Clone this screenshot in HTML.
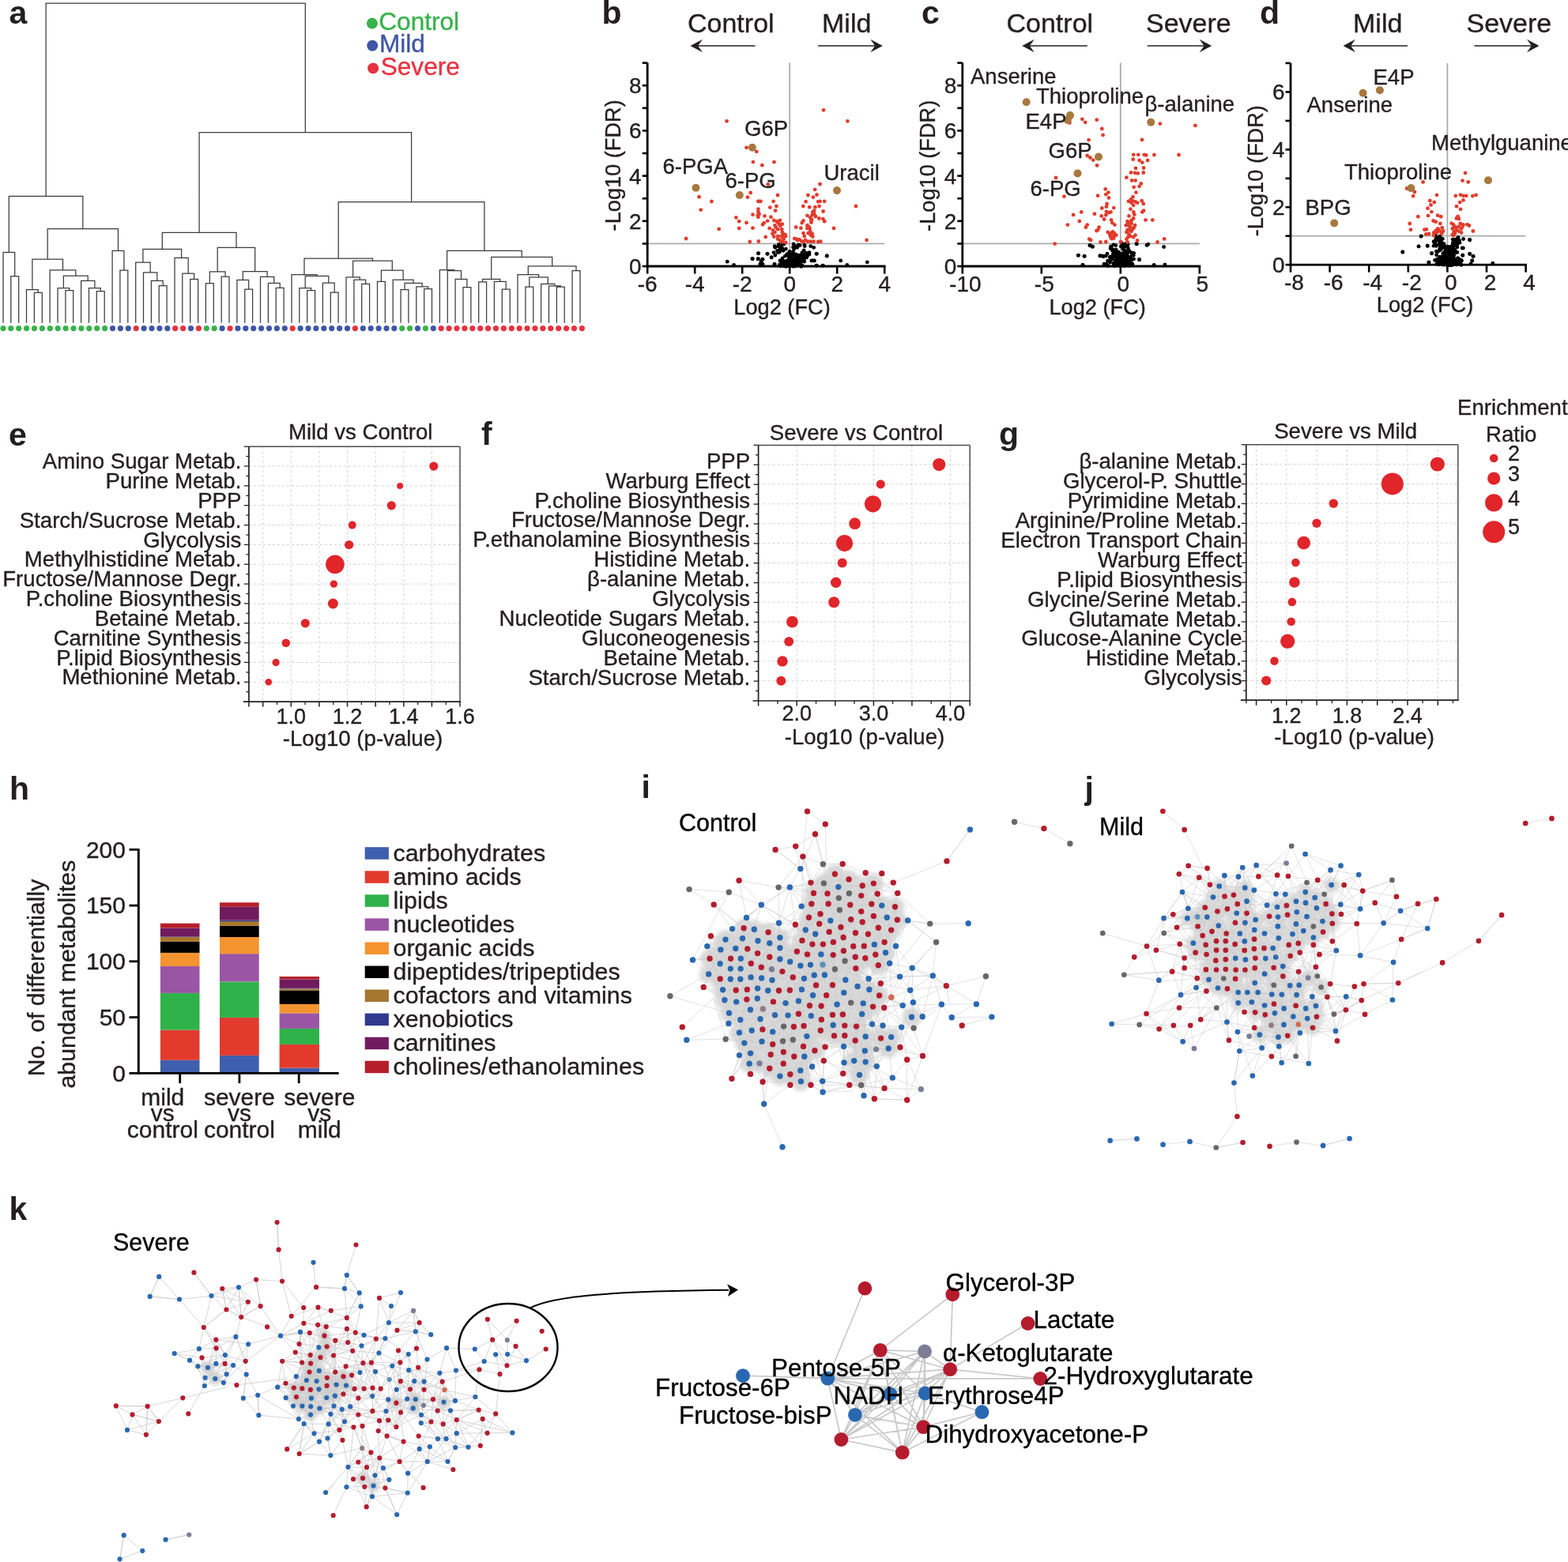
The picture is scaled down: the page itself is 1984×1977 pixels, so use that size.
<!DOCTYPE html>
<html><head><meta charset="utf-8"><title>Figure</title>
<style>html,body{margin:0;padding:0;background:#fff;}svg{display:block;}text{font-family:"Liberation Sans",Arial,sans-serif;}</style>
</head><body>
<svg width="1984" height="1977" viewBox="0 0 1984 1977">
<rect width="1984" height="1977" fill="#fff"/>
<text x="11.5" y="30.2" font-size="41" text-anchor="start" font-weight="bold" fill="#231f20" >a</text>
<path d="M13.8,408.7V349.7H23.7V408.7M4.0,408.7V319.3H18.7V349.7M43.4,408.7V370.4H53.3V408.7M33.5,408.7V366.5H48.3V370.4M82.9,408.7V367.5H92.7V408.7M73.0,408.7V364.7H87.8V367.5M122.3,408.7V368.5H132.2V408.7M112.5,408.7V364.5H127.3V368.5M102.6,408.7V355.4H119.9V364.5M80.4,364.7V349.0H111.2V355.4M63.1,408.7V341.8H95.8V349.0M40.9,366.5V328.2H79.5V341.8M151.9,408.7V342.2H161.8V408.7M142.1,408.7V317.4H156.9V342.2M60.2,328.2V289.7H149.5V317.4M11.3,319.3V248.3H104.8V289.7M201.2,408.7V361.6H211.1V408.7M191.4,408.7V355.4H206.2V361.6M181.5,408.7V344.8H198.8V355.4M171.7,408.7V332.2H190.2V344.8M240.7,408.7V353.4H250.6V408.7M230.8,408.7V346.0H245.6V353.4M221.0,408.7V326.4H238.2V346.0M180.9,332.2V315.4H229.6V326.4M260.4,408.7V358.6H270.3V408.7M280.2,408.7V350.1H290.0V408.7M265.4,358.6V343.8H285.1V350.1M309.8,408.7V366.2H319.6V408.7M299.9,408.7V354.4H314.7V366.2M349.2,408.7V364.3H359.1V408.7M339.4,408.7V358.3H354.2V364.3M329.5,408.7V350.4H346.8V358.3M307.3,354.4V343.5H338.1V350.4M275.2,343.8V313.4H322.7V343.5M205.3,315.4V294.4H299.0V313.4M388.7,408.7V367.7H398.6V408.7M378.8,408.7V364.7H393.6V367.7M418.3,408.7V370.0H428.1V408.7M408.4,408.7V358.1H423.2V370.0M386.2,364.7V349.4H415.8V358.1M369.0,408.7V347.5H401.0V349.4M457.7,408.7V359.3H467.6V408.7M447.9,408.7V354.2H462.7V359.3M438.0,408.7V350.9H455.3V354.2M477.5,408.7V356.4H487.3V408.7M507.1,408.7V366.7H516.9V408.7M536.7,408.7V365.7H546.5V408.7M526.8,408.7V362.8H541.6V365.7M512.0,366.7V358.3H534.2V362.8M497.2,408.7V354.2H523.1V358.3M482.4,356.4V342.0H510.1V354.2M446.6,350.9V330.2H496.3V342.0M385.0,347.5V327.2H471.5V330.2M586.0,408.7V363.5H595.9V408.7M576.1,408.7V353.4H590.9V363.5M566.3,408.7V342.5H583.5V353.4M556.4,408.7V341.5H574.9V342.5M605.7,408.7V356.8H615.6V408.7M635.3,408.7V366.2H645.2V408.7M625.4,408.7V356.4H640.2V366.2M610.6,356.8V353.4H632.8V356.4M664.9,408.7V363.0H674.8V408.7M704.4,408.7V363.1H714.2V408.7M694.5,408.7V361.8H709.3V363.1M684.6,408.7V359.3H701.9V361.8M669.8,363.0V350.9H693.3V359.3M655.0,408.7V347.5H681.6V350.9M724.1,408.7V342.5H734.0V408.7M668.3,347.5V336.8H729.0V342.5M621.7,353.4V325.3H698.7V336.8M565.6,341.5V317.4H660.2V325.3M428.2,327.2V255.6H612.9V317.4M252.1,294.4V167.7H520.6V255.6M58.1,248.3V4.2H386.3V167.7" fill="none" stroke="#3c3c3c" stroke-width="1.25" stroke-linejoin="miter"/>
<circle cx="4.0" cy="415.6" r="3.6" fill="#37b34a"/>
<circle cx="13.8" cy="415.6" r="3.6" fill="#37b34a"/>
<circle cx="23.7" cy="415.6" r="3.6" fill="#37b34a"/>
<circle cx="33.6" cy="415.6" r="3.6" fill="#37b34a"/>
<circle cx="43.5" cy="415.6" r="3.6" fill="#37b34a"/>
<circle cx="53.4" cy="415.6" r="3.6" fill="#37b34a"/>
<circle cx="63.3" cy="415.6" r="3.6" fill="#37b34a"/>
<circle cx="73.2" cy="415.6" r="3.6" fill="#37b34a"/>
<circle cx="83.1" cy="415.6" r="3.6" fill="#37b34a"/>
<circle cx="93.0" cy="415.6" r="3.6" fill="#37b34a"/>
<circle cx="102.9" cy="415.6" r="3.6" fill="#37b34a"/>
<circle cx="112.8" cy="415.6" r="3.6" fill="#37b34a"/>
<circle cx="122.7" cy="415.6" r="3.6" fill="#37b34a"/>
<circle cx="132.6" cy="415.6" r="3.6" fill="#37b34a"/>
<circle cx="142.5" cy="415.6" r="3.6" fill="#3f56a6"/>
<circle cx="152.4" cy="415.6" r="3.6" fill="#3f56a6"/>
<circle cx="162.3" cy="415.6" r="3.6" fill="#3f56a6"/>
<circle cx="172.2" cy="415.6" r="3.6" fill="#e8323f"/>
<circle cx="182.1" cy="415.6" r="3.6" fill="#3f56a6"/>
<circle cx="192.0" cy="415.6" r="3.6" fill="#3f56a6"/>
<circle cx="201.9" cy="415.6" r="3.6" fill="#3f56a6"/>
<circle cx="211.8" cy="415.6" r="3.6" fill="#3f56a6"/>
<circle cx="221.7" cy="415.6" r="3.6" fill="#e8323f"/>
<circle cx="231.6" cy="415.6" r="3.6" fill="#e8323f"/>
<circle cx="241.5" cy="415.6" r="3.6" fill="#3f56a6"/>
<circle cx="251.4" cy="415.6" r="3.6" fill="#e8323f"/>
<circle cx="261.3" cy="415.6" r="3.6" fill="#37b34a"/>
<circle cx="271.2" cy="415.6" r="3.6" fill="#37b34a"/>
<circle cx="281.1" cy="415.6" r="3.6" fill="#3f56a6"/>
<circle cx="291.0" cy="415.6" r="3.6" fill="#e8323f"/>
<circle cx="300.9" cy="415.6" r="3.6" fill="#3f56a6"/>
<circle cx="310.8" cy="415.6" r="3.6" fill="#3f56a6"/>
<circle cx="320.7" cy="415.6" r="3.6" fill="#3f56a6"/>
<circle cx="330.6" cy="415.6" r="3.6" fill="#3f56a6"/>
<circle cx="340.5" cy="415.6" r="3.6" fill="#3f56a6"/>
<circle cx="350.4" cy="415.6" r="3.6" fill="#3f56a6"/>
<circle cx="360.3" cy="415.6" r="3.6" fill="#3f56a6"/>
<circle cx="370.2" cy="415.6" r="3.6" fill="#e8323f"/>
<circle cx="380.1" cy="415.6" r="3.6" fill="#3f56a6"/>
<circle cx="390.0" cy="415.6" r="3.6" fill="#3f56a6"/>
<circle cx="399.9" cy="415.6" r="3.6" fill="#3f56a6"/>
<circle cx="409.8" cy="415.6" r="3.6" fill="#3f56a6"/>
<circle cx="419.7" cy="415.6" r="3.6" fill="#3f56a6"/>
<circle cx="429.6" cy="415.6" r="3.6" fill="#3f56a6"/>
<circle cx="439.5" cy="415.6" r="3.6" fill="#3f56a6"/>
<circle cx="449.4" cy="415.6" r="3.6" fill="#e8323f"/>
<circle cx="459.3" cy="415.6" r="3.6" fill="#3f56a6"/>
<circle cx="469.2" cy="415.6" r="3.6" fill="#3f56a6"/>
<circle cx="479.1" cy="415.6" r="3.6" fill="#3f56a6"/>
<circle cx="489.0" cy="415.6" r="3.6" fill="#3f56a6"/>
<circle cx="498.8" cy="415.6" r="3.6" fill="#3f56a6"/>
<circle cx="508.7" cy="415.6" r="3.6" fill="#37b34a"/>
<circle cx="518.6" cy="415.6" r="3.6" fill="#37b34a"/>
<circle cx="528.5" cy="415.6" r="3.6" fill="#3f56a6"/>
<circle cx="538.4" cy="415.6" r="3.6" fill="#37b34a"/>
<circle cx="548.3" cy="415.6" r="3.6" fill="#3f56a6"/>
<circle cx="558.2" cy="415.6" r="3.6" fill="#e8323f"/>
<circle cx="568.1" cy="415.6" r="3.6" fill="#e8323f"/>
<circle cx="578.0" cy="415.6" r="3.6" fill="#e8323f"/>
<circle cx="587.9" cy="415.6" r="3.6" fill="#e8323f"/>
<circle cx="597.8" cy="415.6" r="3.6" fill="#e8323f"/>
<circle cx="607.7" cy="415.6" r="3.6" fill="#e8323f"/>
<circle cx="617.6" cy="415.6" r="3.6" fill="#e8323f"/>
<circle cx="627.5" cy="415.6" r="3.6" fill="#e8323f"/>
<circle cx="637.4" cy="415.6" r="3.6" fill="#e8323f"/>
<circle cx="647.3" cy="415.6" r="3.6" fill="#e8323f"/>
<circle cx="657.2" cy="415.6" r="3.6" fill="#e8323f"/>
<circle cx="667.1" cy="415.6" r="3.6" fill="#e8323f"/>
<circle cx="677.0" cy="415.6" r="3.6" fill="#e8323f"/>
<circle cx="686.9" cy="415.6" r="3.6" fill="#e8323f"/>
<circle cx="696.8" cy="415.6" r="3.6" fill="#e8323f"/>
<circle cx="706.7" cy="415.6" r="3.6" fill="#e8323f"/>
<circle cx="716.6" cy="415.6" r="3.6" fill="#e8323f"/>
<circle cx="726.5" cy="415.6" r="3.6" fill="#e8323f"/>
<circle cx="736.4" cy="415.6" r="3.6" fill="#e8323f"/>
<circle cx="470.9" cy="29.6" r="7.0" fill="#37b34a"/>
<text x="479.3" y="37.7" font-size="31.6" text-anchor="start" font-weight="normal" fill="#37b34a" stroke="#37b34a" stroke-width="0.35" >Control</text>
<circle cx="471.2" cy="57.8" r="7.0" fill="#3f56a6"/>
<text x="479.9" y="66.2" font-size="31.6" text-anchor="start" font-weight="normal" fill="#3f56a6" stroke="#3f56a6" stroke-width="0.35" >Mild</text>
<circle cx="472.1" cy="86.4" r="7.0" fill="#e8323f"/>
<text x="481.7" y="95.4" font-size="31.6" text-anchor="start" font-weight="normal" fill="#e8323f" stroke="#e8323f" stroke-width="0.35" >Severe</text>
<line x1="999.2" y1="79.6" x2="999.2" y2="337.0" stroke="#ababab" stroke-width="1.8" />
<line x1="819.2" y1="308.4" x2="1119.2" y2="308.4" stroke="#ababab" stroke-width="1.8" />
<circle cx="959.7" cy="320.8" r="2.4" fill="#000"/>
<circle cx="971.1" cy="321.3" r="2.4" fill="#000"/>
<circle cx="952.3" cy="327.6" r="2.4" fill="#000"/>
<circle cx="959.1" cy="327.9" r="2.4" fill="#000"/>
<circle cx="964.8" cy="328.2" r="2.4" fill="#000"/>
<circle cx="963.4" cy="333.3" r="2.4" fill="#000"/>
<circle cx="963.7" cy="335.6" r="2.4" fill="#000"/>
<circle cx="980.2" cy="311.6" r="2.4" fill="#000"/>
<circle cx="980.8" cy="313.3" r="2.4" fill="#000"/>
<circle cx="985.3" cy="309.4" r="2.4" fill="#000"/>
<circle cx="986.4" cy="312.8" r="2.4" fill="#000"/>
<circle cx="989.9" cy="308.8" r="2.4" fill="#000"/>
<circle cx="992.1" cy="308.8" r="2.4" fill="#000"/>
<circle cx="987.0" cy="316.2" r="2.4" fill="#000"/>
<circle cx="986.4" cy="319.0" r="2.4" fill="#000"/>
<circle cx="989.9" cy="314.5" r="2.4" fill="#000"/>
<circle cx="994.4" cy="315.1" r="2.4" fill="#000"/>
<circle cx="979.0" cy="319.6" r="2.4" fill="#000"/>
<circle cx="980.8" cy="323.0" r="2.4" fill="#000"/>
<circle cx="976.2" cy="325.9" r="2.4" fill="#000"/>
<circle cx="980.2" cy="334.4" r="2.4" fill="#000"/>
<circle cx="987.0" cy="329.9" r="2.4" fill="#000"/>
<circle cx="986.4" cy="335.0" r="2.4" fill="#000"/>
<circle cx="987.6" cy="336.7" r="2.4" fill="#000"/>
<circle cx="989.9" cy="327.0" r="2.4" fill="#000"/>
<circle cx="993.3" cy="324.2" r="2.4" fill="#000"/>
<circle cx="995.6" cy="321.9" r="2.4" fill="#000"/>
<circle cx="997.3" cy="320.8" r="2.4" fill="#000"/>
<circle cx="995.6" cy="329.9" r="2.4" fill="#000"/>
<circle cx="998.4" cy="327.0" r="2.4" fill="#000"/>
<circle cx="1001.3" cy="325.3" r="2.4" fill="#000"/>
<circle cx="1000.1" cy="331.0" r="2.4" fill="#000"/>
<circle cx="997.8" cy="334.4" r="2.4" fill="#000"/>
<circle cx="1001.3" cy="335.6" r="2.4" fill="#000"/>
<circle cx="1003.5" cy="333.3" r="2.4" fill="#000"/>
<circle cx="1004.7" cy="329.9" r="2.4" fill="#000"/>
<circle cx="1005.8" cy="326.4" r="2.4" fill="#000"/>
<circle cx="1004.7" cy="321.9" r="2.4" fill="#000"/>
<circle cx="1003.5" cy="318.5" r="2.4" fill="#000"/>
<circle cx="1004.7" cy="315.1" r="2.4" fill="#000"/>
<circle cx="1003.5" cy="312.8" r="2.4" fill="#000"/>
<circle cx="1004.1" cy="308.8" r="2.4" fill="#000"/>
<circle cx="1006.9" cy="311.6" r="2.4" fill="#000"/>
<circle cx="1008.7" cy="313.3" r="2.4" fill="#000"/>
<circle cx="1010.4" cy="309.9" r="2.4" fill="#000"/>
<circle cx="1012.1" cy="310.5" r="2.4" fill="#000"/>
<circle cx="1017.8" cy="309.9" r="2.4" fill="#000"/>
<circle cx="1018.3" cy="311.6" r="2.4" fill="#000"/>
<circle cx="1025.7" cy="311.6" r="2.4" fill="#000"/>
<circle cx="1029.7" cy="313.3" r="2.4" fill="#000"/>
<circle cx="1006.9" cy="321.9" r="2.4" fill="#000"/>
<circle cx="1009.2" cy="323.0" r="2.4" fill="#000"/>
<circle cx="1012.6" cy="323.0" r="2.4" fill="#000"/>
<circle cx="1014.9" cy="319.6" r="2.4" fill="#000"/>
<circle cx="1017.2" cy="316.8" r="2.4" fill="#000"/>
<circle cx="1020.0" cy="320.2" r="2.4" fill="#000"/>
<circle cx="1024.0" cy="319.6" r="2.4" fill="#000"/>
<circle cx="1024.0" cy="321.9" r="2.4" fill="#000"/>
<circle cx="1018.3" cy="324.7" r="2.4" fill="#000"/>
<circle cx="1020.6" cy="325.9" r="2.4" fill="#000"/>
<circle cx="1017.2" cy="328.7" r="2.4" fill="#000"/>
<circle cx="1014.9" cy="329.9" r="2.4" fill="#000"/>
<circle cx="1017.8" cy="331.0" r="2.4" fill="#000"/>
<circle cx="1026.9" cy="329.9" r="2.4" fill="#000"/>
<circle cx="1030.3" cy="329.9" r="2.4" fill="#000"/>
<circle cx="1033.1" cy="321.3" r="2.4" fill="#000"/>
<circle cx="1046.2" cy="324.2" r="2.4" fill="#000"/>
<circle cx="1008.1" cy="331.0" r="2.4" fill="#000"/>
<circle cx="1010.4" cy="333.3" r="2.4" fill="#000"/>
<circle cx="1012.6" cy="335.6" r="2.4" fill="#000"/>
<circle cx="1013.8" cy="337.3" r="2.4" fill="#000"/>
<circle cx="1033.1" cy="336.1" r="2.4" fill="#000"/>
<circle cx="1041.1" cy="336.1" r="2.4" fill="#000"/>
<circle cx="993.3" cy="335.0" r="2.4" fill="#000"/>
<circle cx="996.7" cy="336.7" r="2.4" fill="#000"/>
<circle cx="1006.4" cy="336.7" r="2.4" fill="#000"/>
<circle cx="1004.1" cy="337.3" r="2.4" fill="#000"/>
<circle cx="999.0" cy="318.5" r="2.4" fill="#000"/>
<circle cx="984.7" cy="311.6" r="2.4" fill="#000"/>
<circle cx="988.7" cy="311.6" r="2.4" fill="#000"/>
<circle cx="991.0" cy="317.3" r="2.4" fill="#000"/>
<circle cx="983.6" cy="317.3" r="2.4" fill="#000"/>
<circle cx="984.2" cy="319.6" r="2.4" fill="#000"/>
<circle cx="999.5" cy="321.9" r="2.4" fill="#000"/>
<circle cx="1001.3" cy="321.9" r="2.4" fill="#000"/>
<circle cx="997.8" cy="324.2" r="2.4" fill="#000"/>
<circle cx="1000.1" cy="324.2" r="2.4" fill="#000"/>
<circle cx="1002.4" cy="327.6" r="2.4" fill="#000"/>
<circle cx="999.0" cy="329.9" r="2.4" fill="#000"/>
<circle cx="996.7" cy="332.1" r="2.4" fill="#000"/>
<circle cx="993.3" cy="332.1" r="2.4" fill="#000"/>
<circle cx="991.0" cy="329.9" r="2.4" fill="#000"/>
<circle cx="989.3" cy="332.1" r="2.4" fill="#000"/>
<circle cx="989.9" cy="335.0" r="2.4" fill="#000"/>
<circle cx="1000.1" cy="333.3" r="2.4" fill="#000"/>
<circle cx="1006.9" cy="333.3" r="2.4" fill="#000"/>
<circle cx="1009.2" cy="331.0" r="2.4" fill="#000"/>
<circle cx="1006.9" cy="328.7" r="2.4" fill="#000"/>
<circle cx="1008.1" cy="326.4" r="2.4" fill="#000"/>
<circle cx="1010.4" cy="325.3" r="2.4" fill="#000"/>
<circle cx="1012.6" cy="326.4" r="2.4" fill="#000"/>
<circle cx="1016.1" cy="321.9" r="2.4" fill="#000"/>
<circle cx="1018.3" cy="321.9" r="2.4" fill="#000"/>
<circle cx="1021.8" cy="323.6" r="2.4" fill="#000"/>
<circle cx="1015.5" cy="326.4" r="2.4" fill="#000"/>
<circle cx="1013.8" cy="331.0" r="2.4" fill="#000"/>
<circle cx="1011.5" cy="329.9" r="2.4" fill="#000"/>
<circle cx="1007.5" cy="335.6" r="2.4" fill="#000"/>
<circle cx="1004.7" cy="335.6" r="2.4" fill="#000"/>
<circle cx="1002.4" cy="336.7" r="2.4" fill="#000"/>
<circle cx="1009.8" cy="336.1" r="2.4" fill="#000"/>
<circle cx="1011.5" cy="335.0" r="2.4" fill="#000"/>
<circle cx="1005.8" cy="324.2" r="2.4" fill="#000"/>
<circle cx="1010.4" cy="328.2" r="2.4" fill="#000"/>
<circle cx="1002.4" cy="329.9" r="2.4" fill="#000"/>
<circle cx="994.4" cy="337.3" r="2.4" fill="#000"/>
<circle cx="992.1" cy="336.7" r="2.4" fill="#000"/>
<circle cx="1014.9" cy="335.6" r="2.4" fill="#000"/>
<circle cx="920.2" cy="331.2" r="2.4" fill="#000"/>
<circle cx="928.6" cy="335.5" r="2.4" fill="#000"/>
<circle cx="951.9" cy="327.5" r="2.4" fill="#000"/>
<circle cx="959.4" cy="320.6" r="2.4" fill="#000"/>
<circle cx="959.4" cy="327.5" r="2.4" fill="#000"/>
<circle cx="965.0" cy="328.1" r="2.4" fill="#000"/>
<circle cx="970.9" cy="321.2" r="2.4" fill="#000"/>
<circle cx="976.1" cy="325.6" r="2.4" fill="#000"/>
<circle cx="979.9" cy="334.3" r="2.4" fill="#000"/>
<circle cx="1033.3" cy="321.2" r="2.4" fill="#000"/>
<circle cx="1046.3" cy="323.7" r="2.4" fill="#000"/>
<circle cx="1063.7" cy="329.9" r="2.4" fill="#000"/>
<circle cx="1071.8" cy="335.5" r="2.4" fill="#000"/>
<circle cx="1097.3" cy="331.8" r="2.4" fill="#000"/>
<circle cx="1033.3" cy="336.1" r="2.4" fill="#000"/>
<circle cx="1041.4" cy="336.1" r="2.4" fill="#000"/>
<circle cx="1027.7" cy="329.9" r="2.4" fill="#000"/>
<circle cx="1030.2" cy="329.9" r="2.4" fill="#000"/>
<circle cx="961.9" cy="334.3" r="2.4" fill="#000"/>
<circle cx="965.0" cy="334.3" r="2.4" fill="#000"/>
<circle cx="963.1" cy="331.2" r="2.4" fill="#000"/>
<circle cx="919.6" cy="153.3" r="2.4" fill="#e23b2c"/>
<circle cx="1042.0" cy="139.3" r="2.4" fill="#e23b2c"/>
<circle cx="1072.4" cy="153.3" r="2.4" fill="#e23b2c"/>
<circle cx="944.5" cy="186.8" r="2.4" fill="#e23b2c"/>
<circle cx="957.3" cy="191.8" r="2.4" fill="#e23b2c"/>
<circle cx="952.9" cy="205.1" r="2.4" fill="#e23b2c"/>
<circle cx="964.3" cy="209.2" r="2.4" fill="#e23b2c"/>
<circle cx="979.5" cy="205.1" r="2.4" fill="#e23b2c"/>
<circle cx="971.8" cy="233.3" r="2.4" fill="#e23b2c"/>
<circle cx="949.7" cy="243.9" r="2.4" fill="#e23b2c"/>
<circle cx="946.0" cy="249.6" r="2.4" fill="#e23b2c"/>
<circle cx="884.6" cy="249.2" r="2.4" fill="#e23b2c"/>
<circle cx="900.4" cy="255.0" r="2.4" fill="#e23b2c"/>
<circle cx="886.7" cy="265.6" r="2.4" fill="#e23b2c"/>
<circle cx="984.0" cy="247.0" r="2.4" fill="#e23b2c"/>
<circle cx="1037.6" cy="233.0" r="2.4" fill="#e23b2c"/>
<circle cx="1031.1" cy="239.9" r="2.4" fill="#e23b2c"/>
<circle cx="1033.5" cy="246.5" r="2.4" fill="#e23b2c"/>
<circle cx="1022.4" cy="247.0" r="2.4" fill="#e23b2c"/>
<circle cx="1028.9" cy="249.6" r="2.4" fill="#e23b2c"/>
<circle cx="959.4" cy="254.8" r="2.4" fill="#e23b2c"/>
<circle cx="962.5" cy="254.8" r="2.4" fill="#e23b2c"/>
<circle cx="978.6" cy="254.8" r="2.4" fill="#e23b2c"/>
<circle cx="1019.6" cy="255.2" r="2.4" fill="#e23b2c"/>
<circle cx="1035.2" cy="255.2" r="2.4" fill="#e23b2c"/>
<circle cx="1037.6" cy="254.8" r="2.4" fill="#e23b2c"/>
<circle cx="1043.2" cy="254.8" r="2.4" fill="#e23b2c"/>
<circle cx="974.3" cy="262.6" r="2.4" fill="#e23b2c"/>
<circle cx="982.4" cy="261.0" r="2.4" fill="#e23b2c"/>
<circle cx="981.1" cy="266.6" r="2.4" fill="#e23b2c"/>
<circle cx="1016.3" cy="261.0" r="2.4" fill="#e23b2c"/>
<circle cx="1024.2" cy="262.2" r="2.4" fill="#e23b2c"/>
<circle cx="1031.4" cy="262.2" r="2.4" fill="#e23b2c"/>
<circle cx="1036.6" cy="261.0" r="2.4" fill="#e23b2c"/>
<circle cx="1083.0" cy="261.0" r="2.4" fill="#e23b2c"/>
<circle cx="1041.6" cy="267.5" r="2.4" fill="#e23b2c"/>
<circle cx="959.4" cy="264.7" r="2.4" fill="#e23b2c"/>
<circle cx="959.4" cy="268.4" r="2.4" fill="#e23b2c"/>
<circle cx="952.5" cy="271.6" r="2.4" fill="#e23b2c"/>
<circle cx="967.5" cy="273.4" r="2.4" fill="#e23b2c"/>
<circle cx="975.5" cy="274.7" r="2.4" fill="#e23b2c"/>
<circle cx="959.4" cy="274.7" r="2.4" fill="#e23b2c"/>
<circle cx="931.4" cy="275.3" r="2.4" fill="#e23b2c"/>
<circle cx="1021.5" cy="272.8" r="2.4" fill="#e23b2c"/>
<circle cx="1027.7" cy="272.2" r="2.4" fill="#e23b2c"/>
<circle cx="1030.2" cy="270.3" r="2.4" fill="#e23b2c"/>
<circle cx="1032.0" cy="274.0" r="2.4" fill="#e23b2c"/>
<circle cx="1036.4" cy="276.5" r="2.4" fill="#e23b2c"/>
<circle cx="1041.4" cy="277.1" r="2.4" fill="#e23b2c"/>
<circle cx="1043.2" cy="280.2" r="2.4" fill="#e23b2c"/>
<circle cx="935.2" cy="280.2" r="2.4" fill="#e23b2c"/>
<circle cx="944.5" cy="281.9" r="2.4" fill="#e23b2c"/>
<circle cx="971.2" cy="279.6" r="2.4" fill="#e23b2c"/>
<circle cx="966.8" cy="282.1" r="2.4" fill="#e23b2c"/>
<circle cx="965.0" cy="284.2" r="2.4" fill="#e23b2c"/>
<circle cx="979.3" cy="279.0" r="2.4" fill="#e23b2c"/>
<circle cx="984.2" cy="281.5" r="2.4" fill="#e23b2c"/>
<circle cx="987.0" cy="278.8" r="2.4" fill="#e23b2c"/>
<circle cx="989.8" cy="283.7" r="2.4" fill="#e23b2c"/>
<circle cx="1016.5" cy="279.3" r="2.4" fill="#e23b2c"/>
<circle cx="1014.7" cy="282.1" r="2.4" fill="#e23b2c"/>
<circle cx="1027.1" cy="277.8" r="2.4" fill="#e23b2c"/>
<circle cx="1026.5" cy="281.5" r="2.4" fill="#e23b2c"/>
<circle cx="909.7" cy="289.9" r="2.4" fill="#e23b2c"/>
<circle cx="935.2" cy="288.9" r="2.4" fill="#e23b2c"/>
<circle cx="952.5" cy="288.7" r="2.4" fill="#e23b2c"/>
<circle cx="973.7" cy="288.9" r="2.4" fill="#e23b2c"/>
<circle cx="980.5" cy="285.2" r="2.4" fill="#e23b2c"/>
<circle cx="984.2" cy="290.2" r="2.4" fill="#e23b2c"/>
<circle cx="987.3" cy="285.8" r="2.4" fill="#e23b2c"/>
<circle cx="1007.2" cy="287.5" r="2.4" fill="#e23b2c"/>
<circle cx="1013.4" cy="288.7" r="2.4" fill="#e23b2c"/>
<circle cx="1021.5" cy="288.9" r="2.4" fill="#e23b2c"/>
<circle cx="1024.6" cy="288.9" r="2.4" fill="#e23b2c"/>
<circle cx="1055.0" cy="288.9" r="2.4" fill="#e23b2c"/>
<circle cx="977.4" cy="295.8" r="2.4" fill="#e23b2c"/>
<circle cx="980.5" cy="293.9" r="2.4" fill="#e23b2c"/>
<circle cx="989.8" cy="293.9" r="2.4" fill="#e23b2c"/>
<circle cx="993.5" cy="297.0" r="2.4" fill="#e23b2c"/>
<circle cx="1016.5" cy="295.2" r="2.4" fill="#e23b2c"/>
<circle cx="1022.7" cy="295.2" r="2.4" fill="#e23b2c"/>
<circle cx="1027.7" cy="295.8" r="2.4" fill="#e23b2c"/>
<circle cx="968.7" cy="299.9" r="2.4" fill="#e23b2c"/>
<circle cx="979.3" cy="299.5" r="2.4" fill="#e23b2c"/>
<circle cx="984.2" cy="298.9" r="2.4" fill="#e23b2c"/>
<circle cx="990.4" cy="300.1" r="2.4" fill="#e23b2c"/>
<circle cx="994.2" cy="298.9" r="2.4" fill="#e23b2c"/>
<circle cx="1017.8" cy="298.9" r="2.4" fill="#e23b2c"/>
<circle cx="1028.3" cy="299.5" r="2.4" fill="#e23b2c"/>
<circle cx="868.1" cy="302.0" r="2.4" fill="#e23b2c"/>
<circle cx="948.8" cy="306.0" r="2.4" fill="#e23b2c"/>
<circle cx="959.8" cy="305.5" r="2.4" fill="#e23b2c"/>
<circle cx="986.7" cy="303.9" r="2.4" fill="#e23b2c"/>
<circle cx="991.7" cy="302.6" r="2.4" fill="#e23b2c"/>
<circle cx="994.2" cy="307.0" r="2.4" fill="#e23b2c"/>
<circle cx="1005.3" cy="302.0" r="2.4" fill="#e23b2c"/>
<circle cx="1009.1" cy="303.9" r="2.4" fill="#e23b2c"/>
<circle cx="1011.6" cy="303.2" r="2.4" fill="#e23b2c"/>
<circle cx="1016.5" cy="306.3" r="2.4" fill="#e23b2c"/>
<circle cx="1022.1" cy="305.7" r="2.4" fill="#e23b2c"/>
<circle cx="1025.8" cy="305.7" r="2.4" fill="#e23b2c"/>
<circle cx="1029.6" cy="305.7" r="2.4" fill="#e23b2c"/>
<circle cx="1035.2" cy="306.0" r="2.4" fill="#e23b2c"/>
<circle cx="1038.3" cy="305.7" r="2.4" fill="#e23b2c"/>
<circle cx="1096.6" cy="303.9" r="2.4" fill="#e23b2c"/>
<circle cx="960.6" cy="254.8" r="2.4" fill="#e23b2c"/>
<circle cx="1030.2" cy="266.6" r="2.4" fill="#e23b2c"/>
<circle cx="1028.3" cy="268.4" r="2.4" fill="#e23b2c"/>
<circle cx="1025.2" cy="275.3" r="2.4" fill="#e23b2c"/>
<circle cx="1026.5" cy="279.0" r="2.4" fill="#e23b2c"/>
<circle cx="1021.5" cy="285.2" r="2.4" fill="#e23b2c"/>
<circle cx="1023.4" cy="287.1" r="2.4" fill="#e23b2c"/>
<circle cx="1025.2" cy="292.7" r="2.4" fill="#e23b2c"/>
<circle cx="1025.8" cy="297.6" r="2.4" fill="#e23b2c"/>
<circle cx="983.0" cy="280.2" r="2.4" fill="#e23b2c"/>
<circle cx="986.1" cy="284.0" r="2.4" fill="#e23b2c"/>
<circle cx="981.7" cy="287.7" r="2.4" fill="#e23b2c"/>
<circle cx="978.0" cy="291.4" r="2.4" fill="#e23b2c"/>
<circle cx="989.2" cy="290.2" r="2.4" fill="#e23b2c"/>
<circle cx="991.1" cy="296.4" r="2.4" fill="#e23b2c"/>
<circle cx="988.6" cy="298.9" r="2.4" fill="#e23b2c"/>
<circle cx="984.2" cy="302.6" r="2.4" fill="#e23b2c"/>
<circle cx="988.0" cy="305.1" r="2.4" fill="#e23b2c"/>
<circle cx="990.4" cy="306.3" r="2.4" fill="#e23b2c"/>
<circle cx="1007.8" cy="302.6" r="2.4" fill="#e23b2c"/>
<circle cx="1014.0" cy="305.1" r="2.4" fill="#e23b2c"/>
<circle cx="1019.0" cy="303.9" r="2.4" fill="#e23b2c"/>
<circle cx="958.8" cy="272.8" r="2.4" fill="#e23b2c"/>
<circle cx="960.6" cy="270.9" r="2.4" fill="#e23b2c"/>
<circle cx="951.9" cy="186.8" r="5.0" fill="#a8783e"/>
<circle cx="880.5" cy="237.8" r="5.0" fill="#a8783e"/>
<circle cx="935.8" cy="247.0" r="5.0" fill="#a8783e"/>
<circle cx="1059.0" cy="241.1" r="5.0" fill="#a8783e"/>
<line x1="819.2" y1="79.6" x2="819.2" y2="338.4" stroke="#000" stroke-width="2.8" />
<line x1="817.8" y1="337.0" x2="1120.6" y2="337.0" stroke="#000" stroke-width="2.8" />
<line x1="812.7" y1="337.0" x2="819.2" y2="337.0" stroke="#000" stroke-width="2.6" />
<line x1="812.7" y1="308.4" x2="819.2" y2="308.4" stroke="#000" stroke-width="2.6" />
<line x1="812.7" y1="279.8" x2="819.2" y2="279.8" stroke="#000" stroke-width="2.6" />
<line x1="812.7" y1="251.2" x2="819.2" y2="251.2" stroke="#000" stroke-width="2.6" />
<line x1="812.7" y1="222.6" x2="819.2" y2="222.6" stroke="#000" stroke-width="2.6" />
<line x1="812.7" y1="194.0" x2="819.2" y2="194.0" stroke="#000" stroke-width="2.6" />
<line x1="812.7" y1="165.4" x2="819.2" y2="165.4" stroke="#000" stroke-width="2.6" />
<line x1="812.7" y1="136.8" x2="819.2" y2="136.8" stroke="#000" stroke-width="2.6" />
<line x1="812.7" y1="108.2" x2="819.2" y2="108.2" stroke="#000" stroke-width="2.6" />
<line x1="812.7" y1="79.6" x2="819.2" y2="79.6" stroke="#000" stroke-width="2.6" />
<text x="811.7" y="347.0" font-size="28" text-anchor="end" font-weight="normal" fill="#231f20" stroke="#231f20" stroke-width="0.35" >0</text>
<text x="811.7" y="289.8" font-size="28" text-anchor="end" font-weight="normal" fill="#231f20" stroke="#231f20" stroke-width="0.35" >2</text>
<text x="811.7" y="232.6" font-size="28" text-anchor="end" font-weight="normal" fill="#231f20" stroke="#231f20" stroke-width="0.35" >4</text>
<text x="811.7" y="175.4" font-size="28" text-anchor="end" font-weight="normal" fill="#231f20" stroke="#231f20" stroke-width="0.35" >6</text>
<text x="811.7" y="118.2" font-size="28" text-anchor="end" font-weight="normal" fill="#231f20" stroke="#231f20" stroke-width="0.35" >8</text>
<line x1="819.2" y1="337.0" x2="819.2" y2="346.5" stroke="#000" stroke-width="2.6" />
<text x="819.2" y="368.5" font-size="28" text-anchor="middle" font-weight="normal" fill="#231f20" stroke="#231f20" stroke-width="0.35" >-6</text>
<line x1="879.2" y1="337.0" x2="879.2" y2="346.5" stroke="#000" stroke-width="2.6" />
<text x="879.2" y="368.5" font-size="28" text-anchor="middle" font-weight="normal" fill="#231f20" stroke="#231f20" stroke-width="0.35" >-4</text>
<line x1="939.2" y1="337.0" x2="939.2" y2="346.5" stroke="#000" stroke-width="2.6" />
<text x="939.2" y="368.5" font-size="28" text-anchor="middle" font-weight="normal" fill="#231f20" stroke="#231f20" stroke-width="0.35" >-2</text>
<line x1="999.2" y1="337.0" x2="999.2" y2="346.5" stroke="#000" stroke-width="2.6" />
<text x="999.2" y="368.5" font-size="28" text-anchor="middle" font-weight="normal" fill="#231f20" stroke="#231f20" stroke-width="0.35" >0</text>
<line x1="1059.2" y1="337.0" x2="1059.2" y2="346.5" stroke="#000" stroke-width="2.6" />
<text x="1059.2" y="368.5" font-size="28" text-anchor="middle" font-weight="normal" fill="#231f20" stroke="#231f20" stroke-width="0.35" >2</text>
<line x1="1119.2" y1="337.0" x2="1119.2" y2="346.5" stroke="#000" stroke-width="2.6" />
<text x="1119.2" y="368.5" font-size="28" text-anchor="middle" font-weight="normal" fill="#231f20" stroke="#231f20" stroke-width="0.35" >4</text>
<text x="942.0" y="172.3" font-size="27.5" text-anchor="start" font-weight="normal" fill="#231f20" stroke="#231f20" stroke-width="0.35" >G6P</text>
<text x="838.5" y="219.6" font-size="27.5" text-anchor="start" font-weight="normal" fill="#231f20" stroke="#231f20" stroke-width="0.35" >6-PGA</text>
<text x="917.5" y="237.6" font-size="27.5" text-anchor="start" font-weight="normal" fill="#231f20" stroke="#231f20" stroke-width="0.35" >6-PG</text>
<text x="1042.5" y="228.4" font-size="27.5" text-anchor="start" font-weight="normal" fill="#231f20" stroke="#231f20" stroke-width="0.35" >Uracil</text>
<text x="870.0" y="40.9" font-size="34" text-anchor="start" font-weight="normal" fill="#231f20" stroke="#231f20" stroke-width="0.35" >Control</text>
<text x="1040.0" y="40.9" font-size="34" text-anchor="start" font-weight="normal" fill="#231f20" stroke="#231f20" stroke-width="0.35" >Mild</text>
<line x1="955.5" y1="58.0" x2="879.5" y2="58.0" stroke="#231f20" stroke-width="1.7" />
<path d="M873.5,58.0L889.0,49.8L883.1,58.0L889.0,66.2Z" fill="#231f20"/>
<line x1="1035.2" y1="58.0" x2="1110.8" y2="58.0" stroke="#231f20" stroke-width="1.7" />
<path d="M1116.8,58.0L1101.3,49.8L1107.2,58.0L1101.3,66.2Z" fill="#231f20"/>
<text x="761.5" y="29.8" font-size="41" text-anchor="start" font-weight="bold" fill="#231f20" >b</text>
<text x="785.0" y="209.3" font-size="27.2" text-anchor="middle" font-weight="normal" fill="#231f20" stroke="#231f20" stroke-width="0.35" transform="rotate(-90 785.0 209.3)">-Log10 (FDR)</text>
<text x="989.5" y="397.5" font-size="27.2" text-anchor="middle" font-weight="normal" fill="#231f20" stroke="#231f20" stroke-width="0.35" >Log2 (FC)</text>
<line x1="1417.8" y1="79.6" x2="1417.8" y2="337.0" stroke="#ababab" stroke-width="1.8" />
<line x1="1217.8" y1="308.4" x2="1517.8" y2="308.4" stroke="#ababab" stroke-width="1.8" />
<circle cx="1423.0" cy="333.1" r="2.4" fill="#000"/>
<circle cx="1416.9" cy="333.5" r="2.4" fill="#000"/>
<circle cx="1417.6" cy="324.3" r="2.4" fill="#000"/>
<circle cx="1422.4" cy="321.9" r="2.4" fill="#000"/>
<circle cx="1421.1" cy="322.9" r="2.4" fill="#000"/>
<circle cx="1420.6" cy="331.3" r="2.4" fill="#000"/>
<circle cx="1405.2" cy="314.6" r="2.4" fill="#000"/>
<circle cx="1412.6" cy="325.2" r="2.4" fill="#000"/>
<circle cx="1421.5" cy="330.3" r="2.4" fill="#000"/>
<circle cx="1423.1" cy="335.8" r="2.4" fill="#000"/>
<circle cx="1421.5" cy="328.0" r="2.4" fill="#000"/>
<circle cx="1414.3" cy="331.3" r="2.4" fill="#000"/>
<circle cx="1405.8" cy="314.0" r="2.4" fill="#000"/>
<circle cx="1425.9" cy="325.0" r="2.4" fill="#000"/>
<circle cx="1420.2" cy="332.2" r="2.4" fill="#000"/>
<circle cx="1430.0" cy="331.0" r="2.4" fill="#000"/>
<circle cx="1422.1" cy="326.2" r="2.4" fill="#000"/>
<circle cx="1415.1" cy="324.1" r="2.4" fill="#000"/>
<circle cx="1431.8" cy="329.3" r="2.4" fill="#000"/>
<circle cx="1414.0" cy="333.4" r="2.4" fill="#000"/>
<circle cx="1415.2" cy="322.2" r="2.4" fill="#000"/>
<circle cx="1410.8" cy="321.5" r="2.4" fill="#000"/>
<circle cx="1434.6" cy="327.8" r="2.4" fill="#000"/>
<circle cx="1424.4" cy="326.4" r="2.4" fill="#000"/>
<circle cx="1415.0" cy="336.1" r="2.4" fill="#000"/>
<circle cx="1419.4" cy="332.8" r="2.4" fill="#000"/>
<circle cx="1408.3" cy="325.5" r="2.4" fill="#000"/>
<circle cx="1426.8" cy="312.5" r="2.4" fill="#000"/>
<circle cx="1412.1" cy="324.6" r="2.4" fill="#000"/>
<circle cx="1428.8" cy="329.5" r="2.4" fill="#000"/>
<circle cx="1409.0" cy="309.8" r="2.4" fill="#000"/>
<circle cx="1412.9" cy="335.1" r="2.4" fill="#000"/>
<circle cx="1414.0" cy="319.0" r="2.4" fill="#000"/>
<circle cx="1423.2" cy="316.8" r="2.4" fill="#000"/>
<circle cx="1414.8" cy="327.3" r="2.4" fill="#000"/>
<circle cx="1416.7" cy="325.0" r="2.4" fill="#000"/>
<circle cx="1413.7" cy="324.7" r="2.4" fill="#000"/>
<circle cx="1425.2" cy="334.3" r="2.4" fill="#000"/>
<circle cx="1411.8" cy="335.5" r="2.4" fill="#000"/>
<circle cx="1414.9" cy="323.2" r="2.4" fill="#000"/>
<circle cx="1425.7" cy="329.8" r="2.4" fill="#000"/>
<circle cx="1423.2" cy="335.2" r="2.4" fill="#000"/>
<circle cx="1423.2" cy="321.4" r="2.4" fill="#000"/>
<circle cx="1404.4" cy="326.1" r="2.4" fill="#000"/>
<circle cx="1412.6" cy="331.2" r="2.4" fill="#000"/>
<circle cx="1422.3" cy="335.8" r="2.4" fill="#000"/>
<circle cx="1428.1" cy="325.3" r="2.4" fill="#000"/>
<circle cx="1405.8" cy="311.8" r="2.4" fill="#000"/>
<circle cx="1413.0" cy="334.6" r="2.4" fill="#000"/>
<circle cx="1404.4" cy="330.3" r="2.4" fill="#000"/>
<circle cx="1416.0" cy="323.3" r="2.4" fill="#000"/>
<circle cx="1411.0" cy="321.8" r="2.4" fill="#000"/>
<circle cx="1434.2" cy="323.2" r="2.4" fill="#000"/>
<circle cx="1422.0" cy="327.1" r="2.4" fill="#000"/>
<circle cx="1423.0" cy="310.2" r="2.4" fill="#000"/>
<circle cx="1424.5" cy="324.6" r="2.4" fill="#000"/>
<circle cx="1422.0" cy="329.5" r="2.4" fill="#000"/>
<circle cx="1418.5" cy="322.4" r="2.4" fill="#000"/>
<circle cx="1425.6" cy="322.8" r="2.4" fill="#000"/>
<circle cx="1425.0" cy="322.9" r="2.4" fill="#000"/>
<circle cx="1420.7" cy="313.3" r="2.4" fill="#000"/>
<circle cx="1422.6" cy="329.2" r="2.4" fill="#000"/>
<circle cx="1415.2" cy="328.4" r="2.4" fill="#000"/>
<circle cx="1429.5" cy="326.2" r="2.4" fill="#000"/>
<circle cx="1427.5" cy="318.7" r="2.4" fill="#000"/>
<circle cx="1416.1" cy="335.8" r="2.4" fill="#000"/>
<circle cx="1424.7" cy="335.9" r="2.4" fill="#000"/>
<circle cx="1417.9" cy="329.3" r="2.4" fill="#000"/>
<circle cx="1418.4" cy="311.9" r="2.4" fill="#000"/>
<circle cx="1426.6" cy="326.5" r="2.4" fill="#000"/>
<circle cx="1420.8" cy="320.6" r="2.4" fill="#000"/>
<circle cx="1421.4" cy="310.6" r="2.4" fill="#000"/>
<circle cx="1425.0" cy="332.9" r="2.4" fill="#000"/>
<circle cx="1420.8" cy="329.8" r="2.4" fill="#000"/>
<circle cx="1408.7" cy="320.3" r="2.4" fill="#000"/>
<circle cx="1409.3" cy="336.1" r="2.4" fill="#000"/>
<circle cx="1419.5" cy="321.4" r="2.4" fill="#000"/>
<circle cx="1419.7" cy="327.8" r="2.4" fill="#000"/>
<circle cx="1420.9" cy="323.2" r="2.4" fill="#000"/>
<circle cx="1407.2" cy="328.2" r="2.4" fill="#000"/>
<circle cx="1432.3" cy="335.5" r="2.4" fill="#000"/>
<circle cx="1414.4" cy="334.9" r="2.4" fill="#000"/>
<circle cx="1413.9" cy="335.0" r="2.4" fill="#000"/>
<circle cx="1423.5" cy="329.1" r="2.4" fill="#000"/>
<circle cx="1407.5" cy="316.9" r="2.4" fill="#000"/>
<circle cx="1419.4" cy="307.7" r="2.4" fill="#000"/>
<circle cx="1424.0" cy="333.5" r="2.4" fill="#000"/>
<circle cx="1408.1" cy="316.4" r="2.4" fill="#000"/>
<circle cx="1412.1" cy="328.4" r="2.4" fill="#000"/>
<circle cx="1408.3" cy="323.0" r="2.4" fill="#000"/>
<circle cx="1424.8" cy="319.9" r="2.4" fill="#000"/>
<circle cx="1412.3" cy="317.2" r="2.4" fill="#000"/>
<circle cx="1410.8" cy="336.4" r="2.4" fill="#000"/>
<circle cx="1431.0" cy="326.4" r="2.4" fill="#000"/>
<circle cx="1430.8" cy="324.8" r="2.4" fill="#000"/>
<circle cx="1417.9" cy="323.5" r="2.4" fill="#000"/>
<circle cx="1411.7" cy="310.6" r="2.4" fill="#000"/>
<circle cx="1429.0" cy="318.0" r="2.4" fill="#000"/>
<circle cx="1408.7" cy="333.4" r="2.4" fill="#000"/>
<circle cx="1411.6" cy="332.3" r="2.4" fill="#000"/>
<circle cx="1404.4" cy="325.1" r="2.4" fill="#000"/>
<circle cx="1424.4" cy="331.5" r="2.4" fill="#000"/>
<circle cx="1432.4" cy="322.7" r="2.4" fill="#000"/>
<circle cx="1418.7" cy="333.3" r="2.4" fill="#000"/>
<circle cx="1419.2" cy="330.4" r="2.4" fill="#000"/>
<circle cx="1424.1" cy="329.3" r="2.4" fill="#000"/>
<circle cx="1420.5" cy="335.7" r="2.4" fill="#000"/>
<circle cx="1421.2" cy="334.2" r="2.4" fill="#000"/>
<circle cx="1419.8" cy="321.4" r="2.4" fill="#000"/>
<circle cx="1405.7" cy="324.9" r="2.4" fill="#000"/>
<circle cx="1430.5" cy="329.6" r="2.4" fill="#000"/>
<circle cx="1428.0" cy="328.4" r="2.4" fill="#000"/>
<circle cx="1422.8" cy="324.9" r="2.4" fill="#000"/>
<circle cx="1426.3" cy="322.0" r="2.4" fill="#000"/>
<circle cx="1405.3" cy="312.7" r="2.4" fill="#000"/>
<circle cx="1410.0" cy="320.6" r="2.4" fill="#000"/>
<circle cx="1411.2" cy="318.9" r="2.4" fill="#000"/>
<circle cx="1422.5" cy="332.2" r="2.4" fill="#000"/>
<circle cx="1416.7" cy="331.6" r="2.4" fill="#000"/>
<circle cx="1423.5" cy="318.1" r="2.4" fill="#000"/>
<circle cx="1417.6" cy="321.7" r="2.4" fill="#000"/>
<circle cx="1404.4" cy="331.9" r="2.4" fill="#000"/>
<circle cx="1420.9" cy="328.4" r="2.4" fill="#000"/>
<circle cx="1420.1" cy="330.7" r="2.4" fill="#000"/>
<circle cx="1419.7" cy="333.5" r="2.4" fill="#000"/>
<circle cx="1417.6" cy="332.7" r="2.4" fill="#000"/>
<circle cx="1434.6" cy="320.3" r="2.4" fill="#000"/>
<circle cx="1416.2" cy="329.6" r="2.4" fill="#000"/>
<circle cx="1427.9" cy="333.8" r="2.4" fill="#000"/>
<circle cx="1411.0" cy="330.9" r="2.4" fill="#000"/>
<circle cx="1428.2" cy="336.2" r="2.4" fill="#000"/>
<circle cx="1407.3" cy="315.1" r="2.4" fill="#000"/>
<circle cx="1423.7" cy="312.0" r="2.4" fill="#000"/>
<circle cx="1425.0" cy="323.5" r="2.4" fill="#000"/>
<circle cx="1424.2" cy="326.7" r="2.4" fill="#000"/>
<circle cx="1429.1" cy="332.2" r="2.4" fill="#000"/>
<circle cx="1422.6" cy="327.8" r="2.4" fill="#000"/>
<circle cx="1427.1" cy="309.2" r="2.4" fill="#000"/>
<circle cx="1431.2" cy="319.6" r="2.4" fill="#000"/>
<circle cx="1418.2" cy="327.4" r="2.4" fill="#000"/>
<circle cx="1417.0" cy="323.8" r="2.4" fill="#000"/>
<circle cx="1421.0" cy="315.5" r="2.4" fill="#000"/>
<circle cx="1425.9" cy="329.1" r="2.4" fill="#000"/>
<circle cx="1418.6" cy="324.6" r="2.4" fill="#000"/>
<circle cx="1425.3" cy="332.6" r="2.4" fill="#000"/>
<circle cx="1417.8" cy="336.0" r="2.4" fill="#000"/>
<circle cx="1416.6" cy="323.1" r="2.4" fill="#000"/>
<circle cx="1420.0" cy="324.8" r="2.4" fill="#000"/>
<circle cx="1413.0" cy="325.3" r="2.4" fill="#000"/>
<circle cx="1427.7" cy="315.0" r="2.4" fill="#000"/>
<circle cx="1418.6" cy="330.4" r="2.4" fill="#000"/>
<circle cx="1421.3" cy="336.1" r="2.4" fill="#000"/>
<circle cx="1413.4" cy="334.6" r="2.4" fill="#000"/>
<circle cx="1424.9" cy="327.0" r="2.4" fill="#000"/>
<circle cx="1412.0" cy="315.9" r="2.4" fill="#000"/>
<circle cx="1423.4" cy="336.0" r="2.4" fill="#000"/>
<circle cx="1414.5" cy="321.6" r="2.4" fill="#000"/>
<circle cx="1416.2" cy="334.7" r="2.4" fill="#000"/>
<circle cx="1423.2" cy="317.7" r="2.4" fill="#000"/>
<circle cx="1420.5" cy="331.9" r="2.4" fill="#000"/>
<circle cx="1415.3" cy="319.2" r="2.4" fill="#000"/>
<circle cx="1416.3" cy="334.7" r="2.4" fill="#000"/>
<circle cx="1417.1" cy="333.4" r="2.4" fill="#000"/>
<circle cx="1413.0" cy="327.1" r="2.4" fill="#000"/>
<circle cx="1427.2" cy="327.6" r="2.4" fill="#000"/>
<circle cx="1416.6" cy="327.2" r="2.4" fill="#000"/>
<circle cx="1425.8" cy="325.4" r="2.4" fill="#000"/>
<circle cx="1422.8" cy="336.0" r="2.4" fill="#000"/>
<circle cx="1421.2" cy="334.2" r="2.4" fill="#000"/>
<circle cx="1425.3" cy="333.1" r="2.4" fill="#000"/>
<circle cx="1378.8" cy="310.5" r="2.4" fill="#000"/>
<circle cx="1382.2" cy="312.0" r="2.4" fill="#000"/>
<circle cx="1364.3" cy="323.3" r="2.4" fill="#000"/>
<circle cx="1372.2" cy="324.2" r="2.4" fill="#000"/>
<circle cx="1370.0" cy="335.3" r="2.4" fill="#000"/>
<circle cx="1391.9" cy="323.9" r="2.4" fill="#000"/>
<circle cx="1396.4" cy="324.5" r="2.4" fill="#000"/>
<circle cx="1401.0" cy="321.1" r="2.4" fill="#000"/>
<circle cx="1401.6" cy="330.2" r="2.4" fill="#000"/>
<circle cx="1397.0" cy="334.2" r="2.4" fill="#000"/>
<circle cx="1402.4" cy="336.4" r="2.4" fill="#000"/>
<circle cx="1438.0" cy="308.5" r="2.4" fill="#000"/>
<circle cx="1451.1" cy="310.3" r="2.4" fill="#000"/>
<circle cx="1452.8" cy="309.1" r="2.4" fill="#000"/>
<circle cx="1441.4" cy="328.5" r="2.4" fill="#000"/>
<circle cx="1434.0" cy="320.8" r="2.4" fill="#000"/>
<circle cx="1459.9" cy="335.9" r="2.4" fill="#000"/>
<circle cx="1432.9" cy="334.2" r="2.4" fill="#000"/>
<circle cx="1424.4" cy="308.5" r="2.4" fill="#000"/>
<circle cx="1394.2" cy="323.9" r="2.4" fill="#000"/>
<circle cx="1399.3" cy="323.9" r="2.4" fill="#000"/>
<circle cx="1399.9" cy="334.2" r="2.4" fill="#000"/>
<circle cx="1364.5" cy="323.1" r="2.4" fill="#000"/>
<circle cx="1372.0" cy="324.3" r="2.4" fill="#000"/>
<circle cx="1379.4" cy="310.7" r="2.4" fill="#000"/>
<circle cx="1382.5" cy="312.3" r="2.4" fill="#000"/>
<circle cx="1438.4" cy="308.8" r="2.4" fill="#000"/>
<circle cx="1451.5" cy="310.1" r="2.4" fill="#000"/>
<circle cx="1472.6" cy="312.5" r="2.4" fill="#000"/>
<circle cx="1434.1" cy="320.6" r="2.4" fill="#000"/>
<circle cx="1441.6" cy="328.7" r="2.4" fill="#000"/>
<circle cx="1460.2" cy="335.5" r="2.4" fill="#000"/>
<circle cx="1473.9" cy="334.9" r="2.4" fill="#000"/>
<circle cx="1370.1" cy="335.5" r="2.4" fill="#000"/>
<circle cx="1391.9" cy="323.7" r="2.4" fill="#000"/>
<circle cx="1395.6" cy="324.3" r="2.4" fill="#000"/>
<circle cx="1353.4" cy="155.4" r="2.4" fill="#e23b2c"/>
<circle cx="1369.3" cy="150.8" r="2.4" fill="#e23b2c"/>
<circle cx="1373.2" cy="154.8" r="2.4" fill="#e23b2c"/>
<circle cx="1387.8" cy="151.7" r="2.4" fill="#e23b2c"/>
<circle cx="1394.3" cy="162.9" r="2.4" fill="#e23b2c"/>
<circle cx="1395.6" cy="170.9" r="2.4" fill="#e23b2c"/>
<circle cx="1377.6" cy="177.1" r="2.4" fill="#e23b2c"/>
<circle cx="1445.0" cy="176.9" r="2.4" fill="#e23b2c"/>
<circle cx="1467.9" cy="156.6" r="2.4" fill="#e23b2c"/>
<circle cx="1512.4" cy="158.9" r="2.4" fill="#e23b2c"/>
<circle cx="1375.7" cy="197.0" r="2.4" fill="#e23b2c"/>
<circle cx="1379.4" cy="199.5" r="2.4" fill="#e23b2c"/>
<circle cx="1383.2" cy="202.6" r="2.4" fill="#e23b2c"/>
<circle cx="1388.1" cy="209.4" r="2.4" fill="#e23b2c"/>
<circle cx="1434.3" cy="195.8" r="2.4" fill="#e23b2c"/>
<circle cx="1440.3" cy="195.8" r="2.4" fill="#e23b2c"/>
<circle cx="1447.8" cy="195.8" r="2.4" fill="#e23b2c"/>
<circle cx="1450.2" cy="196.4" r="2.4" fill="#e23b2c"/>
<circle cx="1460.4" cy="196.0" r="2.4" fill="#e23b2c"/>
<circle cx="1491.5" cy="196.0" r="2.4" fill="#e23b2c"/>
<circle cx="1433.7" cy="201.7" r="2.4" fill="#e23b2c"/>
<circle cx="1441.6" cy="203.0" r="2.4" fill="#e23b2c"/>
<circle cx="1445.3" cy="205.7" r="2.4" fill="#e23b2c"/>
<circle cx="1452.1" cy="203.0" r="2.4" fill="#e23b2c"/>
<circle cx="1437.0" cy="212.9" r="2.4" fill="#e23b2c"/>
<circle cx="1447.1" cy="212.5" r="2.4" fill="#e23b2c"/>
<circle cx="1431.0" cy="218.4" r="2.4" fill="#e23b2c"/>
<circle cx="1436.0" cy="218.8" r="2.4" fill="#e23b2c"/>
<circle cx="1439.7" cy="219.4" r="2.4" fill="#e23b2c"/>
<circle cx="1446.8" cy="218.5" r="2.4" fill="#e23b2c"/>
<circle cx="1425.4" cy="224.7" r="2.4" fill="#e23b2c"/>
<circle cx="1432.2" cy="228.4" r="2.4" fill="#e23b2c"/>
<circle cx="1436.6" cy="228.4" r="2.4" fill="#e23b2c"/>
<circle cx="1443.8" cy="232.4" r="2.4" fill="#e23b2c"/>
<circle cx="1441.6" cy="235.8" r="2.4" fill="#e23b2c"/>
<circle cx="1434.7" cy="236.8" r="2.4" fill="#e23b2c"/>
<circle cx="1437.5" cy="243.6" r="2.4" fill="#e23b2c"/>
<circle cx="1336.0" cy="225.0" r="2.4" fill="#e23b2c"/>
<circle cx="1346.5" cy="248.6" r="2.4" fill="#e23b2c"/>
<circle cx="1398.7" cy="239.3" r="2.4" fill="#e23b2c"/>
<circle cx="1402.4" cy="243.6" r="2.4" fill="#e23b2c"/>
<circle cx="1399.3" cy="246.1" r="2.4" fill="#e23b2c"/>
<circle cx="1403.0" cy="250.4" r="2.4" fill="#e23b2c"/>
<circle cx="1389.1" cy="247.7" r="2.4" fill="#e23b2c"/>
<circle cx="1433.5" cy="249.2" r="2.4" fill="#e23b2c"/>
<circle cx="1431.0" cy="252.3" r="2.4" fill="#e23b2c"/>
<circle cx="1427.9" cy="254.8" r="2.4" fill="#e23b2c"/>
<circle cx="1432.9" cy="254.2" r="2.4" fill="#e23b2c"/>
<circle cx="1439.1" cy="256.6" r="2.4" fill="#e23b2c"/>
<circle cx="1444.7" cy="254.2" r="2.4" fill="#e23b2c"/>
<circle cx="1446.8" cy="257.9" r="2.4" fill="#e23b2c"/>
<circle cx="1434.1" cy="259.8" r="2.4" fill="#e23b2c"/>
<circle cx="1430.4" cy="264.7" r="2.4" fill="#e23b2c"/>
<circle cx="1400.6" cy="257.9" r="2.4" fill="#e23b2c"/>
<circle cx="1399.9" cy="261.6" r="2.4" fill="#e23b2c"/>
<circle cx="1394.3" cy="263.5" r="2.4" fill="#e23b2c"/>
<circle cx="1409.3" cy="263.1" r="2.4" fill="#e23b2c"/>
<circle cx="1399.9" cy="267.8" r="2.4" fill="#e23b2c"/>
<circle cx="1403.0" cy="269.1" r="2.4" fill="#e23b2c"/>
<circle cx="1405.5" cy="268.4" r="2.4" fill="#e23b2c"/>
<circle cx="1385.0" cy="270.7" r="2.4" fill="#e23b2c"/>
<circle cx="1368.3" cy="268.4" r="2.4" fill="#e23b2c"/>
<circle cx="1358.1" cy="271.9" r="2.4" fill="#e23b2c"/>
<circle cx="1393.7" cy="273.4" r="2.4" fill="#e23b2c"/>
<circle cx="1399.3" cy="272.2" r="2.4" fill="#e23b2c"/>
<circle cx="1434.3" cy="268.4" r="2.4" fill="#e23b2c"/>
<circle cx="1435.3" cy="271.6" r="2.4" fill="#e23b2c"/>
<circle cx="1428.5" cy="273.4" r="2.4" fill="#e23b2c"/>
<circle cx="1434.1" cy="276.5" r="2.4" fill="#e23b2c"/>
<circle cx="1447.1" cy="266.6" r="2.4" fill="#e23b2c"/>
<circle cx="1445.3" cy="268.4" r="2.4" fill="#e23b2c"/>
<circle cx="1397.1" cy="277.5" r="2.4" fill="#e23b2c"/>
<circle cx="1406.1" cy="278.4" r="2.4" fill="#e23b2c"/>
<circle cx="1407.4" cy="282.1" r="2.4" fill="#e23b2c"/>
<circle cx="1410.5" cy="284.6" r="2.4" fill="#e23b2c"/>
<circle cx="1365.8" cy="280.0" r="2.4" fill="#e23b2c"/>
<circle cx="1350.9" cy="284.6" r="2.4" fill="#e23b2c"/>
<circle cx="1375.7" cy="284.6" r="2.4" fill="#e23b2c"/>
<circle cx="1373.9" cy="287.7" r="2.4" fill="#e23b2c"/>
<circle cx="1390.6" cy="287.7" r="2.4" fill="#e23b2c"/>
<circle cx="1389.4" cy="290.8" r="2.4" fill="#e23b2c"/>
<circle cx="1387.5" cy="292.0" r="2.4" fill="#e23b2c"/>
<circle cx="1426.6" cy="280.2" r="2.4" fill="#e23b2c"/>
<circle cx="1426.6" cy="284.0" r="2.4" fill="#e23b2c"/>
<circle cx="1431.6" cy="282.7" r="2.4" fill="#e23b2c"/>
<circle cx="1436.0" cy="285.2" r="2.4" fill="#e23b2c"/>
<circle cx="1430.4" cy="287.7" r="2.4" fill="#e23b2c"/>
<circle cx="1434.7" cy="288.3" r="2.4" fill="#e23b2c"/>
<circle cx="1426.6" cy="290.8" r="2.4" fill="#e23b2c"/>
<circle cx="1431.6" cy="292.7" r="2.4" fill="#e23b2c"/>
<circle cx="1428.5" cy="296.4" r="2.4" fill="#e23b2c"/>
<circle cx="1436.6" cy="297.6" r="2.4" fill="#e23b2c"/>
<circle cx="1449.6" cy="278.4" r="2.4" fill="#e23b2c"/>
<circle cx="1458.3" cy="278.4" r="2.4" fill="#e23b2c"/>
<circle cx="1401.8" cy="293.9" r="2.4" fill="#e23b2c"/>
<circle cx="1408.0" cy="293.3" r="2.4" fill="#e23b2c"/>
<circle cx="1404.3" cy="297.6" r="2.4" fill="#e23b2c"/>
<circle cx="1409.3" cy="298.9" r="2.4" fill="#e23b2c"/>
<circle cx="1412.4" cy="297.6" r="2.4" fill="#e23b2c"/>
<circle cx="1406.8" cy="302.0" r="2.4" fill="#e23b2c"/>
<circle cx="1378.2" cy="302.6" r="2.4" fill="#e23b2c"/>
<circle cx="1380.1" cy="303.9" r="2.4" fill="#e23b2c"/>
<circle cx="1392.5" cy="306.3" r="2.4" fill="#e23b2c"/>
<circle cx="1399.3" cy="306.0" r="2.4" fill="#e23b2c"/>
<circle cx="1418.0" cy="306.0" r="2.4" fill="#e23b2c"/>
<circle cx="1425.4" cy="302.6" r="2.4" fill="#e23b2c"/>
<circle cx="1426.6" cy="306.3" r="2.4" fill="#e23b2c"/>
<circle cx="1439.1" cy="304.5" r="2.4" fill="#e23b2c"/>
<circle cx="1464.5" cy="306.3" r="2.4" fill="#e23b2c"/>
<circle cx="1473.2" cy="302.4" r="2.4" fill="#e23b2c"/>
<circle cx="1334.7" cy="308.6" r="2.4" fill="#e23b2c"/>
<circle cx="1429.1" cy="281.5" r="2.4" fill="#e23b2c"/>
<circle cx="1429.1" cy="286.5" r="2.4" fill="#e23b2c"/>
<circle cx="1432.9" cy="290.2" r="2.4" fill="#e23b2c"/>
<circle cx="1425.4" cy="293.9" r="2.4" fill="#e23b2c"/>
<circle cx="1430.4" cy="298.9" r="2.4" fill="#e23b2c"/>
<circle cx="1434.1" cy="300.1" r="2.4" fill="#e23b2c"/>
<circle cx="1427.3" cy="300.1" r="2.4" fill="#e23b2c"/>
<circle cx="1405.5" cy="295.2" r="2.4" fill="#e23b2c"/>
<circle cx="1409.9" cy="295.2" r="2.4" fill="#e23b2c"/>
<circle cx="1407.4" cy="298.9" r="2.4" fill="#e23b2c"/>
<circle cx="1405.5" cy="300.7" r="2.4" fill="#e23b2c"/>
<circle cx="1409.3" cy="301.4" r="2.4" fill="#e23b2c"/>
<circle cx="1431.6" cy="256.6" r="2.4" fill="#e23b2c"/>
<circle cx="1436.6" cy="255.4" r="2.4" fill="#e23b2c"/>
<circle cx="1429.1" cy="291.4" r="2.4" fill="#e23b2c"/>
<circle cx="1424.8" cy="285.2" r="2.4" fill="#e23b2c"/>
<circle cx="1431.6" cy="279.0" r="2.4" fill="#e23b2c"/>
<circle cx="1298.7" cy="129.3" r="5.0" fill="#a8783e"/>
<circle cx="1354.0" cy="146.1" r="5.0" fill="#a8783e"/>
<circle cx="1350.9" cy="152.0" r="5.0" fill="#a8783e"/>
<circle cx="1390.0" cy="198.5" r="5.0" fill="#a8783e"/>
<circle cx="1363.5" cy="219.4" r="5.0" fill="#a8783e"/>
<circle cx="1456.2" cy="154.8" r="5.0" fill="#a8783e"/>
<line x1="1217.8" y1="79.6" x2="1217.8" y2="338.4" stroke="#000" stroke-width="2.8" />
<line x1="1216.4" y1="337.0" x2="1519.2" y2="337.0" stroke="#000" stroke-width="2.8" />
<line x1="1211.3" y1="337.0" x2="1217.8" y2="337.0" stroke="#000" stroke-width="2.6" />
<line x1="1211.3" y1="308.4" x2="1217.8" y2="308.4" stroke="#000" stroke-width="2.6" />
<line x1="1211.3" y1="279.8" x2="1217.8" y2="279.8" stroke="#000" stroke-width="2.6" />
<line x1="1211.3" y1="251.2" x2="1217.8" y2="251.2" stroke="#000" stroke-width="2.6" />
<line x1="1211.3" y1="222.6" x2="1217.8" y2="222.6" stroke="#000" stroke-width="2.6" />
<line x1="1211.3" y1="194.0" x2="1217.8" y2="194.0" stroke="#000" stroke-width="2.6" />
<line x1="1211.3" y1="165.4" x2="1217.8" y2="165.4" stroke="#000" stroke-width="2.6" />
<line x1="1211.3" y1="136.8" x2="1217.8" y2="136.8" stroke="#000" stroke-width="2.6" />
<line x1="1211.3" y1="108.2" x2="1217.8" y2="108.2" stroke="#000" stroke-width="2.6" />
<line x1="1211.3" y1="79.6" x2="1217.8" y2="79.6" stroke="#000" stroke-width="2.6" />
<text x="1210.3" y="347.0" font-size="28" text-anchor="end" font-weight="normal" fill="#231f20" stroke="#231f20" stroke-width="0.35" >0</text>
<text x="1210.3" y="289.8" font-size="28" text-anchor="end" font-weight="normal" fill="#231f20" stroke="#231f20" stroke-width="0.35" >2</text>
<text x="1210.3" y="232.6" font-size="28" text-anchor="end" font-weight="normal" fill="#231f20" stroke="#231f20" stroke-width="0.35" >4</text>
<text x="1210.3" y="175.4" font-size="28" text-anchor="end" font-weight="normal" fill="#231f20" stroke="#231f20" stroke-width="0.35" >6</text>
<text x="1210.3" y="118.2" font-size="28" text-anchor="end" font-weight="normal" fill="#231f20" stroke="#231f20" stroke-width="0.35" >8</text>
<line x1="1217.8" y1="337.0" x2="1217.8" y2="346.5" stroke="#000" stroke-width="2.6" />
<text x="1221.3" y="368.5" font-size="28" text-anchor="middle" font-weight="normal" fill="#231f20" stroke="#231f20" stroke-width="0.35" >-10</text>
<line x1="1317.8" y1="337.0" x2="1317.8" y2="346.5" stroke="#000" stroke-width="2.6" />
<text x="1321.3" y="368.5" font-size="28" text-anchor="middle" font-weight="normal" fill="#231f20" stroke="#231f20" stroke-width="0.35" >-5</text>
<line x1="1417.8" y1="337.0" x2="1417.8" y2="346.5" stroke="#000" stroke-width="2.6" />
<text x="1421.3" y="368.5" font-size="28" text-anchor="middle" font-weight="normal" fill="#231f20" stroke="#231f20" stroke-width="0.35" >0</text>
<line x1="1517.8" y1="337.0" x2="1517.8" y2="346.5" stroke="#000" stroke-width="2.6" />
<text x="1521.3" y="368.5" font-size="28" text-anchor="middle" font-weight="normal" fill="#231f20" stroke="#231f20" stroke-width="0.35" >5</text>
<text x="1228.0" y="105.5" font-size="27.5" text-anchor="start" font-weight="normal" fill="#231f20" stroke="#231f20" stroke-width="0.35" >Anserine</text>
<text x="1311.0" y="131.2" font-size="27.5" text-anchor="start" font-weight="normal" fill="#231f20" stroke="#231f20" stroke-width="0.35" >Thioproline</text>
<text x="1448.5" y="141.2" font-size="27.5" text-anchor="start" font-weight="normal" fill="#231f20" stroke="#231f20" stroke-width="0.35" >β-alanine</text>
<text x="1297.5" y="162.6" font-size="27.5" text-anchor="start" font-weight="normal" fill="#231f20" stroke="#231f20" stroke-width="0.35" >E4P</text>
<text x="1326.5" y="199.6" font-size="27.5" text-anchor="start" font-weight="normal" fill="#231f20" stroke="#231f20" stroke-width="0.35" >G6P</text>
<text x="1303.5" y="248.3" font-size="27.5" text-anchor="start" font-weight="normal" fill="#231f20" stroke="#231f20" stroke-width="0.35" >6-PG</text>
<text x="1273.5" y="40.9" font-size="34" text-anchor="start" font-weight="normal" fill="#231f20" stroke="#231f20" stroke-width="0.35" >Control</text>
<text x="1450.0" y="40.9" font-size="34" text-anchor="start" font-weight="normal" fill="#231f20" stroke="#231f20" stroke-width="0.35" >Severe</text>
<line x1="1375.8" y1="58.0" x2="1299.3" y2="58.0" stroke="#231f20" stroke-width="1.7" />
<path d="M1293.3,58.0L1308.8,49.8L1302.9,58.0L1308.8,66.2Z" fill="#231f20"/>
<line x1="1451.8" y1="58.0" x2="1527.2" y2="58.0" stroke="#231f20" stroke-width="1.7" />
<path d="M1533.2,58.0L1517.7,49.8L1523.6,58.0L1517.7,66.2Z" fill="#231f20"/>
<text x="1166.0" y="29.8" font-size="41" text-anchor="start" font-weight="bold" fill="#231f20" >c</text>
<text x="1183.5" y="209.8" font-size="27.2" text-anchor="middle" font-weight="normal" fill="#231f20" stroke="#231f20" stroke-width="0.35" transform="rotate(-90 1183.5 209.8)">-Log10 (FDR)</text>
<text x="1388.7" y="397.5" font-size="27.2" text-anchor="middle" font-weight="normal" fill="#231f20" stroke="#231f20" stroke-width="0.35" >Log2 (FC)</text>
<line x1="1831.4" y1="79.9" x2="1831.4" y2="335.1" stroke="#ababab" stroke-width="1.8" />
<line x1="1633.0" y1="298.7" x2="1930.6" y2="298.7" stroke="#ababab" stroke-width="1.8" />
<circle cx="1835.0" cy="325.1" r="2.4" fill="#000"/>
<circle cx="1829.4" cy="327.1" r="2.4" fill="#000"/>
<circle cx="1832.2" cy="324.2" r="2.4" fill="#000"/>
<circle cx="1839.5" cy="331.5" r="2.4" fill="#000"/>
<circle cx="1824.5" cy="325.2" r="2.4" fill="#000"/>
<circle cx="1835.6" cy="329.5" r="2.4" fill="#000"/>
<circle cx="1838.8" cy="322.5" r="2.4" fill="#000"/>
<circle cx="1830.9" cy="334.7" r="2.4" fill="#000"/>
<circle cx="1830.8" cy="328.5" r="2.4" fill="#000"/>
<circle cx="1830.2" cy="331.8" r="2.4" fill="#000"/>
<circle cx="1833.4" cy="325.1" r="2.4" fill="#000"/>
<circle cx="1834.1" cy="330.4" r="2.4" fill="#000"/>
<circle cx="1834.2" cy="335.5" r="2.4" fill="#000"/>
<circle cx="1834.2" cy="326.6" r="2.4" fill="#000"/>
<circle cx="1826.3" cy="329.9" r="2.4" fill="#000"/>
<circle cx="1827.0" cy="329.2" r="2.4" fill="#000"/>
<circle cx="1826.7" cy="330.6" r="2.4" fill="#000"/>
<circle cx="1849.2" cy="330.3" r="2.4" fill="#000"/>
<circle cx="1832.3" cy="319.2" r="2.4" fill="#000"/>
<circle cx="1827.4" cy="333.6" r="2.4" fill="#000"/>
<circle cx="1837.8" cy="334.7" r="2.4" fill="#000"/>
<circle cx="1837.2" cy="322.4" r="2.4" fill="#000"/>
<circle cx="1839.7" cy="322.2" r="2.4" fill="#000"/>
<circle cx="1843.0" cy="319.3" r="2.4" fill="#000"/>
<circle cx="1832.5" cy="335.4" r="2.4" fill="#000"/>
<circle cx="1846.0" cy="330.9" r="2.4" fill="#000"/>
<circle cx="1835.9" cy="323.2" r="2.4" fill="#000"/>
<circle cx="1836.6" cy="324.8" r="2.4" fill="#000"/>
<circle cx="1827.8" cy="334.4" r="2.4" fill="#000"/>
<circle cx="1835.6" cy="329.0" r="2.4" fill="#000"/>
<circle cx="1830.3" cy="321.5" r="2.4" fill="#000"/>
<circle cx="1835.8" cy="330.8" r="2.4" fill="#000"/>
<circle cx="1833.9" cy="333.1" r="2.4" fill="#000"/>
<circle cx="1828.9" cy="334.0" r="2.4" fill="#000"/>
<circle cx="1830.2" cy="326.9" r="2.4" fill="#000"/>
<circle cx="1842.1" cy="330.5" r="2.4" fill="#000"/>
<circle cx="1839.2" cy="327.2" r="2.4" fill="#000"/>
<circle cx="1837.0" cy="328.9" r="2.4" fill="#000"/>
<circle cx="1837.5" cy="334.0" r="2.4" fill="#000"/>
<circle cx="1830.6" cy="320.4" r="2.4" fill="#000"/>
<circle cx="1844.9" cy="329.6" r="2.4" fill="#000"/>
<circle cx="1838.7" cy="333.5" r="2.4" fill="#000"/>
<circle cx="1825.5" cy="328.1" r="2.4" fill="#000"/>
<circle cx="1843.8" cy="319.4" r="2.4" fill="#000"/>
<circle cx="1843.4" cy="334.8" r="2.4" fill="#000"/>
<circle cx="1837.3" cy="332.1" r="2.4" fill="#000"/>
<circle cx="1833.9" cy="332.2" r="2.4" fill="#000"/>
<circle cx="1830.3" cy="330.0" r="2.4" fill="#000"/>
<circle cx="1829.1" cy="328.9" r="2.4" fill="#000"/>
<circle cx="1837.2" cy="325.0" r="2.4" fill="#000"/>
<circle cx="1827.0" cy="320.3" r="2.4" fill="#000"/>
<circle cx="1835.9" cy="333.5" r="2.4" fill="#000"/>
<circle cx="1826.4" cy="322.3" r="2.4" fill="#000"/>
<circle cx="1836.7" cy="335.5" r="2.4" fill="#000"/>
<circle cx="1817.8" cy="334.2" r="2.4" fill="#000"/>
<circle cx="1847.1" cy="328.7" r="2.4" fill="#000"/>
<circle cx="1826.9" cy="327.0" r="2.4" fill="#000"/>
<circle cx="1834.0" cy="332.0" r="2.4" fill="#000"/>
<circle cx="1836.5" cy="319.9" r="2.4" fill="#000"/>
<circle cx="1828.0" cy="333.7" r="2.4" fill="#000"/>
<circle cx="1825.1" cy="330.4" r="2.4" fill="#000"/>
<circle cx="1836.4" cy="334.1" r="2.4" fill="#000"/>
<circle cx="1830.3" cy="335.0" r="2.4" fill="#000"/>
<circle cx="1840.6" cy="334.1" r="2.4" fill="#000"/>
<circle cx="1825.7" cy="328.5" r="2.4" fill="#000"/>
<circle cx="1846.4" cy="332.0" r="2.4" fill="#000"/>
<circle cx="1833.7" cy="335.1" r="2.4" fill="#000"/>
<circle cx="1839.4" cy="334.4" r="2.4" fill="#000"/>
<circle cx="1834.1" cy="330.6" r="2.4" fill="#000"/>
<circle cx="1838.6" cy="328.0" r="2.4" fill="#000"/>
<circle cx="1837.0" cy="330.1" r="2.4" fill="#000"/>
<circle cx="1821.5" cy="317.0" r="2.4" fill="#000"/>
<circle cx="1824.6" cy="328.3" r="2.4" fill="#000"/>
<circle cx="1830.9" cy="331.5" r="2.4" fill="#000"/>
<circle cx="1832.9" cy="334.0" r="2.4" fill="#000"/>
<circle cx="1827.4" cy="324.3" r="2.4" fill="#000"/>
<circle cx="1832.3" cy="333.8" r="2.4" fill="#000"/>
<circle cx="1827.2" cy="329.1" r="2.4" fill="#000"/>
<circle cx="1827.2" cy="334.6" r="2.4" fill="#000"/>
<circle cx="1832.6" cy="332.2" r="2.4" fill="#000"/>
<circle cx="1829.7" cy="322.2" r="2.4" fill="#000"/>
<circle cx="1826.6" cy="324.3" r="2.4" fill="#000"/>
<circle cx="1822.0" cy="331.2" r="2.4" fill="#000"/>
<circle cx="1829.7" cy="328.7" r="2.4" fill="#000"/>
<circle cx="1820.3" cy="328.3" r="2.4" fill="#000"/>
<circle cx="1827.9" cy="329.4" r="2.4" fill="#000"/>
<circle cx="1820.5" cy="331.3" r="2.4" fill="#000"/>
<circle cx="1828.8" cy="324.8" r="2.4" fill="#000"/>
<circle cx="1838.2" cy="327.2" r="2.4" fill="#000"/>
<circle cx="1831.0" cy="332.9" r="2.4" fill="#000"/>
<circle cx="1817.4" cy="318.2" r="2.4" fill="#000"/>
<circle cx="1825.7" cy="325.5" r="2.4" fill="#000"/>
<circle cx="1839.2" cy="324.9" r="2.4" fill="#000"/>
<circle cx="1829.4" cy="327.5" r="2.4" fill="#000"/>
<circle cx="1830.4" cy="333.7" r="2.4" fill="#000"/>
<circle cx="1831.1" cy="335.6" r="2.4" fill="#000"/>
<circle cx="1828.4" cy="327.7" r="2.4" fill="#000"/>
<circle cx="1842.3" cy="333.9" r="2.4" fill="#000"/>
<circle cx="1832.8" cy="323.8" r="2.4" fill="#000"/>
<circle cx="1830.3" cy="329.8" r="2.4" fill="#000"/>
<circle cx="1833.0" cy="328.3" r="2.4" fill="#000"/>
<circle cx="1828.8" cy="333.1" r="2.4" fill="#000"/>
<circle cx="1844.6" cy="326.6" r="2.4" fill="#000"/>
<circle cx="1826.9" cy="330.6" r="2.4" fill="#000"/>
<circle cx="1829.1" cy="329.6" r="2.4" fill="#000"/>
<circle cx="1829.0" cy="332.7" r="2.4" fill="#000"/>
<circle cx="1837.4" cy="321.5" r="2.4" fill="#000"/>
<circle cx="1826.0" cy="320.5" r="2.4" fill="#000"/>
<circle cx="1838.1" cy="327.1" r="2.4" fill="#000"/>
<circle cx="1835.7" cy="333.7" r="2.4" fill="#000"/>
<circle cx="1832.9" cy="319.3" r="2.4" fill="#000"/>
<circle cx="1824.6" cy="327.7" r="2.4" fill="#000"/>
<circle cx="1831.1" cy="329.0" r="2.4" fill="#000"/>
<circle cx="1838.6" cy="331.0" r="2.4" fill="#000"/>
<circle cx="1836.9" cy="334.6" r="2.4" fill="#000"/>
<circle cx="1837.2" cy="325.3" r="2.4" fill="#000"/>
<circle cx="1832.9" cy="328.1" r="2.4" fill="#000"/>
<circle cx="1817.6" cy="322.7" r="2.4" fill="#000"/>
<circle cx="1833.4" cy="332.3" r="2.4" fill="#000"/>
<circle cx="1835.1" cy="318.5" r="2.4" fill="#000"/>
<circle cx="1835.2" cy="322.6" r="2.4" fill="#000"/>
<circle cx="1830.3" cy="328.9" r="2.4" fill="#000"/>
<circle cx="1831.5" cy="335.1" r="2.4" fill="#000"/>
<circle cx="1837.8" cy="329.4" r="2.4" fill="#000"/>
<circle cx="1834.5" cy="319.7" r="2.4" fill="#000"/>
<circle cx="1836.1" cy="335.2" r="2.4" fill="#000"/>
<circle cx="1835.2" cy="324.0" r="2.4" fill="#000"/>
<circle cx="1835.6" cy="324.2" r="2.4" fill="#000"/>
<circle cx="1823.2" cy="326.8" r="2.4" fill="#000"/>
<circle cx="1830.2" cy="323.0" r="2.4" fill="#000"/>
<circle cx="1839.4" cy="332.5" r="2.4" fill="#000"/>
<circle cx="1833.5" cy="335.0" r="2.4" fill="#000"/>
<circle cx="1834.4" cy="322.2" r="2.4" fill="#000"/>
<circle cx="1837.2" cy="332.6" r="2.4" fill="#000"/>
<circle cx="1840.6" cy="328.1" r="2.4" fill="#000"/>
<circle cx="1831.5" cy="323.9" r="2.4" fill="#000"/>
<circle cx="1826.4" cy="335.2" r="2.4" fill="#000"/>
<circle cx="1819.5" cy="330.7" r="2.4" fill="#000"/>
<circle cx="1840.2" cy="318.6" r="2.4" fill="#000"/>
<circle cx="1829.4" cy="334.8" r="2.4" fill="#000"/>
<circle cx="1835.2" cy="324.1" r="2.4" fill="#000"/>
<circle cx="1829.4" cy="328.5" r="2.4" fill="#000"/>
<circle cx="1827.2" cy="319.6" r="2.4" fill="#000"/>
<circle cx="1818.2" cy="329.6" r="2.4" fill="#000"/>
<circle cx="1834.7" cy="323.5" r="2.4" fill="#000"/>
<circle cx="1842.3" cy="331.7" r="2.4" fill="#000"/>
<circle cx="1824.5" cy="330.5" r="2.4" fill="#000"/>
<circle cx="1828.4" cy="334.4" r="2.4" fill="#000"/>
<circle cx="1822.3" cy="316.2" r="2.4" fill="#000"/>
<circle cx="1831.5" cy="325.1" r="2.4" fill="#000"/>
<circle cx="1827.3" cy="333.7" r="2.4" fill="#000"/>
<circle cx="1826.0" cy="321.4" r="2.4" fill="#000"/>
<circle cx="1834.8" cy="333.5" r="2.4" fill="#000"/>
<circle cx="1835.5" cy="325.5" r="2.4" fill="#000"/>
<circle cx="1825.4" cy="334.4" r="2.4" fill="#000"/>
<circle cx="1834.7" cy="320.3" r="2.4" fill="#000"/>
<circle cx="1837.0" cy="321.5" r="2.4" fill="#000"/>
<circle cx="1837.6" cy="332.0" r="2.4" fill="#000"/>
<circle cx="1829.3" cy="334.4" r="2.4" fill="#000"/>
<circle cx="1838.7" cy="329.4" r="2.4" fill="#000"/>
<circle cx="1820.8" cy="332.9" r="2.4" fill="#000"/>
<circle cx="1818.6" cy="327.9" r="2.4" fill="#000"/>
<circle cx="1833.4" cy="316.8" r="2.4" fill="#000"/>
<circle cx="1840.2" cy="333.7" r="2.4" fill="#000"/>
<circle cx="1842.4" cy="332.1" r="2.4" fill="#000"/>
<circle cx="1826.8" cy="328.9" r="2.4" fill="#000"/>
<circle cx="1826.0" cy="329.5" r="2.4" fill="#000"/>
<circle cx="1838.3" cy="332.4" r="2.4" fill="#000"/>
<circle cx="1821.5" cy="325.2" r="2.4" fill="#000"/>
<circle cx="1844.4" cy="331.2" r="2.4" fill="#000"/>
<circle cx="1831.1" cy="325.4" r="2.4" fill="#000"/>
<circle cx="1830.8" cy="330.4" r="2.4" fill="#000"/>
<circle cx="1831.0" cy="325.7" r="2.4" fill="#000"/>
<circle cx="1831.7" cy="334.0" r="2.4" fill="#000"/>
<circle cx="1831.2" cy="325.5" r="2.4" fill="#000"/>
<circle cx="1839.2" cy="323.1" r="2.4" fill="#000"/>
<circle cx="1829.8" cy="326.4" r="2.4" fill="#000"/>
<circle cx="1830.5" cy="334.4" r="2.4" fill="#000"/>
<circle cx="1831.1" cy="327.0" r="2.4" fill="#000"/>
<circle cx="1828.8" cy="316.9" r="2.4" fill="#000"/>
<circle cx="1839.7" cy="334.4" r="2.4" fill="#000"/>
<circle cx="1837.4" cy="329.2" r="2.4" fill="#000"/>
<circle cx="1820.3" cy="328.2" r="2.4" fill="#000"/>
<circle cx="1833.4" cy="328.2" r="2.4" fill="#000"/>
<circle cx="1840.8" cy="331.3" r="2.4" fill="#000"/>
<circle cx="1831.1" cy="331.5" r="2.4" fill="#000"/>
<circle cx="1831.3" cy="335.2" r="2.4" fill="#000"/>
<circle cx="1836.9" cy="333.4" r="2.4" fill="#000"/>
<circle cx="1827.5" cy="332.7" r="2.4" fill="#000"/>
<circle cx="1839.5" cy="328.3" r="2.4" fill="#000"/>
<circle cx="1838.9" cy="324.6" r="2.4" fill="#000"/>
<circle cx="1837.9" cy="328.2" r="2.4" fill="#000"/>
<circle cx="1836.8" cy="335.5" r="2.4" fill="#000"/>
<circle cx="1831.4" cy="326.6" r="2.4" fill="#000"/>
<circle cx="1837.2" cy="329.3" r="2.4" fill="#000"/>
<circle cx="1832.0" cy="330.6" r="2.4" fill="#000"/>
<circle cx="1841.1" cy="332.1" r="2.4" fill="#000"/>
<circle cx="1826.8" cy="328.8" r="2.4" fill="#000"/>
<circle cx="1825.7" cy="328.6" r="2.4" fill="#000"/>
<circle cx="1829.1" cy="331.7" r="2.4" fill="#000"/>
<circle cx="1821.2" cy="334.7" r="2.4" fill="#000"/>
<circle cx="1829.5" cy="329.5" r="2.4" fill="#000"/>
<circle cx="1845.7" cy="327.9" r="2.4" fill="#000"/>
<circle cx="1849.2" cy="329.5" r="2.4" fill="#000"/>
<circle cx="1830.5" cy="332.1" r="2.4" fill="#000"/>
<circle cx="1842.7" cy="334.6" r="2.4" fill="#000"/>
<circle cx="1835.5" cy="335.3" r="2.4" fill="#000"/>
<circle cx="1826.9" cy="331.1" r="2.4" fill="#000"/>
<circle cx="1829.5" cy="334.5" r="2.4" fill="#000"/>
<circle cx="1838.1" cy="324.9" r="2.4" fill="#000"/>
<circle cx="1833.1" cy="329.9" r="2.4" fill="#000"/>
<circle cx="1820.1" cy="327.8" r="2.4" fill="#000"/>
<circle cx="1832.0" cy="331.4" r="2.4" fill="#000"/>
<circle cx="1832.3" cy="321.2" r="2.4" fill="#000"/>
<circle cx="1832.5" cy="322.6" r="2.4" fill="#000"/>
<circle cx="1834.9" cy="334.3" r="2.4" fill="#000"/>
<circle cx="1833.7" cy="333.7" r="2.4" fill="#000"/>
<circle cx="1830.2" cy="325.8" r="2.4" fill="#000"/>
<circle cx="1831.2" cy="331.2" r="2.4" fill="#000"/>
<circle cx="1836.5" cy="333.3" r="2.4" fill="#000"/>
<circle cx="1831.3" cy="312.2" r="2.4" fill="#000"/>
<circle cx="1851.6" cy="302.5" r="2.4" fill="#000"/>
<circle cx="1822.0" cy="304.9" r="2.4" fill="#000"/>
<circle cx="1838.9" cy="307.0" r="2.4" fill="#000"/>
<circle cx="1827.1" cy="308.7" r="2.4" fill="#000"/>
<circle cx="1838.4" cy="314.6" r="2.4" fill="#000"/>
<circle cx="1823.0" cy="311.3" r="2.4" fill="#000"/>
<circle cx="1844.5" cy="302.3" r="2.4" fill="#000"/>
<circle cx="1827.2" cy="311.2" r="2.4" fill="#000"/>
<circle cx="1835.3" cy="312.4" r="2.4" fill="#000"/>
<circle cx="1815.8" cy="308.3" r="2.4" fill="#000"/>
<circle cx="1837.4" cy="315.6" r="2.4" fill="#000"/>
<circle cx="1825.3" cy="308.3" r="2.4" fill="#000"/>
<circle cx="1846.5" cy="304.4" r="2.4" fill="#000"/>
<circle cx="1824.5" cy="307.6" r="2.4" fill="#000"/>
<circle cx="1842.1" cy="305.6" r="2.4" fill="#000"/>
<circle cx="1820.2" cy="304.2" r="2.4" fill="#000"/>
<circle cx="1840.5" cy="303.8" r="2.4" fill="#000"/>
<circle cx="1823.1" cy="301.7" r="2.4" fill="#000"/>
<circle cx="1841.2" cy="303.5" r="2.4" fill="#000"/>
<circle cx="1814.0" cy="311.2" r="2.4" fill="#000"/>
<circle cx="1838.3" cy="307.6" r="2.4" fill="#000"/>
<circle cx="1830.3" cy="315.0" r="2.4" fill="#000"/>
<circle cx="1838.4" cy="312.9" r="2.4" fill="#000"/>
<circle cx="1818.6" cy="300.7" r="2.4" fill="#000"/>
<circle cx="1845.7" cy="304.3" r="2.4" fill="#000"/>
<circle cx="1815.9" cy="307.4" r="2.4" fill="#000"/>
<circle cx="1844.1" cy="308.7" r="2.4" fill="#000"/>
<circle cx="1828.2" cy="312.8" r="2.4" fill="#000"/>
<circle cx="1843.9" cy="312.7" r="2.4" fill="#000"/>
<circle cx="1817.3" cy="301.3" r="2.4" fill="#000"/>
<circle cx="1840.6" cy="307.3" r="2.4" fill="#000"/>
<circle cx="1823.7" cy="315.0" r="2.4" fill="#000"/>
<circle cx="1838.7" cy="310.1" r="2.4" fill="#000"/>
<circle cx="1821.7" cy="308.9" r="2.4" fill="#000"/>
<circle cx="1838.6" cy="311.3" r="2.4" fill="#000"/>
<circle cx="1821.1" cy="302.8" r="2.4" fill="#000"/>
<circle cx="1834.1" cy="313.7" r="2.4" fill="#000"/>
<circle cx="1831.8" cy="312.2" r="2.4" fill="#000"/>
<circle cx="1841.1" cy="316.1" r="2.4" fill="#000"/>
<circle cx="1814.6" cy="306.2" r="2.4" fill="#000"/>
<circle cx="1838.1" cy="303.1" r="2.4" fill="#000"/>
<circle cx="1817.3" cy="311.3" r="2.4" fill="#000"/>
<circle cx="1836.6" cy="312.3" r="2.4" fill="#000"/>
<circle cx="1821.6" cy="309.1" r="2.4" fill="#000"/>
<circle cx="1845.0" cy="300.4" r="2.4" fill="#000"/>
<circle cx="1820.2" cy="304.5" r="2.4" fill="#000"/>
<circle cx="1841.6" cy="303.1" r="2.4" fill="#000"/>
<circle cx="1816.1" cy="310.4" r="2.4" fill="#000"/>
<circle cx="1835.8" cy="313.8" r="2.4" fill="#000"/>
<circle cx="1821.9" cy="298.9" r="2.4" fill="#000"/>
<circle cx="1838.5" cy="310.5" r="2.4" fill="#000"/>
<circle cx="1820.7" cy="309.1" r="2.4" fill="#000"/>
<circle cx="1839.7" cy="308.9" r="2.4" fill="#000"/>
<circle cx="1825.3" cy="302.3" r="2.4" fill="#000"/>
<circle cx="1837.8" cy="313.8" r="2.4" fill="#000"/>
<circle cx="1816.7" cy="303.9" r="2.4" fill="#000"/>
<circle cx="1844.8" cy="301.2" r="2.4" fill="#000"/>
<circle cx="1816.7" cy="298.4" r="2.4" fill="#000"/>
<circle cx="1837.6" cy="310.9" r="2.4" fill="#000"/>
<circle cx="1817.0" cy="304.0" r="2.4" fill="#000"/>
<circle cx="1838.5" cy="313.4" r="2.4" fill="#000"/>
<circle cx="1822.0" cy="310.2" r="2.4" fill="#000"/>
<circle cx="1842.7" cy="303.6" r="2.4" fill="#000"/>
<circle cx="1822.6" cy="313.4" r="2.4" fill="#000"/>
<circle cx="1834.1" cy="317.1" r="2.4" fill="#000"/>
<circle cx="1826.9" cy="310.1" r="2.4" fill="#000"/>
<circle cx="1847.0" cy="307.2" r="2.4" fill="#000"/>
<circle cx="1820.9" cy="300.8" r="2.4" fill="#000"/>
<circle cx="1840.5" cy="306.3" r="2.4" fill="#000"/>
<circle cx="1826.4" cy="311.8" r="2.4" fill="#000"/>
<circle cx="1841.2" cy="310.8" r="2.4" fill="#000"/>
<circle cx="1823.6" cy="309.4" r="2.4" fill="#000"/>
<circle cx="1842.7" cy="303.7" r="2.4" fill="#000"/>
<circle cx="1823.8" cy="306.1" r="2.4" fill="#000"/>
<circle cx="1845.7" cy="307.1" r="2.4" fill="#000"/>
<circle cx="1821.8" cy="314.6" r="2.4" fill="#000"/>
<circle cx="1842.3" cy="305.9" r="2.4" fill="#000"/>
<circle cx="1827.8" cy="313.3" r="2.4" fill="#000"/>
<circle cx="1841.1" cy="306.5" r="2.4" fill="#000"/>
<circle cx="1798.2" cy="299.1" r="2.4" fill="#000"/>
<circle cx="1795.1" cy="311.9" r="2.4" fill="#000"/>
<circle cx="1806.4" cy="311.4" r="2.4" fill="#000"/>
<circle cx="1774.8" cy="319.0" r="2.4" fill="#000"/>
<circle cx="1811.6" cy="320.8" r="2.4" fill="#000"/>
<circle cx="1807.9" cy="332.4" r="2.4" fill="#000"/>
<circle cx="1815.6" cy="329.3" r="2.4" fill="#000"/>
<circle cx="1819.0" cy="318.5" r="2.4" fill="#000"/>
<circle cx="1859.7" cy="303.7" r="2.4" fill="#000"/>
<circle cx="1851.4" cy="313.9" r="2.4" fill="#000"/>
<circle cx="1859.7" cy="321.6" r="2.4" fill="#000"/>
<circle cx="1864.2" cy="324.5" r="2.4" fill="#000"/>
<circle cx="1862.8" cy="329.9" r="2.4" fill="#000"/>
<circle cx="1850.6" cy="323.3" r="2.4" fill="#000"/>
<circle cx="1848.9" cy="335.3" r="2.4" fill="#000"/>
<circle cx="1814.4" cy="305.9" r="2.4" fill="#000"/>
<circle cx="1861.1" cy="333.8" r="2.4" fill="#000"/>
<circle cx="1798.1" cy="299.0" r="2.4" fill="#000"/>
<circle cx="1795.0" cy="311.8" r="2.4" fill="#000"/>
<circle cx="1806.1" cy="310.9" r="2.4" fill="#000"/>
<circle cx="1774.8" cy="319.0" r="2.4" fill="#000"/>
<circle cx="1811.7" cy="320.5" r="2.4" fill="#000"/>
<circle cx="1808.0" cy="332.0" r="2.4" fill="#000"/>
<circle cx="1859.6" cy="303.5" r="2.4" fill="#000"/>
<circle cx="1850.2" cy="314.0" r="2.4" fill="#000"/>
<circle cx="1859.6" cy="321.1" r="2.4" fill="#000"/>
<circle cx="1863.9" cy="324.2" r="2.4" fill="#000"/>
<circle cx="1862.7" cy="329.8" r="2.4" fill="#000"/>
<circle cx="1850.9" cy="323.0" r="2.4" fill="#000"/>
<circle cx="1848.8" cy="335.0" r="2.4" fill="#000"/>
<circle cx="1888.8" cy="333.2" r="2.4" fill="#000"/>
<circle cx="1814.2" cy="305.6" r="2.4" fill="#000"/>
<circle cx="1816.7" cy="329.2" r="2.4" fill="#000"/>
<circle cx="1854.0" cy="218.9" r="2.4" fill="#e23b2c"/>
<circle cx="1850.6" cy="228.6" r="2.4" fill="#e23b2c"/>
<circle cx="1857.7" cy="230.4" r="2.4" fill="#e23b2c"/>
<circle cx="1800.6" cy="230.4" r="2.4" fill="#e23b2c"/>
<circle cx="1780.1" cy="238.5" r="2.4" fill="#e23b2c"/>
<circle cx="1790.0" cy="242.9" r="2.4" fill="#e23b2c"/>
<circle cx="1788.1" cy="248.1" r="2.4" fill="#e23b2c"/>
<circle cx="1818.0" cy="246.8" r="2.4" fill="#e23b2c"/>
<circle cx="1841.8" cy="247.8" r="2.4" fill="#e23b2c"/>
<circle cx="1848.0" cy="246.6" r="2.4" fill="#e23b2c"/>
<circle cx="1851.5" cy="247.8" r="2.4" fill="#e23b2c"/>
<circle cx="1855.2" cy="247.8" r="2.4" fill="#e23b2c"/>
<circle cx="1863.3" cy="248.1" r="2.4" fill="#e23b2c"/>
<circle cx="1867.6" cy="246.8" r="2.4" fill="#e23b2c"/>
<circle cx="1809.3" cy="254.0" r="2.4" fill="#e23b2c"/>
<circle cx="1814.8" cy="255.9" r="2.4" fill="#e23b2c"/>
<circle cx="1810.5" cy="259.4" r="2.4" fill="#e23b2c"/>
<circle cx="1851.5" cy="253.4" r="2.4" fill="#e23b2c"/>
<circle cx="1847.1" cy="256.1" r="2.4" fill="#e23b2c"/>
<circle cx="1843.0" cy="261.2" r="2.4" fill="#e23b2c"/>
<circle cx="1848.0" cy="264.8" r="2.4" fill="#e23b2c"/>
<circle cx="1806.5" cy="263.7" r="2.4" fill="#e23b2c"/>
<circle cx="1811.4" cy="268.1" r="2.4" fill="#e23b2c"/>
<circle cx="1794.3" cy="274.2" r="2.4" fill="#e23b2c"/>
<circle cx="1807.0" cy="272.9" r="2.4" fill="#e23b2c"/>
<circle cx="1819.2" cy="272.7" r="2.4" fill="#e23b2c"/>
<circle cx="1823.2" cy="274.2" r="2.4" fill="#e23b2c"/>
<circle cx="1844.7" cy="273.9" r="2.4" fill="#e23b2c"/>
<circle cx="1845.9" cy="277.0" r="2.4" fill="#e23b2c"/>
<circle cx="1842.8" cy="276.4" r="2.4" fill="#e23b2c"/>
<circle cx="1783.8" cy="283.0" r="2.4" fill="#e23b2c"/>
<circle cx="1813.6" cy="279.5" r="2.4" fill="#e23b2c"/>
<circle cx="1816.7" cy="280.7" r="2.4" fill="#e23b2c"/>
<circle cx="1822.3" cy="283.0" r="2.4" fill="#e23b2c"/>
<circle cx="1836.6" cy="282.6" r="2.4" fill="#e23b2c"/>
<circle cx="1839.1" cy="284.5" r="2.4" fill="#e23b2c"/>
<circle cx="1847.8" cy="283.0" r="2.4" fill="#e23b2c"/>
<circle cx="1851.5" cy="284.5" r="2.4" fill="#e23b2c"/>
<circle cx="1856.5" cy="284.2" r="2.4" fill="#e23b2c"/>
<circle cx="1858.9" cy="285.5" r="2.4" fill="#e23b2c"/>
<circle cx="1785.0" cy="290.7" r="2.4" fill="#e23b2c"/>
<circle cx="1802.4" cy="290.7" r="2.4" fill="#e23b2c"/>
<circle cx="1804.9" cy="290.3" r="2.4" fill="#e23b2c"/>
<circle cx="1819.2" cy="289.4" r="2.4" fill="#e23b2c"/>
<circle cx="1824.8" cy="288.2" r="2.4" fill="#e23b2c"/>
<circle cx="1826.0" cy="292.5" r="2.4" fill="#e23b2c"/>
<circle cx="1821.7" cy="292.5" r="2.4" fill="#e23b2c"/>
<circle cx="1814.2" cy="294.4" r="2.4" fill="#e23b2c"/>
<circle cx="1818.0" cy="294.4" r="2.4" fill="#e23b2c"/>
<circle cx="1804.3" cy="296.3" r="2.4" fill="#e23b2c"/>
<circle cx="1808.0" cy="295.9" r="2.4" fill="#e23b2c"/>
<circle cx="1814.2" cy="298.1" r="2.4" fill="#e23b2c"/>
<circle cx="1837.8" cy="289.4" r="2.4" fill="#e23b2c"/>
<circle cx="1842.2" cy="288.2" r="2.4" fill="#e23b2c"/>
<circle cx="1845.3" cy="287.0" r="2.4" fill="#e23b2c"/>
<circle cx="1849.0" cy="289.4" r="2.4" fill="#e23b2c"/>
<circle cx="1839.7" cy="293.2" r="2.4" fill="#e23b2c"/>
<circle cx="1845.3" cy="292.5" r="2.4" fill="#e23b2c"/>
<circle cx="1849.0" cy="294.4" r="2.4" fill="#e23b2c"/>
<circle cx="1863.9" cy="292.5" r="2.4" fill="#e23b2c"/>
<circle cx="1837.8" cy="296.9" r="2.4" fill="#e23b2c"/>
<circle cx="1840.9" cy="295.7" r="2.4" fill="#e23b2c"/>
<circle cx="1824.2" cy="295.7" r="2.4" fill="#e23b2c"/>
<circle cx="1839.1" cy="298.1" r="2.4" fill="#e23b2c"/>
<circle cx="1842.8" cy="291.9" r="2.4" fill="#e23b2c"/>
<circle cx="1840.3" cy="287.0" r="2.4" fill="#e23b2c"/>
<circle cx="1850.2" cy="287.0" r="2.4" fill="#e23b2c"/>
<circle cx="1820.4" cy="290.7" r="2.4" fill="#e23b2c"/>
<circle cx="1816.7" cy="291.9" r="2.4" fill="#e23b2c"/>
<circle cx="1688.2" cy="282.4" r="5.0" fill="#a8783e"/>
<circle cx="1724.6" cy="117.8" r="5.0" fill="#a8783e"/>
<circle cx="1745.9" cy="114.3" r="5.0" fill="#a8783e"/>
<circle cx="1785.4" cy="238.1" r="5.0" fill="#a8783e"/>
<circle cx="1883.0" cy="228.2" r="5.0" fill="#a8783e"/>
<line x1="1633.0" y1="79.9" x2="1633.0" y2="336.5" stroke="#000" stroke-width="2.8" />
<line x1="1631.6" y1="335.1" x2="1932.0" y2="335.1" stroke="#000" stroke-width="2.8" />
<line x1="1626.5" y1="335.1" x2="1633.0" y2="335.1" stroke="#000" stroke-width="2.6" />
<line x1="1626.5" y1="298.7" x2="1633.0" y2="298.7" stroke="#000" stroke-width="2.6" />
<line x1="1626.5" y1="262.2" x2="1633.0" y2="262.2" stroke="#000" stroke-width="2.6" />
<line x1="1626.5" y1="225.8" x2="1633.0" y2="225.8" stroke="#000" stroke-width="2.6" />
<line x1="1626.5" y1="189.3" x2="1633.0" y2="189.3" stroke="#000" stroke-width="2.6" />
<line x1="1626.5" y1="152.9" x2="1633.0" y2="152.9" stroke="#000" stroke-width="2.6" />
<line x1="1626.5" y1="116.4" x2="1633.0" y2="116.4" stroke="#000" stroke-width="2.6" />
<line x1="1626.5" y1="79.9" x2="1633.0" y2="79.9" stroke="#000" stroke-width="2.6" />
<text x="1625.5" y="345.1" font-size="28" text-anchor="end" font-weight="normal" fill="#231f20" stroke="#231f20" stroke-width="0.35" >0</text>
<text x="1625.5" y="272.2" font-size="28" text-anchor="end" font-weight="normal" fill="#231f20" stroke="#231f20" stroke-width="0.35" >2</text>
<text x="1625.5" y="199.3" font-size="28" text-anchor="end" font-weight="normal" fill="#231f20" stroke="#231f20" stroke-width="0.35" >4</text>
<text x="1625.5" y="126.4" font-size="28" text-anchor="end" font-weight="normal" fill="#231f20" stroke="#231f20" stroke-width="0.35" >6</text>
<line x1="1633.0" y1="335.1" x2="1633.0" y2="344.6" stroke="#000" stroke-width="2.6" />
<text x="1637.5" y="366.6" font-size="28" text-anchor="middle" font-weight="normal" fill="#231f20" stroke="#231f20" stroke-width="0.35" >-8</text>
<line x1="1682.6" y1="335.1" x2="1682.6" y2="344.6" stroke="#000" stroke-width="2.6" />
<text x="1687.1" y="366.6" font-size="28" text-anchor="middle" font-weight="normal" fill="#231f20" stroke="#231f20" stroke-width="0.35" >-6</text>
<line x1="1732.2" y1="335.1" x2="1732.2" y2="344.6" stroke="#000" stroke-width="2.6" />
<text x="1736.7" y="366.6" font-size="28" text-anchor="middle" font-weight="normal" fill="#231f20" stroke="#231f20" stroke-width="0.35" >-4</text>
<line x1="1781.8" y1="335.1" x2="1781.8" y2="344.6" stroke="#000" stroke-width="2.6" />
<text x="1786.3" y="366.6" font-size="28" text-anchor="middle" font-weight="normal" fill="#231f20" stroke="#231f20" stroke-width="0.35" >-2</text>
<line x1="1831.4" y1="335.1" x2="1831.4" y2="344.6" stroke="#000" stroke-width="2.6" />
<text x="1835.9" y="366.6" font-size="28" text-anchor="middle" font-weight="normal" fill="#231f20" stroke="#231f20" stroke-width="0.35" >0</text>
<line x1="1881.0" y1="335.1" x2="1881.0" y2="344.6" stroke="#000" stroke-width="2.6" />
<text x="1885.5" y="366.6" font-size="28" text-anchor="middle" font-weight="normal" fill="#231f20" stroke="#231f20" stroke-width="0.35" >2</text>
<line x1="1930.6" y1="335.1" x2="1930.6" y2="344.6" stroke="#000" stroke-width="2.6" />
<text x="1935.1" y="366.6" font-size="28" text-anchor="middle" font-weight="normal" fill="#231f20" stroke="#231f20" stroke-width="0.35" >4</text>
<text x="1737.5" y="106.5" font-size="27.5" text-anchor="start" font-weight="normal" fill="#231f20" stroke="#231f20" stroke-width="0.35" >E4P</text>
<text x="1653.5" y="141.5" font-size="27.5" text-anchor="start" font-weight="normal" fill="#231f20" stroke="#231f20" stroke-width="0.35" >Anserine</text>
<text x="1811.0" y="189.5" font-size="27.5" text-anchor="start" font-weight="normal" fill="#231f20" stroke="#231f20" stroke-width="0.35" >Methylguanine</text>
<text x="1701.0" y="226.5" font-size="27.5" text-anchor="start" font-weight="normal" fill="#231f20" stroke="#231f20" stroke-width="0.35" >Thioproline</text>
<text x="1651.5" y="271.5" font-size="27.5" text-anchor="start" font-weight="normal" fill="#231f20" stroke="#231f20" stroke-width="0.35" >BPG</text>
<text x="1712.0" y="40.9" font-size="34" text-anchor="start" font-weight="normal" fill="#231f20" stroke="#231f20" stroke-width="0.35" >Mild</text>
<text x="1855.5" y="40.9" font-size="34" text-anchor="start" font-weight="normal" fill="#231f20" stroke="#231f20" stroke-width="0.35" >Severe</text>
<line x1="1781.0" y1="58.0" x2="1705.5" y2="58.0" stroke="#231f20" stroke-width="1.7" />
<path d="M1699.5,58.0L1715.0,49.8L1709.1,58.0L1715.0,66.2Z" fill="#231f20"/>
<line x1="1865.5" y1="58.0" x2="1941.5" y2="58.0" stroke="#231f20" stroke-width="1.7" />
<path d="M1947.5,58.0L1932.0,49.8L1937.9,58.0L1932.0,66.2Z" fill="#231f20"/>
<text x="1594.0" y="29.8" font-size="41" text-anchor="start" font-weight="bold" fill="#231f20" >d</text>
<text x="1598.5" y="216.2" font-size="27.2" text-anchor="middle" font-weight="normal" fill="#231f20" stroke="#231f20" stroke-width="0.35" transform="rotate(-90 1598.5 216.2)">-Log10 (FDR)</text>
<text x="1803.0" y="394.5" font-size="27.2" text-anchor="middle" font-weight="normal" fill="#231f20" stroke="#231f20" stroke-width="0.35" >Log2 (FC)</text>
<line x1="332.7" y1="565.2" x2="332.7" y2="888.1" stroke="#d2d2d2" stroke-width="1.0" stroke-dasharray="3,3"/>
<line x1="368.3" y1="565.2" x2="368.3" y2="888.1" stroke="#d2d2d2" stroke-width="1.0" stroke-dasharray="3,3"/>
<line x1="403.9" y1="565.2" x2="403.9" y2="888.1" stroke="#d2d2d2" stroke-width="1.0" stroke-dasharray="3,3"/>
<line x1="439.5" y1="565.2" x2="439.5" y2="888.1" stroke="#d2d2d2" stroke-width="1.0" stroke-dasharray="3,3"/>
<line x1="475.2" y1="565.2" x2="475.2" y2="888.1" stroke="#d2d2d2" stroke-width="1.0" stroke-dasharray="3,3"/>
<line x1="510.8" y1="565.2" x2="510.8" y2="888.1" stroke="#d2d2d2" stroke-width="1.0" stroke-dasharray="3,3"/>
<line x1="546.4" y1="565.2" x2="546.4" y2="888.1" stroke="#d2d2d2" stroke-width="1.0" stroke-dasharray="3,3"/>
<line x1="314.9" y1="590.1" x2="582.0" y2="590.1" stroke="#d2d2d2" stroke-width="1.0" stroke-dasharray="3,3"/>
<line x1="314.9" y1="614.9" x2="582.0" y2="614.9" stroke="#d2d2d2" stroke-width="1.0" stroke-dasharray="3,3"/>
<line x1="314.9" y1="639.8" x2="582.0" y2="639.8" stroke="#d2d2d2" stroke-width="1.0" stroke-dasharray="3,3"/>
<line x1="314.9" y1="664.6" x2="582.0" y2="664.6" stroke="#d2d2d2" stroke-width="1.0" stroke-dasharray="3,3"/>
<line x1="314.9" y1="689.5" x2="582.0" y2="689.5" stroke="#d2d2d2" stroke-width="1.0" stroke-dasharray="3,3"/>
<line x1="314.9" y1="714.3" x2="582.0" y2="714.3" stroke="#d2d2d2" stroke-width="1.0" stroke-dasharray="3,3"/>
<line x1="314.9" y1="739.1" x2="582.0" y2="739.1" stroke="#d2d2d2" stroke-width="1.0" stroke-dasharray="3,3"/>
<line x1="314.9" y1="764.0" x2="582.0" y2="764.0" stroke="#d2d2d2" stroke-width="1.0" stroke-dasharray="3,3"/>
<line x1="314.9" y1="788.8" x2="582.0" y2="788.8" stroke="#d2d2d2" stroke-width="1.0" stroke-dasharray="3,3"/>
<line x1="314.9" y1="813.7" x2="582.0" y2="813.7" stroke="#d2d2d2" stroke-width="1.0" stroke-dasharray="3,3"/>
<line x1="314.9" y1="838.5" x2="582.0" y2="838.5" stroke="#d2d2d2" stroke-width="1.0" stroke-dasharray="3,3"/>
<line x1="314.9" y1="863.3" x2="582.0" y2="863.3" stroke="#d2d2d2" stroke-width="1.0" stroke-dasharray="3,3"/>
<line x1="314.9" y1="565.2" x2="582.0" y2="565.2" stroke="#4d4d4d" stroke-width="1.5" />
<line x1="582.0" y1="565.2" x2="582.0" y2="888.1" stroke="#4d4d4d" stroke-width="1.5" />
<line x1="314.9" y1="565.2" x2="314.9" y2="888.9" stroke="#231f20" stroke-width="1.7" />
<line x1="307.9" y1="888.1" x2="582.8" y2="888.1" stroke="#231f20" stroke-width="1.7" />
<line x1="308.9" y1="565.2" x2="314.9" y2="565.2" stroke="#231f20" stroke-width="1.3" />
<line x1="311.4" y1="577.6" x2="314.9" y2="577.6" stroke="#231f20" stroke-width="1.3" />
<line x1="308.9" y1="590.0" x2="314.9" y2="590.0" stroke="#231f20" stroke-width="1.3" />
<line x1="311.4" y1="602.5" x2="314.9" y2="602.5" stroke="#231f20" stroke-width="1.3" />
<line x1="308.9" y1="614.9" x2="314.9" y2="614.9" stroke="#231f20" stroke-width="1.3" />
<line x1="311.4" y1="627.3" x2="314.9" y2="627.3" stroke="#231f20" stroke-width="1.3" />
<line x1="308.9" y1="639.7" x2="314.9" y2="639.7" stroke="#231f20" stroke-width="1.3" />
<line x1="311.4" y1="652.1" x2="314.9" y2="652.1" stroke="#231f20" stroke-width="1.3" />
<line x1="308.9" y1="664.6" x2="314.9" y2="664.6" stroke="#231f20" stroke-width="1.3" />
<line x1="311.4" y1="677.0" x2="314.9" y2="677.0" stroke="#231f20" stroke-width="1.3" />
<line x1="308.9" y1="689.4" x2="314.9" y2="689.4" stroke="#231f20" stroke-width="1.3" />
<line x1="311.4" y1="701.8" x2="314.9" y2="701.8" stroke="#231f20" stroke-width="1.3" />
<line x1="308.9" y1="714.2" x2="314.9" y2="714.2" stroke="#231f20" stroke-width="1.3" />
<line x1="311.4" y1="726.7" x2="314.9" y2="726.7" stroke="#231f20" stroke-width="1.3" />
<line x1="308.9" y1="739.1" x2="314.9" y2="739.1" stroke="#231f20" stroke-width="1.3" />
<line x1="311.4" y1="751.5" x2="314.9" y2="751.5" stroke="#231f20" stroke-width="1.3" />
<line x1="308.9" y1="763.9" x2="314.9" y2="763.9" stroke="#231f20" stroke-width="1.3" />
<line x1="311.4" y1="776.3" x2="314.9" y2="776.3" stroke="#231f20" stroke-width="1.3" />
<line x1="308.9" y1="788.8" x2="314.9" y2="788.8" stroke="#231f20" stroke-width="1.3" />
<line x1="311.4" y1="801.2" x2="314.9" y2="801.2" stroke="#231f20" stroke-width="1.3" />
<line x1="308.9" y1="813.6" x2="314.9" y2="813.6" stroke="#231f20" stroke-width="1.3" />
<line x1="311.4" y1="826.0" x2="314.9" y2="826.0" stroke="#231f20" stroke-width="1.3" />
<line x1="308.9" y1="838.4" x2="314.9" y2="838.4" stroke="#231f20" stroke-width="1.3" />
<line x1="311.4" y1="850.9" x2="314.9" y2="850.9" stroke="#231f20" stroke-width="1.3" />
<line x1="308.9" y1="863.3" x2="314.9" y2="863.3" stroke="#231f20" stroke-width="1.3" />
<line x1="311.4" y1="875.7" x2="314.9" y2="875.7" stroke="#231f20" stroke-width="1.3" />
<line x1="314.9" y1="888.1" x2="314.9" y2="894.6" stroke="#231f20" stroke-width="1.5" />
<line x1="332.7" y1="888.1" x2="332.7" y2="894.6" stroke="#231f20" stroke-width="1.5" />
<line x1="368.3" y1="888.1" x2="368.3" y2="894.6" stroke="#231f20" stroke-width="1.5" />
<line x1="403.9" y1="888.1" x2="403.9" y2="894.6" stroke="#231f20" stroke-width="1.5" />
<line x1="439.5" y1="888.1" x2="439.5" y2="894.6" stroke="#231f20" stroke-width="1.5" />
<line x1="475.2" y1="888.1" x2="475.2" y2="894.6" stroke="#231f20" stroke-width="1.5" />
<line x1="510.8" y1="888.1" x2="510.8" y2="894.6" stroke="#231f20" stroke-width="1.5" />
<line x1="546.4" y1="888.1" x2="546.4" y2="894.6" stroke="#231f20" stroke-width="1.5" />
<line x1="582.0" y1="888.1" x2="582.0" y2="894.6" stroke="#231f20" stroke-width="1.5" />
<line x1="350.5" y1="888.1" x2="350.5" y2="892.1" stroke="#231f20" stroke-width="1.3" />
<line x1="386.1" y1="888.1" x2="386.1" y2="892.1" stroke="#231f20" stroke-width="1.3" />
<line x1="421.7" y1="888.1" x2="421.7" y2="892.1" stroke="#231f20" stroke-width="1.3" />
<line x1="457.4" y1="888.1" x2="457.4" y2="892.1" stroke="#231f20" stroke-width="1.3" />
<line x1="493.0" y1="888.1" x2="493.0" y2="892.1" stroke="#231f20" stroke-width="1.3" />
<line x1="528.6" y1="888.1" x2="528.6" y2="892.1" stroke="#231f20" stroke-width="1.3" />
<line x1="564.2" y1="888.1" x2="564.2" y2="892.1" stroke="#231f20" stroke-width="1.3" />
<text x="368.3" y="916.3" font-size="27" text-anchor="middle" font-weight="normal" fill="#231f20" stroke="#231f20" stroke-width="0.35" >1.0</text>
<text x="439.5" y="916.3" font-size="27" text-anchor="middle" font-weight="normal" fill="#231f20" stroke="#231f20" stroke-width="0.35" >1.2</text>
<text x="510.8" y="916.3" font-size="27" text-anchor="middle" font-weight="normal" fill="#231f20" stroke="#231f20" stroke-width="0.35" >1.4</text>
<text x="582.0" y="916.3" font-size="27" text-anchor="middle" font-weight="normal" fill="#231f20" stroke="#231f20" stroke-width="0.35" >1.6</text>
<text x="305.4" y="593.1" font-size="27.6" text-anchor="end" font-weight="normal" fill="#231f20" stroke="#231f20" stroke-width="0.35" >Amino Sugar Metab.</text>
<text x="305.4" y="617.9" font-size="27.6" text-anchor="end" font-weight="normal" fill="#231f20" stroke="#231f20" stroke-width="0.35" >Purine Metab.</text>
<text x="305.4" y="642.8" font-size="27.6" text-anchor="end" font-weight="normal" fill="#231f20" stroke="#231f20" stroke-width="0.35" >PPP</text>
<text x="305.4" y="667.6" font-size="27.6" text-anchor="end" font-weight="normal" fill="#231f20" stroke="#231f20" stroke-width="0.35" >Starch/Sucrose Metab.</text>
<text x="305.4" y="692.5" font-size="27.6" text-anchor="end" font-weight="normal" fill="#231f20" stroke="#231f20" stroke-width="0.35" >Glycolysis</text>
<text x="305.4" y="717.3" font-size="27.6" text-anchor="end" font-weight="normal" fill="#231f20" stroke="#231f20" stroke-width="0.35" >Methylhistidine Metab.</text>
<text x="305.4" y="742.1" font-size="27.6" text-anchor="end" font-weight="normal" fill="#231f20" stroke="#231f20" stroke-width="0.35" >Fructose/Mannose Degr.</text>
<text x="305.4" y="767.0" font-size="27.6" text-anchor="end" font-weight="normal" fill="#231f20" stroke="#231f20" stroke-width="0.35" >P.choline Biosynthesis</text>
<text x="305.4" y="791.8" font-size="27.6" text-anchor="end" font-weight="normal" fill="#231f20" stroke="#231f20" stroke-width="0.35" >Betaine Metab.</text>
<text x="305.4" y="816.7" font-size="27.6" text-anchor="end" font-weight="normal" fill="#231f20" stroke="#231f20" stroke-width="0.35" >Carnitine Synthesis</text>
<text x="305.4" y="841.5" font-size="27.6" text-anchor="end" font-weight="normal" fill="#231f20" stroke="#231f20" stroke-width="0.35" >P.lipid Biosynthesis</text>
<text x="305.4" y="866.3" font-size="27.6" text-anchor="end" font-weight="normal" fill="#231f20" stroke="#231f20" stroke-width="0.35" >Methionine Metab.</text>
<circle cx="548.8" cy="590.1" r="5.6" fill="#e0252b"/>
<circle cx="506.2" cy="614.9" r="4.0" fill="#e0252b"/>
<circle cx="495.3" cy="639.8" r="5.6" fill="#e0252b"/>
<circle cx="445.7" cy="664.6" r="5.0" fill="#e0252b"/>
<circle cx="441.6" cy="689.5" r="5.6" fill="#e0252b"/>
<circle cx="423.9" cy="714.3" r="11.8" fill="#e0252b"/>
<circle cx="422.4" cy="739.1" r="4.7" fill="#e0252b"/>
<circle cx="421.4" cy="764.0" r="6.5" fill="#e0252b"/>
<circle cx="386.3" cy="788.8" r="5.6" fill="#e0252b"/>
<circle cx="361.8" cy="813.7" r="5.3" fill="#e0252b"/>
<circle cx="349.1" cy="838.5" r="4.7" fill="#e0252b"/>
<circle cx="339.8" cy="863.3" r="4.3" fill="#e0252b"/>
<text x="456.2" y="555.9" font-size="27.6" text-anchor="middle" font-weight="normal" fill="#231f20" stroke="#231f20" stroke-width="0.35" >Mild vs Control</text>
<text x="459.0" y="944.2" font-size="27.6" text-anchor="middle" font-weight="normal" fill="#231f20" stroke="#231f20" stroke-width="0.35" >-Log10 (p-value)</text>
<text x="11.0" y="563.5" font-size="41" text-anchor="start" font-weight="bold" fill="#231f20" >e</text>
<line x1="1008.2" y1="563.4" x2="1008.2" y2="887.0" stroke="#d2d2d2" stroke-width="1.0" stroke-dasharray="3,3"/>
<line x1="1056.8" y1="563.4" x2="1056.8" y2="887.0" stroke="#d2d2d2" stroke-width="1.0" stroke-dasharray="3,3"/>
<line x1="1105.4" y1="563.4" x2="1105.4" y2="887.0" stroke="#d2d2d2" stroke-width="1.0" stroke-dasharray="3,3"/>
<line x1="1153.9" y1="563.4" x2="1153.9" y2="887.0" stroke="#d2d2d2" stroke-width="1.0" stroke-dasharray="3,3"/>
<line x1="1202.5" y1="563.4" x2="1202.5" y2="887.0" stroke="#d2d2d2" stroke-width="1.0" stroke-dasharray="3,3"/>
<line x1="959.6" y1="588.0" x2="1227.2" y2="588.0" stroke="#d2d2d2" stroke-width="1.0" stroke-dasharray="3,3"/>
<line x1="959.6" y1="612.9" x2="1227.2" y2="612.9" stroke="#d2d2d2" stroke-width="1.0" stroke-dasharray="3,3"/>
<line x1="959.6" y1="637.8" x2="1227.2" y2="637.8" stroke="#d2d2d2" stroke-width="1.0" stroke-dasharray="3,3"/>
<line x1="959.6" y1="662.7" x2="1227.2" y2="662.7" stroke="#d2d2d2" stroke-width="1.0" stroke-dasharray="3,3"/>
<line x1="959.6" y1="687.6" x2="1227.2" y2="687.6" stroke="#d2d2d2" stroke-width="1.0" stroke-dasharray="3,3"/>
<line x1="959.6" y1="712.5" x2="1227.2" y2="712.5" stroke="#d2d2d2" stroke-width="1.0" stroke-dasharray="3,3"/>
<line x1="959.6" y1="737.3" x2="1227.2" y2="737.3" stroke="#d2d2d2" stroke-width="1.0" stroke-dasharray="3,3"/>
<line x1="959.6" y1="762.2" x2="1227.2" y2="762.2" stroke="#d2d2d2" stroke-width="1.0" stroke-dasharray="3,3"/>
<line x1="959.6" y1="787.1" x2="1227.2" y2="787.1" stroke="#d2d2d2" stroke-width="1.0" stroke-dasharray="3,3"/>
<line x1="959.6" y1="812.0" x2="1227.2" y2="812.0" stroke="#d2d2d2" stroke-width="1.0" stroke-dasharray="3,3"/>
<line x1="959.6" y1="836.9" x2="1227.2" y2="836.9" stroke="#d2d2d2" stroke-width="1.0" stroke-dasharray="3,3"/>
<line x1="959.6" y1="861.8" x2="1227.2" y2="861.8" stroke="#d2d2d2" stroke-width="1.0" stroke-dasharray="3,3"/>
<line x1="959.6" y1="563.4" x2="1227.2" y2="563.4" stroke="#4d4d4d" stroke-width="1.5" />
<line x1="1227.2" y1="563.4" x2="1227.2" y2="887.0" stroke="#4d4d4d" stroke-width="1.5" />
<line x1="959.6" y1="563.4" x2="959.6" y2="887.8" stroke="#231f20" stroke-width="1.7" />
<line x1="952.6" y1="887.0" x2="1228.0" y2="887.0" stroke="#231f20" stroke-width="1.7" />
<line x1="953.6" y1="563.4" x2="959.6" y2="563.4" stroke="#231f20" stroke-width="1.3" />
<line x1="956.1" y1="575.8" x2="959.6" y2="575.8" stroke="#231f20" stroke-width="1.3" />
<line x1="953.6" y1="588.3" x2="959.6" y2="588.3" stroke="#231f20" stroke-width="1.3" />
<line x1="956.1" y1="600.7" x2="959.6" y2="600.7" stroke="#231f20" stroke-width="1.3" />
<line x1="953.6" y1="613.2" x2="959.6" y2="613.2" stroke="#231f20" stroke-width="1.3" />
<line x1="956.1" y1="625.6" x2="959.6" y2="625.6" stroke="#231f20" stroke-width="1.3" />
<line x1="953.6" y1="638.1" x2="959.6" y2="638.1" stroke="#231f20" stroke-width="1.3" />
<line x1="956.1" y1="650.5" x2="959.6" y2="650.5" stroke="#231f20" stroke-width="1.3" />
<line x1="953.6" y1="663.0" x2="959.6" y2="663.0" stroke="#231f20" stroke-width="1.3" />
<line x1="956.1" y1="675.4" x2="959.6" y2="675.4" stroke="#231f20" stroke-width="1.3" />
<line x1="953.6" y1="687.9" x2="959.6" y2="687.9" stroke="#231f20" stroke-width="1.3" />
<line x1="956.1" y1="700.3" x2="959.6" y2="700.3" stroke="#231f20" stroke-width="1.3" />
<line x1="953.6" y1="712.7" x2="959.6" y2="712.7" stroke="#231f20" stroke-width="1.3" />
<line x1="956.1" y1="725.2" x2="959.6" y2="725.2" stroke="#231f20" stroke-width="1.3" />
<line x1="953.6" y1="737.6" x2="959.6" y2="737.6" stroke="#231f20" stroke-width="1.3" />
<line x1="956.1" y1="750.1" x2="959.6" y2="750.1" stroke="#231f20" stroke-width="1.3" />
<line x1="953.6" y1="762.5" x2="959.6" y2="762.5" stroke="#231f20" stroke-width="1.3" />
<line x1="956.1" y1="775.0" x2="959.6" y2="775.0" stroke="#231f20" stroke-width="1.3" />
<line x1="953.6" y1="787.4" x2="959.6" y2="787.4" stroke="#231f20" stroke-width="1.3" />
<line x1="956.1" y1="799.9" x2="959.6" y2="799.9" stroke="#231f20" stroke-width="1.3" />
<line x1="953.6" y1="812.3" x2="959.6" y2="812.3" stroke="#231f20" stroke-width="1.3" />
<line x1="956.1" y1="824.7" x2="959.6" y2="824.7" stroke="#231f20" stroke-width="1.3" />
<line x1="953.6" y1="837.2" x2="959.6" y2="837.2" stroke="#231f20" stroke-width="1.3" />
<line x1="956.1" y1="849.6" x2="959.6" y2="849.6" stroke="#231f20" stroke-width="1.3" />
<line x1="953.6" y1="862.1" x2="959.6" y2="862.1" stroke="#231f20" stroke-width="1.3" />
<line x1="956.1" y1="874.5" x2="959.6" y2="874.5" stroke="#231f20" stroke-width="1.3" />
<line x1="959.6" y1="887.0" x2="959.6" y2="893.5" stroke="#231f20" stroke-width="1.5" />
<line x1="1008.2" y1="887.0" x2="1008.2" y2="893.5" stroke="#231f20" stroke-width="1.5" />
<line x1="1056.8" y1="887.0" x2="1056.8" y2="893.5" stroke="#231f20" stroke-width="1.5" />
<line x1="1105.4" y1="887.0" x2="1105.4" y2="893.5" stroke="#231f20" stroke-width="1.5" />
<line x1="1153.9" y1="887.0" x2="1153.9" y2="893.5" stroke="#231f20" stroke-width="1.5" />
<line x1="1202.5" y1="887.0" x2="1202.5" y2="893.5" stroke="#231f20" stroke-width="1.5" />
<line x1="1227.2" y1="887.0" x2="1227.2" y2="893.5" stroke="#231f20" stroke-width="1.5" />
<line x1="983.9" y1="887.0" x2="983.9" y2="891.0" stroke="#231f20" stroke-width="1.3" />
<line x1="1032.5" y1="887.0" x2="1032.5" y2="891.0" stroke="#231f20" stroke-width="1.3" />
<line x1="1081.1" y1="887.0" x2="1081.1" y2="891.0" stroke="#231f20" stroke-width="1.3" />
<line x1="1129.6" y1="887.0" x2="1129.6" y2="891.0" stroke="#231f20" stroke-width="1.3" />
<line x1="1178.2" y1="887.0" x2="1178.2" y2="891.0" stroke="#231f20" stroke-width="1.3" />
<text x="1008.2" y="912.4" font-size="27" text-anchor="middle" font-weight="normal" fill="#231f20" stroke="#231f20" stroke-width="0.35" >2.0</text>
<text x="1105.4" y="912.4" font-size="27" text-anchor="middle" font-weight="normal" fill="#231f20" stroke="#231f20" stroke-width="0.35" >3.0</text>
<text x="1202.5" y="912.4" font-size="27" text-anchor="middle" font-weight="normal" fill="#231f20" stroke="#231f20" stroke-width="0.35" >4.0</text>
<text x="949.1" y="592.7" font-size="27.6" text-anchor="end" font-weight="normal" fill="#231f20" stroke="#231f20" stroke-width="0.35" >PPP</text>
<text x="949.1" y="617.6" font-size="27.6" text-anchor="end" font-weight="normal" fill="#231f20" stroke="#231f20" stroke-width="0.35" >Warburg Effect</text>
<text x="949.1" y="642.5" font-size="27.6" text-anchor="end" font-weight="normal" fill="#231f20" stroke="#231f20" stroke-width="0.35" >P.choline Biosynthesis</text>
<text x="949.1" y="667.4" font-size="27.6" text-anchor="end" font-weight="normal" fill="#231f20" stroke="#231f20" stroke-width="0.35" >Fructose/Mannose Degr.</text>
<text x="949.1" y="692.3" font-size="27.6" text-anchor="end" font-weight="normal" fill="#231f20" stroke="#231f20" stroke-width="0.35" >P.ethanolamine Biosynthesis</text>
<text x="949.1" y="717.2" font-size="27.6" text-anchor="end" font-weight="normal" fill="#231f20" stroke="#231f20" stroke-width="0.35" >Histidine Metab.</text>
<text x="949.1" y="742.0" font-size="27.6" text-anchor="end" font-weight="normal" fill="#231f20" stroke="#231f20" stroke-width="0.35" >β-alanine Metab.</text>
<text x="949.1" y="766.9" font-size="27.6" text-anchor="end" font-weight="normal" fill="#231f20" stroke="#231f20" stroke-width="0.35" >Glycolysis</text>
<text x="949.1" y="791.8" font-size="27.6" text-anchor="end" font-weight="normal" fill="#231f20" stroke="#231f20" stroke-width="0.35" >Nucleotide Sugars Metab.</text>
<text x="949.1" y="816.7" font-size="27.6" text-anchor="end" font-weight="normal" fill="#231f20" stroke="#231f20" stroke-width="0.35" >Gluconeogenesis</text>
<text x="949.1" y="841.6" font-size="27.6" text-anchor="end" font-weight="normal" fill="#231f20" stroke="#231f20" stroke-width="0.35" >Betaine Metab.</text>
<text x="949.1" y="866.5" font-size="27.6" text-anchor="end" font-weight="normal" fill="#231f20" stroke="#231f20" stroke-width="0.35" >Starch/Sucrose Metab.</text>
<circle cx="1188.2" cy="588.0" r="8.1" fill="#e0252b"/>
<circle cx="1114.3" cy="612.9" r="5.6" fill="#e0252b"/>
<circle cx="1104.5" cy="637.8" r="10.6" fill="#e0252b"/>
<circle cx="1081.6" cy="662.7" r="7.4" fill="#e0252b"/>
<circle cx="1068.6" cy="687.6" r="10.6" fill="#e0252b"/>
<circle cx="1065.7" cy="712.5" r="6.0" fill="#e0252b"/>
<circle cx="1057.7" cy="737.3" r="6.7" fill="#e0252b"/>
<circle cx="1055.2" cy="762.2" r="7.0" fill="#e0252b"/>
<circle cx="1002.4" cy="787.1" r="7.4" fill="#e0252b"/>
<circle cx="998.2" cy="812.0" r="6.0" fill="#e0252b"/>
<circle cx="990.0" cy="836.9" r="6.7" fill="#e0252b"/>
<circle cx="988.3" cy="861.8" r="6.0" fill="#e0252b"/>
<text x="1083.4" y="557.4" font-size="27.6" text-anchor="middle" font-weight="normal" fill="#231f20" stroke="#231f20" stroke-width="0.35" >Severe vs Control</text>
<text x="1094.0" y="941.8" font-size="27.6" text-anchor="middle" font-weight="normal" fill="#231f20" stroke="#231f20" stroke-width="0.35" >-Log10 (p-value)</text>
<text x="609.0" y="563.4" font-size="41" text-anchor="start" font-weight="bold" fill="#231f20" >f</text>
<line x1="1589.6" y1="562.8" x2="1589.6" y2="886.2" stroke="#d2d2d2" stroke-width="1.0" stroke-dasharray="3,3"/>
<line x1="1627.8" y1="562.8" x2="1627.8" y2="886.2" stroke="#d2d2d2" stroke-width="1.0" stroke-dasharray="3,3"/>
<line x1="1666.1" y1="562.8" x2="1666.1" y2="886.2" stroke="#d2d2d2" stroke-width="1.0" stroke-dasharray="3,3"/>
<line x1="1704.4" y1="562.8" x2="1704.4" y2="886.2" stroke="#d2d2d2" stroke-width="1.0" stroke-dasharray="3,3"/>
<line x1="1742.7" y1="562.8" x2="1742.7" y2="886.2" stroke="#d2d2d2" stroke-width="1.0" stroke-dasharray="3,3"/>
<line x1="1781.0" y1="562.8" x2="1781.0" y2="886.2" stroke="#d2d2d2" stroke-width="1.0" stroke-dasharray="3,3"/>
<line x1="1819.3" y1="562.8" x2="1819.3" y2="886.2" stroke="#d2d2d2" stroke-width="1.0" stroke-dasharray="3,3"/>
<line x1="1576.8" y1="587.5" x2="1844.8" y2="587.5" stroke="#d2d2d2" stroke-width="1.0" stroke-dasharray="3,3"/>
<line x1="1576.8" y1="612.4" x2="1844.8" y2="612.4" stroke="#d2d2d2" stroke-width="1.0" stroke-dasharray="3,3"/>
<line x1="1576.8" y1="637.3" x2="1844.8" y2="637.3" stroke="#d2d2d2" stroke-width="1.0" stroke-dasharray="3,3"/>
<line x1="1576.8" y1="662.2" x2="1844.8" y2="662.2" stroke="#d2d2d2" stroke-width="1.0" stroke-dasharray="3,3"/>
<line x1="1576.8" y1="687.1" x2="1844.8" y2="687.1" stroke="#d2d2d2" stroke-width="1.0" stroke-dasharray="3,3"/>
<line x1="1576.8" y1="712.0" x2="1844.8" y2="712.0" stroke="#d2d2d2" stroke-width="1.0" stroke-dasharray="3,3"/>
<line x1="1576.8" y1="737.0" x2="1844.8" y2="737.0" stroke="#d2d2d2" stroke-width="1.0" stroke-dasharray="3,3"/>
<line x1="1576.8" y1="761.9" x2="1844.8" y2="761.9" stroke="#d2d2d2" stroke-width="1.0" stroke-dasharray="3,3"/>
<line x1="1576.8" y1="786.8" x2="1844.8" y2="786.8" stroke="#d2d2d2" stroke-width="1.0" stroke-dasharray="3,3"/>
<line x1="1576.8" y1="811.7" x2="1844.8" y2="811.7" stroke="#d2d2d2" stroke-width="1.0" stroke-dasharray="3,3"/>
<line x1="1576.8" y1="836.6" x2="1844.8" y2="836.6" stroke="#d2d2d2" stroke-width="1.0" stroke-dasharray="3,3"/>
<line x1="1576.8" y1="861.5" x2="1844.8" y2="861.5" stroke="#d2d2d2" stroke-width="1.0" stroke-dasharray="3,3"/>
<line x1="1576.8" y1="562.8" x2="1844.8" y2="562.8" stroke="#4d4d4d" stroke-width="1.5" />
<line x1="1844.8" y1="562.8" x2="1844.8" y2="886.2" stroke="#4d4d4d" stroke-width="1.5" />
<line x1="1576.8" y1="562.8" x2="1576.8" y2="887.0" stroke="#231f20" stroke-width="1.7" />
<line x1="1569.8" y1="886.2" x2="1845.6" y2="886.2" stroke="#231f20" stroke-width="1.7" />
<line x1="1570.8" y1="562.8" x2="1576.8" y2="562.8" stroke="#231f20" stroke-width="1.3" />
<line x1="1573.3" y1="575.3" x2="1576.8" y2="575.3" stroke="#231f20" stroke-width="1.3" />
<line x1="1570.8" y1="587.7" x2="1576.8" y2="587.7" stroke="#231f20" stroke-width="1.3" />
<line x1="1573.3" y1="600.2" x2="1576.8" y2="600.2" stroke="#231f20" stroke-width="1.3" />
<line x1="1570.8" y1="612.6" x2="1576.8" y2="612.6" stroke="#231f20" stroke-width="1.3" />
<line x1="1573.3" y1="625.1" x2="1576.8" y2="625.1" stroke="#231f20" stroke-width="1.3" />
<line x1="1570.8" y1="637.5" x2="1576.8" y2="637.5" stroke="#231f20" stroke-width="1.3" />
<line x1="1573.3" y1="650.0" x2="1576.8" y2="650.0" stroke="#231f20" stroke-width="1.3" />
<line x1="1570.8" y1="662.4" x2="1576.8" y2="662.4" stroke="#231f20" stroke-width="1.3" />
<line x1="1573.3" y1="674.9" x2="1576.8" y2="674.9" stroke="#231f20" stroke-width="1.3" />
<line x1="1570.8" y1="687.4" x2="1576.8" y2="687.4" stroke="#231f20" stroke-width="1.3" />
<line x1="1573.3" y1="699.8" x2="1576.8" y2="699.8" stroke="#231f20" stroke-width="1.3" />
<line x1="1570.8" y1="712.3" x2="1576.8" y2="712.3" stroke="#231f20" stroke-width="1.3" />
<line x1="1573.3" y1="724.7" x2="1576.8" y2="724.7" stroke="#231f20" stroke-width="1.3" />
<line x1="1570.8" y1="737.2" x2="1576.8" y2="737.2" stroke="#231f20" stroke-width="1.3" />
<line x1="1573.3" y1="749.6" x2="1576.8" y2="749.6" stroke="#231f20" stroke-width="1.3" />
<line x1="1570.8" y1="762.1" x2="1576.8" y2="762.1" stroke="#231f20" stroke-width="1.3" />
<line x1="1573.3" y1="774.5" x2="1576.8" y2="774.5" stroke="#231f20" stroke-width="1.3" />
<line x1="1570.8" y1="787.0" x2="1576.8" y2="787.0" stroke="#231f20" stroke-width="1.3" />
<line x1="1573.3" y1="799.4" x2="1576.8" y2="799.4" stroke="#231f20" stroke-width="1.3" />
<line x1="1570.8" y1="811.9" x2="1576.8" y2="811.9" stroke="#231f20" stroke-width="1.3" />
<line x1="1573.3" y1="824.4" x2="1576.8" y2="824.4" stroke="#231f20" stroke-width="1.3" />
<line x1="1570.8" y1="836.8" x2="1576.8" y2="836.8" stroke="#231f20" stroke-width="1.3" />
<line x1="1573.3" y1="849.3" x2="1576.8" y2="849.3" stroke="#231f20" stroke-width="1.3" />
<line x1="1570.8" y1="861.7" x2="1576.8" y2="861.7" stroke="#231f20" stroke-width="1.3" />
<line x1="1573.3" y1="874.2" x2="1576.8" y2="874.2" stroke="#231f20" stroke-width="1.3" />
<line x1="1589.6" y1="886.2" x2="1589.6" y2="892.7" stroke="#231f20" stroke-width="1.5" />
<line x1="1627.8" y1="886.2" x2="1627.8" y2="892.7" stroke="#231f20" stroke-width="1.5" />
<line x1="1666.1" y1="886.2" x2="1666.1" y2="892.7" stroke="#231f20" stroke-width="1.5" />
<line x1="1704.4" y1="886.2" x2="1704.4" y2="892.7" stroke="#231f20" stroke-width="1.5" />
<line x1="1742.7" y1="886.2" x2="1742.7" y2="892.7" stroke="#231f20" stroke-width="1.5" />
<line x1="1781.0" y1="886.2" x2="1781.0" y2="892.7" stroke="#231f20" stroke-width="1.5" />
<line x1="1819.3" y1="886.2" x2="1819.3" y2="892.7" stroke="#231f20" stroke-width="1.5" />
<line x1="1576.8" y1="886.2" x2="1576.8" y2="890.2" stroke="#231f20" stroke-width="1.3" />
<line x1="1608.7" y1="886.2" x2="1608.7" y2="890.2" stroke="#231f20" stroke-width="1.3" />
<line x1="1647.0" y1="886.2" x2="1647.0" y2="890.2" stroke="#231f20" stroke-width="1.3" />
<line x1="1685.3" y1="886.2" x2="1685.3" y2="890.2" stroke="#231f20" stroke-width="1.3" />
<line x1="1723.6" y1="886.2" x2="1723.6" y2="890.2" stroke="#231f20" stroke-width="1.3" />
<line x1="1761.8" y1="886.2" x2="1761.8" y2="890.2" stroke="#231f20" stroke-width="1.3" />
<line x1="1800.1" y1="886.2" x2="1800.1" y2="890.2" stroke="#231f20" stroke-width="1.3" />
<line x1="1838.4" y1="886.2" x2="1838.4" y2="890.2" stroke="#231f20" stroke-width="1.3" />
<text x="1627.8" y="915.4" font-size="27" text-anchor="middle" font-weight="normal" fill="#231f20" stroke="#231f20" stroke-width="0.35" >1.2</text>
<text x="1704.4" y="915.4" font-size="27" text-anchor="middle" font-weight="normal" fill="#231f20" stroke="#231f20" stroke-width="0.35" >1.8</text>
<text x="1781.0" y="915.4" font-size="27" text-anchor="middle" font-weight="normal" fill="#231f20" stroke="#231f20" stroke-width="0.35" >2.4</text>
<text x="1571.5" y="593.2" font-size="27.6" text-anchor="end" font-weight="normal" fill="#231f20" stroke="#231f20" stroke-width="0.35" >β-alanine Metab.</text>
<text x="1571.5" y="618.1" font-size="27.6" text-anchor="end" font-weight="normal" fill="#231f20" stroke="#231f20" stroke-width="0.35" >Glycerol-P. Shuttle</text>
<text x="1571.5" y="643.0" font-size="27.6" text-anchor="end" font-weight="normal" fill="#231f20" stroke="#231f20" stroke-width="0.35" >Pyrimidine Metab.</text>
<text x="1571.5" y="667.9" font-size="27.6" text-anchor="end" font-weight="normal" fill="#231f20" stroke="#231f20" stroke-width="0.35" >Arginine/Proline Metab.</text>
<text x="1571.5" y="692.8" font-size="27.6" text-anchor="end" font-weight="normal" fill="#231f20" stroke="#231f20" stroke-width="0.35" >Electron Transport Chain</text>
<text x="1571.5" y="717.8" font-size="27.6" text-anchor="end" font-weight="normal" fill="#231f20" stroke="#231f20" stroke-width="0.35" >Warburg Effect</text>
<text x="1571.5" y="742.7" font-size="27.6" text-anchor="end" font-weight="normal" fill="#231f20" stroke="#231f20" stroke-width="0.35" >P.lipid Biosynthesis</text>
<text x="1571.5" y="767.6" font-size="27.6" text-anchor="end" font-weight="normal" fill="#231f20" stroke="#231f20" stroke-width="0.35" >Glycine/Serine Metab.</text>
<text x="1571.5" y="792.5" font-size="27.6" text-anchor="end" font-weight="normal" fill="#231f20" stroke="#231f20" stroke-width="0.35" >Glutamate Metab.</text>
<text x="1571.5" y="817.4" font-size="27.6" text-anchor="end" font-weight="normal" fill="#231f20" stroke="#231f20" stroke-width="0.35" >Glucose-Alanine Cycle</text>
<text x="1571.5" y="842.3" font-size="27.6" text-anchor="end" font-weight="normal" fill="#231f20" stroke="#231f20" stroke-width="0.35" >Histidine Metab.</text>
<text x="1571.5" y="867.2" font-size="27.6" text-anchor="end" font-weight="normal" fill="#231f20" stroke="#231f20" stroke-width="0.35" >Glycolysis</text>
<circle cx="1818.8" cy="587.5" r="9.1" fill="#e0252b"/>
<circle cx="1761.8" cy="612.4" r="14.0" fill="#e0252b"/>
<circle cx="1687.3" cy="637.3" r="5.7" fill="#e0252b"/>
<circle cx="1666.0" cy="662.2" r="5.7" fill="#e0252b"/>
<circle cx="1649.7" cy="687.1" r="8.4" fill="#e0252b"/>
<circle cx="1639.4" cy="712.0" r="5.3" fill="#e0252b"/>
<circle cx="1637.9" cy="737.0" r="6.8" fill="#e0252b"/>
<circle cx="1634.9" cy="761.9" r="5.3" fill="#e0252b"/>
<circle cx="1633.7" cy="786.8" r="5.3" fill="#e0252b"/>
<circle cx="1629.2" cy="811.7" r="9.1" fill="#e0252b"/>
<circle cx="1612.5" cy="836.6" r="5.3" fill="#e0252b"/>
<circle cx="1602.2" cy="861.5" r="6.1" fill="#e0252b"/>
<text x="1702.7" y="554.8" font-size="27.6" text-anchor="middle" font-weight="normal" fill="#231f20" stroke="#231f20" stroke-width="0.35" >Severe vs Mild</text>
<text x="1713.6" y="941.5" font-size="27.6" text-anchor="middle" font-weight="normal" fill="#231f20" stroke="#231f20" stroke-width="0.35" >-Log10 (p-value)</text>
<text x="1264.0" y="563.0" font-size="41" text-anchor="start" font-weight="bold" fill="#231f20" >g</text>
<text x="1844.0" y="524.8" font-size="27.6" text-anchor="start" font-weight="normal" fill="#231f20" stroke="#231f20" stroke-width="0.35" >Enrichment</text>
<text x="1880.0" y="558.6" font-size="27.6" text-anchor="start" font-weight="normal" fill="#231f20" stroke="#231f20" stroke-width="0.35" >Ratio</text>
<circle cx="1890.2" cy="580.0" r="5.3" fill="#e0252b"/>
<text x="1908.0" y="583.3" font-size="27" text-anchor="start" font-weight="normal" fill="#231f20" stroke="#231f20" stroke-width="0.35" >2</text>
<circle cx="1890.2" cy="605.6" r="8.1" fill="#e0252b"/>
<text x="1908.0" y="609.2" font-size="27" text-anchor="start" font-weight="normal" fill="#231f20" stroke="#231f20" stroke-width="0.35" >3</text>
<circle cx="1890.2" cy="636.4" r="11.1" fill="#e0252b"/>
<text x="1908.0" y="639.6" font-size="27" text-anchor="start" font-weight="normal" fill="#231f20" stroke="#231f20" stroke-width="0.35" >4</text>
<circle cx="1890.2" cy="673.3" r="14.0" fill="#e0252b"/>
<text x="1908.0" y="675.7" font-size="27" text-anchor="start" font-weight="normal" fill="#231f20" stroke="#231f20" stroke-width="0.35" >5</text>
<text x="12.0" y="1011.6" font-size="41" text-anchor="start" font-weight="bold" fill="#231f20" >h</text>
<rect x="202.9" y="1341.8" width="49.6" height="16.6" fill="#3f5fae" />
<rect x="202.9" y="1303.6" width="49.6" height="38.2" fill="#e23b2e" />
<rect x="202.9" y="1256.9" width="49.6" height="46.7" fill="#2fb24a" />
<rect x="202.9" y="1222.9" width="49.6" height="34.0" fill="#9a55a5" />
<rect x="202.9" y="1206.0" width="49.6" height="17.0" fill="#f39430" />
<rect x="202.9" y="1191.9" width="49.6" height="14.0" fill="#000000" />
<rect x="202.9" y="1186.0" width="49.6" height="5.9" fill="#a6772f" />
<rect x="202.9" y="1185.4" width="49.6" height="0.6" fill="#2f3a8f" />
<rect x="202.9" y="1174.5" width="49.6" height="10.9" fill="#701b5f" />
<rect x="202.9" y="1168.7" width="49.6" height="5.8" fill="#b51f2a" />
<rect x="278.0" y="1335.9" width="49.7" height="22.5" fill="#3f5fae" />
<rect x="278.0" y="1287.9" width="49.7" height="48.0" fill="#e23b2e" />
<rect x="278.0" y="1242.5" width="49.7" height="45.4" fill="#2fb24a" />
<rect x="278.0" y="1207.2" width="49.7" height="35.2" fill="#9a55a5" />
<rect x="278.0" y="1186.0" width="49.7" height="21.2" fill="#f39430" />
<rect x="278.0" y="1172.0" width="49.7" height="14.0" fill="#000000" />
<rect x="278.0" y="1166.0" width="49.7" height="5.9" fill="#a6772f" />
<rect x="278.0" y="1164.5" width="49.7" height="1.6" fill="#2f3a8f" />
<rect x="278.0" y="1147.8" width="49.7" height="16.7" fill="#701b5f" />
<rect x="278.0" y="1142.3" width="49.7" height="5.5" fill="#b51f2a" />
<rect x="353.6" y="1351.6" width="50.4" height="6.8" fill="#3f5fae" />
<rect x="353.6" y="1321.9" width="50.4" height="29.7" fill="#e23b2e" />
<rect x="353.6" y="1301.9" width="50.4" height="20.0" fill="#2fb24a" />
<rect x="353.6" y="1282.4" width="50.4" height="19.5" fill="#9a55a5" />
<rect x="353.6" y="1270.9" width="50.4" height="11.5" fill="#f39430" />
<rect x="353.6" y="1253.5" width="50.4" height="17.4" fill="#000000" />
<rect x="353.6" y="1251.4" width="50.4" height="2.1" fill="#a6772f" />
<rect x="353.6" y="1250.8" width="50.4" height="0.6" fill="#2f3a8f" />
<rect x="353.6" y="1239.5" width="50.4" height="11.3" fill="#701b5f" />
<rect x="353.6" y="1236.0" width="50.4" height="3.5" fill="#b51f2a" />
<line x1="175.3" y1="1074.3" x2="175.3" y2="1359.9" stroke="#000" stroke-width="2.9" />
<line x1="173.9" y1="1358.4" x2="428.7" y2="1358.4" stroke="#000" stroke-width="2.9" />
<line x1="163.5" y1="1358.4" x2="175.3" y2="1358.4" stroke="#000" stroke-width="2.8" />
<text x="159.0" y="1368.6" font-size="30" text-anchor="end" font-weight="normal" fill="#231f20" stroke="#231f20" stroke-width="0.35" >0</text>
<line x1="163.5" y1="1287.6" x2="175.3" y2="1287.6" stroke="#000" stroke-width="2.8" />
<text x="159.0" y="1297.8" font-size="30" text-anchor="end" font-weight="normal" fill="#231f20" stroke="#231f20" stroke-width="0.35" >50</text>
<line x1="163.5" y1="1216.8" x2="175.3" y2="1216.8" stroke="#000" stroke-width="2.8" />
<text x="159.0" y="1227.0" font-size="30" text-anchor="end" font-weight="normal" fill="#231f20" stroke="#231f20" stroke-width="0.35" >100</text>
<line x1="163.5" y1="1146.1" x2="175.3" y2="1146.1" stroke="#000" stroke-width="2.8" />
<text x="159.0" y="1156.3" font-size="30" text-anchor="end" font-weight="normal" fill="#231f20" stroke="#231f20" stroke-width="0.35" >150</text>
<line x1="163.5" y1="1075.3" x2="175.3" y2="1075.3" stroke="#000" stroke-width="2.8" />
<text x="159.0" y="1085.5" font-size="30" text-anchor="end" font-weight="normal" fill="#231f20" stroke="#231f20" stroke-width="0.35" >200</text>
<line x1="227.7" y1="1358.4" x2="227.7" y2="1371.1" stroke="#000" stroke-width="2.8" />
<line x1="302.9" y1="1358.4" x2="302.9" y2="1371.1" stroke="#000" stroke-width="2.8" />
<line x1="378.2" y1="1358.4" x2="378.2" y2="1371.1" stroke="#000" stroke-width="2.8" />
<text x="205.8" y="1398.7" font-size="30" text-anchor="middle" font-weight="normal" fill="#231f20" stroke="#231f20" stroke-width="0.35" >mild</text>
<text x="205.8" y="1419.0" font-size="30" text-anchor="middle" font-weight="normal" fill="#231f20" stroke="#231f20" stroke-width="0.35" >vs</text>
<text x="205.8" y="1439.9" font-size="30" text-anchor="middle" font-weight="normal" fill="#231f20" stroke="#231f20" stroke-width="0.35" >control</text>
<text x="302.9" y="1398.7" font-size="30" text-anchor="middle" font-weight="normal" fill="#231f20" stroke="#231f20" stroke-width="0.35" >severe</text>
<text x="302.9" y="1419.0" font-size="30" text-anchor="middle" font-weight="normal" fill="#231f20" stroke="#231f20" stroke-width="0.35" >vs</text>
<text x="302.9" y="1439.9" font-size="30" text-anchor="middle" font-weight="normal" fill="#231f20" stroke="#231f20" stroke-width="0.35" >control</text>
<text x="404.3" y="1398.7" font-size="30" text-anchor="middle" font-weight="normal" fill="#231f20" stroke="#231f20" stroke-width="0.35" >severe</text>
<text x="404.3" y="1419.0" font-size="30" text-anchor="middle" font-weight="normal" fill="#231f20" stroke="#231f20" stroke-width="0.35" >vs</text>
<text x="404.3" y="1439.9" font-size="30" text-anchor="middle" font-weight="normal" fill="#231f20" stroke="#231f20" stroke-width="0.35" >mild</text>
<text x="56.5" y="1237.4" font-size="30.2" text-anchor="middle" font-weight="normal" fill="#231f20" stroke="#231f20" stroke-width="0.35" transform="rotate(-90 56.5 1237.4)">No. of differentially</text>
<text x="95.5" y="1233.1" font-size="30.2" text-anchor="middle" font-weight="normal" fill="#231f20" stroke="#231f20" stroke-width="0.35" transform="rotate(-90 95.5 1233.1)">abundant metabolites</text>
<rect x="461.7" y="1072.2" width="30.2" height="15.5" fill="#3f5fae" />
<text x="497.5" y="1089.8" font-size="30.4" text-anchor="start" font-weight="normal" fill="#231f20" stroke="#231f20" stroke-width="0.35" >carbohydrates</text>
<rect x="461.7" y="1102.3" width="30.2" height="15.5" fill="#e23b2e" />
<text x="497.5" y="1119.8" font-size="30.4" text-anchor="start" font-weight="normal" fill="#231f20" stroke="#231f20" stroke-width="0.35" >amino acids</text>
<rect x="461.7" y="1132.3" width="30.2" height="15.5" fill="#2fb24a" />
<text x="497.5" y="1149.9" font-size="30.4" text-anchor="start" font-weight="normal" fill="#231f20" stroke="#231f20" stroke-width="0.35" >lipids</text>
<rect x="461.7" y="1162.4" width="30.2" height="15.5" fill="#9a55a5" />
<text x="497.5" y="1180.0" font-size="30.4" text-anchor="start" font-weight="normal" fill="#231f20" stroke="#231f20" stroke-width="0.35" >nucleotides</text>
<rect x="461.7" y="1192.5" width="30.2" height="15.5" fill="#f39430" />
<text x="497.5" y="1210.0" font-size="30.4" text-anchor="start" font-weight="normal" fill="#231f20" stroke="#231f20" stroke-width="0.35" >organic acids</text>
<rect x="461.7" y="1222.5" width="30.2" height="15.5" fill="#000000" />
<text x="497.5" y="1240.0" font-size="30.4" text-anchor="start" font-weight="normal" fill="#231f20" stroke="#231f20" stroke-width="0.35" >dipeptides/tripeptides</text>
<rect x="461.7" y="1252.5" width="30.2" height="15.5" fill="#a6772f" />
<text x="497.5" y="1270.1" font-size="30.4" text-anchor="start" font-weight="normal" fill="#231f20" stroke="#231f20" stroke-width="0.35" >cofactors and vitamins</text>
<rect x="461.7" y="1282.6" width="30.2" height="15.5" fill="#2f3a8f" />
<text x="497.5" y="1300.1" font-size="30.4" text-anchor="start" font-weight="normal" fill="#231f20" stroke="#231f20" stroke-width="0.35" >xenobiotics</text>
<rect x="461.7" y="1312.7" width="30.2" height="15.5" fill="#701b5f" />
<text x="497.5" y="1330.2" font-size="30.4" text-anchor="start" font-weight="normal" fill="#231f20" stroke="#231f20" stroke-width="0.35" >carnitines</text>
<rect x="461.7" y="1342.7" width="30.2" height="15.5" fill="#b51f2a" />
<text x="497.5" y="1360.2" font-size="30.4" text-anchor="start" font-weight="normal" fill="#231f20" stroke="#231f20" stroke-width="0.35" >cholines/ethanolamines</text>
<defs><filter id="hblur" x="-10%" y="-10%" width="120%" height="120%"><feGaussianBlur stdDeviation="2.5"/></filter></defs>
<path d="M1044.4,1106.3a12,12 0 1,0 24,0a12,12 0 1,0 -24,0M1062.1,1113.0a12,12 0 1,0 24,0a12,12 0 1,0 -24,0M1017.5,1130.5a12,12 0 1,0 24,0a12,12 0 1,0 -24,0M1035.0,1130.9a12,12 0 1,0 24,0a12,12 0 1,0 -24,0M1014.8,1144.0a12,12 0 1,0 24,0a12,12 0 1,0 -24,0M1036.1,1144.0a12,12 0 1,0 24,0a12,12 0 1,0 -24,0M1063.8,1145.3a12,12 0 1,0 24,0a12,12 0 1,0 -24,0M1026.0,1156.8a12,12 0 1,0 24,0a12,12 0 1,0 -24,0M1011.5,1161.2a12,12 0 1,0 24,0a12,12 0 1,0 -24,0M1064.7,1163.8a12,12 0 1,0 24,0a12,12 0 1,0 -24,0M1024.7,1169.3a12,12 0 1,0 24,0a12,12 0 1,0 -24,0M929.1,1174.7a12,12 0 1,0 24,0a12,12 0 1,0 -24,0M960.1,1179.9a12,12 0 1,0 24,0a12,12 0 1,0 -24,0M1051.9,1173.5a12,12 0 1,0 24,0a12,12 0 1,0 -24,0M1037.2,1179.4a12,12 0 1,0 24,0a12,12 0 1,0 -24,0M1002.9,1190.4a12,12 0 1,0 24,0a12,12 0 1,0 -24,0M1055.1,1186.5a12,12 0 1,0 24,0a12,12 0 1,0 -24,0M1015.9,1195.1a12,12 0 1,0 24,0a12,12 0 1,0 -24,0M1029.4,1195.1a12,12 0 1,0 24,0a12,12 0 1,0 -24,0M1042.4,1192.4a12,12 0 1,0 24,0a12,12 0 1,0 -24,0M933.8,1200.9a12,12 0 1,0 24,0a12,12 0 1,0 -24,0M946.6,1206.6a12,12 0 1,0 24,0a12,12 0 1,0 -24,0M996.4,1204.3a12,12 0 1,0 24,0a12,12 0 1,0 -24,0M1009.5,1207.9a12,12 0 1,0 24,0a12,12 0 1,0 -24,0M1055.4,1203.4a12,12 0 1,0 24,0a12,12 0 1,0 -24,0M1042.2,1208.6a12,12 0 1,0 24,0a12,12 0 1,0 -24,0M886.1,1213.3a12,12 0 1,0 24,0a12,12 0 1,0 -24,0M912.6,1213.3a12,12 0 1,0 24,0a12,12 0 1,0 -24,0M961.8,1211.3a12,12 0 1,0 24,0a12,12 0 1,0 -24,0M938.3,1219.4a12,12 0 1,0 24,0a12,12 0 1,0 -24,0M951.3,1224.3a12,12 0 1,0 24,0a12,12 0 1,0 -24,0M977.9,1229.6a12,12 0 1,0 24,0a12,12 0 1,0 -24,0M1067.7,1197.7a12,12 0 1,0 24,0a12,12 0 1,0 -24,0M1048.8,1122.6a12,12 0 1,0 24,0a12,12 0 1,0 -24,0M1038.8,1165.3a12,12 0 1,0 24,0a12,12 0 1,0 -24,0M942.3,1176.3a12,12 0 1,0 24,0a12,12 0 1,0 -24,0M1007.2,1177.0a12,12 0 1,0 24,0a12,12 0 1,0 -24,0M1019.7,1182.3a12,12 0 1,0 24,0a12,12 0 1,0 -24,0M906.0,1189.1a12,12 0 1,0 24,0a12,12 0 1,0 -24,0M927.5,1187.7a12,12 0 1,0 24,0a12,12 0 1,0 -24,0M947.0,1190.7a12,12 0 1,0 24,0a12,12 0 1,0 -24,0M974.9,1186.7a12,12 0 1,0 24,0a12,12 0 1,0 -24,0M961.8,1193.8a12,12 0 1,0 24,0a12,12 0 1,0 -24,0M899.9,1201.9a12,12 0 1,0 24,0a12,12 0 1,0 -24,0M918.8,1200.5a12,12 0 1,0 24,0a12,12 0 1,0 -24,0M974.9,1199.8a12,12 0 1,0 24,0a12,12 0 1,0 -24,0M1026.9,1207.9a12,12 0 1,0 24,0a12,12 0 1,0 -24,0M925.3,1213.3a12,12 0 1,0 24,0a12,12 0 1,0 -24,0M974.9,1214.0a12,12 0 1,0 24,0a12,12 0 1,0 -24,0M987.7,1217.3a12,12 0 1,0 24,0a12,12 0 1,0 -24,0M899.1,1219.8a12,12 0 1,0 24,0a12,12 0 1,0 -24,0M1000.8,1222.3a12,12 0 1,0 24,0a12,12 0 1,0 -24,0M1013.5,1221.1a12,12 0 1,0 24,0a12,12 0 1,0 -24,0M912.3,1226.1a12,12 0 1,0 24,0a12,12 0 1,0 -24,0M925.1,1226.1a12,12 0 1,0 24,0a12,12 0 1,0 -24,0M1030.4,1118.0a12,12 0 1,0 24,0a12,12 0 1,0 -24,0M1062.4,1130.7a12,12 0 1,0 24,0a12,12 0 1,0 -24,0M1049.3,1136.6a12,12 0 1,0 24,0a12,12 0 1,0 -24,0M1050.4,1151.8a12,12 0 1,0 24,0a12,12 0 1,0 -24,0M1057.1,1216.3a12,12 0 1,0 24,0a12,12 0 1,0 -24,0M1044.4,1226.8a12,12 0 1,0 24,0a12,12 0 1,0 -24,0M964.5,1226.8a12,12 0 1,0 24,0a12,12 0 1,0 -24,0M1029.0,1221.0a12,12 0 1,0 24,0a12,12 0 1,0 -24,0M1079.2,1121.0a12,12 0 1,0 24,0a12,12 0 1,0 -24,0M1093.4,1118.1a12,12 0 1,0 24,0a12,12 0 1,0 -24,0M1077.7,1133.6a12,12 0 1,0 24,0a12,12 0 1,0 -24,0M1090.8,1144.2a12,12 0 1,0 24,0a12,12 0 1,0 -24,0M1120.5,1147.8a12,12 0 1,0 24,0a12,12 0 1,0 -24,0M1077.7,1153.6a12,12 0 1,0 24,0a12,12 0 1,0 -24,0M1093.4,1159.4a12,12 0 1,0 24,0a12,12 0 1,0 -24,0M1079.2,1167.0a12,12 0 1,0 24,0a12,12 0 1,0 -24,0M1123.4,1164.2a12,12 0 1,0 24,0a12,12 0 1,0 -24,0M1099.4,1174.3a12,12 0 1,0 24,0a12,12 0 1,0 -24,0M1115.7,1177.1a12,12 0 1,0 24,0a12,12 0 1,0 -24,0M1070.5,1180.7a12,12 0 1,0 24,0a12,12 0 1,0 -24,0M1086.4,1182.2a12,12 0 1,0 24,0a12,12 0 1,0 -24,0M1107.1,1192.5a12,12 0 1,0 24,0a12,12 0 1,0 -24,0M1081.3,1197.4a12,12 0 1,0 24,0a12,12 0 1,0 -24,0M1070.3,1211.2a12,12 0 1,0 24,0a12,12 0 1,0 -24,0M1082.8,1212.8a12,12 0 1,0 24,0a12,12 0 1,0 -24,0M1095.8,1208.3a12,12 0 1,0 24,0a12,12 0 1,0 -24,0M1099.3,1221.7a12,12 0 1,0 24,0a12,12 0 1,0 -24,0M1070.8,1225.8a12,12 0 1,0 24,0a12,12 0 1,0 -24,0M1103.8,1146.1a12,12 0 1,0 24,0a12,12 0 1,0 -24,0M1110.3,1161.3a12,12 0 1,0 24,0a12,12 0 1,0 -24,0M1094.4,1195.4a12,12 0 1,0 24,0a12,12 0 1,0 -24,0M1108.6,1205.8a12,12 0 1,0 24,0a12,12 0 1,0 -24,0M899.2,1238.9a12,12 0 1,0 24,0a12,12 0 1,0 -24,0M919.2,1253.3a12,12 0 1,0 24,0a12,12 0 1,0 -24,0M933.4,1252.4a12,12 0 1,0 24,0a12,12 0 1,0 -24,0M973.5,1253.7a12,12 0 1,0 24,0a12,12 0 1,0 -24,0M987.4,1253.3a12,12 0 1,0 24,0a12,12 0 1,0 -24,0M991.3,1236.9a12,12 0 1,0 24,0a12,12 0 1,0 -24,0M1020.6,1247.0a12,12 0 1,0 24,0a12,12 0 1,0 -24,0M1041.5,1246.7a12,12 0 1,0 24,0a12,12 0 1,0 -24,0M932.9,1264.9a12,12 0 1,0 24,0a12,12 0 1,0 -24,0M966.4,1267.9a12,12 0 1,0 24,0a12,12 0 1,0 -24,0M1033.7,1259.8a12,12 0 1,0 24,0a12,12 0 1,0 -24,0M1012.5,1272.8a12,12 0 1,0 24,0a12,12 0 1,0 -24,0M1027.1,1273.2a12,12 0 1,0 24,0a12,12 0 1,0 -24,0M998.4,1283.3a12,12 0 1,0 24,0a12,12 0 1,0 -24,0M1027.4,1290.5a12,12 0 1,0 24,0a12,12 0 1,0 -24,0M1041.5,1284.4a12,12 0 1,0 24,0a12,12 0 1,0 -24,0M1054.4,1284.0a12,12 0 1,0 24,0a12,12 0 1,0 -24,0M952.9,1302.9a12,12 0 1,0 24,0a12,12 0 1,0 -24,0M992.4,1299.5a12,12 0 1,0 24,0a12,12 0 1,0 -24,0M1005.1,1298.5a12,12 0 1,0 24,0a12,12 0 1,0 -24,0M1026.3,1304.2a12,12 0 1,0 24,0a12,12 0 1,0 -24,0M1056.8,1298.1a12,12 0 1,0 24,0a12,12 0 1,0 -24,0M1043.5,1310.9a12,12 0 1,0 24,0a12,12 0 1,0 -24,0M1056.8,1310.8a12,12 0 1,0 24,0a12,12 0 1,0 -24,0M965.7,1321.7a12,12 0 1,0 24,0a12,12 0 1,0 -24,0M1004.5,1324.4a12,12 0 1,0 24,0a12,12 0 1,0 -24,0M1018.9,1329.8a12,12 0 1,0 24,0a12,12 0 1,0 -24,0M963.2,1334.7a12,12 0 1,0 24,0a12,12 0 1,0 -24,0M979.3,1331.5a12,12 0 1,0 24,0a12,12 0 1,0 -24,0M992.8,1337.2a12,12 0 1,0 24,0a12,12 0 1,0 -24,0M979.2,1346.2a12,12 0 1,0 24,0a12,12 0 1,0 -24,0M961.8,1352.2a12,12 0 1,0 24,0a12,12 0 1,0 -24,0M987.9,1359.8a12,12 0 1,0 24,0a12,12 0 1,0 -24,0M884.7,1232.9a12,12 0 1,0 24,0a12,12 0 1,0 -24,0M912.3,1239.3a12,12 0 1,0 24,0a12,12 0 1,0 -24,0M924.8,1239.3a12,12 0 1,0 24,0a12,12 0 1,0 -24,0M938.1,1236.9a12,12 0 1,0 24,0a12,12 0 1,0 -24,0M951.6,1238.0a12,12 0 1,0 24,0a12,12 0 1,0 -24,0M965.0,1240.5a12,12 0 1,0 24,0a12,12 0 1,0 -24,0M1005.4,1238.5a12,12 0 1,0 24,0a12,12 0 1,0 -24,0M1018.3,1234.2a12,12 0 1,0 24,0a12,12 0 1,0 -24,0M1031.4,1234.0a12,12 0 1,0 24,0a12,12 0 1,0 -24,0M1057.8,1240.2a12,12 0 1,0 24,0a12,12 0 1,0 -24,0M902.6,1252.7a12,12 0 1,0 24,0a12,12 0 1,0 -24,0M946.6,1251.0a12,12 0 1,0 24,0a12,12 0 1,0 -24,0M959.7,1253.7a12,12 0 1,0 24,0a12,12 0 1,0 -24,0M1002.5,1252.4a12,12 0 1,0 24,0a12,12 0 1,0 -24,0M1016.6,1259.8a12,12 0 1,0 24,0a12,12 0 1,0 -24,0M1055.8,1256.4a12,12 0 1,0 24,0a12,12 0 1,0 -24,0M904.9,1265.8a12,12 0 1,0 24,0a12,12 0 1,0 -24,0M919.7,1268.1a12,12 0 1,0 24,0a12,12 0 1,0 -24,0M946.3,1263.8a12,12 0 1,0 24,0a12,12 0 1,0 -24,0M982.0,1269.6a12,12 0 1,0 24,0a12,12 0 1,0 -24,0M998.4,1266.9a12,12 0 1,0 24,0a12,12 0 1,0 -24,0M1047.1,1271.2a12,12 0 1,0 24,0a12,12 0 1,0 -24,0M937.5,1278.0a12,12 0 1,0 24,0a12,12 0 1,0 -24,0M910.5,1282.3a12,12 0 1,0 24,0a12,12 0 1,0 -24,0M968.5,1284.7a12,12 0 1,0 24,0a12,12 0 1,0 -24,0M985.0,1285.1a12,12 0 1,0 24,0a12,12 0 1,0 -24,0M1014.3,1285.8a12,12 0 1,0 24,0a12,12 0 1,0 -24,0M924.8,1290.7a12,12 0 1,0 24,0a12,12 0 1,0 -24,0M950.0,1289.8a12,12 0 1,0 24,0a12,12 0 1,0 -24,0M1042.2,1297.5a12,12 0 1,0 24,0a12,12 0 1,0 -24,0M939.2,1304.2a12,12 0 1,0 24,0a12,12 0 1,0 -24,0M923.5,1306.9a12,12 0 1,0 24,0a12,12 0 1,0 -24,0M965.7,1305.9a12,12 0 1,0 24,0a12,12 0 1,0 -24,0M1008.9,1311.6a12,12 0 1,0 24,0a12,12 0 1,0 -24,0M929.8,1320.1a12,12 0 1,0 24,0a12,12 0 1,0 -24,0M952.0,1318.3a12,12 0 1,0 24,0a12,12 0 1,0 -24,0M937.6,1333.1a12,12 0 1,0 24,0a12,12 0 1,0 -24,0M1005.8,1337.2a12,12 0 1,0 24,0a12,12 0 1,0 -24,0M936.2,1346.3a12,12 0 1,0 24,0a12,12 0 1,0 -24,0M1000.8,1354.9a12,12 0 1,0 24,0a12,12 0 1,0 -24,0M974.9,1362.1a12,12 0 1,0 24,0a12,12 0 1,0 -24,0M1001.4,1368.8a12,12 0 1,0 24,0a12,12 0 1,0 -24,0M979.6,1299.1a12,12 0 1,0 24,0a12,12 0 1,0 -24,0M978.6,1317.7a12,12 0 1,0 24,0a12,12 0 1,0 -24,0M991.3,1316.0a12,12 0 1,0 24,0a12,12 0 1,0 -24,0M1064.7,1269.1a12,12 0 1,0 24,0a12,12 0 1,0 -24,0M949.0,1345.9a12,12 0 1,0 24,0a12,12 0 1,0 -24,0M953.3,1276.9a12,12 0 1,0 24,0a12,12 0 1,0 -24,0M1100.6,1260.0a12,12 0 1,0 24,0a12,12 0 1,0 -24,0M1092.6,1274.1a12,12 0 1,0 24,0a12,12 0 1,0 -24,0M1071.6,1299.1a12,12 0 1,0 24,0a12,12 0 1,0 -24,0M1070.2,1317.0a12,12 0 1,0 24,0a12,12 0 1,0 -24,0M1102.6,1314.1a12,12 0 1,0 24,0a12,12 0 1,0 -24,0M1073.1,1248.4a12,12 0 1,0 24,0a12,12 0 1,0 -24,0M1087.9,1252.5a12,12 0 1,0 24,0a12,12 0 1,0 -24,0M1080.2,1269.9a12,12 0 1,0 24,0a12,12 0 1,0 -24,0M1078.7,1283.5a12,12 0 1,0 24,0a12,12 0 1,0 -24,0M1141.5,1287.2a12,12 0 1,0 24,0a12,12 0 1,0 -24,0M1083.2,1311.9a12,12 0 1,0 24,0a12,12 0 1,0 -24,0M1115.7,1312.6a12,12 0 1,0 24,0a12,12 0 1,0 -24,0M1082.3,1329.9a12,12 0 1,0 24,0a12,12 0 1,0 -24,0M1112.2,1327.0a12,12 0 1,0 24,0a12,12 0 1,0 -24,0M1068.7,1342.6a12,12 0 1,0 24,0a12,12 0 1,0 -24,0M1083.2,1344.1a12,12 0 1,0 24,0a12,12 0 1,0 -24,0M1075.5,1360.4a12,12 0 1,0 24,0a12,12 0 1,0 -24,0" fill="#d9d9d9" filter="url(#hblur)"/>
<path d="M1021.5,1026.9L1044.3,1043.1M1044.3,1043.1L1031.5,1055.8M1031.5,1055.8L1012.8,1099.6M1031.5,1055.8L1041.4,1093.8M1006.7,1071.1L1012.8,1099.6M981.1,1075.4L1012.8,1099.6M1015.8,1084.1L1025.9,1117.1M1015.8,1084.1L1029.5,1130.5M1015.8,1084.1L985.1,1123.1M1015.8,1084.1L1041.4,1093.8M1066.2,1093.4L1056.4,1106.3M1066.2,1093.4L1025.9,1117.1M1066.2,1093.4L1060.8,1122.6M1066.2,1093.4L1041.4,1093.8M1066.2,1093.4L1042.4,1118.0M1066.2,1093.4L1061.3,1136.6M1066.2,1093.4L1095.2,1104.8M1056.4,1106.3L1025.9,1117.1M1056.4,1106.3L1047.0,1130.9M1056.4,1106.3L1026.8,1144.0M1056.4,1106.3L1074.4,1130.7M1025.9,1117.1L1074.1,1113.0M1025.9,1117.1L1029.5,1130.5M1025.9,1117.1L1026.8,1144.0M1025.9,1117.1L1048.1,1144.0M1025.9,1117.1L999.4,1122.9M1025.9,1117.1L1042.4,1118.0M1074.1,1113.0L1029.5,1130.5M1074.1,1113.0L1047.0,1130.9M1074.1,1113.0L1041.4,1093.8M1074.1,1113.0L1042.4,1118.0M1074.1,1113.0L1091.2,1121.0M1074.1,1113.0L1089.7,1153.6M935.1,1114.4L944.5,1161.5M1029.5,1130.5L1036.7,1169.3M1029.5,1130.5L1060.8,1122.6M1029.5,1130.5L1019.2,1177.0M1029.5,1130.5L985.1,1123.1M1029.5,1130.5L1062.4,1151.8M1047.0,1130.9L1026.8,1144.0M1047.0,1130.9L1048.1,1144.0M1047.0,1130.9L1063.9,1173.5M1047.0,1130.9L999.4,1122.9M1047.0,1130.9L1060.8,1122.6M1047.0,1130.9L1014.2,1147.1M1047.0,1130.9L1041.4,1093.8M1047.0,1130.9L1042.4,1118.0M1047.0,1130.9L1061.3,1136.6M1047.0,1130.9L1062.4,1151.8M1047.0,1130.9L1091.2,1121.0M1047.0,1130.9L1089.7,1153.6M903.2,1144.9L941.1,1174.7M903.2,1144.9L926.6,1175.6M903.2,1144.9L872.1,1125.6M903.2,1144.9L922.3,1129.2M1026.8,1144.0L1075.8,1145.3M1026.8,1144.0L1038.0,1156.8M1026.8,1144.0L1036.7,1169.3M1026.8,1144.0L1014.9,1190.4M1026.8,1144.0L1012.8,1099.6M1026.8,1144.0L999.4,1122.9M1026.8,1144.0L1014.2,1147.1M1026.8,1144.0L1031.7,1182.3M1026.8,1144.0L1061.3,1136.6M1048.1,1144.0L1075.8,1145.3M1048.1,1144.0L1023.5,1161.2M1048.1,1144.0L1006.4,1170.2M1048.1,1144.0L1036.7,1169.3M1048.1,1144.0L1067.1,1186.5M1048.1,1144.0L1060.8,1122.6M1048.1,1144.0L1019.2,1177.0M1048.1,1144.0L1031.7,1182.3M1048.1,1144.0L1042.4,1118.0M1048.1,1144.0L1061.3,1136.6M1048.1,1144.0L1089.7,1153.6M1075.8,1145.3L1063.9,1173.5M1075.8,1145.3L1049.2,1179.4M1075.8,1145.3L1067.1,1186.5M1075.8,1145.3L1042.4,1118.0M1075.8,1145.3L1074.4,1130.7M1075.8,1145.3L1062.4,1151.8M1075.8,1145.3L1091.2,1121.0M1075.8,1145.3L1110.3,1131.2M1075.8,1145.3L1102.8,1144.2M1075.8,1145.3L1089.7,1153.6M1075.8,1145.3L1111.4,1174.3M1075.8,1145.3L1082.5,1180.7M1038.0,1156.8L1023.5,1161.2M1038.0,1156.8L1049.2,1179.4M1038.0,1156.8L1067.1,1186.5M1038.0,1156.8L1027.9,1195.1M1038.0,1156.8L1054.4,1192.4M1038.0,1156.8L1019.2,1177.0M1038.0,1156.8L1031.7,1182.3M1038.0,1156.8L1042.4,1118.0M1023.5,1161.2L1036.7,1169.3M1023.5,1161.2L1049.2,1179.4M1023.5,1161.2L1014.9,1190.4M1023.5,1161.2L1027.9,1195.1M1023.5,1161.2L1021.5,1207.9M1023.5,1161.2L985.5,1168.2M1023.5,1161.2L1019.2,1177.0M1023.5,1161.2L1031.7,1182.3M1023.5,1161.2L986.9,1186.7M1076.7,1163.8L1036.7,1169.3M1076.7,1163.8L1067.1,1186.5M1076.7,1163.8L1054.4,1192.4M1076.7,1163.8L1067.4,1203.4M1076.7,1163.8L1060.8,1122.6M1076.7,1163.8L1050.8,1165.3M1076.7,1163.8L1061.3,1136.6M1076.7,1163.8L1062.4,1151.8M1076.7,1163.8L1091.2,1121.0M1076.7,1163.8L1110.3,1131.2M1076.7,1163.8L1089.7,1153.6M1076.7,1163.8L1111.4,1174.3M1076.7,1163.8L1082.5,1180.7M1076.7,1163.8L1093.3,1197.4M1076.7,1163.8L1115.8,1146.1M1076.7,1163.8L1122.3,1161.3M1006.4,1170.2L1036.7,1169.3M1006.4,1170.2L1014.9,1190.4M1006.4,1170.2L1027.9,1195.1M1006.4,1170.2L999.4,1122.9M1006.4,1170.2L963.3,1145.3M1006.4,1170.2L986.9,1186.7M1006.4,1170.2L986.9,1199.8M1006.4,1170.2L1038.9,1207.9M1006.4,1170.2L986.9,1214.0M1006.4,1170.2L999.7,1217.3M1036.7,1169.3L1041.4,1195.1M1036.7,1169.3L1054.4,1192.4M1036.7,1169.3L1008.4,1204.3M1036.7,1169.3L1021.5,1207.9M1036.7,1169.3L1014.2,1147.1M1036.7,1169.3L1050.8,1165.3M1036.7,1169.3L1061.3,1136.6M1036.7,1169.3L1062.4,1151.8M1036.7,1169.3L1082.5,1180.7M941.1,1174.7L972.1,1179.9M941.1,1174.7L945.8,1200.9M941.1,1174.7L958.6,1206.6M941.1,1174.7L973.8,1211.3M941.1,1174.7L985.5,1168.2M941.1,1174.7L918.0,1189.1M941.1,1174.7L959.0,1190.7M941.1,1174.7L930.8,1200.5M941.1,1174.7L937.3,1213.3M972.1,1179.9L945.8,1200.9M972.1,1179.9L1008.4,1204.3M972.1,1179.9L950.3,1219.4M972.1,1179.9L963.3,1224.3M972.1,1179.9L939.5,1187.7M972.1,1179.9L986.9,1186.7M972.1,1179.9L986.9,1199.8M972.1,1179.9L937.3,1213.3M1063.9,1173.5L1041.4,1195.1M1063.9,1173.5L1054.4,1192.4M1063.9,1173.5L1067.4,1203.4M1063.9,1173.5L1054.2,1208.6M1063.9,1173.5L1050.8,1165.3M1063.9,1173.5L1031.7,1182.3M1063.9,1173.5L1038.9,1207.9M1063.9,1173.5L1074.4,1130.7M1063.9,1173.5L1061.3,1136.6M1063.9,1173.5L1062.4,1151.8M1063.9,1173.5L1089.7,1133.6M1063.9,1173.5L1102.8,1144.2M1063.9,1173.5L1105.4,1159.4M1063.9,1173.5L1091.2,1167.0M1063.9,1173.5L1106.4,1195.4M1049.2,1179.4L1027.9,1195.1M1049.2,1179.4L1041.4,1195.1M1049.2,1179.4L1067.4,1203.4M1049.2,1179.4L1079.7,1197.7M1049.2,1179.4L1014.2,1147.1M1049.2,1179.4L1031.7,1182.3M1049.2,1179.4L1061.3,1136.6M1049.2,1179.4L1056.4,1226.8M899.4,1184.8L945.8,1200.9M899.4,1184.8L898.1,1213.3M899.4,1184.8L924.6,1213.3M899.4,1184.8L939.5,1187.7M899.4,1184.8L930.8,1200.5M899.4,1184.8L937.3,1213.3M899.4,1184.8L924.3,1226.1M1014.9,1190.4L1054.4,1192.4M1014.9,1190.4L1054.2,1208.6M1014.9,1190.4L986.9,1186.7M1014.9,1190.4L1038.9,1207.9M1014.9,1190.4L986.9,1214.0M1014.9,1190.4L999.7,1217.3M1014.9,1190.4L1041.0,1221.0M1014.9,1190.4L1017.4,1238.5M1014.9,1190.4L1030.3,1234.2M1067.1,1186.5L1027.9,1195.1M1067.1,1186.5L1041.4,1195.1M1067.1,1186.5L1067.4,1203.4M1067.1,1186.5L1054.2,1208.6M1067.1,1186.5L1050.8,1165.3M1067.1,1186.5L1062.4,1151.8M1067.1,1186.5L1069.1,1216.3M1067.1,1186.5L1041.0,1221.0M1067.1,1186.5L1105.4,1159.4M1067.1,1186.5L1106.4,1195.4M1027.9,1195.1L1041.4,1195.1M1027.9,1195.1L1054.4,1192.4M1027.9,1195.1L1021.5,1207.9M1027.9,1195.1L1031.7,1182.3M1027.9,1195.1L1038.9,1207.9M1027.9,1195.1L999.7,1217.3M1027.9,1195.1L1025.5,1221.1M1027.9,1195.1L1041.0,1221.0M1027.9,1195.1L1003.3,1236.9M1041.4,1195.1L1008.4,1204.3M1041.4,1195.1L1021.5,1207.9M1041.4,1195.1L1067.4,1203.4M1041.4,1195.1L1054.2,1208.6M1041.4,1195.1L1025.5,1221.1M1041.4,1195.1L1056.4,1226.8M1041.4,1195.1L1041.0,1221.0M1041.4,1195.1L1017.4,1238.5M1041.4,1195.1L1030.3,1234.2M1041.4,1195.1L1043.4,1234.0M1054.4,1192.4L1021.5,1207.9M1054.4,1192.4L1056.4,1226.8M1054.4,1192.4L1030.3,1234.2M1054.4,1192.4L1043.4,1234.0M945.8,1200.9L973.8,1211.3M945.8,1200.9L926.6,1175.6M945.8,1200.9L959.0,1190.7M945.8,1200.9L973.8,1193.8M945.8,1200.9L937.3,1213.3M945.8,1200.9L924.3,1226.1M945.8,1200.9L937.1,1226.1M945.8,1200.9L924.3,1239.3M945.8,1200.9L936.8,1239.3M958.6,1206.6L1008.4,1204.3M958.6,1206.6L950.3,1219.4M958.6,1206.6L985.5,1168.2M958.6,1206.6L954.3,1176.3M958.6,1206.6L939.5,1187.7M958.6,1206.6L973.8,1193.8M958.6,1206.6L911.9,1201.9M958.6,1206.6L986.9,1214.0M958.6,1206.6L924.3,1226.1M958.6,1206.6L924.3,1239.3M958.6,1206.6L950.1,1236.9M1008.4,1204.3L1054.2,1208.6M1008.4,1204.3L963.3,1224.3M1008.4,1204.3L989.9,1229.6M1008.4,1204.3L1019.2,1177.0M1008.4,1204.3L986.9,1186.7M1008.4,1204.3L1038.9,1207.9M1008.4,1204.3L986.9,1214.0M1008.4,1204.3L999.7,1217.3M1008.4,1204.3L1025.5,1221.1M1008.4,1204.3L976.5,1226.8M1008.4,1204.3L1041.0,1221.0M1008.4,1204.3L1032.6,1247.0M1008.4,1204.3L977.0,1240.5M1021.5,1207.9L1067.4,1203.4M1021.5,1207.9L973.8,1211.3M1021.5,1207.9L1019.2,1177.0M1021.5,1207.9L1031.7,1182.3M1021.5,1207.9L973.8,1193.8M1021.5,1207.9L986.9,1199.8M1021.5,1207.9L1038.9,1207.9M1021.5,1207.9L1025.5,1221.1M1021.5,1207.9L1056.4,1226.8M1021.5,1207.9L1032.6,1247.0M1021.5,1207.9L1043.4,1234.0M1021.5,1207.9L1014.5,1252.4M1067.4,1203.4L1050.8,1165.3M1067.4,1203.4L1025.5,1221.1M1067.4,1203.4L1056.4,1226.8M1067.4,1203.4L1041.0,1221.0M1067.4,1203.4L1082.5,1180.7M1067.4,1203.4L1098.4,1182.2M1067.4,1203.4L1093.3,1197.4M1067.4,1203.4L1111.3,1221.7M1067.4,1203.4L1082.8,1225.8M1067.4,1203.4L1053.5,1246.7M1067.4,1203.4L1030.3,1234.2M1067.4,1203.4L1043.4,1234.0M1067.4,1203.4L1069.8,1240.2M1067.4,1203.4L1099.1,1238.7M1054.2,1208.6L1038.9,1207.9M1054.2,1208.6L1056.4,1226.8M1054.2,1208.6L1041.0,1221.0M1054.2,1208.6L1082.3,1211.2M1054.2,1208.6L1053.5,1246.7M1054.2,1208.6L1017.4,1238.5M1054.2,1208.6L1030.3,1234.2M1054.2,1208.6L1043.4,1234.0M898.1,1213.3L911.9,1201.9M898.1,1213.3L876.5,1214.9M898.1,1213.3L937.1,1226.1M898.1,1213.3L911.2,1238.9M898.1,1213.3L924.3,1239.3M898.1,1213.3L914.6,1252.7M924.6,1213.3L963.3,1224.3M924.6,1213.3L926.6,1175.6M924.6,1213.3L939.5,1187.7M924.6,1213.3L894.8,1197.6M924.6,1213.3L930.8,1200.5M924.6,1213.3L876.5,1214.9M924.6,1213.3L937.3,1213.3M924.6,1213.3L924.3,1226.1M924.6,1213.3L937.1,1226.1M924.6,1213.3L945.4,1252.4M924.6,1213.3L924.3,1239.3M924.6,1213.3L950.1,1236.9M924.6,1213.3L963.6,1238.0M973.8,1211.3L989.9,1229.6M973.8,1211.3L986.9,1214.0M973.8,1211.3L999.7,1217.3M973.8,1211.3L1012.8,1222.3M973.8,1211.3L976.5,1226.8M973.8,1211.3L945.4,1252.4M973.8,1211.3L999.4,1253.3M973.8,1211.3L950.1,1236.9M973.8,1211.3L963.6,1238.0M973.8,1211.3L977.0,1240.5M973.8,1211.3L958.6,1251.0M950.3,1219.4L926.6,1175.6M950.3,1219.4L918.0,1189.1M950.3,1219.4L939.5,1187.7M950.3,1219.4L959.0,1190.7M950.3,1219.4L924.3,1226.1M950.3,1219.4L944.9,1264.9M950.3,1219.4L950.1,1236.9M950.3,1219.4L958.6,1251.0M950.3,1219.4L971.7,1253.7M963.3,1224.3L939.5,1187.7M963.3,1224.3L959.0,1190.7M963.3,1224.3L973.8,1193.8M963.3,1224.3L930.8,1200.5M963.3,1224.3L937.3,1213.3M963.3,1224.3L986.9,1214.0M963.3,1224.3L999.7,1217.3M963.3,1224.3L937.1,1226.1M963.3,1224.3L976.5,1226.8M963.3,1224.3L985.5,1253.7M963.3,1224.3L1003.3,1236.9M963.3,1224.3L944.9,1264.9M963.3,1224.3L936.8,1239.3M989.9,1229.6L1012.8,1222.3M989.9,1229.6L1025.5,1221.1M989.9,1229.6L1003.3,1236.9M989.9,1229.6L963.6,1238.0M989.9,1229.6L1030.3,1234.2M989.9,1229.6L958.6,1251.0M989.9,1229.6L1014.5,1252.4M989.9,1229.6L1028.6,1259.8M989.9,1229.6L958.3,1263.8M1079.7,1197.7L1091.2,1167.0M1079.7,1197.7L1082.5,1180.7M1079.7,1197.7L1098.4,1182.2M1079.7,1197.7L1107.8,1208.3M1079.7,1197.7L1069.8,1240.2M1079.7,1197.7L1099.1,1238.7M999.4,1122.9L1014.2,1147.1M999.4,1122.9L1042.4,1118.0M1060.8,1122.6L1042.4,1118.0M1060.8,1122.6L1061.3,1136.6M1060.8,1122.6L1062.4,1151.8M1060.8,1122.6L1095.2,1104.8M1060.8,1122.6L1091.2,1121.0M1060.8,1122.6L1105.4,1118.1M1060.8,1122.6L1089.7,1133.6M963.3,1145.3L944.5,1161.5M963.3,1145.3L926.6,1175.6M1014.2,1147.1L1031.7,1182.3M1014.2,1147.1L986.9,1186.7M1014.2,1147.1L1042.4,1118.0M1014.2,1147.1L1061.3,1136.6M1014.2,1147.1L1062.4,1151.8M944.5,1161.5L954.3,1176.3M944.5,1161.5L959.0,1190.7M985.5,1168.2L954.3,1176.3M985.5,1168.2L939.5,1187.7M985.5,1168.2L986.9,1186.7M985.5,1168.2L986.9,1199.8M985.5,1168.2L986.9,1214.0M985.5,1168.2L985.1,1123.1M1050.8,1165.3L1061.3,1136.6M1050.8,1165.3L1062.4,1151.8M1050.8,1165.3L1091.2,1167.0M926.6,1175.6L918.0,1189.1M926.6,1175.6L959.0,1190.7M926.6,1175.6L894.8,1197.6M926.6,1175.6L930.8,1200.5M926.6,1175.6L911.1,1219.8M954.3,1176.3L939.5,1187.7M954.3,1176.3L911.9,1201.9M954.3,1176.3L986.9,1199.8M954.3,1176.3L986.9,1214.0M1019.2,1177.0L1038.9,1207.9M1019.2,1177.0L1041.0,1221.0M1031.7,1182.3L986.9,1186.7M1031.7,1182.3L1038.9,1207.9M1031.7,1182.3L999.7,1217.3M1031.7,1182.3L1012.8,1222.3M918.0,1189.1L894.8,1197.6M918.0,1189.1L911.9,1201.9M918.0,1189.1L930.8,1200.5M918.0,1189.1L937.3,1213.3M918.0,1189.1L911.1,1219.8M918.0,1189.1L924.3,1226.1M918.0,1189.1L896.7,1232.9M939.5,1187.7L986.9,1186.7M939.5,1187.7L930.8,1200.5M939.5,1187.7L986.9,1199.8M959.0,1190.7L986.9,1186.7M959.0,1190.7L911.9,1201.9M959.0,1190.7L930.8,1200.5M959.0,1190.7L986.9,1199.8M959.0,1190.7L937.3,1213.3M959.0,1190.7L986.9,1214.0M959.0,1190.7L950.1,1236.9M959.0,1190.7L963.6,1238.0M986.9,1186.7L999.7,1217.3M986.9,1186.7L1012.8,1222.3M986.9,1186.7L976.5,1226.8M973.8,1193.8L986.9,1199.8M973.8,1193.8L937.3,1213.3M973.8,1193.8L1012.8,1222.3M973.8,1193.8L950.1,1236.9M973.8,1193.8L963.6,1238.0M973.8,1193.8L977.0,1240.5M894.8,1197.6L911.9,1201.9M894.8,1197.6L937.3,1213.3M894.8,1197.6L911.1,1219.8M894.8,1197.6L911.2,1238.9M894.8,1197.6L896.7,1232.9M911.9,1201.9L930.8,1200.5M911.9,1201.9L876.5,1214.9M911.9,1201.9L937.3,1213.3M911.9,1201.9L911.1,1219.8M911.9,1201.9L924.3,1226.1M911.9,1201.9L896.7,1232.9M911.9,1201.9L936.8,1239.3M930.8,1200.5L911.1,1219.8M930.8,1200.5L937.1,1226.1M930.8,1200.5L963.6,1238.0M986.9,1199.8L1003.3,1236.9M1038.9,1207.9L999.7,1217.3M1038.9,1207.9L1025.5,1221.1M1038.9,1207.9L1069.1,1216.3M1038.9,1207.9L1082.3,1211.2M1038.9,1207.9L1082.8,1225.8M1038.9,1207.9L1053.5,1246.7M1038.9,1207.9L1017.4,1238.5M1038.9,1207.9L1030.3,1234.2M876.5,1214.9L896.7,1232.9M937.3,1213.3L986.9,1214.0M937.3,1213.3L924.3,1226.1M937.3,1213.3L976.5,1226.8M937.3,1213.3L931.2,1253.3M937.3,1213.3L924.3,1239.3M937.3,1213.3L950.1,1236.9M937.3,1213.3L977.0,1240.5M937.3,1213.3L958.6,1251.0M986.9,1214.0L1012.8,1222.3M986.9,1214.0L999.4,1253.3M986.9,1214.0L977.0,1240.5M999.7,1217.3L976.5,1226.8M999.7,1217.3L985.5,1253.7M999.7,1217.3L1003.3,1236.9M999.7,1217.3L963.6,1238.0M999.7,1217.3L977.0,1240.5M999.7,1217.3L1017.4,1238.5M999.7,1217.3L1030.3,1234.2M999.7,1217.3L971.7,1253.7M999.7,1217.3L1014.5,1252.4M911.1,1219.8L945.4,1252.4M911.1,1219.8L924.3,1239.3M911.1,1219.8L950.1,1236.9M911.1,1219.8L914.6,1252.7M1012.8,1222.3L1056.4,1226.8M1012.8,1222.3L1041.0,1221.0M1012.8,1222.3L1032.6,1247.0M1012.8,1222.3L1045.7,1259.8M1012.8,1222.3L977.0,1240.5M1012.8,1222.3L1010.4,1266.9M1025.5,1221.1L976.5,1226.8M1025.5,1221.1L1003.3,1236.9M1025.5,1221.1L1045.7,1259.8M1025.5,1221.1L1030.3,1234.2M1025.5,1221.1L1069.8,1240.2M1025.5,1221.1L1028.6,1259.8M1025.5,1221.1L1010.4,1266.9M924.3,1226.1L936.8,1239.3M924.3,1226.1L931.7,1268.1M937.1,1226.1L976.5,1226.8M937.1,1226.1L911.2,1238.9M937.1,1226.1L931.2,1253.3M937.1,1226.1L945.4,1252.4M937.1,1226.1L944.9,1264.9M937.1,1226.1L950.1,1236.9M937.1,1226.1L963.6,1238.0M937.1,1226.1L971.7,1253.7M937.1,1226.1L916.9,1265.8M1041.4,1093.8L1061.3,1136.6M1042.4,1118.0L1074.4,1130.7M1074.4,1130.7L1061.3,1136.6M1074.4,1130.7L1062.4,1151.8M1074.4,1130.7L1105.4,1118.1M1061.3,1136.6L1105.4,1118.1M1061.3,1136.6L1110.3,1131.2M1061.3,1136.6L1089.7,1153.6M1062.4,1151.8L1089.7,1133.6M1062.4,1151.8L1102.8,1144.2M1062.4,1151.8L1105.4,1159.4M1062.4,1151.8L1091.2,1167.0M1062.4,1151.8L1082.5,1180.7M1069.1,1216.3L1082.5,1180.7M1069.1,1216.3L1094.8,1212.8M1069.1,1216.3L1107.8,1208.3M1069.1,1216.3L1111.3,1221.7M1069.1,1216.3L1082.8,1225.8M1069.1,1216.3L1106.4,1195.4M1069.1,1216.3L1053.5,1246.7M1069.1,1216.3L1045.7,1259.8M1069.1,1216.3L1085.1,1248.4M1069.1,1216.3L1099.9,1252.5M1056.4,1226.8L1041.0,1221.0M1056.4,1226.8L1093.3,1197.4M1056.4,1226.8L1082.3,1211.2M1056.4,1226.8L1082.8,1225.8M1056.4,1226.8L1032.6,1247.0M1056.4,1226.8L1053.5,1246.7M1056.4,1226.8L1045.7,1259.8M1056.4,1226.8L1030.3,1234.2M1056.4,1226.8L1067.8,1256.4M1056.4,1226.8L1059.1,1271.2M1056.4,1226.8L1099.1,1238.7M976.5,1226.8L945.4,1252.4M976.5,1226.8L999.4,1253.3M976.5,1226.8L978.4,1267.9M976.5,1226.8L950.1,1236.9M976.5,1226.8L963.6,1238.0M976.5,1226.8L977.0,1240.5M976.5,1226.8L1017.4,1238.5M976.5,1226.8L1014.5,1252.4M976.5,1226.8L994.0,1269.6M1041.0,1221.0L1082.8,1225.8M1041.0,1221.0L1032.6,1247.0M1041.0,1221.0L1045.7,1259.8M1041.0,1221.0L1030.3,1234.2M1041.0,1221.0L1067.8,1256.4M1095.2,1104.8L1115.8,1105.4M1095.2,1104.8L1105.4,1118.1M1095.2,1104.8L1135.8,1130.4M1095.2,1104.8L1115.8,1146.1M1115.8,1105.4L1091.2,1121.0M1115.8,1105.4L1130.3,1117.1M1115.8,1105.4L1102.8,1144.2M1115.8,1105.4L1115.8,1146.1M1091.2,1121.0L1130.3,1117.1M1091.2,1121.0L1089.7,1133.6M1091.2,1121.0L1110.3,1131.2M1091.2,1121.0L1135.8,1130.4M1091.2,1121.0L1132.5,1147.8M1091.2,1121.0L1091.2,1167.0M1105.4,1118.1L1105.4,1159.4M1105.4,1118.1L1115.8,1146.1M1130.3,1117.1L1089.7,1133.6M1130.3,1117.1L1102.8,1144.2M1130.3,1117.1L1132.5,1147.8M1089.7,1133.6L1110.3,1131.2M1089.7,1133.6L1102.8,1144.2M1089.7,1133.6L1111.4,1174.3M1089.7,1133.6L1115.8,1146.1M1089.7,1133.6L1122.3,1161.3M1110.3,1131.2L1089.7,1153.6M1110.3,1131.2L1111.4,1174.3M1110.3,1131.2L1127.7,1177.1M1110.3,1131.2L1122.3,1161.3M1135.8,1130.4L1102.8,1144.2M1135.8,1130.4L1127.7,1177.1M1102.8,1144.2L1089.7,1153.6M1102.8,1144.2L1122.3,1161.3M1132.5,1147.8L1089.7,1153.6M1132.5,1147.8L1135.4,1164.2M1132.5,1147.8L1119.1,1192.5M1132.5,1147.8L1133.5,1197.4M1089.7,1153.6L1105.4,1159.4M1089.7,1153.6L1135.4,1164.2M1089.7,1153.6L1111.4,1174.3M1105.4,1159.4L1135.4,1164.2M1105.4,1159.4L1111.4,1174.3M1105.4,1159.4L1127.7,1177.1M1105.4,1159.4L1082.5,1180.7M1105.4,1159.4L1119.1,1192.5M1105.4,1159.4L1093.3,1197.4M1105.4,1159.4L1107.8,1208.3M1105.4,1159.4L1120.6,1205.8M1091.2,1167.0L1135.4,1164.2M1091.2,1167.0L1082.5,1180.7M1091.2,1167.0L1094.8,1212.8M1091.2,1167.0L1107.8,1208.3M1091.2,1167.0L1122.3,1161.3M1091.2,1167.0L1106.4,1195.4M1091.2,1167.0L1120.6,1205.8M1135.4,1164.2L1127.7,1177.1M1135.4,1164.2L1098.4,1182.2M1135.4,1164.2L1119.1,1192.5M1135.4,1164.2L1148.7,1164.9M1135.4,1164.2L1176.7,1169.1M1111.4,1174.3L1127.7,1177.1M1111.4,1174.3L1119.1,1192.5M1111.4,1174.3L1082.3,1211.2M1111.4,1174.3L1107.8,1208.3M1111.4,1174.3L1111.3,1221.7M1111.4,1174.3L1148.7,1164.9M1127.7,1177.1L1098.4,1182.2M1127.7,1177.1L1119.1,1192.5M1127.7,1177.1L1093.3,1197.4M1127.7,1177.1L1107.8,1208.3M1127.7,1177.1L1111.3,1221.7M1127.7,1177.1L1115.8,1146.1M1127.7,1177.1L1122.3,1161.3M1127.7,1177.1L1106.4,1195.4M1127.7,1177.1L1125.7,1219.3M1082.5,1180.7L1098.4,1182.2M1082.5,1180.7L1093.3,1197.4M1082.5,1180.7L1082.3,1211.2M1082.5,1180.7L1107.8,1208.3M1082.5,1180.7L1115.8,1146.1M1082.5,1180.7L1106.4,1195.4M1098.4,1182.2L1119.1,1192.5M1098.4,1182.2L1093.3,1197.4M1098.4,1182.2L1094.8,1212.8M1098.4,1182.2L1107.8,1208.3M1098.4,1182.2L1082.8,1225.8M1098.4,1182.2L1115.8,1146.1M1098.4,1182.2L1106.4,1195.4M1119.1,1192.5L1093.3,1197.4M1119.1,1192.5L1082.3,1211.2M1119.1,1192.5L1094.8,1212.8M1119.1,1192.5L1148.7,1164.9M1119.1,1192.5L1106.4,1195.4M1082.3,1211.2L1082.8,1225.8M1082.3,1211.2L1106.4,1195.4M1082.3,1211.2L1125.7,1219.3M1082.3,1211.2L1069.8,1240.2M1094.8,1212.8L1107.8,1208.3M1094.8,1212.8L1106.4,1195.4M1094.8,1212.8L1120.6,1205.8M1094.8,1212.8L1114.3,1244.8M1094.8,1212.8L1138.6,1236.1M1094.8,1212.8L1099.1,1238.7M1107.8,1208.3L1082.8,1225.8M1107.8,1208.3L1122.3,1161.3M1107.8,1208.3L1106.4,1195.4M1107.8,1208.3L1125.7,1219.3M1107.8,1208.3L1138.6,1236.1M1107.8,1208.3L1099.9,1252.5M1111.3,1221.7L1120.6,1205.8M1111.3,1221.7L1125.7,1219.3M1111.3,1221.7L1138.6,1236.1M1111.3,1221.7L1099.1,1238.7M1082.8,1225.8L1120.6,1205.8M1082.8,1225.8L1125.7,1219.3M1082.8,1225.8L1053.5,1246.7M1082.8,1225.8L1043.4,1234.0M1082.8,1225.8L1114.3,1244.8M1082.8,1225.8L1099.1,1238.7M1082.8,1225.8L1092.2,1269.9M1198.0,1089.9L1227.4,1050.0M1115.8,1146.1L1148.7,1164.9M1122.3,1161.3L1133.5,1197.4M1148.7,1164.9L1133.5,1197.4M1148.7,1164.9L1120.6,1205.8M1148.7,1164.9L1176.7,1169.1M1148.7,1164.9L1184.6,1192.5M1133.5,1197.4L1120.6,1205.8M1133.5,1197.4L1125.7,1219.3M1133.5,1197.4L1154.2,1225.1M1133.5,1197.4L1138.6,1236.1M1120.6,1205.8L1114.3,1244.8M1125.7,1219.3L1154.2,1225.1M1125.7,1219.3L1114.3,1244.8M1125.7,1219.3L1112.6,1260.0M1125.7,1219.3L1085.1,1248.4M1125.7,1219.3L1099.9,1252.5M1125.7,1219.3L1127.8,1262.2M1154.2,1225.1L1184.6,1192.5M1154.2,1225.1L1114.3,1244.8M1154.2,1225.1L1197.4,1247.7M1154.2,1225.1L1138.6,1236.1M1154.2,1225.1L1180.3,1234.9M1154.2,1225.1L1142.2,1272.6M1154.2,1225.1L1155.4,1268.7M1154.2,1225.1L1127.8,1262.2M1184.6,1192.5L1180.3,1234.9M911.2,1238.9L945.4,1252.4M911.2,1238.9L944.9,1264.9M911.2,1238.9L896.7,1232.9M911.2,1238.9L924.3,1239.3M911.2,1238.9L914.6,1252.7M911.2,1238.9L958.6,1251.0M911.2,1238.9L931.7,1268.1M890.2,1249.4L896.7,1232.9M890.2,1249.4L936.8,1239.3M890.2,1249.4L914.6,1252.7M890.2,1249.4L916.9,1265.8M890.2,1249.4L931.7,1268.1M931.2,1253.3L978.4,1267.9M931.2,1253.3L896.7,1232.9M931.2,1253.3L936.8,1239.3M931.2,1253.3L977.0,1240.5M931.2,1253.3L914.6,1252.7M931.2,1253.3L958.6,1251.0M931.2,1253.3L916.9,1265.8M931.2,1253.3L931.7,1268.1M931.2,1253.3L958.3,1263.8M931.2,1253.3L949.5,1278.0M931.2,1253.3L922.5,1282.3M945.4,1252.4L944.9,1264.9M945.4,1252.4L924.3,1239.3M945.4,1252.4L914.6,1252.7M945.4,1252.4L958.6,1251.0M945.4,1252.4L980.5,1284.7M945.4,1252.4L962.0,1289.8M945.4,1252.4L921.9,1295.5M985.5,1253.7L999.4,1253.3M985.5,1253.7L1003.3,1236.9M985.5,1253.7L1032.6,1247.0M985.5,1253.7L1010.4,1283.3M985.5,1253.7L963.6,1238.0M985.5,1253.7L977.0,1240.5M985.5,1253.7L1030.3,1234.2M985.5,1253.7L971.7,1253.7M985.5,1253.7L1028.6,1259.8M985.5,1253.7L962.0,1289.8M985.5,1253.7L991.6,1299.1M999.4,1253.3L978.4,1267.9M999.4,1253.3L1045.7,1259.8M999.4,1253.3L1017.4,1238.5M999.4,1253.3L1030.3,1234.2M999.4,1253.3L958.6,1251.0M999.4,1253.3L971.7,1253.7M999.4,1253.3L958.3,1263.8M999.4,1253.3L994.0,1269.6M999.4,1253.3L980.5,1284.7M999.4,1253.3L997.0,1285.1M999.4,1253.3L1026.3,1285.8M999.4,1253.3L991.6,1299.1M1003.3,1236.9L978.4,1267.9M1003.3,1236.9L1045.7,1259.8M1003.3,1236.9L1024.5,1272.8M1003.3,1236.9L1010.4,1283.3M1003.3,1236.9L977.0,1240.5M1003.3,1236.9L1017.4,1238.5M1003.3,1236.9L1030.3,1234.2M1032.6,1247.0L1024.5,1272.8M1032.6,1247.0L1010.4,1283.3M1032.6,1247.0L1039.4,1290.5M1032.6,1247.0L1017.4,1238.5M1032.6,1247.0L1030.3,1234.2M1032.6,1247.0L1043.4,1234.0M1032.6,1247.0L1069.8,1240.2M1032.6,1247.0L1014.5,1252.4M1032.6,1247.0L1028.6,1259.8M1032.6,1247.0L1059.1,1271.2M1032.6,1247.0L1076.7,1269.1M1053.5,1246.7L1045.7,1259.8M1053.5,1246.7L1066.4,1284.0M1053.5,1246.7L1017.4,1238.5M1053.5,1246.7L1043.4,1234.0M1053.5,1246.7L1069.8,1240.2M1053.5,1246.7L1014.5,1252.4M1053.5,1246.7L1067.8,1256.4M1053.5,1246.7L1010.4,1266.9M1053.5,1246.7L1059.1,1271.2M944.9,1264.9L964.9,1302.9M944.9,1264.9L924.3,1239.3M944.9,1264.9L936.8,1239.3M944.9,1264.9L977.0,1240.5M944.9,1264.9L914.6,1252.7M944.9,1264.9L958.6,1251.0M944.9,1264.9L971.7,1253.7M944.9,1264.9L931.7,1268.1M944.9,1264.9L958.3,1263.8M944.9,1264.9L922.5,1282.3M944.9,1264.9L936.8,1290.7M944.9,1264.9L951.2,1304.2M944.9,1264.9L935.5,1306.9M978.4,1267.9L1017.1,1298.5M978.4,1267.9L950.1,1236.9M978.4,1267.9L963.6,1238.0M978.4,1267.9L971.7,1253.7M978.4,1267.9L994.0,1269.6M978.4,1267.9L949.5,1278.0M978.4,1267.9L997.0,1285.1M1045.7,1259.8L1039.1,1273.2M1045.7,1259.8L1066.4,1284.0M1045.7,1259.8L1038.3,1304.2M1045.7,1259.8L1014.5,1252.4M1045.7,1259.8L1028.6,1259.8M1045.7,1259.8L1010.4,1266.9M1045.7,1259.8L1059.1,1271.2M1024.5,1272.8L1039.1,1273.2M1024.5,1272.8L1039.4,1290.5M1024.5,1272.8L1053.5,1284.4M1024.5,1272.8L1004.4,1299.5M1024.5,1272.8L1030.3,1234.2M1024.5,1272.8L1043.4,1234.0M1024.5,1272.8L1028.6,1259.8M1024.5,1272.8L1067.8,1256.4M1024.5,1272.8L1059.1,1271.2M1024.5,1272.8L1020.9,1311.6M1039.1,1273.2L1053.5,1284.4M1039.1,1273.2L1066.4,1284.0M1039.1,1273.2L1004.4,1299.5M1039.1,1273.2L1038.3,1304.2M1039.1,1273.2L1068.8,1298.1M1039.1,1273.2L1028.6,1259.8M1039.1,1273.2L994.0,1269.6M1039.1,1273.2L1010.4,1266.9M1039.1,1273.2L997.0,1285.1M1039.1,1273.2L1020.9,1311.6M1039.1,1273.2L1076.7,1269.1M1010.4,1283.3L964.9,1302.9M1010.4,1283.3L1038.3,1304.2M1010.4,1283.3L1017.4,1238.5M1010.4,1283.3L994.0,1269.6M1010.4,1283.3L980.5,1284.7M1010.4,1283.3L1054.2,1297.5M1010.4,1283.3L977.7,1305.9M1010.4,1283.3L965.3,1276.9M1039.4,1290.5L1068.8,1298.1M1039.4,1290.5L1055.5,1310.9M1039.4,1290.5L1044.1,1325.1M1039.4,1290.5L1014.5,1252.4M1039.4,1290.5L994.0,1269.6M1039.4,1290.5L1010.4,1266.9M1039.4,1290.5L1059.1,1271.2M1039.4,1290.5L997.0,1285.1M1039.4,1290.5L1026.3,1285.8M1039.4,1290.5L1054.2,1297.5M1039.4,1290.5L1020.9,1311.6M1039.4,1290.5L1067.6,1324.4M1039.4,1290.5L1083.6,1299.1M1053.5,1284.4L1017.1,1298.5M1053.5,1284.4L1068.8,1298.1M1053.5,1284.4L1067.8,1256.4M1053.5,1284.4L1067.6,1324.4M1053.5,1284.4L1085.1,1248.4M1053.5,1284.4L1090.7,1283.5M1053.5,1284.4L1095.2,1311.9M1066.4,1284.0L1038.3,1304.2M1066.4,1284.0L1055.5,1310.9M1066.4,1284.0L1028.6,1259.8M1066.4,1284.0L1059.1,1271.2M1066.4,1284.0L1026.3,1285.8M1066.4,1284.0L1076.7,1269.1M1066.4,1284.0L1082.2,1317.0M1066.4,1284.0L1085.1,1248.4M1066.4,1284.0L1099.9,1252.5M1066.4,1284.0L1103.5,1296.2M1066.4,1284.0L1095.2,1311.9M964.9,1302.9L991.3,1331.5M964.9,1302.9L971.7,1253.7M964.9,1302.9L958.3,1263.8M964.9,1302.9L949.5,1278.0M964.9,1302.9L997.0,1285.1M964.9,1302.9L936.8,1290.7M964.9,1302.9L962.0,1289.8M964.9,1302.9L941.8,1320.1M964.9,1302.9L990.6,1317.7M964.9,1302.9L1003.3,1316.0M964.9,1302.9L965.3,1276.9M1004.4,1299.5L1038.3,1304.2M1004.4,1299.5L1016.5,1324.4M1004.4,1299.5L1044.1,1325.1M1004.4,1299.5L1030.9,1329.8M1004.4,1299.5L1004.8,1337.2M1004.4,1299.5L991.2,1346.2M1004.4,1299.5L1014.5,1252.4M1004.4,1299.5L1028.6,1259.8M1004.4,1299.5L994.0,1269.6M1004.4,1299.5L1026.3,1285.8M1004.4,1299.5L977.7,1305.9M1004.4,1299.5L1020.9,1311.6M1004.4,1299.5L964.0,1318.3M1004.4,1299.5L991.6,1299.1M1004.4,1299.5L990.6,1317.7M1017.1,1298.5L977.7,1321.7M1017.1,1298.5L1044.1,1325.1M1017.1,1298.5L991.3,1331.5M1017.1,1298.5L1014.5,1252.4M1017.1,1298.5L980.5,1284.7M1017.1,1298.5L997.0,1285.1M1017.1,1298.5L1026.3,1285.8M1017.1,1298.5L990.6,1317.7M1017.1,1298.5L1003.3,1316.0M1038.3,1304.2L1068.8,1298.1M1038.3,1304.2L1068.8,1310.8M1038.3,1304.2L1016.5,1324.4M1038.3,1304.2L1030.9,1329.8M1038.3,1304.2L1004.8,1337.2M1038.3,1304.2L1042.3,1342.6M1038.3,1304.2L1028.6,1259.8M1038.3,1304.2L1054.2,1297.5M1038.3,1304.2L1017.8,1337.2M1038.3,1304.2L990.6,1317.7M1068.8,1298.1L1030.9,1329.8M1068.8,1298.1L1020.9,1311.6M1068.8,1298.1L1068.0,1344.9M1068.8,1298.1L1083.6,1299.1M1068.8,1298.1L1082.2,1317.0M1068.8,1298.1L1114.6,1314.1M1068.8,1298.1L1092.2,1269.9M1068.8,1298.1L1103.5,1296.2M1068.8,1298.1L1117.0,1298.0M1055.5,1310.9L1016.5,1324.4M1055.5,1310.9L1026.3,1285.8M1055.5,1310.9L1068.0,1344.9M1055.5,1310.9L1082.2,1317.0M1055.5,1310.9L1090.7,1283.5M1055.5,1310.9L1095.2,1311.9M1055.5,1310.9L1080.7,1342.6M1068.8,1310.8L1030.9,1329.8M1068.8,1310.8L1059.1,1271.2M1068.8,1310.8L1026.3,1285.8M1068.8,1310.8L1068.0,1344.9M1068.8,1310.8L1076.7,1269.1M1068.8,1310.8L1082.2,1317.0M1068.8,1310.8L1090.7,1283.5M1068.8,1310.8L1117.0,1298.0M1068.8,1310.8L1095.2,1344.1M1068.8,1310.8L1108.6,1328.1M977.7,1321.7L1004.8,1337.2M977.7,1321.7L965.1,1369.2M977.7,1321.7L935.5,1306.9M977.7,1321.7L977.7,1305.9M977.7,1321.7L1020.9,1311.6M977.7,1321.7L935.5,1335.6M977.7,1321.7L986.9,1362.1M977.7,1321.7L991.6,1299.1M1016.5,1324.4L991.3,1331.5M1016.5,1324.4L1025.9,1373.2M1016.5,1324.4L1026.3,1285.8M1016.5,1324.4L1054.2,1297.5M1016.5,1324.4L1027.6,1350.0M1044.1,1325.1L1026.3,1285.8M1044.1,1325.1L1054.2,1297.5M1044.1,1325.1L1020.9,1311.6M1044.1,1325.1L1067.6,1324.4M1044.1,1325.1L1027.6,1350.0M1044.1,1325.1L1012.8,1354.9M1044.1,1325.1L1040.7,1368.4M1044.1,1325.1L1083.6,1299.1M1044.1,1325.1L1082.2,1317.0M1030.9,1329.8L1004.8,1337.2M1030.9,1329.8L1042.3,1342.6M1030.9,1329.8L999.9,1359.8M1030.9,1329.8L1066.7,1358.8M1030.9,1329.8L1054.2,1297.5M1030.9,1329.8L1067.6,1324.4M1030.9,1329.8L1012.8,1354.9M1030.9,1329.8L1040.7,1368.4M975.2,1334.7L1004.8,1337.2M975.2,1334.7L991.2,1346.2M975.2,1334.7L965.1,1369.2M975.2,1334.7L962.0,1289.8M975.2,1334.7L935.5,1306.9M975.2,1334.7L977.7,1305.9M975.2,1334.7L941.8,1320.1M975.2,1334.7L1017.8,1337.2M975.2,1334.7L991.6,1299.1M975.2,1334.7L990.6,1317.7M991.3,1331.5L965.1,1369.2M991.3,1331.5L999.9,1373.2M991.3,1331.5L977.7,1305.9M991.3,1331.5L1012.8,1354.9M991.3,1331.5L986.9,1362.1M991.3,1331.5L991.6,1299.1M991.3,1331.5L990.6,1317.7M1004.8,1337.2L1020.9,1311.6M1004.8,1337.2L964.0,1318.3M1004.8,1337.2L1017.8,1337.2M1004.8,1337.2L986.9,1362.1M1004.8,1337.2L1013.4,1368.8M1004.8,1337.2L991.6,1299.1M1004.8,1337.2L1003.3,1316.0M1042.3,1342.6L999.9,1359.8M1042.3,1342.6L1020.9,1311.6M1042.3,1342.6L1013.4,1368.8M1042.3,1342.6L1041.1,1382.3M1042.3,1342.6L1082.2,1317.0M1042.3,1342.6L1087.5,1360.4M991.2,1346.2L999.9,1373.2M991.2,1346.2L1025.9,1373.2M991.2,1346.2L1020.9,1311.6M991.2,1346.2L964.0,1318.3M991.2,1346.2L948.2,1346.3M991.2,1346.2L1012.8,1354.9M991.2,1346.2L986.9,1362.1M991.2,1346.2L1013.4,1368.8M991.2,1346.2L991.6,1299.1M991.2,1346.2L990.6,1317.7M991.2,1346.2L1003.3,1316.0M973.8,1352.2L965.1,1369.2M973.8,1352.2L941.8,1320.1M973.8,1352.2L948.2,1346.3M973.8,1352.2L1013.4,1368.8M973.8,1352.2L966.7,1397.3M973.8,1352.2L990.6,1317.7M949.5,1359.4L965.1,1369.2M949.5,1359.4L941.8,1320.1M949.5,1359.4L964.0,1318.3M949.5,1359.4L949.6,1333.1M949.5,1359.4L935.5,1335.6M949.5,1359.4L948.2,1346.3M999.9,1359.8L999.9,1373.2M999.9,1359.8L1017.8,1337.2M999.9,1359.8L1027.6,1350.0M999.9,1359.8L1012.8,1354.9M999.9,1359.8L1040.7,1368.4M999.9,1359.8L1041.1,1382.3M925.9,1365.2L941.8,1320.1M925.9,1365.2L949.6,1333.1M925.9,1365.2L935.5,1335.6M965.1,1369.2L949.6,1333.1M965.1,1369.2L986.9,1362.1M965.1,1369.2L1013.4,1368.8M965.1,1369.2L966.7,1397.3M999.9,1373.2L1017.8,1337.2M999.9,1373.2L1027.6,1350.0M999.9,1373.2L1012.8,1354.9M999.9,1373.2L986.9,1362.1M999.9,1373.2L1013.4,1368.8M999.9,1373.2L966.7,1397.3M999.9,1373.2L961.0,1345.9M1025.9,1373.2L1074.8,1373.3M1025.9,1373.2L1017.8,1337.2M1025.9,1373.2L1012.8,1354.9M1025.9,1373.2L986.9,1362.1M1066.7,1358.8L1067.6,1324.4M1066.7,1358.8L1068.0,1344.9M1066.7,1358.8L1040.7,1368.4M1066.7,1358.8L1080.7,1342.6M1066.7,1358.8L1095.2,1344.1M1066.7,1358.8L1109.3,1349.6M1066.7,1358.8L1087.5,1360.4M1066.7,1358.8L1089.7,1373.5M1074.8,1373.3L1068.0,1344.9M1074.8,1373.3L1040.7,1368.4M1074.8,1373.3L1041.1,1382.3M1074.8,1373.3L1119.1,1377.4M1074.8,1373.3L1109.3,1349.6M1074.8,1373.3L1087.5,1360.4M1074.8,1373.3L1089.7,1373.5M896.7,1232.9L936.8,1239.3M896.7,1232.9L914.6,1252.7M896.7,1232.9L916.9,1265.8M896.7,1232.9L931.7,1268.1M924.3,1239.3L936.8,1239.3M924.3,1239.3L950.1,1236.9M924.3,1239.3L931.7,1268.1M924.3,1239.3L949.5,1278.0M924.3,1239.3L922.5,1282.3M936.8,1239.3L950.1,1236.9M936.8,1239.3L963.6,1238.0M936.8,1239.3L977.0,1240.5M936.8,1239.3L914.6,1252.7M936.8,1239.3L931.7,1268.1M936.8,1239.3L949.5,1278.0M950.1,1236.9L963.6,1238.0M950.1,1236.9L977.0,1240.5M950.1,1236.9L958.6,1251.0M950.1,1236.9L931.7,1268.1M950.1,1236.9L965.3,1276.9M963.6,1238.0L971.7,1253.7M977.0,1240.5L958.6,1251.0M977.0,1240.5L971.7,1253.7M977.0,1240.5L994.0,1269.6M1017.4,1238.5L1030.3,1234.2M1017.4,1238.5L1014.5,1252.4M1017.4,1238.5L994.0,1269.6M1030.3,1234.2L1069.8,1240.2M1030.3,1234.2L1014.5,1252.4M1030.3,1234.2L1067.8,1256.4M1043.4,1234.0L1085.1,1248.4M1069.8,1240.2L1076.7,1269.1M1069.8,1240.2L1114.3,1244.8M1069.8,1240.2L1099.9,1252.5M1069.8,1240.2L1090.7,1283.5M914.6,1252.7L958.6,1251.0M914.6,1252.7L916.9,1265.8M914.6,1252.7L931.7,1268.1M914.6,1252.7L922.5,1282.3M914.6,1252.7L921.9,1295.5M958.6,1251.0L971.7,1253.7M971.7,1253.7L1014.5,1252.4M971.7,1253.7L931.7,1268.1M971.7,1253.7L958.3,1263.8M971.7,1253.7L994.0,1269.6M971.7,1253.7L997.0,1285.1M971.7,1253.7L991.6,1299.1M1014.5,1252.4L1028.6,1259.8M1014.5,1252.4L1059.1,1271.2M1014.5,1252.4L997.0,1285.1M1028.6,1259.8L1067.8,1256.4M1028.6,1259.8L994.0,1269.6M1028.6,1259.8L1010.4,1266.9M1028.6,1259.8L1059.1,1271.2M1028.6,1259.8L1054.2,1297.5M1067.8,1256.4L1059.1,1271.2M1067.8,1256.4L1085.1,1248.4M1067.8,1256.4L1092.2,1269.9M1067.8,1256.4L1090.7,1283.5M916.9,1265.8L958.3,1263.8M916.9,1265.8L936.8,1290.7M931.7,1268.1L949.5,1278.0M931.7,1268.1L962.0,1289.8M931.7,1268.1L921.9,1295.5M931.7,1268.1L965.3,1276.9M958.3,1263.8L994.0,1269.6M958.3,1263.8L997.0,1285.1M958.3,1263.8L936.8,1290.7M958.3,1263.8L921.9,1295.5M958.3,1263.8L935.5,1306.9M958.3,1263.8L965.3,1276.9M994.0,1269.6L1010.4,1266.9M994.0,1269.6L980.5,1284.7M994.0,1269.6L997.0,1285.1M994.0,1269.6L1026.3,1285.8M994.0,1269.6L962.0,1289.8M994.0,1269.6L977.7,1305.9M994.0,1269.6L1003.3,1316.0M994.0,1269.6L965.3,1276.9M1010.4,1266.9L997.0,1285.1M1010.4,1266.9L1020.9,1311.6M1059.1,1271.2L1026.3,1285.8M1059.1,1271.2L1054.2,1297.5M1059.1,1271.2L1083.6,1299.1M949.5,1278.0L922.5,1282.3M949.5,1278.0L980.5,1284.7M949.5,1278.0L997.0,1285.1M949.5,1278.0L921.9,1295.5M949.5,1278.0L964.0,1318.3M949.5,1278.0L965.3,1276.9M922.5,1282.3L936.8,1290.7M922.5,1282.3L921.9,1295.5M922.5,1282.3L965.3,1276.9M980.5,1284.7L1026.3,1285.8M980.5,1284.7L936.8,1290.7M980.5,1284.7L977.7,1305.9M980.5,1284.7L1020.9,1311.6M980.5,1284.7L964.0,1318.3M980.5,1284.7L991.6,1299.1M997.0,1285.1L1020.9,1311.6M1026.3,1285.8L1054.2,1297.5M1026.3,1285.8L1020.9,1311.6M1026.3,1285.8L991.6,1299.1M1026.3,1285.8L990.6,1317.7M936.8,1290.7L962.0,1289.8M936.8,1290.7L951.2,1304.2M936.8,1290.7L941.8,1320.1M936.8,1290.7L964.0,1318.3M936.8,1290.7L949.6,1333.1M936.8,1290.7L935.5,1335.6M936.8,1290.7L918.2,1315.2M962.0,1289.8L921.9,1295.5M962.0,1289.8L935.5,1306.9M962.0,1289.8L964.0,1318.3M921.9,1295.5L941.8,1320.1M921.9,1295.5L965.3,1276.9M1054.2,1297.5L1103.5,1296.2M951.2,1304.2L964.0,1318.3M951.2,1304.2L949.6,1333.1M951.2,1304.2L935.5,1335.6M951.2,1304.2L965.3,1276.9M935.5,1306.9L935.5,1335.6M935.5,1306.9L961.0,1345.9M977.7,1305.9L1020.9,1311.6M977.7,1305.9L941.8,1320.1M977.7,1305.9L964.0,1318.3M977.7,1305.9L949.6,1333.1M1020.9,1311.6L1027.6,1350.0M1020.9,1311.6L1012.8,1354.9M868.8,1316.3L918.2,1315.2M941.8,1320.1L949.6,1333.1M941.8,1320.1L935.5,1335.6M941.8,1320.1L948.2,1346.3M941.8,1320.1L918.2,1315.2M941.8,1320.1L990.6,1317.7M964.0,1318.3L949.6,1333.1M964.0,1318.3L918.2,1315.2M964.0,1318.3L991.6,1299.1M964.0,1318.3L1003.3,1316.0M964.0,1318.3L961.0,1345.9M1067.6,1324.4L1027.6,1350.0M1067.6,1324.4L1068.0,1344.9M1067.6,1324.4L1082.2,1317.0M1067.6,1324.4L1080.7,1342.6M1067.6,1324.4L1108.6,1328.1M949.6,1333.1L948.2,1346.3M949.6,1333.1L961.0,1345.9M1017.8,1337.2L1027.6,1350.0M1017.8,1337.2L1012.8,1354.9M1017.8,1337.2L1013.4,1368.8M1017.8,1337.2L1040.7,1368.4M1017.8,1337.2L990.6,1317.7M1017.8,1337.2L1003.3,1316.0M948.2,1346.3L986.9,1362.1M1027.6,1350.0L986.9,1362.1M1027.6,1350.0L1040.7,1368.4M1068.0,1344.9L1083.6,1299.1M1068.0,1344.9L1095.2,1311.9M1068.0,1344.9L1095.2,1344.1M1068.0,1344.9L1109.3,1349.6M1068.0,1344.9L1093.0,1386.8M1068.0,1344.9L1108.6,1328.1M1012.8,1354.9L986.9,1362.1M1012.8,1354.9L1040.7,1368.4M1012.8,1354.9L990.6,1317.7M1012.8,1354.9L1003.3,1316.0M986.9,1362.1L1003.3,1316.0M986.9,1362.1L961.0,1345.9M1013.4,1368.8L1040.7,1368.4M1040.7,1368.4L1041.1,1382.3M1040.7,1368.4L1080.7,1342.6M1040.7,1368.4L1089.7,1373.5M1041.1,1382.3L1089.7,1373.5M990.6,1317.7L1003.3,1316.0M990.6,1317.7L965.3,1276.9M1076.7,1269.1L1112.6,1260.0M1076.7,1269.1L1104.6,1274.1M1076.7,1269.1L1083.6,1299.1M1076.7,1269.1L1092.2,1269.9M1076.7,1269.1L1090.7,1283.5M1076.7,1269.1L1117.0,1298.0M1114.3,1244.8L1104.6,1274.1M1114.3,1244.8L1118.7,1275.5M1114.3,1244.8L1099.9,1252.5M1114.3,1244.8L1151.7,1253.2M1114.3,1244.8L1090.7,1283.5M1112.6,1260.0L1104.6,1274.1M1112.6,1260.0L1138.6,1236.1M1112.6,1260.0L1085.1,1248.4M1112.6,1260.0L1092.2,1269.9M1112.6,1260.0L1142.2,1272.6M1112.6,1260.0L1090.7,1283.5M1112.6,1260.0L1127.8,1262.2M1104.6,1274.1L1118.7,1275.5M1104.6,1274.1L1083.6,1299.1M1104.6,1274.1L1099.1,1238.7M1104.6,1274.1L1099.9,1252.5M1104.6,1274.1L1092.2,1269.9M1104.6,1274.1L1142.2,1272.6M1104.6,1274.1L1117.0,1298.0M1118.7,1275.5L1138.6,1236.1M1118.7,1275.5L1099.1,1238.7M1118.7,1275.5L1155.4,1268.7M1118.7,1275.5L1117.0,1298.0M1118.7,1275.5L1140.7,1300.1M1118.7,1275.5L1127.7,1312.6M1118.7,1275.5L1156.1,1301.3M1083.6,1299.1L1082.2,1317.0M1083.6,1299.1L1099.9,1252.5M1083.6,1299.1L1092.2,1269.9M1083.6,1299.1L1090.7,1283.5M1083.6,1299.1L1103.5,1296.2M1083.6,1299.1L1117.0,1298.0M1083.6,1299.1L1095.2,1311.9M1083.6,1299.1L1080.7,1342.6M1083.6,1299.1L1095.2,1344.1M1082.2,1317.0L1114.6,1314.1M1082.2,1317.0L1092.2,1269.9M1082.2,1317.0L1090.7,1283.5M1082.2,1317.0L1094.3,1329.9M1082.2,1317.0L1080.7,1342.6M1082.2,1317.0L1087.5,1360.4M1114.6,1314.1L1139.0,1325.5M1114.6,1314.1L1147.7,1341.2M1114.6,1314.1L1092.2,1269.9M1114.6,1314.1L1153.5,1287.2M1114.6,1314.1L1103.5,1296.2M1114.6,1314.1L1117.0,1298.0M1114.6,1314.1L1140.7,1300.1M1114.6,1314.1L1124.2,1327.0M1114.6,1314.1L1080.7,1342.6M1114.6,1314.1L1109.3,1349.6M1139.0,1325.5L1153.5,1287.2M1139.0,1325.5L1103.5,1296.2M1139.0,1325.5L1117.0,1298.0M1139.0,1325.5L1140.7,1300.1M1139.0,1325.5L1095.2,1311.9M1139.0,1325.5L1095.2,1344.1M1139.0,1325.5L1108.6,1328.1M1167.5,1336.4L1140.7,1300.1M1167.5,1336.4L1124.2,1327.0M1167.5,1336.4L1156.1,1301.3M1147.7,1341.2L1140.7,1300.1M1147.7,1341.2L1129.3,1364.1M1147.7,1341.2L1165.4,1378.6M1119.1,1377.4L1147.7,1392.3M1119.1,1377.4L1095.2,1344.1M1119.1,1377.4L1109.3,1349.6M1119.1,1377.4L1089.7,1373.5M1119.1,1377.4L1165.4,1378.6M1106.4,1390.7L1147.7,1392.3M1106.4,1390.7L1095.2,1344.1M1106.4,1390.7L1109.3,1349.6M1106.4,1390.7L1087.5,1360.4M1106.4,1390.7L1129.3,1364.1M1106.4,1390.7L1093.0,1386.8M1106.4,1390.7L1089.7,1373.5M1147.7,1392.3L1165.4,1378.6M1197.4,1247.7L1180.3,1234.9M1197.4,1247.7L1151.7,1253.2M1197.4,1247.7L1155.4,1268.7M1197.4,1247.7L1235.4,1270.9M1217.2,1298.0L1254.9,1287.1M1138.6,1236.1L1180.3,1234.9M1138.6,1236.1L1099.1,1238.7M1138.6,1236.1L1099.9,1252.5M1138.6,1236.1L1151.7,1253.2M1180.3,1234.9L1151.7,1253.2M1180.3,1234.9L1191.4,1271.3M1099.1,1238.7L1085.1,1248.4M1099.1,1238.7L1099.9,1252.5M1099.1,1238.7L1092.2,1269.9M1085.1,1248.4L1090.7,1283.5M1099.9,1252.5L1142.2,1272.6M1099.9,1252.5L1090.7,1283.5M1099.9,1252.5L1103.5,1296.2M1099.9,1252.5L1127.8,1262.2M1151.7,1253.2L1155.4,1268.7M1151.7,1253.2L1167.2,1286.8M1151.7,1253.2L1127.8,1262.2M1092.2,1269.9L1090.7,1283.5M1092.2,1269.9L1103.5,1296.2M1092.2,1269.9L1117.0,1298.0M1092.2,1269.9L1095.2,1311.9M1142.2,1272.6L1191.4,1271.3M1142.2,1272.6L1153.5,1287.2M1142.2,1272.6L1103.5,1296.2M1142.2,1272.6L1127.8,1262.2M1155.4,1268.7L1153.5,1287.2M1155.4,1268.7L1140.7,1300.1M1155.4,1268.7L1156.1,1301.3M1191.4,1271.3L1153.5,1287.2M1191.4,1271.3L1204.2,1287.8M1191.4,1271.3L1156.1,1301.3M1235.4,1270.9L1204.2,1287.8M1235.4,1270.9L1247.4,1235.7M1090.7,1283.5L1117.0,1298.0M1090.7,1283.5L1095.2,1311.9M1090.7,1283.5L1127.7,1312.6M1153.5,1287.2L1127.7,1312.6M1153.5,1287.2L1127.8,1262.2M1167.2,1286.8L1140.7,1300.1M1167.2,1286.8L1156.1,1301.3M1103.5,1296.2L1127.7,1312.6M1103.5,1296.2L1124.2,1327.0M1103.5,1296.2L1127.8,1262.2M1103.5,1296.2L1108.6,1328.1M1117.0,1298.0L1095.2,1311.9M1117.0,1298.0L1094.3,1329.9M1117.0,1298.0L1124.2,1327.0M1117.0,1298.0L1156.1,1301.3M1140.7,1300.1L1127.7,1312.6M1140.7,1300.1L1127.8,1262.2M1095.2,1311.9L1124.2,1327.0M1095.2,1311.9L1109.3,1349.6M1095.2,1311.9L1087.5,1360.4M1127.7,1312.6L1094.3,1329.9M1127.7,1312.6L1124.2,1327.0M1127.7,1312.6L1109.3,1349.6M1094.3,1329.9L1124.2,1327.0M1094.3,1329.9L1095.2,1344.1M1094.3,1329.9L1109.3,1349.6M1094.3,1329.9L1089.7,1373.5M1094.3,1329.9L1108.6,1328.1M1124.2,1327.0L1095.2,1344.1M1124.2,1327.0L1109.3,1349.6M1124.2,1327.0L1129.3,1364.1M1124.2,1327.0L1108.6,1328.1M1080.7,1342.6L1095.2,1344.1M1095.2,1344.1L1129.3,1364.1M1095.2,1344.1L1093.0,1386.8M1095.2,1344.1L1108.6,1328.1M1087.5,1360.4L1089.7,1373.5M1129.3,1364.1L1089.7,1373.5M1093.0,1386.8L1089.7,1373.5M1283.6,1040.3L1320.9,1048.6M1320.9,1048.6L1353.9,1067.7M1227.4,1050.0L1198.0,1089.9M1198.0,1089.9L1130.3,1117.1M1135.8,1130.4L1176.7,1169.1M1176.7,1169.1L1225.2,1168.8M1148.7,1164.9L1184.6,1192.5M1184.6,1192.5L1154.2,1225.1M1176.7,1169.1L1128.1,1230.0M1180.3,1234.9L1197.4,1247.7M1197.4,1247.7L1247.4,1235.7M1191.4,1271.3L1235.4,1270.9M1204.2,1287.8L1254.9,1287.1M1204.2,1287.8L1217.2,1298.0M1138.6,1236.1L1180.3,1234.9M1167.5,1336.4L1147.7,1392.3M1147.7,1341.2L1147.7,1392.3M1106.4,1390.7L1147.7,1392.3M1129.3,1364.1L1165.4,1378.6M1154.2,1225.2L1168.7,1210.0M1197.4,1247.7L1201.7,1270.9M1167.5,1336.4L1139.0,1325.5M1167.5,1336.4L1191.4,1271.3M1147.7,1341.2L1167.5,1336.4M1180.3,1234.9L1167.2,1286.8M847.9,1260.7L896.7,1232.9M847.9,1260.7L922.5,1282.3M863.3,1299.9L914.6,1252.7M868.8,1316.3L921.9,1295.5M966.7,1397.3L965.1,1369.2M966.7,1397.3L990.0,1451.8M925.9,1365.2L941.1,1343.2M1041.1,1382.3L1040.7,1368.4M1041.1,1382.3L1025.9,1373.2M1041.1,1382.3L1080.0,1380.9M918.2,1315.2L935.5,1306.9M918.2,1315.2L903.4,1263.8M1021.5,1026.9L1015.8,1084.1M1044.3,1043.1L1031.5,1055.8M1031.5,1055.8L1006.7,1071.1M1006.7,1071.1L981.1,1075.4M1006.7,1071.1L1015.8,1084.1M981.1,1075.4L1012.8,1099.6M1044.3,1043.1L1045.4,1092.9M1031.5,1055.8L1041.4,1093.8M1015.8,1084.1L1015.1,1146.7M1015.8,1084.1L1029.9,1115.7M1012.8,1099.6L999.4,1122.9M872.1,1125.6L922.3,1129.2M922.3,1129.2L963.3,1145.3M922.3,1129.2L876.5,1214.9M935.1,1114.4L985.1,1123.1M935.1,1114.4L963.3,1145.3M985.1,1123.1L999.4,1122.9M999.4,1122.9L963.3,1145.3M999.4,1122.9L944.5,1161.5M963.3,1145.3L944.5,1161.5M903.2,1144.9L941.1,1174.7M963.3,1145.3L985.5,1168.2M999.4,1122.9L985.5,1168.2M1014.2,1147.1L985.5,1168.2M985.5,1168.2L1006.4,1170.2M963.3,1145.3L1006.4,1170.2M1041.4,1093.8L1025.9,1117.1M944.5,1161.5L926.6,1175.6M963.3,1145.3L954.3,1176.3M986.9,1186.7L985.5,1168.2" fill="none" stroke="#cccccc" stroke-width="0.6"/>
<path d="M1017.8,1026.9a3.7,3.7 0 1,0 7.4,0a3.7,3.7 0 1,0 -7.4,0M1040.6,1043.1a3.7,3.7 0 1,0 7.4,0a3.7,3.7 0 1,0 -7.4,0M1027.8,1055.8a3.7,3.7 0 1,0 7.4,0a3.7,3.7 0 1,0 -7.4,0M1003.0,1071.1a3.7,3.7 0 1,0 7.4,0a3.7,3.7 0 1,0 -7.4,0M977.4,1075.4a3.7,3.7 0 1,0 7.4,0a3.7,3.7 0 1,0 -7.4,0M1012.1,1084.1a3.7,3.7 0 1,0 7.4,0a3.7,3.7 0 1,0 -7.4,0M1062.5,1093.4a3.7,3.7 0 1,0 7.4,0a3.7,3.7 0 1,0 -7.4,0M1052.7,1106.3a3.7,3.7 0 1,0 7.4,0a3.7,3.7 0 1,0 -7.4,0M1022.2,1117.1a3.7,3.7 0 1,0 7.4,0a3.7,3.7 0 1,0 -7.4,0M1070.4,1113.0a3.7,3.7 0 1,0 7.4,0a3.7,3.7 0 1,0 -7.4,0M931.4,1114.4a3.7,3.7 0 1,0 7.4,0a3.7,3.7 0 1,0 -7.4,0M1025.8,1130.5a3.7,3.7 0 1,0 7.4,0a3.7,3.7 0 1,0 -7.4,0M1043.3,1130.9a3.7,3.7 0 1,0 7.4,0a3.7,3.7 0 1,0 -7.4,0M899.5,1144.9a3.7,3.7 0 1,0 7.4,0a3.7,3.7 0 1,0 -7.4,0M1023.1,1144.0a3.7,3.7 0 1,0 7.4,0a3.7,3.7 0 1,0 -7.4,0M1044.4,1144.0a3.7,3.7 0 1,0 7.4,0a3.7,3.7 0 1,0 -7.4,0M1072.1,1145.3a3.7,3.7 0 1,0 7.4,0a3.7,3.7 0 1,0 -7.4,0M1034.3,1156.8a3.7,3.7 0 1,0 7.4,0a3.7,3.7 0 1,0 -7.4,0M1019.8,1161.2a3.7,3.7 0 1,0 7.4,0a3.7,3.7 0 1,0 -7.4,0M1073.0,1163.8a3.7,3.7 0 1,0 7.4,0a3.7,3.7 0 1,0 -7.4,0M1002.7,1170.2a3.7,3.7 0 1,0 7.4,0a3.7,3.7 0 1,0 -7.4,0M1033.0,1169.3a3.7,3.7 0 1,0 7.4,0a3.7,3.7 0 1,0 -7.4,0M937.4,1174.7a3.7,3.7 0 1,0 7.4,0a3.7,3.7 0 1,0 -7.4,0M968.4,1179.9a3.7,3.7 0 1,0 7.4,0a3.7,3.7 0 1,0 -7.4,0M1060.2,1173.5a3.7,3.7 0 1,0 7.4,0a3.7,3.7 0 1,0 -7.4,0M1045.5,1179.4a3.7,3.7 0 1,0 7.4,0a3.7,3.7 0 1,0 -7.4,0M895.7,1184.8a3.7,3.7 0 1,0 7.4,0a3.7,3.7 0 1,0 -7.4,0M1011.2,1190.4a3.7,3.7 0 1,0 7.4,0a3.7,3.7 0 1,0 -7.4,0M1063.4,1186.5a3.7,3.7 0 1,0 7.4,0a3.7,3.7 0 1,0 -7.4,0M1024.2,1195.1a3.7,3.7 0 1,0 7.4,0a3.7,3.7 0 1,0 -7.4,0M1037.7,1195.1a3.7,3.7 0 1,0 7.4,0a3.7,3.7 0 1,0 -7.4,0M1050.7,1192.4a3.7,3.7 0 1,0 7.4,0a3.7,3.7 0 1,0 -7.4,0M942.1,1200.9a3.7,3.7 0 1,0 7.4,0a3.7,3.7 0 1,0 -7.4,0M954.9,1206.6a3.7,3.7 0 1,0 7.4,0a3.7,3.7 0 1,0 -7.4,0M1004.7,1204.3a3.7,3.7 0 1,0 7.4,0a3.7,3.7 0 1,0 -7.4,0M1017.8,1207.9a3.7,3.7 0 1,0 7.4,0a3.7,3.7 0 1,0 -7.4,0M1063.7,1203.4a3.7,3.7 0 1,0 7.4,0a3.7,3.7 0 1,0 -7.4,0M1050.5,1208.6a3.7,3.7 0 1,0 7.4,0a3.7,3.7 0 1,0 -7.4,0M894.4,1213.3a3.7,3.7 0 1,0 7.4,0a3.7,3.7 0 1,0 -7.4,0M920.9,1213.3a3.7,3.7 0 1,0 7.4,0a3.7,3.7 0 1,0 -7.4,0M970.1,1211.3a3.7,3.7 0 1,0 7.4,0a3.7,3.7 0 1,0 -7.4,0M946.6,1219.4a3.7,3.7 0 1,0 7.4,0a3.7,3.7 0 1,0 -7.4,0M959.6,1224.3a3.7,3.7 0 1,0 7.4,0a3.7,3.7 0 1,0 -7.4,0M986.2,1229.6a3.7,3.7 0 1,0 7.4,0a3.7,3.7 0 1,0 -7.4,0M1076.0,1197.7a3.7,3.7 0 1,0 7.4,0a3.7,3.7 0 1,0 -7.4,0M1091.5,1104.8a3.7,3.7 0 1,0 7.4,0a3.7,3.7 0 1,0 -7.4,0M1112.1,1105.4a3.7,3.7 0 1,0 7.4,0a3.7,3.7 0 1,0 -7.4,0M1087.5,1121.0a3.7,3.7 0 1,0 7.4,0a3.7,3.7 0 1,0 -7.4,0M1101.7,1118.1a3.7,3.7 0 1,0 7.4,0a3.7,3.7 0 1,0 -7.4,0M1126.6,1117.1a3.7,3.7 0 1,0 7.4,0a3.7,3.7 0 1,0 -7.4,0M1086.0,1133.6a3.7,3.7 0 1,0 7.4,0a3.7,3.7 0 1,0 -7.4,0M1106.6,1131.2a3.7,3.7 0 1,0 7.4,0a3.7,3.7 0 1,0 -7.4,0M1132.1,1130.4a3.7,3.7 0 1,0 7.4,0a3.7,3.7 0 1,0 -7.4,0M1099.1,1144.2a3.7,3.7 0 1,0 7.4,0a3.7,3.7 0 1,0 -7.4,0M1128.8,1147.8a3.7,3.7 0 1,0 7.4,0a3.7,3.7 0 1,0 -7.4,0M1086.0,1153.6a3.7,3.7 0 1,0 7.4,0a3.7,3.7 0 1,0 -7.4,0M1101.7,1159.4a3.7,3.7 0 1,0 7.4,0a3.7,3.7 0 1,0 -7.4,0M1087.5,1167.0a3.7,3.7 0 1,0 7.4,0a3.7,3.7 0 1,0 -7.4,0M1131.7,1164.2a3.7,3.7 0 1,0 7.4,0a3.7,3.7 0 1,0 -7.4,0M1107.7,1174.3a3.7,3.7 0 1,0 7.4,0a3.7,3.7 0 1,0 -7.4,0M1124.0,1177.1a3.7,3.7 0 1,0 7.4,0a3.7,3.7 0 1,0 -7.4,0M1078.8,1180.7a3.7,3.7 0 1,0 7.4,0a3.7,3.7 0 1,0 -7.4,0M1094.7,1182.2a3.7,3.7 0 1,0 7.4,0a3.7,3.7 0 1,0 -7.4,0M1115.4,1192.5a3.7,3.7 0 1,0 7.4,0a3.7,3.7 0 1,0 -7.4,0M1089.6,1197.4a3.7,3.7 0 1,0 7.4,0a3.7,3.7 0 1,0 -7.4,0M1078.6,1211.2a3.7,3.7 0 1,0 7.4,0a3.7,3.7 0 1,0 -7.4,0M1091.1,1212.8a3.7,3.7 0 1,0 7.4,0a3.7,3.7 0 1,0 -7.4,0M1104.1,1208.3a3.7,3.7 0 1,0 7.4,0a3.7,3.7 0 1,0 -7.4,0M1107.6,1221.7a3.7,3.7 0 1,0 7.4,0a3.7,3.7 0 1,0 -7.4,0M1079.1,1225.8a3.7,3.7 0 1,0 7.4,0a3.7,3.7 0 1,0 -7.4,0M1194.3,1089.9a3.7,3.7 0 1,0 7.4,0a3.7,3.7 0 1,0 -7.4,0M1317.2,1048.6a3.7,3.7 0 1,0 7.4,0a3.7,3.7 0 1,0 -7.4,0M907.5,1238.9a3.7,3.7 0 1,0 7.4,0a3.7,3.7 0 1,0 -7.4,0M886.5,1249.4a3.7,3.7 0 1,0 7.4,0a3.7,3.7 0 1,0 -7.4,0M927.5,1253.3a3.7,3.7 0 1,0 7.4,0a3.7,3.7 0 1,0 -7.4,0M941.7,1252.4a3.7,3.7 0 1,0 7.4,0a3.7,3.7 0 1,0 -7.4,0M981.8,1253.7a3.7,3.7 0 1,0 7.4,0a3.7,3.7 0 1,0 -7.4,0M995.7,1253.3a3.7,3.7 0 1,0 7.4,0a3.7,3.7 0 1,0 -7.4,0M999.6,1236.9a3.7,3.7 0 1,0 7.4,0a3.7,3.7 0 1,0 -7.4,0M1028.9,1247.0a3.7,3.7 0 1,0 7.4,0a3.7,3.7 0 1,0 -7.4,0M1049.8,1246.7a3.7,3.7 0 1,0 7.4,0a3.7,3.7 0 1,0 -7.4,0M941.2,1264.9a3.7,3.7 0 1,0 7.4,0a3.7,3.7 0 1,0 -7.4,0M974.7,1267.9a3.7,3.7 0 1,0 7.4,0a3.7,3.7 0 1,0 -7.4,0M1042.0,1259.8a3.7,3.7 0 1,0 7.4,0a3.7,3.7 0 1,0 -7.4,0M1020.8,1272.8a3.7,3.7 0 1,0 7.4,0a3.7,3.7 0 1,0 -7.4,0M1035.4,1273.2a3.7,3.7 0 1,0 7.4,0a3.7,3.7 0 1,0 -7.4,0M1006.7,1283.3a3.7,3.7 0 1,0 7.4,0a3.7,3.7 0 1,0 -7.4,0M1035.7,1290.5a3.7,3.7 0 1,0 7.4,0a3.7,3.7 0 1,0 -7.4,0M1049.8,1284.4a3.7,3.7 0 1,0 7.4,0a3.7,3.7 0 1,0 -7.4,0M1062.7,1284.0a3.7,3.7 0 1,0 7.4,0a3.7,3.7 0 1,0 -7.4,0M859.6,1299.9a3.7,3.7 0 1,0 7.4,0a3.7,3.7 0 1,0 -7.4,0M961.2,1302.9a3.7,3.7 0 1,0 7.4,0a3.7,3.7 0 1,0 -7.4,0M1000.7,1299.5a3.7,3.7 0 1,0 7.4,0a3.7,3.7 0 1,0 -7.4,0M1013.4,1298.5a3.7,3.7 0 1,0 7.4,0a3.7,3.7 0 1,0 -7.4,0M1034.6,1304.2a3.7,3.7 0 1,0 7.4,0a3.7,3.7 0 1,0 -7.4,0M1065.1,1298.1a3.7,3.7 0 1,0 7.4,0a3.7,3.7 0 1,0 -7.4,0M1051.8,1310.9a3.7,3.7 0 1,0 7.4,0a3.7,3.7 0 1,0 -7.4,0M1065.1,1310.8a3.7,3.7 0 1,0 7.4,0a3.7,3.7 0 1,0 -7.4,0M974.0,1321.7a3.7,3.7 0 1,0 7.4,0a3.7,3.7 0 1,0 -7.4,0M1012.8,1324.4a3.7,3.7 0 1,0 7.4,0a3.7,3.7 0 1,0 -7.4,0M1040.4,1325.1a3.7,3.7 0 1,0 7.4,0a3.7,3.7 0 1,0 -7.4,0M1027.2,1329.8a3.7,3.7 0 1,0 7.4,0a3.7,3.7 0 1,0 -7.4,0M971.5,1334.7a3.7,3.7 0 1,0 7.4,0a3.7,3.7 0 1,0 -7.4,0M987.6,1331.5a3.7,3.7 0 1,0 7.4,0a3.7,3.7 0 1,0 -7.4,0M1001.1,1337.2a3.7,3.7 0 1,0 7.4,0a3.7,3.7 0 1,0 -7.4,0M1038.6,1342.6a3.7,3.7 0 1,0 7.4,0a3.7,3.7 0 1,0 -7.4,0M987.5,1346.2a3.7,3.7 0 1,0 7.4,0a3.7,3.7 0 1,0 -7.4,0M970.1,1352.2a3.7,3.7 0 1,0 7.4,0a3.7,3.7 0 1,0 -7.4,0M945.8,1359.4a3.7,3.7 0 1,0 7.4,0a3.7,3.7 0 1,0 -7.4,0M996.2,1359.8a3.7,3.7 0 1,0 7.4,0a3.7,3.7 0 1,0 -7.4,0M922.2,1365.2a3.7,3.7 0 1,0 7.4,0a3.7,3.7 0 1,0 -7.4,0M961.4,1369.2a3.7,3.7 0 1,0 7.4,0a3.7,3.7 0 1,0 -7.4,0M996.2,1373.2a3.7,3.7 0 1,0 7.4,0a3.7,3.7 0 1,0 -7.4,0M1022.2,1373.2a3.7,3.7 0 1,0 7.4,0a3.7,3.7 0 1,0 -7.4,0M1063.0,1358.8a3.7,3.7 0 1,0 7.4,0a3.7,3.7 0 1,0 -7.4,0M1071.1,1373.3a3.7,3.7 0 1,0 7.4,0a3.7,3.7 0 1,0 -7.4,0M1110.6,1244.8a3.7,3.7 0 1,0 7.4,0a3.7,3.7 0 1,0 -7.4,0M1108.9,1260.0a3.7,3.7 0 1,0 7.4,0a3.7,3.7 0 1,0 -7.4,0M1100.9,1274.1a3.7,3.7 0 1,0 7.4,0a3.7,3.7 0 1,0 -7.4,0M1115.0,1275.5a3.7,3.7 0 1,0 7.4,0a3.7,3.7 0 1,0 -7.4,0M1079.9,1299.1a3.7,3.7 0 1,0 7.4,0a3.7,3.7 0 1,0 -7.4,0M1078.5,1317.0a3.7,3.7 0 1,0 7.4,0a3.7,3.7 0 1,0 -7.4,0M1110.9,1314.1a3.7,3.7 0 1,0 7.4,0a3.7,3.7 0 1,0 -7.4,0M1135.3,1325.5a3.7,3.7 0 1,0 7.4,0a3.7,3.7 0 1,0 -7.4,0M1163.8,1336.4a3.7,3.7 0 1,0 7.4,0a3.7,3.7 0 1,0 -7.4,0M1144.0,1341.2a3.7,3.7 0 1,0 7.4,0a3.7,3.7 0 1,0 -7.4,0M1115.4,1377.4a3.7,3.7 0 1,0 7.4,0a3.7,3.7 0 1,0 -7.4,0M1102.7,1390.7a3.7,3.7 0 1,0 7.4,0a3.7,3.7 0 1,0 -7.4,0M1144.0,1392.3a3.7,3.7 0 1,0 7.4,0a3.7,3.7 0 1,0 -7.4,0M1193.7,1247.7a3.7,3.7 0 1,0 7.4,0a3.7,3.7 0 1,0 -7.4,0M1213.5,1298.0a3.7,3.7 0 1,0 7.4,0a3.7,3.7 0 1,0 -7.4,0" fill="#b41c2d"/>
<path d="M1009.1,1099.6a3.7,3.7 0 1,0 7.4,0a3.7,3.7 0 1,0 -7.4,0M995.7,1122.9a3.7,3.7 0 1,0 7.4,0a3.7,3.7 0 1,0 -7.4,0M1057.1,1122.6a3.7,3.7 0 1,0 7.4,0a3.7,3.7 0 1,0 -7.4,0M959.6,1145.3a3.7,3.7 0 1,0 7.4,0a3.7,3.7 0 1,0 -7.4,0M1010.5,1147.1a3.7,3.7 0 1,0 7.4,0a3.7,3.7 0 1,0 -7.4,0M940.8,1161.5a3.7,3.7 0 1,0 7.4,0a3.7,3.7 0 1,0 -7.4,0M981.8,1168.2a3.7,3.7 0 1,0 7.4,0a3.7,3.7 0 1,0 -7.4,0M1047.1,1165.3a3.7,3.7 0 1,0 7.4,0a3.7,3.7 0 1,0 -7.4,0M922.9,1175.6a3.7,3.7 0 1,0 7.4,0a3.7,3.7 0 1,0 -7.4,0M950.6,1176.3a3.7,3.7 0 1,0 7.4,0a3.7,3.7 0 1,0 -7.4,0M1015.5,1177.0a3.7,3.7 0 1,0 7.4,0a3.7,3.7 0 1,0 -7.4,0M1028.0,1182.3a3.7,3.7 0 1,0 7.4,0a3.7,3.7 0 1,0 -7.4,0M914.3,1189.1a3.7,3.7 0 1,0 7.4,0a3.7,3.7 0 1,0 -7.4,0M935.8,1187.7a3.7,3.7 0 1,0 7.4,0a3.7,3.7 0 1,0 -7.4,0M955.3,1190.7a3.7,3.7 0 1,0 7.4,0a3.7,3.7 0 1,0 -7.4,0M983.2,1186.7a3.7,3.7 0 1,0 7.4,0a3.7,3.7 0 1,0 -7.4,0M970.1,1193.8a3.7,3.7 0 1,0 7.4,0a3.7,3.7 0 1,0 -7.4,0M891.1,1197.6a3.7,3.7 0 1,0 7.4,0a3.7,3.7 0 1,0 -7.4,0M908.2,1201.9a3.7,3.7 0 1,0 7.4,0a3.7,3.7 0 1,0 -7.4,0M927.1,1200.5a3.7,3.7 0 1,0 7.4,0a3.7,3.7 0 1,0 -7.4,0M983.2,1199.8a3.7,3.7 0 1,0 7.4,0a3.7,3.7 0 1,0 -7.4,0M1035.2,1207.9a3.7,3.7 0 1,0 7.4,0a3.7,3.7 0 1,0 -7.4,0M872.8,1214.9a3.7,3.7 0 1,0 7.4,0a3.7,3.7 0 1,0 -7.4,0M933.6,1213.3a3.7,3.7 0 1,0 7.4,0a3.7,3.7 0 1,0 -7.4,0M983.2,1214.0a3.7,3.7 0 1,0 7.4,0a3.7,3.7 0 1,0 -7.4,0M996.0,1217.3a3.7,3.7 0 1,0 7.4,0a3.7,3.7 0 1,0 -7.4,0M907.4,1219.8a3.7,3.7 0 1,0 7.4,0a3.7,3.7 0 1,0 -7.4,0M1009.1,1222.3a3.7,3.7 0 1,0 7.4,0a3.7,3.7 0 1,0 -7.4,0M1021.8,1221.1a3.7,3.7 0 1,0 7.4,0a3.7,3.7 0 1,0 -7.4,0M920.6,1226.1a3.7,3.7 0 1,0 7.4,0a3.7,3.7 0 1,0 -7.4,0M933.4,1226.1a3.7,3.7 0 1,0 7.4,0a3.7,3.7 0 1,0 -7.4,0M1223.7,1050.0a3.7,3.7 0 1,0 7.4,0a3.7,3.7 0 1,0 -7.4,0M1112.1,1146.1a3.7,3.7 0 1,0 7.4,0a3.7,3.7 0 1,0 -7.4,0M1118.6,1161.3a3.7,3.7 0 1,0 7.4,0a3.7,3.7 0 1,0 -7.4,0M1145.0,1164.9a3.7,3.7 0 1,0 7.4,0a3.7,3.7 0 1,0 -7.4,0M1221.5,1168.8a3.7,3.7 0 1,0 7.4,0a3.7,3.7 0 1,0 -7.4,0M1102.7,1195.4a3.7,3.7 0 1,0 7.4,0a3.7,3.7 0 1,0 -7.4,0M1129.8,1197.4a3.7,3.7 0 1,0 7.4,0a3.7,3.7 0 1,0 -7.4,0M1116.9,1205.8a3.7,3.7 0 1,0 7.4,0a3.7,3.7 0 1,0 -7.4,0M1122.0,1219.3a3.7,3.7 0 1,0 7.4,0a3.7,3.7 0 1,0 -7.4,0M1150.5,1225.1a3.7,3.7 0 1,0 7.4,0a3.7,3.7 0 1,0 -7.4,0M893.0,1232.9a3.7,3.7 0 1,0 7.4,0a3.7,3.7 0 1,0 -7.4,0M920.6,1239.3a3.7,3.7 0 1,0 7.4,0a3.7,3.7 0 1,0 -7.4,0M933.1,1239.3a3.7,3.7 0 1,0 7.4,0a3.7,3.7 0 1,0 -7.4,0M946.4,1236.9a3.7,3.7 0 1,0 7.4,0a3.7,3.7 0 1,0 -7.4,0M959.9,1238.0a3.7,3.7 0 1,0 7.4,0a3.7,3.7 0 1,0 -7.4,0M973.3,1240.5a3.7,3.7 0 1,0 7.4,0a3.7,3.7 0 1,0 -7.4,0M1013.7,1238.5a3.7,3.7 0 1,0 7.4,0a3.7,3.7 0 1,0 -7.4,0M1026.6,1234.2a3.7,3.7 0 1,0 7.4,0a3.7,3.7 0 1,0 -7.4,0M1039.7,1234.0a3.7,3.7 0 1,0 7.4,0a3.7,3.7 0 1,0 -7.4,0M1066.1,1240.2a3.7,3.7 0 1,0 7.4,0a3.7,3.7 0 1,0 -7.4,0M910.9,1252.7a3.7,3.7 0 1,0 7.4,0a3.7,3.7 0 1,0 -7.4,0M954.9,1251.0a3.7,3.7 0 1,0 7.4,0a3.7,3.7 0 1,0 -7.4,0M968.0,1253.7a3.7,3.7 0 1,0 7.4,0a3.7,3.7 0 1,0 -7.4,0M1010.8,1252.4a3.7,3.7 0 1,0 7.4,0a3.7,3.7 0 1,0 -7.4,0M1024.9,1259.8a3.7,3.7 0 1,0 7.4,0a3.7,3.7 0 1,0 -7.4,0M1064.1,1256.4a3.7,3.7 0 1,0 7.4,0a3.7,3.7 0 1,0 -7.4,0M913.2,1265.8a3.7,3.7 0 1,0 7.4,0a3.7,3.7 0 1,0 -7.4,0M928.0,1268.1a3.7,3.7 0 1,0 7.4,0a3.7,3.7 0 1,0 -7.4,0M954.6,1263.8a3.7,3.7 0 1,0 7.4,0a3.7,3.7 0 1,0 -7.4,0M990.3,1269.6a3.7,3.7 0 1,0 7.4,0a3.7,3.7 0 1,0 -7.4,0M1006.7,1266.9a3.7,3.7 0 1,0 7.4,0a3.7,3.7 0 1,0 -7.4,0M1055.4,1271.2a3.7,3.7 0 1,0 7.4,0a3.7,3.7 0 1,0 -7.4,0M945.8,1278.0a3.7,3.7 0 1,0 7.4,0a3.7,3.7 0 1,0 -7.4,0M918.8,1282.3a3.7,3.7 0 1,0 7.4,0a3.7,3.7 0 1,0 -7.4,0M976.8,1284.7a3.7,3.7 0 1,0 7.4,0a3.7,3.7 0 1,0 -7.4,0M993.3,1285.1a3.7,3.7 0 1,0 7.4,0a3.7,3.7 0 1,0 -7.4,0M1022.6,1285.8a3.7,3.7 0 1,0 7.4,0a3.7,3.7 0 1,0 -7.4,0M933.1,1290.7a3.7,3.7 0 1,0 7.4,0a3.7,3.7 0 1,0 -7.4,0M958.3,1289.8a3.7,3.7 0 1,0 7.4,0a3.7,3.7 0 1,0 -7.4,0M918.2,1295.5a3.7,3.7 0 1,0 7.4,0a3.7,3.7 0 1,0 -7.4,0M1050.5,1297.5a3.7,3.7 0 1,0 7.4,0a3.7,3.7 0 1,0 -7.4,0M947.5,1304.2a3.7,3.7 0 1,0 7.4,0a3.7,3.7 0 1,0 -7.4,0M931.8,1306.9a3.7,3.7 0 1,0 7.4,0a3.7,3.7 0 1,0 -7.4,0M974.0,1305.9a3.7,3.7 0 1,0 7.4,0a3.7,3.7 0 1,0 -7.4,0M1017.2,1311.6a3.7,3.7 0 1,0 7.4,0a3.7,3.7 0 1,0 -7.4,0M865.1,1316.3a3.7,3.7 0 1,0 7.4,0a3.7,3.7 0 1,0 -7.4,0M938.1,1320.1a3.7,3.7 0 1,0 7.4,0a3.7,3.7 0 1,0 -7.4,0M960.3,1318.3a3.7,3.7 0 1,0 7.4,0a3.7,3.7 0 1,0 -7.4,0M1063.9,1324.4a3.7,3.7 0 1,0 7.4,0a3.7,3.7 0 1,0 -7.4,0M945.9,1333.1a3.7,3.7 0 1,0 7.4,0a3.7,3.7 0 1,0 -7.4,0M931.8,1335.6a3.7,3.7 0 1,0 7.4,0a3.7,3.7 0 1,0 -7.4,0M1014.1,1337.2a3.7,3.7 0 1,0 7.4,0a3.7,3.7 0 1,0 -7.4,0M944.5,1346.3a3.7,3.7 0 1,0 7.4,0a3.7,3.7 0 1,0 -7.4,0M1023.9,1350.0a3.7,3.7 0 1,0 7.4,0a3.7,3.7 0 1,0 -7.4,0M1064.3,1344.9a3.7,3.7 0 1,0 7.4,0a3.7,3.7 0 1,0 -7.4,0M1009.1,1354.9a3.7,3.7 0 1,0 7.4,0a3.7,3.7 0 1,0 -7.4,0M983.2,1362.1a3.7,3.7 0 1,0 7.4,0a3.7,3.7 0 1,0 -7.4,0M1009.7,1368.8a3.7,3.7 0 1,0 7.4,0a3.7,3.7 0 1,0 -7.4,0M1037.0,1368.4a3.7,3.7 0 1,0 7.4,0a3.7,3.7 0 1,0 -7.4,0M1037.4,1382.3a3.7,3.7 0 1,0 7.4,0a3.7,3.7 0 1,0 -7.4,0M963.0,1397.3a3.7,3.7 0 1,0 7.4,0a3.7,3.7 0 1,0 -7.4,0M986.3,1451.8a3.7,3.7 0 1,0 7.4,0a3.7,3.7 0 1,0 -7.4,0M1134.9,1236.1a3.7,3.7 0 1,0 7.4,0a3.7,3.7 0 1,0 -7.4,0M1176.6,1234.9a3.7,3.7 0 1,0 7.4,0a3.7,3.7 0 1,0 -7.4,0M1095.4,1238.7a3.7,3.7 0 1,0 7.4,0a3.7,3.7 0 1,0 -7.4,0M1081.4,1248.4a3.7,3.7 0 1,0 7.4,0a3.7,3.7 0 1,0 -7.4,0M1096.2,1252.5a3.7,3.7 0 1,0 7.4,0a3.7,3.7 0 1,0 -7.4,0M1148.0,1253.2a3.7,3.7 0 1,0 7.4,0a3.7,3.7 0 1,0 -7.4,0M1088.5,1269.9a3.7,3.7 0 1,0 7.4,0a3.7,3.7 0 1,0 -7.4,0M1138.5,1272.6a3.7,3.7 0 1,0 7.4,0a3.7,3.7 0 1,0 -7.4,0M1151.7,1268.7a3.7,3.7 0 1,0 7.4,0a3.7,3.7 0 1,0 -7.4,0M1187.7,1271.3a3.7,3.7 0 1,0 7.4,0a3.7,3.7 0 1,0 -7.4,0M1231.7,1270.9a3.7,3.7 0 1,0 7.4,0a3.7,3.7 0 1,0 -7.4,0M1087.0,1283.5a3.7,3.7 0 1,0 7.4,0a3.7,3.7 0 1,0 -7.4,0M1149.8,1287.2a3.7,3.7 0 1,0 7.4,0a3.7,3.7 0 1,0 -7.4,0M1163.5,1286.8a3.7,3.7 0 1,0 7.4,0a3.7,3.7 0 1,0 -7.4,0M1200.5,1287.8a3.7,3.7 0 1,0 7.4,0a3.7,3.7 0 1,0 -7.4,0M1251.2,1287.1a3.7,3.7 0 1,0 7.4,0a3.7,3.7 0 1,0 -7.4,0M1099.8,1296.2a3.7,3.7 0 1,0 7.4,0a3.7,3.7 0 1,0 -7.4,0M1113.3,1298.0a3.7,3.7 0 1,0 7.4,0a3.7,3.7 0 1,0 -7.4,0M1137.0,1300.1a3.7,3.7 0 1,0 7.4,0a3.7,3.7 0 1,0 -7.4,0M1091.5,1311.9a3.7,3.7 0 1,0 7.4,0a3.7,3.7 0 1,0 -7.4,0M1124.0,1312.6a3.7,3.7 0 1,0 7.4,0a3.7,3.7 0 1,0 -7.4,0M1090.6,1329.9a3.7,3.7 0 1,0 7.4,0a3.7,3.7 0 1,0 -7.4,0M1120.5,1327.0a3.7,3.7 0 1,0 7.4,0a3.7,3.7 0 1,0 -7.4,0M1077.0,1342.6a3.7,3.7 0 1,0 7.4,0a3.7,3.7 0 1,0 -7.4,0M1091.5,1344.1a3.7,3.7 0 1,0 7.4,0a3.7,3.7 0 1,0 -7.4,0M1105.6,1349.6a3.7,3.7 0 1,0 7.4,0a3.7,3.7 0 1,0 -7.4,0M1083.8,1360.4a3.7,3.7 0 1,0 7.4,0a3.7,3.7 0 1,0 -7.4,0M1125.6,1364.1a3.7,3.7 0 1,0 7.4,0a3.7,3.7 0 1,0 -7.4,0M1089.3,1386.8a3.7,3.7 0 1,0 7.4,0a3.7,3.7 0 1,0 -7.4,0" fill="#2968b1"/>
<path d="M868.4,1125.6a3.7,3.7 0 1,0 7.4,0a3.7,3.7 0 1,0 -7.4,0M918.6,1129.2a3.7,3.7 0 1,0 7.4,0a3.7,3.7 0 1,0 -7.4,0M981.4,1123.1a3.7,3.7 0 1,0 7.4,0a3.7,3.7 0 1,0 -7.4,0M1037.7,1093.8a3.7,3.7 0 1,0 7.4,0a3.7,3.7 0 1,0 -7.4,0M1038.7,1118.0a3.7,3.7 0 1,0 7.4,0a3.7,3.7 0 1,0 -7.4,0M1070.7,1130.7a3.7,3.7 0 1,0 7.4,0a3.7,3.7 0 1,0 -7.4,0M1057.6,1136.6a3.7,3.7 0 1,0 7.4,0a3.7,3.7 0 1,0 -7.4,0M1058.7,1151.8a3.7,3.7 0 1,0 7.4,0a3.7,3.7 0 1,0 -7.4,0M1065.4,1216.3a3.7,3.7 0 1,0 7.4,0a3.7,3.7 0 1,0 -7.4,0M1052.7,1226.8a3.7,3.7 0 1,0 7.4,0a3.7,3.7 0 1,0 -7.4,0M1279.9,1040.3a3.7,3.7 0 1,0 7.4,0a3.7,3.7 0 1,0 -7.4,0M1173.0,1169.1a3.7,3.7 0 1,0 7.4,0a3.7,3.7 0 1,0 -7.4,0M1180.9,1192.5a3.7,3.7 0 1,0 7.4,0a3.7,3.7 0 1,0 -7.4,0M844.2,1260.7a3.7,3.7 0 1,0 7.4,0a3.7,3.7 0 1,0 -7.4,0M914.5,1315.2a3.7,3.7 0 1,0 7.4,0a3.7,3.7 0 1,0 -7.4,0M987.9,1299.1a3.7,3.7 0 1,0 7.4,0a3.7,3.7 0 1,0 -7.4,0M986.9,1317.7a3.7,3.7 0 1,0 7.4,0a3.7,3.7 0 1,0 -7.4,0M999.6,1316.0a3.7,3.7 0 1,0 7.4,0a3.7,3.7 0 1,0 -7.4,0M1073.0,1269.1a3.7,3.7 0 1,0 7.4,0a3.7,3.7 0 1,0 -7.4,0M1243.7,1235.7a3.7,3.7 0 1,0 7.4,0a3.7,3.7 0 1,0 -7.4,0M1152.4,1301.3a3.7,3.7 0 1,0 7.4,0a3.7,3.7 0 1,0 -7.4,0M1086.0,1373.5a3.7,3.7 0 1,0 7.4,0a3.7,3.7 0 1,0 -7.4,0M1350.2,1067.7a3.7,3.7 0 1,0 7.4,0a3.7,3.7 0 1,0 -7.4,0" fill="#676767"/>
<path d="M972.8,1226.8a3.7,3.7 0 1,0 7.4,0a3.7,3.7 0 1,0 -7.4,0M957.3,1345.9a3.7,3.7 0 1,0 7.4,0a3.7,3.7 0 1,0 -7.4,0M1104.9,1328.1a3.7,3.7 0 1,0 7.4,0a3.7,3.7 0 1,0 -7.4,0M1161.7,1378.6a3.7,3.7 0 1,0 7.4,0a3.7,3.7 0 1,0 -7.4,0" fill="#7d7d98"/>
<path d="M961.6,1276.9a3.7,3.7 0 1,0 7.4,0a3.7,3.7 0 1,0 -7.4,0" fill="#957886"/>
<path d="M1124.1,1262.2a3.7,3.7 0 1,0 7.4,0a3.7,3.7 0 1,0 -7.4,0" fill="#d5694f"/>
<path d="M1037.3,1221.0a3.7,3.7 0 1,0 7.4,0a3.7,3.7 0 1,0 -7.4,0" fill="#5e8fbd"/>
<path d="M1539.6,1134.5a10,10 0 1,0 20,0a10,10 0 1,0 -20,0M1551.0,1132.8a10,10 0 1,0 20,0a10,10 0 1,0 -20,0M1555.7,1144.2a10,10 0 1,0 20,0a10,10 0 1,0 -20,0M1514.7,1148.6a10,10 0 1,0 20,0a10,10 0 1,0 -20,0M1542.9,1150.4a10,10 0 1,0 20,0a10,10 0 1,0 -20,0M1530.5,1153.5a10,10 0 1,0 20,0a10,10 0 1,0 -20,0M1567.5,1155.8a10,10 0 1,0 20,0a10,10 0 1,0 -20,0M1596.0,1159.8a10,10 0 1,0 20,0a10,10 0 1,0 -20,0M1553.0,1167.8a10,10 0 1,0 20,0a10,10 0 1,0 -20,0M1505.7,1172.5a10,10 0 1,0 20,0a10,10 0 1,0 -20,0M1523.4,1178.8a10,10 0 1,0 20,0a10,10 0 1,0 -20,0M1541.7,1181.5a10,10 0 1,0 20,0a10,10 0 1,0 -20,0M1511.6,1184.2a10,10 0 1,0 20,0a10,10 0 1,0 -20,0M1577.1,1188.7a10,10 0 1,0 20,0a10,10 0 1,0 -20,0M1529.0,1191.2a10,10 0 1,0 20,0a10,10 0 1,0 -20,0M1540.8,1191.2a10,10 0 1,0 20,0a10,10 0 1,0 -20,0M1552.6,1195.2a10,10 0 1,0 20,0a10,10 0 1,0 -20,0M1515.7,1195.8a10,10 0 1,0 20,0a10,10 0 1,0 -20,0M1529.0,1202.6a10,10 0 1,0 20,0a10,10 0 1,0 -20,0M1540.8,1202.6a10,10 0 1,0 20,0a10,10 0 1,0 -20,0M1564.7,1202.9a10,10 0 1,0 20,0a10,10 0 1,0 -20,0M1576.8,1200.9a10,10 0 1,0 20,0a10,10 0 1,0 -20,0M1589.4,1200.2a10,10 0 1,0 20,0a10,10 0 1,0 -20,0M1502.7,1205.7a10,10 0 1,0 20,0a10,10 0 1,0 -20,0M1516.6,1208.0a10,10 0 1,0 20,0a10,10 0 1,0 -20,0M1528.4,1215.7a10,10 0 1,0 20,0a10,10 0 1,0 -20,0M1540.8,1214.4a10,10 0 1,0 20,0a10,10 0 1,0 -20,0M1578.3,1212.8a10,10 0 1,0 20,0a10,10 0 1,0 -20,0M1516.0,1227.2a10,10 0 1,0 20,0a10,10 0 1,0 -20,0M1529.0,1227.5a10,10 0 1,0 20,0a10,10 0 1,0 -20,0M1540.8,1226.8a10,10 0 1,0 20,0a10,10 0 1,0 -20,0M1553.6,1227.5a10,10 0 1,0 20,0a10,10 0 1,0 -20,0M1565.4,1227.5a10,10 0 1,0 20,0a10,10 0 1,0 -20,0M1577.7,1225.2a10,10 0 1,0 20,0a10,10 0 1,0 -20,0M1601.7,1224.8a10,10 0 1,0 20,0a10,10 0 1,0 -20,0M1553.2,1238.9a10,10 0 1,0 20,0a10,10 0 1,0 -20,0M1532.7,1121.6a10,10 0 1,0 20,0a10,10 0 1,0 -20,0M1565.3,1123.7a10,10 0 1,0 20,0a10,10 0 1,0 -20,0M1524.9,1135.5a10,10 0 1,0 20,0a10,10 0 1,0 -20,0M1567.5,1140.7a10,10 0 1,0 20,0a10,10 0 1,0 -20,0M1606.2,1148.0a10,10 0 1,0 20,0a10,10 0 1,0 -20,0M1554.7,1155.8a10,10 0 1,0 20,0a10,10 0 1,0 -20,0M1492.4,1162.2a10,10 0 1,0 20,0a10,10 0 1,0 -20,0M1517.2,1160.7a10,10 0 1,0 20,0a10,10 0 1,0 -20,0M1578.7,1164.1a10,10 0 1,0 20,0a10,10 0 1,0 -20,0M1565.4,1167.8a10,10 0 1,0 20,0a10,10 0 1,0 -20,0M1607.1,1160.5a10,10 0 1,0 20,0a10,10 0 1,0 -20,0M1531.7,1171.6a10,10 0 1,0 20,0a10,10 0 1,0 -20,0M1606.9,1172.4a10,10 0 1,0 20,0a10,10 0 1,0 -20,0M1577.2,1176.9a10,10 0 1,0 20,0a10,10 0 1,0 -20,0M1558.8,1181.7a10,10 0 1,0 20,0a10,10 0 1,0 -20,0M1590.0,1181.5a10,10 0 1,0 20,0a10,10 0 1,0 -20,0M1607.9,1187.4a10,10 0 1,0 20,0a10,10 0 1,0 -20,0M1499.8,1193.7a10,10 0 1,0 20,0a10,10 0 1,0 -20,0M1564.8,1191.4a10,10 0 1,0 20,0a10,10 0 1,0 -20,0M1600.6,1200.0a10,10 0 1,0 20,0a10,10 0 1,0 -20,0M1553.2,1212.8a10,10 0 1,0 20,0a10,10 0 1,0 -20,0M1565.9,1214.7a10,10 0 1,0 20,0a10,10 0 1,0 -20,0M1591.3,1213.1a10,10 0 1,0 20,0a10,10 0 1,0 -20,0M1604.2,1211.5a10,10 0 1,0 20,0a10,10 0 1,0 -20,0M1590.1,1232.7a10,10 0 1,0 20,0a10,10 0 1,0 -20,0M1519.5,1239.8a10,10 0 1,0 20,0a10,10 0 1,0 -20,0M1538.3,1238.5a10,10 0 1,0 20,0a10,10 0 1,0 -20,0M1505.2,1160.4a10,10 0 1,0 20,0a10,10 0 1,0 -20,0M1667.6,1144.2a10,10 0 1,0 20,0a10,10 0 1,0 -20,0M1618.0,1146.1a10,10 0 1,0 20,0a10,10 0 1,0 -20,0M1619.0,1157.9a10,10 0 1,0 20,0a10,10 0 1,0 -20,0M1675.4,1156.6a10,10 0 1,0 20,0a10,10 0 1,0 -20,0M1675.9,1168.8a10,10 0 1,0 20,0a10,10 0 1,0 -20,0M1664.1,1179.6a10,10 0 1,0 20,0a10,10 0 1,0 -20,0M1620.7,1195.9a10,10 0 1,0 20,0a10,10 0 1,0 -20,0M1632.7,1193.9a10,10 0 1,0 20,0a10,10 0 1,0 -20,0M1622.6,1209.8a10,10 0 1,0 20,0a10,10 0 1,0 -20,0M1613.3,1235.6a10,10 0 1,0 20,0a10,10 0 1,0 -20,0M1674.6,1120.2a10,10 0 1,0 20,0a10,10 0 1,0 -20,0M1641.7,1129.2a10,10 0 1,0 20,0a10,10 0 1,0 -20,0M1653.7,1136.1a10,10 0 1,0 20,0a10,10 0 1,0 -20,0M1630.1,1140.8a10,10 0 1,0 20,0a10,10 0 1,0 -20,0M1642.0,1142.7a10,10 0 1,0 20,0a10,10 0 1,0 -20,0M1656.0,1149.3a10,10 0 1,0 20,0a10,10 0 1,0 -20,0M1630.8,1154.3a10,10 0 1,0 20,0a10,10 0 1,0 -20,0M1643.6,1160.2a10,10 0 1,0 20,0a10,10 0 1,0 -20,0M1663.4,1166.0a10,10 0 1,0 20,0a10,10 0 1,0 -20,0M1629.9,1169.4a10,10 0 1,0 20,0a10,10 0 1,0 -20,0M1639.4,1178.1a10,10 0 1,0 20,0a10,10 0 1,0 -20,0M1625.4,1182.3a10,10 0 1,0 20,0a10,10 0 1,0 -20,0M1651.8,1186.5a10,10 0 1,0 20,0a10,10 0 1,0 -20,0M1613.3,1223.1a10,10 0 1,0 20,0a10,10 0 1,0 -20,0M1651.8,1172.5a10,10 0 1,0 20,0a10,10 0 1,0 -20,0M1645.2,1237.6a10,10 0 1,0 20,0a10,10 0 1,0 -20,0M1543.0,1251.4a10,10 0 1,0 20,0a10,10 0 1,0 -20,0M1578.2,1281.3a10,10 0 1,0 20,0a10,10 0 1,0 -20,0M1590.7,1284.3a10,10 0 1,0 20,0a10,10 0 1,0 -20,0M1602.0,1270.6a10,10 0 1,0 20,0a10,10 0 1,0 -20,0M1531.0,1250.5a10,10 0 1,0 20,0a10,10 0 1,0 -20,0M1556.6,1256.0a10,10 0 1,0 20,0a10,10 0 1,0 -20,0M1568.3,1256.0a10,10 0 1,0 20,0a10,10 0 1,0 -20,0M1581.7,1256.0a10,10 0 1,0 20,0a10,10 0 1,0 -20,0M1599.3,1258.6a10,10 0 1,0 20,0a10,10 0 1,0 -20,0M1577.8,1244.0a10,10 0 1,0 20,0a10,10 0 1,0 -20,0M1556.6,1269.4a10,10 0 1,0 20,0a10,10 0 1,0 -20,0M1573.9,1268.3a10,10 0 1,0 20,0a10,10 0 1,0 -20,0M1590.2,1272.5a10,10 0 1,0 20,0a10,10 0 1,0 -20,0M1602.9,1282.3a10,10 0 1,0 20,0a10,10 0 1,0 -20,0M1583.9,1309.6a10,10 0 1,0 20,0a10,10 0 1,0 -20,0M1607.5,1312.6a10,10 0 1,0 20,0a10,10 0 1,0 -20,0M1601.8,1246.9a10,10 0 1,0 20,0a10,10 0 1,0 -20,0M1598.5,1297.7a10,10 0 1,0 20,0a10,10 0 1,0 -20,0M1629.6,1272.9a10,10 0 1,0 20,0a10,10 0 1,0 -20,0M1656.0,1286.8a10,10 0 1,0 20,0a10,10 0 1,0 -20,0M1651.0,1300.8a10,10 0 1,0 20,0a10,10 0 1,0 -20,0M1619.2,1310.8a10,10 0 1,0 20,0a10,10 0 1,0 -20,0M1622.2,1247.3a10,10 0 1,0 20,0a10,10 0 1,0 -20,0M1633.8,1246.9a10,10 0 1,0 20,0a10,10 0 1,0 -20,0M1611.8,1258.8a10,10 0 1,0 20,0a10,10 0 1,0 -20,0M1630.5,1259.2a10,10 0 1,0 20,0a10,10 0 1,0 -20,0M1614.7,1276.4a10,10 0 1,0 20,0a10,10 0 1,0 -20,0M1642.2,1276.4a10,10 0 1,0 20,0a10,10 0 1,0 -20,0M1654.9,1273.1a10,10 0 1,0 20,0a10,10 0 1,0 -20,0M1626.4,1286.6a10,10 0 1,0 20,0a10,10 0 1,0 -20,0M1644.3,1289.1a10,10 0 1,0 20,0a10,10 0 1,0 -20,0M1614.4,1296.9a10,10 0 1,0 20,0a10,10 0 1,0 -20,0M1661.7,1249.5a10,10 0 1,0 20,0a10,10 0 1,0 -20,0M1632.9,1296.5a10,10 0 1,0 20,0a10,10 0 1,0 -20,0" fill="#dcdcdc" filter="url(#hblur)"/>
<path d="M1503.6,1095.8L1527.6,1098.9M1503.6,1095.8L1491.8,1106.3M1503.6,1095.8L1542.7,1121.6M1527.6,1098.9L1530.9,1119.8M1527.6,1098.9L1561.0,1132.8M1527.6,1098.9L1534.9,1135.5M1491.8,1106.3L1517.3,1110.7M1491.8,1106.3L1530.9,1119.8M1491.8,1106.3L1503.4,1149.8M1517.3,1110.7L1530.9,1119.8M1517.3,1110.7L1542.7,1121.6M1517.3,1110.7L1495.9,1129.1M1517.3,1110.7L1534.9,1135.5M1517.3,1110.7L1503.4,1149.8M1530.9,1119.8L1524.7,1148.6M1530.9,1119.8L1575.3,1123.7M1530.9,1119.8L1503.4,1149.8M1592.4,1109.4L1567.0,1109.7M1592.4,1109.4L1626.4,1131.8M1592.4,1109.4L1627.6,1092.5M1616.2,1107.7L1589.7,1095.2M1616.2,1107.7L1586.8,1126.6M1616.2,1107.7L1603.2,1145.7M1616.2,1107.7L1640.1,1140.8M1616.2,1107.7L1634.2,1070.8M1549.6,1134.5L1565.7,1144.2M1549.6,1134.5L1577.5,1155.8M1549.6,1134.5L1533.4,1178.8M1549.6,1134.5L1572.3,1098.0M1549.6,1134.5L1549.3,1108.2M1549.6,1134.5L1542.7,1121.6M1549.6,1134.5L1534.9,1135.5M1549.6,1134.5L1577.5,1140.7M1549.6,1134.5L1541.7,1171.6M1549.6,1134.5L1515.2,1160.4M1561.0,1132.8L1565.7,1144.2M1561.0,1132.8L1552.9,1150.4M1561.0,1132.8L1577.5,1155.8M1561.0,1132.8L1572.3,1098.0M1561.0,1132.8L1589.7,1095.2M1561.0,1132.8L1567.0,1109.7M1561.0,1132.8L1542.7,1121.6M1561.0,1132.8L1586.8,1126.6M1561.0,1132.8L1534.9,1135.5M1561.0,1132.8L1603.2,1145.7M1561.0,1132.8L1564.7,1155.8M1561.0,1132.8L1527.2,1160.7M1561.0,1132.8L1541.7,1171.6M1565.7,1144.2L1524.7,1148.6M1565.7,1144.2L1552.9,1150.4M1565.7,1144.2L1567.0,1109.7M1565.7,1144.2L1575.3,1123.7M1565.7,1144.2L1586.8,1126.6M1565.7,1144.2L1603.2,1145.7M1565.7,1144.2L1527.2,1160.7M1565.7,1144.2L1575.4,1167.8M1565.7,1144.2L1587.2,1176.9M1524.7,1148.6L1552.9,1150.4M1524.7,1148.6L1540.5,1153.5M1524.7,1148.6L1563.0,1167.8M1524.7,1148.6L1489.1,1173.8M1524.7,1148.6L1515.7,1172.5M1524.7,1148.6L1533.4,1178.8M1524.7,1148.6L1551.7,1181.5M1524.7,1148.6L1495.9,1129.1M1524.7,1148.6L1503.4,1149.8M1524.7,1148.6L1509.8,1193.7M1552.9,1150.4L1577.5,1155.8M1552.9,1150.4L1563.0,1167.8M1552.9,1150.4L1515.7,1172.5M1552.9,1150.4L1533.4,1178.8M1552.9,1150.4L1521.6,1184.2M1552.9,1150.4L1539.0,1191.2M1552.9,1150.4L1550.8,1191.2M1552.9,1150.4L1562.6,1195.2M1552.9,1150.4L1549.3,1108.2M1552.9,1150.4L1575.3,1123.7M1552.9,1150.4L1534.9,1135.5M1552.9,1150.4L1587.2,1176.9M1552.9,1150.4L1568.8,1181.7M1552.9,1150.4L1515.2,1160.4M1540.5,1153.5L1577.5,1155.8M1540.5,1153.5L1515.7,1172.5M1540.5,1153.5L1539.0,1191.2M1540.5,1153.5L1562.6,1195.2M1540.5,1153.5L1525.7,1195.8M1540.5,1153.5L1542.7,1121.6M1540.5,1153.5L1575.3,1123.7M1540.5,1153.5L1503.4,1149.8M1540.5,1153.5L1502.4,1162.2M1540.5,1153.5L1575.4,1167.8M1540.5,1153.5L1568.8,1181.7M1540.5,1153.5L1515.2,1160.4M1577.5,1155.8L1606.0,1159.8M1577.5,1155.8L1551.7,1181.5M1577.5,1155.8L1550.8,1191.2M1577.5,1155.8L1574.7,1202.9M1577.5,1155.8L1575.3,1123.7M1577.5,1155.8L1586.8,1126.6M1577.5,1155.8L1614.3,1131.3M1577.5,1155.8L1534.9,1135.5M1577.5,1155.8L1588.7,1164.1M1577.5,1155.8L1587.2,1176.9M1577.5,1155.8L1574.8,1191.4M1484.3,1157.3L1472.5,1162.2M1484.3,1157.3L1502.4,1162.2M1484.3,1157.3L1509.8,1193.7M1606.0,1159.8L1599.4,1200.2M1606.0,1159.8L1575.3,1123.7M1606.0,1159.8L1614.3,1131.3M1606.0,1159.8L1577.5,1140.7M1606.0,1159.8L1603.2,1145.7M1606.0,1159.8L1616.2,1148.0M1606.0,1159.8L1617.1,1160.5M1606.0,1159.8L1616.9,1172.4M1606.0,1159.8L1587.2,1176.9M1606.0,1159.8L1610.6,1200.0M1606.0,1159.8L1626.4,1131.8M1606.0,1159.8L1653.6,1160.2M1563.0,1167.8L1515.7,1172.5M1563.0,1167.8L1587.1,1188.7M1563.0,1167.8L1550.8,1191.2M1563.0,1167.8L1539.0,1202.6M1563.0,1167.8L1586.8,1200.9M1563.0,1167.8L1564.7,1155.8M1563.0,1167.8L1587.2,1176.9M1563.0,1167.8L1600.0,1181.5M1489.1,1173.8L1533.4,1178.8M1489.1,1173.8L1512.7,1205.7M1489.1,1173.8L1527.2,1160.7M1489.1,1173.8L1515.2,1160.4M1515.7,1172.5L1521.6,1184.2M1515.7,1172.5L1550.8,1191.2M1515.7,1172.5L1539.0,1202.6M1515.7,1172.5L1526.6,1208.0M1515.7,1172.5L1495.9,1129.1M1515.7,1172.5L1534.9,1135.5M1515.7,1172.5L1472.8,1181.1M1515.7,1172.5L1515.2,1160.4M1533.4,1178.8L1521.6,1184.2M1533.4,1178.8L1539.0,1191.2M1533.4,1178.8L1562.6,1195.2M1533.4,1178.8L1539.0,1202.6M1533.4,1178.8L1526.6,1208.0M1533.4,1178.8L1538.4,1215.7M1533.4,1178.8L1550.8,1214.4M1533.4,1178.8L1503.4,1149.8M1533.4,1178.8L1564.7,1155.8M1533.4,1178.8L1575.4,1167.8M1533.4,1178.8L1568.8,1181.7M1533.4,1178.8L1563.2,1212.8M1551.7,1181.5L1550.8,1191.2M1551.7,1181.5L1525.7,1195.8M1551.7,1181.5L1586.8,1200.9M1551.7,1181.5L1526.6,1208.0M1551.7,1181.5L1550.8,1214.4M1551.7,1181.5L1527.2,1160.7M1551.7,1181.5L1588.7,1164.1M1551.7,1181.5L1541.7,1171.6M1551.7,1181.5L1587.2,1176.9M1551.7,1181.5L1509.8,1193.7M1551.7,1181.5L1563.2,1212.8M1551.7,1181.5L1575.9,1214.7M1551.7,1181.5L1515.2,1160.4M1521.6,1184.2L1539.0,1191.2M1521.6,1184.2L1562.6,1195.2M1521.6,1184.2L1525.7,1195.8M1521.6,1184.2L1538.4,1215.7M1521.6,1184.2L1550.8,1214.4M1521.6,1184.2L1498.6,1225.2M1521.6,1184.2L1526.0,1227.2M1521.6,1184.2L1503.4,1149.8M1521.6,1184.2L1502.4,1162.2M1521.6,1184.2L1541.7,1171.6M1521.6,1184.2L1515.2,1160.4M1587.1,1188.7L1562.6,1195.2M1587.1,1188.7L1564.7,1155.8M1587.1,1188.7L1617.1,1160.5M1587.1,1188.7L1616.9,1172.4M1587.1,1188.7L1587.2,1176.9M1587.1,1188.7L1600.0,1181.5M1587.1,1188.7L1610.6,1200.0M1587.1,1188.7L1575.9,1214.7M1587.1,1188.7L1601.3,1213.1M1587.1,1188.7L1614.2,1211.5M1587.1,1188.7L1600.1,1232.7M1539.0,1191.2L1539.0,1202.6M1539.0,1191.2L1574.7,1202.9M1539.0,1191.2L1512.7,1205.7M1539.0,1191.2L1498.6,1212.5M1539.0,1191.2L1538.4,1215.7M1539.0,1191.2L1526.0,1227.2M1539.0,1191.2L1539.0,1227.5M1539.0,1191.2L1550.8,1226.8M1539.0,1191.2L1563.6,1227.5M1539.0,1191.2L1502.4,1162.2M1539.0,1191.2L1527.2,1160.7M1539.0,1191.2L1575.4,1167.8M1539.0,1191.2L1541.7,1171.6M1539.0,1191.2L1509.8,1193.7M1539.0,1191.2L1574.8,1191.4M1539.0,1191.2L1575.9,1214.7M1539.0,1191.2L1515.2,1160.4M1550.8,1191.2L1550.8,1202.6M1550.8,1191.2L1512.7,1205.7M1550.8,1191.2L1550.8,1214.4M1550.8,1191.2L1526.0,1227.2M1550.8,1191.2L1563.6,1227.5M1550.8,1191.2L1509.8,1193.7M1550.8,1191.2L1563.2,1212.8M1550.8,1191.2L1575.9,1214.7M1550.8,1191.2L1515.2,1160.4M1562.6,1195.2L1574.7,1202.9M1562.6,1195.2L1586.8,1200.9M1562.6,1195.2L1526.6,1208.0M1562.6,1195.2L1538.4,1215.7M1562.6,1195.2L1550.8,1214.4M1562.6,1195.2L1588.3,1212.8M1562.6,1195.2L1539.0,1227.5M1562.6,1195.2L1563.6,1227.5M1562.6,1195.2L1563.2,1238.9M1562.6,1195.2L1588.7,1164.1M1562.6,1195.2L1587.2,1176.9M1562.6,1195.2L1600.0,1181.5M1562.6,1195.2L1574.8,1191.4M1492.8,1194.8L1451.1,1197.6M1492.8,1194.8L1539.0,1202.6M1492.8,1194.8L1512.7,1205.7M1492.8,1194.8L1526.6,1208.0M1492.8,1194.8L1498.6,1212.5M1492.8,1194.8L1498.6,1225.2M1492.8,1194.8L1483.2,1229.7M1492.8,1194.8L1526.0,1227.2M1525.7,1195.8L1539.0,1202.6M1525.7,1195.8L1550.8,1202.6M1525.7,1195.8L1498.6,1212.5M1525.7,1195.8L1538.4,1215.7M1525.7,1195.8L1550.8,1214.4M1525.7,1195.8L1539.0,1227.5M1525.7,1195.8L1541.7,1171.6M1525.7,1195.8L1563.2,1212.8M1451.1,1197.6L1435.3,1211.3M1451.1,1197.6L1472.5,1162.2M1451.1,1197.6L1466.3,1240.7M1463.0,1202.6L1472.5,1162.2M1539.0,1202.6L1574.7,1202.9M1539.0,1202.6L1586.8,1200.9M1539.0,1202.6L1512.7,1205.7M1539.0,1202.6L1538.4,1215.7M1539.0,1202.6L1550.8,1226.8M1539.0,1202.6L1563.6,1227.5M1539.0,1202.6L1563.2,1238.9M1539.0,1202.6L1568.8,1181.7M1539.0,1202.6L1509.8,1193.7M1539.0,1202.6L1529.5,1239.8M1539.0,1202.6L1541.0,1250.5M1550.8,1202.6L1586.8,1200.9M1550.8,1202.6L1512.7,1205.7M1550.8,1202.6L1538.4,1215.7M1550.8,1202.6L1526.0,1227.2M1550.8,1202.6L1563.2,1238.9M1550.8,1202.6L1541.7,1171.6M1550.8,1202.6L1587.2,1176.9M1550.8,1202.6L1509.8,1193.7M1550.8,1202.6L1575.9,1214.7M1550.8,1202.6L1529.5,1239.8M1574.7,1202.9L1599.4,1200.2M1574.7,1202.9L1550.8,1226.8M1574.7,1202.9L1563.6,1227.5M1574.7,1202.9L1587.7,1225.2M1574.7,1202.9L1611.7,1224.8M1574.7,1202.9L1588.7,1164.1M1574.7,1202.9L1575.4,1167.8M1574.7,1202.9L1541.7,1171.6M1574.7,1202.9L1587.2,1176.9M1574.7,1202.9L1600.0,1181.5M1574.7,1202.9L1574.8,1191.4M1574.7,1202.9L1563.2,1212.8M1574.7,1202.9L1601.3,1213.1M1574.7,1202.9L1614.2,1211.5M1574.7,1202.9L1548.3,1238.5M1574.7,1202.9L1587.8,1244.0M1586.8,1200.9L1587.7,1225.2M1586.8,1200.9L1611.7,1224.8M1586.8,1200.9L1575.4,1167.8M1586.8,1200.9L1574.8,1191.4M1586.8,1200.9L1610.6,1200.0M1586.8,1200.9L1563.2,1212.8M1586.8,1200.9L1601.3,1213.1M1586.8,1200.9L1600.1,1232.7M1586.8,1200.9L1623.3,1223.1M1599.4,1200.2L1588.3,1212.8M1599.4,1200.2L1563.6,1227.5M1599.4,1200.2L1575.4,1227.5M1599.4,1200.2L1588.7,1164.1M1599.4,1200.2L1616.9,1172.4M1599.4,1200.2L1568.8,1181.7M1599.4,1200.2L1617.9,1187.4M1599.4,1200.2L1600.1,1232.7M1599.4,1200.2L1630.7,1195.9M1599.4,1200.2L1644.7,1205.6M1599.4,1200.2L1632.6,1209.8M1599.4,1200.2L1623.3,1235.6M1512.7,1205.7L1498.6,1212.5M1512.7,1205.7L1550.8,1214.4M1512.7,1205.7L1526.0,1227.2M1512.7,1205.7L1539.0,1227.5M1512.7,1205.7L1527.2,1160.7M1512.7,1205.7L1541.7,1171.6M1512.7,1205.7L1472.8,1181.1M1512.7,1205.7L1513.5,1250.1M1526.6,1208.0L1550.8,1226.8M1526.6,1208.0L1563.6,1227.5M1526.6,1208.0L1563.2,1238.9M1526.6,1208.0L1529.5,1239.8M1526.6,1208.0L1541.0,1250.5M1435.3,1211.3L1422.4,1233.8M1498.6,1212.5L1538.4,1215.7M1498.6,1212.5L1514.7,1238.2M1498.6,1212.5L1529.5,1239.8M1498.6,1212.5L1466.3,1240.7M1498.6,1212.5L1494.0,1259.2M1538.4,1215.7L1498.6,1225.2M1538.4,1215.7L1539.0,1227.5M1538.4,1215.7L1550.8,1226.8M1538.4,1215.7L1563.6,1227.5M1538.4,1215.7L1575.4,1227.5M1538.4,1215.7L1514.7,1238.2M1538.4,1215.7L1541.7,1171.6M1538.4,1215.7L1509.8,1193.7M1538.4,1215.7L1575.9,1214.7M1538.4,1215.7L1548.3,1238.5M1538.4,1215.7L1513.5,1250.1M1550.8,1214.4L1514.7,1238.2M1550.8,1214.4L1541.7,1171.6M1550.8,1214.4L1568.8,1181.7M1550.8,1214.4L1509.8,1193.7M1550.8,1214.4L1548.3,1238.5M1550.8,1214.4L1566.6,1256.0M1550.8,1214.4L1587.8,1244.0M1588.3,1212.8L1611.7,1224.8M1588.3,1212.8L1563.2,1238.9M1588.3,1212.8L1574.8,1191.4M1588.3,1212.8L1563.2,1212.8M1588.3,1212.8L1623.3,1223.1M1498.6,1225.2L1526.0,1227.2M1498.6,1225.2L1526.5,1254.4M1483.2,1229.7L1514.7,1238.2M1483.2,1229.7L1529.5,1239.8M1483.2,1229.7L1466.3,1240.7M1483.2,1229.7L1494.0,1259.2M1526.0,1227.2L1514.7,1238.2M1526.0,1227.2L1563.2,1212.8M1526.0,1227.2L1541.0,1250.5M1526.0,1227.2L1494.0,1259.2M1539.0,1227.5L1563.6,1227.5M1539.0,1227.5L1514.7,1238.2M1539.0,1227.5L1563.2,1212.8M1539.0,1227.5L1529.5,1239.8M1539.0,1227.5L1548.3,1238.5M1539.0,1227.5L1553.0,1251.4M1539.0,1227.5L1566.6,1256.0M1550.8,1226.8L1563.6,1227.5M1550.8,1226.8L1575.4,1227.5M1550.8,1226.8L1563.2,1238.9M1550.8,1226.8L1574.8,1191.4M1550.8,1226.8L1513.5,1250.1M1550.8,1226.8L1566.6,1256.0M1550.8,1226.8L1578.3,1256.0M1563.6,1227.5L1563.2,1238.9M1563.6,1227.5L1563.2,1212.8M1563.6,1227.5L1600.1,1232.7M1563.6,1227.5L1529.5,1239.8M1563.6,1227.5L1553.0,1251.4M1563.6,1227.5L1566.6,1256.0M1563.6,1227.5L1566.6,1269.4M1563.6,1227.5L1583.9,1268.3M1575.4,1227.5L1611.7,1224.8M1575.4,1227.5L1563.2,1238.9M1575.4,1227.5L1568.8,1181.7M1575.4,1227.5L1614.2,1211.5M1575.4,1227.5L1600.1,1232.7M1575.4,1227.5L1548.3,1238.5M1575.4,1227.5L1553.0,1251.4M1575.4,1227.5L1566.6,1256.0M1575.4,1227.5L1578.3,1256.0M1575.4,1227.5L1591.7,1256.0M1575.4,1227.5L1587.8,1244.0M1575.4,1227.5L1583.9,1268.3M1587.7,1225.2L1563.2,1238.9M1587.7,1225.2L1600.0,1181.5M1587.7,1225.2L1601.3,1213.1M1587.7,1225.2L1614.2,1211.5M1587.7,1225.2L1548.3,1238.5M1587.7,1225.2L1553.0,1251.4M1587.7,1225.2L1566.6,1256.0M1587.7,1225.2L1591.7,1256.0M1587.7,1225.2L1609.3,1258.6M1587.7,1225.2L1587.8,1244.0M1587.7,1225.2L1621.8,1258.8M1611.7,1224.8L1600.0,1181.5M1611.7,1224.8L1617.9,1187.4M1611.7,1224.8L1575.9,1214.7M1611.7,1224.8L1601.3,1213.1M1611.7,1224.8L1632.6,1209.8M1611.7,1224.8L1623.3,1235.6M1611.7,1224.8L1623.3,1223.1M1611.7,1224.8L1655.2,1237.6M1611.7,1224.8L1632.2,1247.3M1611.7,1224.8L1640.5,1259.2M1514.7,1238.2L1529.5,1239.8M1514.7,1238.2L1548.3,1238.5M1514.7,1238.2L1541.0,1250.5M1563.2,1238.9L1601.3,1213.1M1563.2,1238.9L1600.1,1232.7M1563.2,1238.9L1526.5,1254.4M1563.2,1238.9L1541.0,1250.5M1563.2,1238.9L1578.3,1256.0M1563.2,1238.9L1591.7,1256.0M1563.2,1238.9L1539.4,1275.7M1572.3,1098.0L1542.7,1121.6M1572.3,1098.0L1575.3,1123.7M1572.3,1098.0L1586.8,1126.6M1572.3,1098.0L1577.5,1140.7M1589.7,1095.2L1567.0,1109.7M1589.7,1095.2L1614.3,1131.3M1589.7,1095.2L1627.6,1092.5M1549.3,1108.2L1567.0,1109.7M1549.3,1108.2L1586.8,1126.6M1549.3,1108.2L1577.5,1140.7M1567.0,1109.7L1586.8,1126.6M1567.0,1109.7L1534.9,1135.5M1542.7,1121.6L1575.3,1123.7M1542.7,1121.6L1534.9,1135.5M1575.3,1123.7L1586.8,1126.6M1575.3,1123.7L1534.9,1135.5M1575.3,1123.7L1603.2,1145.7M1575.3,1123.7L1616.2,1148.0M1575.3,1123.7L1564.7,1155.8M1575.3,1123.7L1588.7,1164.1M1575.3,1123.7L1575.4,1167.8M1586.8,1126.6L1603.2,1145.7M1586.8,1126.6L1564.7,1155.8M1586.8,1126.6L1588.7,1164.1M1586.8,1126.6L1575.4,1167.8M1586.8,1126.6L1626.4,1131.8M1495.9,1129.1L1534.9,1135.5M1495.9,1129.1L1503.4,1149.8M1495.9,1129.1L1472.5,1162.2M1495.9,1129.1L1527.2,1160.7M1614.3,1131.3L1616.2,1148.0M1614.3,1131.3L1588.7,1164.1M1614.3,1131.3L1616.9,1172.4M1614.3,1131.3L1630.0,1109.0M1614.3,1131.3L1628.0,1146.1M1614.3,1131.3L1629.0,1157.9M1614.3,1131.3L1626.4,1131.8M1614.3,1131.3L1651.7,1129.2M1614.3,1131.3L1640.1,1140.8M1614.3,1131.3L1639.9,1169.4M1614.3,1131.3L1653.6,1117.0M1534.9,1135.5L1502.4,1162.2M1534.9,1135.5L1541.7,1171.6M1577.5,1140.7L1564.7,1155.8M1577.5,1140.7L1588.7,1164.1M1577.5,1140.7L1575.4,1167.8M1577.5,1140.7L1568.8,1181.7M1603.2,1145.7L1575.4,1167.8M1603.2,1145.7L1617.1,1160.5M1603.2,1145.7L1640.1,1140.8M1603.2,1145.7L1640.8,1154.3M1616.2,1148.0L1588.7,1164.1M1616.2,1148.0L1587.2,1176.9M1616.2,1148.0L1617.9,1187.4M1616.2,1148.0L1626.4,1131.8M1503.4,1149.8L1472.5,1162.2M1503.4,1149.8L1502.4,1162.2M1503.4,1149.8L1527.2,1160.7M1503.4,1149.8L1541.7,1171.6M1503.4,1149.8L1472.8,1181.1M1564.7,1155.8L1527.2,1160.7M1564.7,1155.8L1575.4,1167.8M1564.7,1155.8L1541.7,1171.6M1564.7,1155.8L1587.2,1176.9M1472.5,1162.2L1502.4,1162.2M1472.5,1162.2L1472.8,1181.1M1472.5,1162.2L1515.2,1160.4M1502.4,1162.2L1515.2,1160.4M1527.2,1160.7L1541.7,1171.6M1527.2,1160.7L1568.8,1181.7M1527.2,1160.7L1509.8,1193.7M1527.2,1160.7L1515.2,1160.4M1588.7,1164.1L1617.1,1160.5M1588.7,1164.1L1616.9,1172.4M1588.7,1164.1L1568.8,1181.7M1588.7,1164.1L1617.9,1187.4M1588.7,1164.1L1629.0,1157.9M1575.4,1167.8L1617.1,1160.5M1575.4,1167.8L1563.2,1212.8M1575.4,1167.8L1575.9,1214.7M1617.1,1160.5L1616.9,1172.4M1617.1,1160.5L1628.0,1146.1M1617.1,1160.5L1629.0,1157.9M1617.1,1160.5L1630.7,1195.9M1617.1,1160.5L1642.7,1193.9M1617.1,1160.5L1652.0,1142.7M1617.1,1160.5L1649.4,1178.1M1617.1,1160.5L1635.4,1182.3M1541.7,1171.6L1574.8,1191.4M1541.7,1171.6L1563.2,1212.8M1541.7,1171.6L1515.2,1160.4M1616.9,1172.4L1587.2,1176.9M1616.9,1172.4L1600.0,1181.5M1616.9,1172.4L1610.6,1200.0M1616.9,1172.4L1614.2,1211.5M1616.9,1172.4L1642.7,1193.9M1616.9,1172.4L1626.4,1131.8M1616.9,1172.4L1640.1,1140.8M1616.9,1172.4L1640.8,1154.3M1616.9,1172.4L1653.6,1160.2M1616.9,1172.4L1649.4,1178.1M1616.9,1172.4L1635.4,1182.3M1616.9,1172.4L1661.8,1186.5M1616.9,1172.4L1661.8,1172.5M1587.2,1176.9L1574.8,1191.4M1587.2,1176.9L1601.3,1213.1M1587.2,1176.9L1614.2,1211.5M1587.2,1176.9L1629.0,1157.9M1568.8,1181.7L1610.6,1200.0M1600.0,1181.5L1610.6,1200.0M1600.0,1181.5L1614.2,1211.5M1600.0,1181.5L1629.0,1157.9M1600.0,1181.5L1639.9,1169.4M1600.0,1181.5L1635.4,1182.3M1600.0,1181.5L1623.3,1223.1M1617.9,1187.4L1601.3,1213.1M1617.9,1187.4L1614.2,1211.5M1617.9,1187.4L1628.0,1146.1M1617.9,1187.4L1629.0,1157.9M1617.9,1187.4L1661.8,1195.9M1617.9,1187.4L1644.7,1205.6M1617.9,1187.4L1640.8,1154.3M1617.9,1187.4L1653.6,1160.2M1617.9,1187.4L1639.9,1169.4M1617.9,1187.4L1623.3,1223.1M1509.8,1193.7L1472.8,1181.1M1509.8,1193.7L1515.2,1160.4M1574.8,1191.4L1610.6,1200.0M1610.6,1200.0L1614.2,1211.5M1610.6,1200.0L1642.7,1193.9M1610.6,1200.0L1623.3,1235.6M1610.6,1200.0L1623.3,1223.1M1563.2,1212.8L1575.9,1214.7M1563.2,1212.8L1600.1,1232.7M1563.2,1212.8L1529.5,1239.8M1563.2,1212.8L1548.3,1238.5M1575.9,1214.7L1548.3,1238.5M1575.9,1214.7L1553.0,1251.4M1575.9,1214.7L1578.3,1256.0M1601.3,1213.1L1614.2,1211.5M1601.3,1213.1L1600.1,1232.7M1601.3,1213.1L1643.1,1229.8M1601.3,1213.1L1623.3,1223.1M1601.3,1213.1L1609.3,1258.6M1614.2,1211.5L1630.7,1195.9M1614.2,1211.5L1587.8,1244.0M1614.2,1211.5L1643.8,1246.9M1600.1,1232.7L1632.6,1209.8M1600.1,1232.7L1643.1,1229.8M1600.1,1232.7L1623.3,1235.6M1600.1,1232.7L1587.8,1244.0M1600.1,1232.7L1632.2,1247.3M1600.1,1232.7L1621.8,1258.8M1529.5,1239.8L1513.5,1250.1M1529.5,1239.8L1494.0,1259.2M1529.5,1239.8L1566.6,1256.0M1466.3,1240.7L1422.4,1233.8M1466.3,1240.7L1450.5,1283.0M1472.8,1181.1L1515.2,1160.4M1548.3,1238.5L1526.5,1254.4M1548.3,1238.5L1566.6,1256.0M1548.3,1238.5L1578.3,1256.0M1548.3,1238.5L1591.7,1256.0M1548.3,1238.5L1587.8,1244.0M1548.3,1238.5L1566.6,1269.4M1630.0,1109.0L1667.2,1113.9M1630.0,1109.0L1640.1,1140.8M1630.0,1109.0L1652.0,1142.7M1667.2,1113.9L1700.6,1120.2M1667.2,1113.9L1651.6,1081.0M1667.2,1113.9L1683.5,1101.2M1667.2,1113.9L1684.6,1120.2M1667.2,1113.9L1651.7,1129.2M1667.2,1113.9L1663.7,1136.1M1667.2,1113.9L1640.1,1140.8M1667.2,1113.9L1675.6,1131.8M1700.6,1120.2L1677.6,1144.2M1700.6,1120.2L1685.4,1156.6M1700.6,1120.2L1719.3,1107.0M1700.6,1120.2L1663.7,1136.1M1700.6,1120.2L1696.3,1144.7M1700.6,1120.2L1721.1,1150.4M1724.2,1127.6L1716.8,1169.1M1724.2,1127.6L1696.6,1095.6M1724.2,1127.6L1684.6,1120.2M1724.2,1127.6L1696.3,1144.7M1724.2,1127.6L1761.5,1113.9M1766.9,1134.9L1761.5,1113.9M1739.8,1142.7L1697.0,1157.1M1739.8,1142.7L1772.0,1152.8M1794.1,1143.9L1772.0,1152.8M1817.4,1138.0L1772.0,1152.8M1817.4,1138.0L1806.2,1175.0M1677.6,1144.2L1685.4,1156.6M1677.6,1144.2L1685.9,1168.8M1677.6,1144.2L1674.1,1179.6M1677.6,1144.2L1683.5,1101.2M1677.6,1144.2L1651.7,1129.2M1677.6,1144.2L1663.7,1136.1M1677.6,1144.2L1652.0,1142.7M1677.6,1144.2L1721.1,1150.4M1677.6,1144.2L1639.9,1169.4M1628.0,1146.1L1629.0,1157.9M1628.0,1146.1L1626.4,1131.8M1628.0,1146.1L1640.1,1140.8M1628.0,1146.1L1652.0,1142.7M1628.0,1146.1L1653.6,1160.2M1628.0,1146.1L1639.9,1169.4M1628.0,1146.1L1653.6,1117.0M1629.0,1157.9L1642.7,1193.9M1629.0,1157.9L1652.0,1142.7M1629.0,1157.9L1640.8,1154.3M1629.0,1157.9L1673.4,1166.0M1629.0,1157.9L1639.9,1169.4M1629.0,1157.9L1661.8,1172.5M1685.4,1156.6L1697.0,1157.1M1685.4,1156.6L1674.1,1179.6M1685.4,1156.6L1685.9,1191.3M1685.4,1156.6L1661.8,1195.9M1685.4,1156.6L1684.6,1120.2M1685.4,1156.6L1663.7,1136.1M1685.4,1156.6L1652.0,1142.7M1685.4,1156.6L1666.0,1149.3M1685.4,1156.6L1649.4,1178.1M1685.4,1156.6L1661.8,1186.5M1685.4,1156.6L1690.8,1203.2M1685.4,1156.6L1675.6,1131.8M1685.4,1156.6L1661.8,1172.5M1697.0,1157.1L1685.9,1168.8M1697.0,1157.1L1663.7,1136.1M1697.0,1157.1L1652.0,1142.7M1697.0,1157.1L1696.3,1144.7M1697.0,1157.1L1673.4,1166.0M1685.9,1168.8L1716.8,1169.1M1685.9,1168.8L1661.8,1195.9M1685.9,1168.8L1666.0,1149.3M1685.9,1168.8L1696.3,1144.7M1685.9,1168.8L1721.1,1150.4M1685.9,1168.8L1640.8,1154.3M1685.9,1168.8L1653.6,1160.2M1685.9,1168.8L1649.4,1178.1M1685.9,1168.8L1661.8,1186.5M1685.9,1168.8L1690.8,1203.2M1685.9,1168.8L1661.8,1172.5M1716.8,1169.1L1685.9,1191.3M1716.8,1169.1L1696.3,1144.7M1716.8,1169.1L1673.4,1166.0M1716.8,1169.1L1721.1,1209.4M1674.1,1179.6L1642.7,1193.9M1674.1,1179.6L1661.8,1195.9M1674.1,1179.6L1652.0,1142.7M1674.1,1179.6L1640.8,1154.3M1674.1,1179.6L1639.9,1169.4M1674.1,1179.6L1690.8,1203.2M1674.1,1179.6L1675.6,1131.8M1674.1,1179.6L1661.8,1172.5M1685.9,1191.3L1669.4,1208.2M1773.1,1188.9L1806.2,1175.0M1630.7,1195.9L1642.7,1193.9M1630.7,1195.9L1644.7,1205.6M1630.7,1195.9L1640.8,1154.3M1630.7,1195.9L1653.6,1160.2M1630.7,1195.9L1649.4,1178.1M1630.7,1195.9L1635.4,1182.3M1642.7,1193.9L1661.8,1195.9M1642.7,1193.9L1640.8,1154.3M1642.7,1193.9L1673.4,1166.0M1642.7,1193.9L1639.9,1169.4M1642.7,1193.9L1661.8,1186.5M1642.7,1193.9L1623.3,1223.1M1642.7,1193.9L1661.8,1172.5M1642.7,1193.9L1655.2,1237.6M1661.8,1195.9L1644.7,1205.6M1661.8,1195.9L1669.4,1208.2M1661.8,1195.9L1643.1,1229.8M1661.8,1195.9L1673.4,1166.0M1661.8,1195.9L1639.9,1169.4M1661.8,1195.9L1635.4,1182.3M1661.8,1195.9L1690.8,1203.2M1661.8,1195.9L1661.8,1172.5M1661.8,1195.9L1666.8,1235.5M1661.8,1195.9L1655.2,1237.6M1644.7,1205.6L1623.3,1235.6M1644.7,1205.6L1639.9,1169.4M1644.7,1205.6L1649.4,1178.1M1644.7,1205.6L1661.8,1186.5M1644.7,1205.6L1690.8,1203.2M1644.7,1205.6L1661.8,1172.5M1644.7,1205.6L1666.8,1235.5M1644.7,1205.6L1655.2,1237.6M1632.6,1209.8L1664.9,1223.9M1632.6,1209.8L1639.9,1169.4M1632.6,1209.8L1649.4,1178.1M1632.6,1209.8L1661.8,1172.5M1632.6,1209.8L1666.8,1235.5M1632.6,1209.8L1611.8,1246.9M1669.4,1208.2L1643.1,1229.8M1669.4,1208.2L1661.8,1172.5M1643.1,1229.8L1611.8,1246.9M1643.1,1229.8L1639.6,1272.9M1643.1,1229.8L1632.2,1247.3M1643.1,1229.8L1643.8,1246.9M1643.1,1229.8L1621.8,1258.8M1643.1,1229.8L1640.5,1259.2M1643.1,1229.8L1652.2,1276.4M1643.1,1229.8L1671.7,1249.5M1664.9,1223.9L1661.8,1186.5M1664.9,1223.9L1690.8,1203.2M1664.9,1223.9L1623.3,1223.1M1664.9,1223.9L1655.2,1237.6M1664.9,1223.9L1683.1,1245.3M1664.9,1223.9L1679.5,1261.8M1664.9,1223.9L1632.2,1247.3M1664.9,1223.9L1640.5,1259.2M1664.9,1223.9L1660.4,1261.4M1664.9,1223.9L1671.7,1249.5M1623.3,1235.6L1623.3,1223.1M1623.3,1235.6L1591.7,1256.0M1623.3,1235.6L1609.3,1258.6M1623.3,1235.6L1600.2,1272.5M1623.3,1235.6L1639.6,1272.9M1623.3,1235.6L1640.5,1259.2M1871.0,1190.8L1900.0,1158.2M1651.6,1081.0L1683.5,1101.2M1651.6,1081.0L1696.6,1095.6M1683.5,1101.2L1696.6,1095.6M1683.5,1101.2L1719.3,1107.0M1683.5,1101.2L1663.7,1136.1M1696.6,1095.6L1684.6,1120.2M1719.3,1107.0L1696.3,1144.7M1684.6,1120.2L1651.7,1129.2M1684.6,1120.2L1652.0,1142.7M1684.6,1120.2L1721.1,1150.4M1684.6,1120.2L1673.4,1166.0M1684.6,1120.2L1653.6,1117.0M1626.4,1131.8L1663.7,1136.1M1626.4,1131.8L1640.1,1140.8M1626.4,1131.8L1666.0,1149.3M1626.4,1131.8L1653.6,1160.2M1626.4,1131.8L1653.6,1117.0M1651.7,1129.2L1663.7,1136.1M1651.7,1129.2L1640.1,1140.8M1651.7,1129.2L1652.0,1142.7M1651.7,1129.2L1666.0,1149.3M1651.7,1129.2L1653.6,1160.2M1651.7,1129.2L1639.9,1169.4M1651.7,1129.2L1653.6,1117.0M1651.7,1129.2L1675.6,1131.8M1651.7,1129.2L1661.8,1172.5M1651.7,1129.2L1627.6,1092.5M1663.7,1136.1L1666.0,1149.3M1663.7,1136.1L1673.4,1166.0M1663.7,1136.1L1675.6,1131.8M1640.1,1140.8L1666.0,1149.3M1640.1,1140.8L1653.6,1160.2M1640.1,1140.8L1639.9,1169.4M1640.1,1140.8L1649.4,1178.1M1652.0,1142.7L1666.0,1149.3M1652.0,1142.7L1653.6,1160.2M1652.0,1142.7L1639.9,1169.4M1652.0,1142.7L1635.4,1182.3M1652.0,1142.7L1661.8,1186.5M1652.0,1142.7L1653.6,1117.0M1652.0,1142.7L1661.8,1172.5M1666.0,1149.3L1696.3,1144.7M1666.0,1149.3L1640.8,1154.3M1666.0,1149.3L1673.4,1166.0M1666.0,1149.3L1635.4,1182.3M1666.0,1149.3L1653.6,1117.0M1666.0,1149.3L1661.8,1172.5M1696.3,1144.7L1721.1,1150.4M1696.3,1144.7L1653.6,1160.2M1772.0,1152.8L1750.6,1168.3M1640.8,1154.3L1673.4,1166.0M1640.8,1154.3L1675.6,1131.8M1640.8,1154.3L1661.8,1172.5M1653.6,1160.2L1673.4,1166.0M1653.6,1160.2L1635.4,1182.3M1673.4,1166.0L1661.8,1172.5M1639.9,1169.4L1635.4,1182.3M1649.4,1178.1L1635.4,1182.3M1635.4,1182.3L1623.3,1223.1M1635.4,1182.3L1661.8,1172.5M1661.8,1186.5L1690.8,1203.2M1690.8,1203.2L1683.1,1245.3M1763.0,1218.0L1725.6,1245.3M1763.0,1218.0L1761.9,1265.5M1623.3,1223.1L1666.8,1235.5M1623.3,1223.1L1655.2,1237.6M1623.3,1223.1L1591.7,1256.0M1653.6,1117.0L1675.6,1131.8M1666.8,1235.5L1655.2,1237.6M1666.8,1235.5L1679.5,1261.8M1666.8,1235.5L1639.6,1272.9M1666.8,1235.5L1640.5,1259.2M1666.8,1235.5L1660.4,1261.4M1666.8,1235.5L1671.7,1249.5M1655.2,1237.6L1683.1,1245.3M1655.2,1237.6L1679.5,1261.8M1655.2,1237.6L1643.8,1246.9M1655.2,1237.6L1621.8,1258.8M1655.2,1237.6L1660.4,1261.4M1526.5,1254.4L1492.1,1275.5M1526.5,1254.4L1494.0,1259.2M1526.5,1254.4L1566.6,1256.0M1553.0,1251.4L1566.6,1269.4M1553.0,1251.4L1583.9,1268.3M1553.0,1251.4L1552.5,1293.6M1492.1,1275.5L1466.6,1302.3M1492.1,1275.5L1513.5,1250.1M1492.1,1275.5L1539.4,1275.7M1450.5,1283.0L1466.6,1302.3M1519.2,1290.4L1513.5,1250.1M1519.2,1290.4L1552.5,1293.6M1519.2,1290.4L1539.4,1275.7M1484.8,1297.8L1496.6,1318.3M1484.8,1297.8L1510.9,1327.1M1506.2,1297.8L1466.6,1302.3M1506.2,1297.8L1496.6,1318.3M1506.2,1297.8L1539.4,1275.7M1506.2,1297.8L1510.9,1327.1M1466.6,1302.3L1496.6,1318.3M1466.6,1302.3L1441.7,1296.9M1574.5,1281.0L1566.6,1256.0M1574.5,1281.0L1612.9,1282.3M1574.5,1281.0L1593.9,1309.6M1588.2,1281.3L1612.0,1270.6M1588.2,1281.3L1587.1,1300.8M1588.2,1281.3L1587.8,1244.0M1588.2,1281.3L1600.2,1272.5M1588.2,1281.3L1612.9,1282.3M1588.2,1281.3L1596.6,1326.4M1588.2,1281.3L1608.5,1297.7M1588.2,1281.3L1621.8,1258.8M1600.7,1284.3L1566.6,1256.0M1600.7,1284.3L1591.7,1256.0M1600.7,1284.3L1587.8,1244.0M1600.7,1284.3L1583.9,1268.3M1600.7,1284.3L1600.2,1272.5M1600.7,1284.3L1612.9,1282.3M1600.7,1284.3L1566.0,1306.0M1600.7,1284.3L1593.9,1309.6M1600.7,1284.3L1611.8,1246.9M1600.7,1284.3L1640.5,1259.2M1600.7,1284.3L1642.9,1296.5M1612.0,1270.6L1566.6,1256.0M1612.0,1270.6L1578.3,1256.0M1612.0,1270.6L1566.6,1269.4M1612.0,1270.6L1600.2,1272.5M1612.0,1270.6L1612.9,1282.3M1612.0,1270.6L1593.9,1309.6M1612.0,1270.6L1608.5,1297.7M1612.0,1270.6L1643.8,1246.9M1612.0,1270.6L1636.4,1286.6M1612.0,1270.6L1654.3,1289.1M1612.0,1270.6L1624.4,1296.9M1612.0,1270.6L1642.9,1296.5M1587.1,1300.8L1583.9,1268.3M1587.1,1300.8L1552.5,1293.6M1587.1,1300.8L1593.9,1309.6M1587.1,1300.8L1596.6,1326.4M1587.1,1300.8L1618.2,1324.4M1587.1,1300.8L1629.2,1310.8M1587.1,1300.8L1624.4,1296.9M1554.9,1316.6L1552.5,1293.6M1554.9,1316.6L1596.6,1326.4M1554.9,1316.6L1539.4,1275.7M1608.8,1337.1L1593.9,1309.6M1608.8,1337.1L1568.3,1330.3M1608.8,1337.1L1584.8,1361.6M1608.8,1337.1L1580.6,1311.6M1608.8,1337.1L1629.2,1310.8M1608.8,1337.1L1644.8,1307.3M1608.8,1337.1L1655.8,1346.0M1565.5,1413.1L1538.7,1452.5M1572.6,1446.0L1538.7,1452.5M1513.5,1250.1L1541.0,1250.5M1513.5,1250.1L1494.0,1259.2M1541.0,1250.5L1494.0,1259.2M1541.0,1250.5L1566.6,1256.0M1541.0,1250.5L1587.8,1244.0M1541.0,1250.5L1566.6,1269.4M1541.0,1250.5L1583.9,1268.3M1541.0,1250.5L1552.5,1293.6M1566.6,1256.0L1609.3,1258.6M1566.6,1256.0L1587.8,1244.0M1566.6,1256.0L1566.6,1269.4M1566.6,1256.0L1600.2,1272.5M1566.6,1256.0L1539.4,1275.7M1578.3,1256.0L1591.7,1256.0M1578.3,1256.0L1609.3,1258.6M1578.3,1256.0L1587.8,1244.0M1578.3,1256.0L1552.5,1293.6M1578.3,1256.0L1539.4,1275.7M1578.3,1256.0L1621.8,1258.8M1591.7,1256.0L1609.3,1258.6M1591.7,1256.0L1566.6,1269.4M1591.7,1256.0L1608.5,1297.7M1591.7,1256.0L1621.8,1258.8M1609.3,1258.6L1600.2,1272.5M1609.3,1258.6L1611.8,1246.9M1609.3,1258.6L1608.5,1297.7M1609.3,1258.6L1643.8,1246.9M1609.3,1258.6L1621.8,1258.8M1609.3,1258.6L1624.7,1276.4M1609.3,1258.6L1652.2,1276.4M1609.3,1258.6L1636.4,1286.6M1587.8,1244.0L1583.9,1268.3M1587.8,1244.0L1611.8,1246.9M1587.8,1244.0L1632.2,1247.3M1566.6,1269.4L1600.2,1272.5M1566.6,1269.4L1552.5,1293.6M1566.6,1269.4L1566.0,1306.0M1583.9,1268.3L1552.5,1293.6M1600.2,1272.5L1566.0,1306.0M1600.2,1272.5L1593.9,1309.6M1600.2,1272.5L1617.5,1312.6M1600.2,1272.5L1611.8,1246.9M1600.2,1272.5L1608.5,1297.7M1600.2,1272.5L1639.6,1272.9M1600.2,1272.5L1632.2,1247.3M1600.2,1272.5L1636.4,1286.6M1612.9,1282.3L1617.5,1312.6M1612.9,1282.3L1618.2,1324.4M1612.9,1282.3L1639.6,1272.9M1612.9,1282.3L1640.5,1259.2M1406.6,1296.0L1441.7,1296.9M1566.0,1306.0L1593.9,1309.6M1566.0,1306.0L1568.3,1330.3M1566.0,1306.0L1539.4,1275.7M1566.0,1306.0L1608.5,1297.7M1593.9,1309.6L1617.5,1312.6M1593.9,1309.6L1568.3,1330.3M1593.9,1309.6L1596.6,1326.4M1593.9,1309.6L1618.2,1324.4M1593.9,1309.6L1624.7,1276.4M1617.5,1312.6L1596.6,1326.4M1617.5,1312.6L1580.6,1311.6M1617.5,1312.6L1608.5,1297.7M1617.5,1312.6L1624.7,1276.4M1617.5,1312.6L1654.3,1289.1M1617.5,1312.6L1621.7,1345.2M1617.5,1312.6L1642.9,1296.5M1568.3,1330.3L1561.4,1370.5M1596.6,1326.4L1584.8,1361.6M1596.6,1326.4L1608.5,1297.7M1596.6,1326.4L1624.4,1296.9M1618.2,1324.4L1624.4,1296.9M1618.2,1324.4L1642.9,1296.5M1404.7,1443.6L1438.4,1441.4M1505.6,1444.9L1538.7,1452.5M1611.8,1246.9L1639.6,1272.9M1611.8,1246.9L1621.8,1258.8M1611.8,1246.9L1624.7,1276.4M1608.5,1297.7L1629.2,1310.8M1608.5,1297.7L1621.8,1258.8M1608.5,1297.7L1624.7,1276.4M1608.5,1297.7L1654.3,1289.1M1608.5,1297.7L1624.4,1296.9M1683.1,1245.3L1703.0,1278.3M1683.1,1245.3L1643.8,1246.9M1683.1,1245.3L1652.2,1276.4M1683.1,1245.3L1671.7,1249.5M1713.9,1248.6L1725.6,1245.3M1725.6,1245.3L1769.2,1244.3M1725.6,1245.3L1722.7,1266.1M1679.5,1261.8L1639.6,1272.9M1679.5,1261.8L1661.0,1300.8M1679.5,1261.8L1643.8,1246.9M1679.5,1261.8L1703.2,1261.4M1679.5,1261.8L1652.2,1276.4M1679.5,1261.8L1690.0,1304.9M1679.5,1261.8L1671.7,1249.5M1679.5,1261.8L1687.9,1283.6M1722.7,1266.1L1703.0,1278.3M1722.7,1266.1L1703.2,1261.4M1722.7,1266.1L1687.9,1283.6M1639.6,1272.9L1661.0,1300.8M1639.6,1272.9L1621.8,1258.8M1639.6,1272.9L1660.4,1261.4M1639.6,1272.9L1636.4,1286.6M1703.0,1278.3L1666.0,1286.8M1703.0,1278.3L1661.0,1300.8M1703.0,1278.3L1691.9,1317.4M1703.0,1278.3L1703.2,1261.4M1703.0,1278.3L1690.0,1304.9M1703.0,1278.3L1671.7,1249.5M1703.0,1278.3L1687.9,1283.6M1727.0,1283.9L1761.9,1265.5M1727.0,1283.9L1690.0,1304.9M1666.0,1286.8L1661.0,1300.8M1666.0,1286.8L1660.4,1261.4M1666.0,1286.8L1703.2,1261.4M1666.0,1286.8L1652.2,1276.4M1666.0,1286.8L1664.9,1273.1M1666.0,1286.8L1624.4,1296.9M1666.0,1286.8L1644.8,1307.3M1666.0,1286.8L1690.0,1304.9M1661.0,1300.8L1691.9,1317.4M1661.0,1300.8L1640.5,1259.2M1661.0,1300.8L1636.4,1286.6M1661.0,1300.8L1624.4,1296.9M1661.0,1300.8L1644.8,1307.3M1661.0,1300.8L1655.8,1346.0M1661.0,1300.8L1642.9,1296.5M1629.2,1310.8L1652.2,1276.4M1629.2,1310.8L1636.4,1286.6M1629.2,1310.8L1624.4,1296.9M1629.2,1310.8L1644.8,1307.3M1629.2,1310.8L1655.8,1346.0M1629.2,1310.8L1642.9,1296.5M1632.2,1247.3L1643.8,1246.9M1632.2,1247.3L1621.8,1258.8M1632.2,1247.3L1660.4,1261.4M1632.2,1247.3L1652.2,1276.4M1632.2,1247.3L1664.9,1273.1M1632.2,1247.3L1636.4,1286.6M1643.8,1246.9L1640.5,1259.2M1643.8,1246.9L1660.4,1261.4M1643.8,1246.9L1652.2,1276.4M1621.8,1258.8L1624.7,1276.4M1621.8,1258.8L1654.3,1289.1M1621.8,1258.8L1624.4,1296.9M1621.8,1258.8L1642.9,1296.5M1640.5,1259.2L1660.4,1261.4M1640.5,1259.2L1624.7,1276.4M1640.5,1259.2L1624.4,1296.9M1640.5,1259.2L1671.7,1249.5M1660.4,1261.4L1624.7,1276.4M1660.4,1261.4L1664.9,1273.1M1660.4,1261.4L1642.9,1296.5M1703.2,1261.4L1690.0,1304.9M1703.2,1261.4L1687.9,1283.6M1624.7,1276.4L1654.3,1289.1M1624.7,1276.4L1644.8,1307.3M1652.2,1276.4L1624.4,1296.9M1652.2,1276.4L1671.7,1249.5M1652.2,1276.4L1642.9,1296.5M1664.9,1273.1L1654.3,1289.1M1664.9,1273.1L1624.4,1296.9M1664.9,1273.1L1642.9,1296.5M1636.4,1286.6L1654.3,1289.1M1636.4,1286.6L1624.4,1296.9M1636.4,1286.6L1644.8,1307.3M1654.3,1289.1L1644.8,1307.3M1654.3,1289.1L1690.0,1304.9M1624.4,1296.9L1644.8,1307.3M1624.4,1296.9L1642.9,1296.5M1644.8,1307.3L1690.0,1304.9M1644.8,1307.3L1621.7,1345.2M1644.8,1307.3L1639.6,1336.9M1644.8,1307.3L1642.9,1296.5M1690.0,1304.9L1687.9,1283.6M1690.0,1304.9L1642.9,1296.5M1621.7,1345.2L1639.6,1336.9M1674.0,1449.9L1707.5,1441.0M1674.0,1449.9L1640.5,1445.6M1671.7,1249.5L1687.9,1283.6M1930.1,1042.0L1963.4,1035.9M1471.3,1026.8L1498.6,1050.2M1498.6,1050.2L1522.9,1099.5M1395.3,1181.2L1451.1,1197.6M1422.2,1233.7L1483.1,1229.3M1495.9,1129.1L1472.5,1162.2M1592.4,1109.4L1620.0,1084.6M1503.6,1095.8L1527.6,1098.9M1503.6,1095.8L1530.9,1119.8M1491.8,1106.3L1535.3,1138.0M1495.9,1129.1L1524.7,1148.6M1472.5,1162.2L1503.4,1149.8M1472.8,1181.1L1451.1,1197.6M1472.8,1181.1L1489.1,1173.8M1451.1,1197.6L1435.3,1211.3M1435.3,1211.3L1463.0,1202.6M1463.0,1202.6L1498.6,1212.5M1451.1,1197.6L1498.6,1212.5M1463.0,1202.6L1492.8,1194.8M1572.3,1098.0L1567.0,1109.7M1589.7,1095.2L1575.3,1123.7M1592.4,1109.4L1616.0,1107.6M1634.2,1070.8L1600.0,1102.3M1634.2,1070.8L1653.6,1117.0M1651.6,1081.0L1630.0,1109.0M1627.6,1092.5L1630.0,1109.0M1761.5,1113.9L1724.2,1127.6M1761.5,1113.9L1739.8,1142.7M1817.4,1138.0L1794.1,1143.9M1794.1,1143.9L1772.0,1152.8M1817.4,1138.0L1806.2,1175.0M1794.1,1143.9L1773.1,1188.9M1806.2,1175.0L1773.1,1188.9M1773.1,1188.9L1721.1,1209.4M1773.1,1188.9L1763.0,1218.0M1721.1,1209.4L1763.0,1218.0M1750.6,1168.3L1721.1,1209.4M1900.0,1158.2L1871.0,1190.8M1871.0,1190.8L1825.2,1218.4M1825.2,1218.4L1778.6,1240.0M1772.0,1152.8L1806.2,1175.0M1750.6,1168.3L1806.2,1175.0M1766.9,1134.9L1750.6,1168.3M1724.2,1127.6L1766.9,1134.9M1719.3,1107.0L1724.2,1127.6M1719.3,1107.0L1684.6,1120.2M1700.6,1120.2L1724.2,1127.6M1724.2,1127.6L1721.1,1150.4M1716.8,1169.1L1750.6,1168.3M1739.8,1142.7L1750.6,1168.3M1772.0,1152.8L1750.6,1168.3M1683.5,1101.2L1667.2,1113.9M1696.6,1095.6L1684.6,1120.2M1690.8,1203.2L1669.4,1208.2M1721.1,1209.4L1669.4,1208.2M1422.5,1233.9L1483.2,1230.0M1466.4,1242.1L1514.7,1238.4M1406.6,1296.0L1450.5,1283.0M1441.7,1296.9L1484.8,1297.8M1441.7,1296.9L1494.0,1259.2M1450.5,1283.0L1494.0,1259.2M1450.5,1283.0L1492.1,1275.5M1450.5,1283.0L1496.6,1318.3M1496.6,1318.3L1552.5,1293.6M1510.9,1327.1L1539.4,1275.7M1561.4,1370.5L1565.5,1413.1M1561.4,1370.5L1568.3,1330.3M1561.4,1370.5L1596.6,1326.4M1584.8,1361.6L1566.0,1306.0M1552.5,1293.6L1554.9,1316.6M1466.6,1302.3L1494.0,1259.2M1484.8,1297.8L1526.5,1254.4M1506.2,1297.8L1541.0,1250.5M1519.2,1290.4L1553.0,1251.4M1404.7,1443.6L1438.4,1441.4M1471.6,1448.6L1505.6,1444.9M1538.7,1452.5L1572.6,1446.0M1568.3,1330.3L1596.6,1326.4M1539.4,1275.7L1513.5,1250.1M1539.4,1275.7L1566.6,1256.0M1606.5,1450.8L1640.5,1445.6M1674.0,1449.9L1707.5,1441.0M1769.2,1244.3L1725.6,1245.3M1769.2,1244.3L1722.7,1266.1M1769.2,1244.3L1800.0,1230.0M1725.6,1245.3L1761.9,1265.5M1722.7,1266.1L1727.0,1283.9M1703.0,1278.3L1727.0,1283.9M1713.9,1248.6L1703.0,1278.3M1722.7,1266.1L1703.0,1278.3M1687.9,1283.6L1703.0,1278.3M1683.1,1245.3L1713.9,1248.6M1666.0,1269.0L1690.0,1304.9M1690.0,1304.9L1691.9,1317.4M1655.8,1346.0L1654.3,1289.1M1639.6,1336.9L1640.5,1307.9M1621.7,1345.2L1618.8,1324.5M1608.8,1337.1L1618.8,1324.5M1679.5,1261.8L1703.2,1261.4M1703.2,1261.4L1722.7,1266.1M1683.1,1245.3L1666.9,1235.5M1661.0,1300.8L1666.0,1286.8" fill="none" stroke="#cccccc" stroke-width="0.6"/>
<path d="M1468.0,1026.8a3.35,3.35 0 1,0 6.7,0a3.35,3.35 0 1,0 -6.7,0M1495.3,1050.2a3.35,3.35 0 1,0 6.7,0a3.35,3.35 0 1,0 -6.7,0M1500.3,1095.8a3.35,3.35 0 1,0 6.7,0a3.35,3.35 0 1,0 -6.7,0M1524.2,1098.9a3.35,3.35 0 1,0 6.7,0a3.35,3.35 0 1,0 -6.7,0M1488.5,1106.3a3.35,3.35 0 1,0 6.7,0a3.35,3.35 0 1,0 -6.7,0M1513.9,1110.7a3.35,3.35 0 1,0 6.7,0a3.35,3.35 0 1,0 -6.7,0M1527.6,1119.8a3.35,3.35 0 1,0 6.7,0a3.35,3.35 0 1,0 -6.7,0M1589.1,1109.4a3.35,3.35 0 1,0 6.7,0a3.35,3.35 0 1,0 -6.7,0M1612.8,1107.7a3.35,3.35 0 1,0 6.7,0a3.35,3.35 0 1,0 -6.7,0M1546.2,1134.5a3.35,3.35 0 1,0 6.7,0a3.35,3.35 0 1,0 -6.7,0M1557.6,1132.8a3.35,3.35 0 1,0 6.7,0a3.35,3.35 0 1,0 -6.7,0M1562.4,1144.2a3.35,3.35 0 1,0 6.7,0a3.35,3.35 0 1,0 -6.7,0M1521.4,1148.6a3.35,3.35 0 1,0 6.7,0a3.35,3.35 0 1,0 -6.7,0M1549.6,1150.4a3.35,3.35 0 1,0 6.7,0a3.35,3.35 0 1,0 -6.7,0M1537.1,1153.5a3.35,3.35 0 1,0 6.7,0a3.35,3.35 0 1,0 -6.7,0M1574.2,1155.8a3.35,3.35 0 1,0 6.7,0a3.35,3.35 0 1,0 -6.7,0M1481.0,1157.3a3.35,3.35 0 1,0 6.7,0a3.35,3.35 0 1,0 -6.7,0M1602.7,1159.8a3.35,3.35 0 1,0 6.7,0a3.35,3.35 0 1,0 -6.7,0M1559.6,1167.8a3.35,3.35 0 1,0 6.7,0a3.35,3.35 0 1,0 -6.7,0M1485.7,1173.8a3.35,3.35 0 1,0 6.7,0a3.35,3.35 0 1,0 -6.7,0M1512.3,1172.5a3.35,3.35 0 1,0 6.7,0a3.35,3.35 0 1,0 -6.7,0M1530.1,1178.8a3.35,3.35 0 1,0 6.7,0a3.35,3.35 0 1,0 -6.7,0M1548.3,1181.5a3.35,3.35 0 1,0 6.7,0a3.35,3.35 0 1,0 -6.7,0M1518.3,1184.2a3.35,3.35 0 1,0 6.7,0a3.35,3.35 0 1,0 -6.7,0M1583.7,1188.7a3.35,3.35 0 1,0 6.7,0a3.35,3.35 0 1,0 -6.7,0M1535.7,1191.2a3.35,3.35 0 1,0 6.7,0a3.35,3.35 0 1,0 -6.7,0M1547.5,1191.2a3.35,3.35 0 1,0 6.7,0a3.35,3.35 0 1,0 -6.7,0M1559.3,1195.2a3.35,3.35 0 1,0 6.7,0a3.35,3.35 0 1,0 -6.7,0M1489.4,1194.8a3.35,3.35 0 1,0 6.7,0a3.35,3.35 0 1,0 -6.7,0M1522.4,1195.8a3.35,3.35 0 1,0 6.7,0a3.35,3.35 0 1,0 -6.7,0M1447.7,1197.6a3.35,3.35 0 1,0 6.7,0a3.35,3.35 0 1,0 -6.7,0M1459.6,1202.6a3.35,3.35 0 1,0 6.7,0a3.35,3.35 0 1,0 -6.7,0M1535.7,1202.6a3.35,3.35 0 1,0 6.7,0a3.35,3.35 0 1,0 -6.7,0M1547.5,1202.6a3.35,3.35 0 1,0 6.7,0a3.35,3.35 0 1,0 -6.7,0M1571.3,1202.9a3.35,3.35 0 1,0 6.7,0a3.35,3.35 0 1,0 -6.7,0M1583.5,1200.9a3.35,3.35 0 1,0 6.7,0a3.35,3.35 0 1,0 -6.7,0M1596.1,1200.2a3.35,3.35 0 1,0 6.7,0a3.35,3.35 0 1,0 -6.7,0M1509.3,1205.7a3.35,3.35 0 1,0 6.7,0a3.35,3.35 0 1,0 -6.7,0M1523.2,1208.0a3.35,3.35 0 1,0 6.7,0a3.35,3.35 0 1,0 -6.7,0M1431.9,1211.3a3.35,3.35 0 1,0 6.7,0a3.35,3.35 0 1,0 -6.7,0M1495.3,1212.5a3.35,3.35 0 1,0 6.7,0a3.35,3.35 0 1,0 -6.7,0M1535.0,1215.7a3.35,3.35 0 1,0 6.7,0a3.35,3.35 0 1,0 -6.7,0M1547.5,1214.4a3.35,3.35 0 1,0 6.7,0a3.35,3.35 0 1,0 -6.7,0M1585.0,1212.8a3.35,3.35 0 1,0 6.7,0a3.35,3.35 0 1,0 -6.7,0M1495.3,1225.2a3.35,3.35 0 1,0 6.7,0a3.35,3.35 0 1,0 -6.7,0M1479.8,1229.7a3.35,3.35 0 1,0 6.7,0a3.35,3.35 0 1,0 -6.7,0M1522.6,1227.2a3.35,3.35 0 1,0 6.7,0a3.35,3.35 0 1,0 -6.7,0M1535.7,1227.5a3.35,3.35 0 1,0 6.7,0a3.35,3.35 0 1,0 -6.7,0M1547.5,1226.8a3.35,3.35 0 1,0 6.7,0a3.35,3.35 0 1,0 -6.7,0M1560.3,1227.5a3.35,3.35 0 1,0 6.7,0a3.35,3.35 0 1,0 -6.7,0M1572.1,1227.5a3.35,3.35 0 1,0 6.7,0a3.35,3.35 0 1,0 -6.7,0M1584.4,1225.2a3.35,3.35 0 1,0 6.7,0a3.35,3.35 0 1,0 -6.7,0M1608.3,1224.8a3.35,3.35 0 1,0 6.7,0a3.35,3.35 0 1,0 -6.7,0M1511.4,1238.2a3.35,3.35 0 1,0 6.7,0a3.35,3.35 0 1,0 -6.7,0M1559.8,1238.9a3.35,3.35 0 1,0 6.7,0a3.35,3.35 0 1,0 -6.7,0M1626.6,1109.0a3.35,3.35 0 1,0 6.7,0a3.35,3.35 0 1,0 -6.7,0M1663.9,1113.9a3.35,3.35 0 1,0 6.7,0a3.35,3.35 0 1,0 -6.7,0M1697.3,1120.2a3.35,3.35 0 1,0 6.7,0a3.35,3.35 0 1,0 -6.7,0M1720.9,1127.6a3.35,3.35 0 1,0 6.7,0a3.35,3.35 0 1,0 -6.7,0M1763.6,1134.9a3.35,3.35 0 1,0 6.7,0a3.35,3.35 0 1,0 -6.7,0M1736.4,1142.7a3.35,3.35 0 1,0 6.7,0a3.35,3.35 0 1,0 -6.7,0M1790.7,1143.9a3.35,3.35 0 1,0 6.7,0a3.35,3.35 0 1,0 -6.7,0M1814.0,1138.0a3.35,3.35 0 1,0 6.7,0a3.35,3.35 0 1,0 -6.7,0M1674.3,1144.2a3.35,3.35 0 1,0 6.7,0a3.35,3.35 0 1,0 -6.7,0M1624.6,1146.1a3.35,3.35 0 1,0 6.7,0a3.35,3.35 0 1,0 -6.7,0M1625.7,1157.9a3.35,3.35 0 1,0 6.7,0a3.35,3.35 0 1,0 -6.7,0M1682.1,1156.6a3.35,3.35 0 1,0 6.7,0a3.35,3.35 0 1,0 -6.7,0M1693.7,1157.1a3.35,3.35 0 1,0 6.7,0a3.35,3.35 0 1,0 -6.7,0M1682.5,1168.8a3.35,3.35 0 1,0 6.7,0a3.35,3.35 0 1,0 -6.7,0M1713.4,1169.1a3.35,3.35 0 1,0 6.7,0a3.35,3.35 0 1,0 -6.7,0M1670.7,1179.6a3.35,3.35 0 1,0 6.7,0a3.35,3.35 0 1,0 -6.7,0M1682.5,1191.3a3.35,3.35 0 1,0 6.7,0a3.35,3.35 0 1,0 -6.7,0M1769.8,1188.9a3.35,3.35 0 1,0 6.7,0a3.35,3.35 0 1,0 -6.7,0M1627.4,1195.9a3.35,3.35 0 1,0 6.7,0a3.35,3.35 0 1,0 -6.7,0M1639.4,1193.9a3.35,3.35 0 1,0 6.7,0a3.35,3.35 0 1,0 -6.7,0M1658.5,1195.9a3.35,3.35 0 1,0 6.7,0a3.35,3.35 0 1,0 -6.7,0M1641.4,1205.6a3.35,3.35 0 1,0 6.7,0a3.35,3.35 0 1,0 -6.7,0M1629.3,1209.8a3.35,3.35 0 1,0 6.7,0a3.35,3.35 0 1,0 -6.7,0M1666.1,1208.2a3.35,3.35 0 1,0 6.7,0a3.35,3.35 0 1,0 -6.7,0M1639.8,1229.8a3.35,3.35 0 1,0 6.7,0a3.35,3.35 0 1,0 -6.7,0M1661.6,1223.9a3.35,3.35 0 1,0 6.7,0a3.35,3.35 0 1,0 -6.7,0M1620.0,1235.6a3.35,3.35 0 1,0 6.7,0a3.35,3.35 0 1,0 -6.7,0M1867.6,1190.8a3.35,3.35 0 1,0 6.7,0a3.35,3.35 0 1,0 -6.7,0M1821.8,1218.4a3.35,3.35 0 1,0 6.7,0a3.35,3.35 0 1,0 -6.7,0M1896.7,1158.2a3.35,3.35 0 1,0 6.7,0a3.35,3.35 0 1,0 -6.7,0M1523.1,1254.4a3.35,3.35 0 1,0 6.7,0a3.35,3.35 0 1,0 -6.7,0M1549.6,1251.4a3.35,3.35 0 1,0 6.7,0a3.35,3.35 0 1,0 -6.7,0M1488.7,1275.5a3.35,3.35 0 1,0 6.7,0a3.35,3.35 0 1,0 -6.7,0M1447.2,1283.0a3.35,3.35 0 1,0 6.7,0a3.35,3.35 0 1,0 -6.7,0M1515.9,1290.4a3.35,3.35 0 1,0 6.7,0a3.35,3.35 0 1,0 -6.7,0M1481.5,1297.8a3.35,3.35 0 1,0 6.7,0a3.35,3.35 0 1,0 -6.7,0M1502.9,1297.8a3.35,3.35 0 1,0 6.7,0a3.35,3.35 0 1,0 -6.7,0M1463.3,1302.3a3.35,3.35 0 1,0 6.7,0a3.35,3.35 0 1,0 -6.7,0M1571.2,1281.0a3.35,3.35 0 1,0 6.7,0a3.35,3.35 0 1,0 -6.7,0M1584.8,1281.3a3.35,3.35 0 1,0 6.7,0a3.35,3.35 0 1,0 -6.7,0M1597.4,1284.3a3.35,3.35 0 1,0 6.7,0a3.35,3.35 0 1,0 -6.7,0M1608.7,1270.6a3.35,3.35 0 1,0 6.7,0a3.35,3.35 0 1,0 -6.7,0M1583.8,1300.8a3.35,3.35 0 1,0 6.7,0a3.35,3.35 0 1,0 -6.7,0M1551.6,1316.6a3.35,3.35 0 1,0 6.7,0a3.35,3.35 0 1,0 -6.7,0M1605.5,1337.1a3.35,3.35 0 1,0 6.7,0a3.35,3.35 0 1,0 -6.7,0M1562.1,1413.1a3.35,3.35 0 1,0 6.7,0a3.35,3.35 0 1,0 -6.7,0M1569.2,1446.0a3.35,3.35 0 1,0 6.7,0a3.35,3.35 0 1,0 -6.7,0M1603.2,1450.8a3.35,3.35 0 1,0 6.7,0a3.35,3.35 0 1,0 -6.7,0M1679.8,1245.3a3.35,3.35 0 1,0 6.7,0a3.35,3.35 0 1,0 -6.7,0M1710.5,1248.6a3.35,3.35 0 1,0 6.7,0a3.35,3.35 0 1,0 -6.7,0M1722.2,1245.3a3.35,3.35 0 1,0 6.7,0a3.35,3.35 0 1,0 -6.7,0M1765.9,1244.3a3.35,3.35 0 1,0 6.7,0a3.35,3.35 0 1,0 -6.7,0M1676.1,1261.8a3.35,3.35 0 1,0 6.7,0a3.35,3.35 0 1,0 -6.7,0M1719.4,1266.1a3.35,3.35 0 1,0 6.7,0a3.35,3.35 0 1,0 -6.7,0M1636.3,1272.9a3.35,3.35 0 1,0 6.7,0a3.35,3.35 0 1,0 -6.7,0M1699.6,1278.3a3.35,3.35 0 1,0 6.7,0a3.35,3.35 0 1,0 -6.7,0M1723.7,1283.9a3.35,3.35 0 1,0 6.7,0a3.35,3.35 0 1,0 -6.7,0M1662.6,1286.8a3.35,3.35 0 1,0 6.7,0a3.35,3.35 0 1,0 -6.7,0M1657.7,1300.8a3.35,3.35 0 1,0 6.7,0a3.35,3.35 0 1,0 -6.7,0M1625.9,1310.8a3.35,3.35 0 1,0 6.7,0a3.35,3.35 0 1,0 -6.7,0M1688.6,1317.4a3.35,3.35 0 1,0 6.7,0a3.35,3.35 0 1,0 -6.7,0M1926.8,1042.0a3.35,3.35 0 1,0 6.7,0a3.35,3.35 0 1,0 -6.7,0M1960.1,1035.9a3.35,3.35 0 1,0 6.7,0a3.35,3.35 0 1,0 -6.7,0" fill="#b41c2d"/>
<path d="M1568.9,1098.0a3.35,3.35 0 1,0 6.7,0a3.35,3.35 0 1,0 -6.7,0M1586.3,1095.2a3.35,3.35 0 1,0 6.7,0a3.35,3.35 0 1,0 -6.7,0M1546.0,1108.2a3.35,3.35 0 1,0 6.7,0a3.35,3.35 0 1,0 -6.7,0M1563.6,1109.7a3.35,3.35 0 1,0 6.7,0a3.35,3.35 0 1,0 -6.7,0M1539.4,1121.6a3.35,3.35 0 1,0 6.7,0a3.35,3.35 0 1,0 -6.7,0M1571.9,1123.7a3.35,3.35 0 1,0 6.7,0a3.35,3.35 0 1,0 -6.7,0M1583.5,1126.6a3.35,3.35 0 1,0 6.7,0a3.35,3.35 0 1,0 -6.7,0M1492.6,1129.1a3.35,3.35 0 1,0 6.7,0a3.35,3.35 0 1,0 -6.7,0M1611.0,1131.3a3.35,3.35 0 1,0 6.7,0a3.35,3.35 0 1,0 -6.7,0M1531.6,1135.5a3.35,3.35 0 1,0 6.7,0a3.35,3.35 0 1,0 -6.7,0M1574.2,1140.7a3.35,3.35 0 1,0 6.7,0a3.35,3.35 0 1,0 -6.7,0M1599.8,1145.7a3.35,3.35 0 1,0 6.7,0a3.35,3.35 0 1,0 -6.7,0M1612.8,1148.0a3.35,3.35 0 1,0 6.7,0a3.35,3.35 0 1,0 -6.7,0M1500.0,1149.8a3.35,3.35 0 1,0 6.7,0a3.35,3.35 0 1,0 -6.7,0M1561.4,1155.8a3.35,3.35 0 1,0 6.7,0a3.35,3.35 0 1,0 -6.7,0M1469.2,1162.2a3.35,3.35 0 1,0 6.7,0a3.35,3.35 0 1,0 -6.7,0M1499.0,1162.2a3.35,3.35 0 1,0 6.7,0a3.35,3.35 0 1,0 -6.7,0M1523.9,1160.7a3.35,3.35 0 1,0 6.7,0a3.35,3.35 0 1,0 -6.7,0M1585.3,1164.1a3.35,3.35 0 1,0 6.7,0a3.35,3.35 0 1,0 -6.7,0M1572.1,1167.8a3.35,3.35 0 1,0 6.7,0a3.35,3.35 0 1,0 -6.7,0M1613.7,1160.5a3.35,3.35 0 1,0 6.7,0a3.35,3.35 0 1,0 -6.7,0M1538.4,1171.6a3.35,3.35 0 1,0 6.7,0a3.35,3.35 0 1,0 -6.7,0M1613.5,1172.4a3.35,3.35 0 1,0 6.7,0a3.35,3.35 0 1,0 -6.7,0M1583.9,1176.9a3.35,3.35 0 1,0 6.7,0a3.35,3.35 0 1,0 -6.7,0M1565.5,1181.7a3.35,3.35 0 1,0 6.7,0a3.35,3.35 0 1,0 -6.7,0M1596.7,1181.5a3.35,3.35 0 1,0 6.7,0a3.35,3.35 0 1,0 -6.7,0M1614.5,1187.4a3.35,3.35 0 1,0 6.7,0a3.35,3.35 0 1,0 -6.7,0M1506.5,1193.7a3.35,3.35 0 1,0 6.7,0a3.35,3.35 0 1,0 -6.7,0M1571.4,1191.4a3.35,3.35 0 1,0 6.7,0a3.35,3.35 0 1,0 -6.7,0M1607.3,1200.0a3.35,3.35 0 1,0 6.7,0a3.35,3.35 0 1,0 -6.7,0M1559.9,1212.8a3.35,3.35 0 1,0 6.7,0a3.35,3.35 0 1,0 -6.7,0M1572.6,1214.7a3.35,3.35 0 1,0 6.7,0a3.35,3.35 0 1,0 -6.7,0M1598.0,1213.1a3.35,3.35 0 1,0 6.7,0a3.35,3.35 0 1,0 -6.7,0M1610.9,1211.5a3.35,3.35 0 1,0 6.7,0a3.35,3.35 0 1,0 -6.7,0M1596.8,1232.7a3.35,3.35 0 1,0 6.7,0a3.35,3.35 0 1,0 -6.7,0M1526.2,1239.8a3.35,3.35 0 1,0 6.7,0a3.35,3.35 0 1,0 -6.7,0M1463.0,1240.7a3.35,3.35 0 1,0 6.7,0a3.35,3.35 0 1,0 -6.7,0M1648.2,1081.0a3.35,3.35 0 1,0 6.7,0a3.35,3.35 0 1,0 -6.7,0M1680.2,1101.2a3.35,3.35 0 1,0 6.7,0a3.35,3.35 0 1,0 -6.7,0M1693.2,1095.6a3.35,3.35 0 1,0 6.7,0a3.35,3.35 0 1,0 -6.7,0M1715.9,1107.0a3.35,3.35 0 1,0 6.7,0a3.35,3.35 0 1,0 -6.7,0M1681.3,1120.2a3.35,3.35 0 1,0 6.7,0a3.35,3.35 0 1,0 -6.7,0M1623.0,1131.8a3.35,3.35 0 1,0 6.7,0a3.35,3.35 0 1,0 -6.7,0M1648.4,1129.2a3.35,3.35 0 1,0 6.7,0a3.35,3.35 0 1,0 -6.7,0M1660.3,1136.1a3.35,3.35 0 1,0 6.7,0a3.35,3.35 0 1,0 -6.7,0M1636.7,1140.8a3.35,3.35 0 1,0 6.7,0a3.35,3.35 0 1,0 -6.7,0M1648.7,1142.7a3.35,3.35 0 1,0 6.7,0a3.35,3.35 0 1,0 -6.7,0M1662.6,1149.3a3.35,3.35 0 1,0 6.7,0a3.35,3.35 0 1,0 -6.7,0M1692.9,1144.7a3.35,3.35 0 1,0 6.7,0a3.35,3.35 0 1,0 -6.7,0M1717.8,1150.4a3.35,3.35 0 1,0 6.7,0a3.35,3.35 0 1,0 -6.7,0M1768.7,1152.8a3.35,3.35 0 1,0 6.7,0a3.35,3.35 0 1,0 -6.7,0M1637.5,1154.3a3.35,3.35 0 1,0 6.7,0a3.35,3.35 0 1,0 -6.7,0M1650.2,1160.2a3.35,3.35 0 1,0 6.7,0a3.35,3.35 0 1,0 -6.7,0M1670.1,1166.0a3.35,3.35 0 1,0 6.7,0a3.35,3.35 0 1,0 -6.7,0M1636.6,1169.4a3.35,3.35 0 1,0 6.7,0a3.35,3.35 0 1,0 -6.7,0M1747.3,1168.3a3.35,3.35 0 1,0 6.7,0a3.35,3.35 0 1,0 -6.7,0M1802.9,1175.0a3.35,3.35 0 1,0 6.7,0a3.35,3.35 0 1,0 -6.7,0M1646.0,1178.1a3.35,3.35 0 1,0 6.7,0a3.35,3.35 0 1,0 -6.7,0M1632.1,1182.3a3.35,3.35 0 1,0 6.7,0a3.35,3.35 0 1,0 -6.7,0M1658.5,1186.5a3.35,3.35 0 1,0 6.7,0a3.35,3.35 0 1,0 -6.7,0M1687.5,1203.2a3.35,3.35 0 1,0 6.7,0a3.35,3.35 0 1,0 -6.7,0M1717.8,1209.4a3.35,3.35 0 1,0 6.7,0a3.35,3.35 0 1,0 -6.7,0M1759.7,1218.0a3.35,3.35 0 1,0 6.7,0a3.35,3.35 0 1,0 -6.7,0M1619.9,1223.1a3.35,3.35 0 1,0 6.7,0a3.35,3.35 0 1,0 -6.7,0M1510.2,1250.1a3.35,3.35 0 1,0 6.7,0a3.35,3.35 0 1,0 -6.7,0M1537.7,1250.5a3.35,3.35 0 1,0 6.7,0a3.35,3.35 0 1,0 -6.7,0M1490.7,1259.2a3.35,3.35 0 1,0 6.7,0a3.35,3.35 0 1,0 -6.7,0M1563.3,1256.0a3.35,3.35 0 1,0 6.7,0a3.35,3.35 0 1,0 -6.7,0M1575.0,1256.0a3.35,3.35 0 1,0 6.7,0a3.35,3.35 0 1,0 -6.7,0M1588.3,1256.0a3.35,3.35 0 1,0 6.7,0a3.35,3.35 0 1,0 -6.7,0M1605.9,1258.6a3.35,3.35 0 1,0 6.7,0a3.35,3.35 0 1,0 -6.7,0M1584.4,1244.0a3.35,3.35 0 1,0 6.7,0a3.35,3.35 0 1,0 -6.7,0M1563.3,1269.4a3.35,3.35 0 1,0 6.7,0a3.35,3.35 0 1,0 -6.7,0M1580.5,1268.3a3.35,3.35 0 1,0 6.7,0a3.35,3.35 0 1,0 -6.7,0M1596.8,1272.5a3.35,3.35 0 1,0 6.7,0a3.35,3.35 0 1,0 -6.7,0M1609.6,1282.3a3.35,3.35 0 1,0 6.7,0a3.35,3.35 0 1,0 -6.7,0M1403.3,1296.0a3.35,3.35 0 1,0 6.7,0a3.35,3.35 0 1,0 -6.7,0M1549.1,1293.6a3.35,3.35 0 1,0 6.7,0a3.35,3.35 0 1,0 -6.7,0M1562.6,1306.0a3.35,3.35 0 1,0 6.7,0a3.35,3.35 0 1,0 -6.7,0M1590.5,1309.6a3.35,3.35 0 1,0 6.7,0a3.35,3.35 0 1,0 -6.7,0M1614.1,1312.6a3.35,3.35 0 1,0 6.7,0a3.35,3.35 0 1,0 -6.7,0M1493.3,1318.3a3.35,3.35 0 1,0 6.7,0a3.35,3.35 0 1,0 -6.7,0M1565.0,1330.3a3.35,3.35 0 1,0 6.7,0a3.35,3.35 0 1,0 -6.7,0M1593.3,1326.4a3.35,3.35 0 1,0 6.7,0a3.35,3.35 0 1,0 -6.7,0M1614.9,1324.4a3.35,3.35 0 1,0 6.7,0a3.35,3.35 0 1,0 -6.7,0M1581.5,1361.6a3.35,3.35 0 1,0 6.7,0a3.35,3.35 0 1,0 -6.7,0M1558.1,1370.5a3.35,3.35 0 1,0 6.7,0a3.35,3.35 0 1,0 -6.7,0M1401.3,1443.6a3.35,3.35 0 1,0 6.7,0a3.35,3.35 0 1,0 -6.7,0M1435.1,1441.4a3.35,3.35 0 1,0 6.7,0a3.35,3.35 0 1,0 -6.7,0M1468.2,1448.6a3.35,3.35 0 1,0 6.7,0a3.35,3.35 0 1,0 -6.7,0M1502.2,1444.9a3.35,3.35 0 1,0 6.7,0a3.35,3.35 0 1,0 -6.7,0M1628.9,1247.3a3.35,3.35 0 1,0 6.7,0a3.35,3.35 0 1,0 -6.7,0M1640.4,1246.9a3.35,3.35 0 1,0 6.7,0a3.35,3.35 0 1,0 -6.7,0M1618.5,1258.8a3.35,3.35 0 1,0 6.7,0a3.35,3.35 0 1,0 -6.7,0M1637.2,1259.2a3.35,3.35 0 1,0 6.7,0a3.35,3.35 0 1,0 -6.7,0M1657.0,1261.4a3.35,3.35 0 1,0 6.7,0a3.35,3.35 0 1,0 -6.7,0M1699.9,1261.4a3.35,3.35 0 1,0 6.7,0a3.35,3.35 0 1,0 -6.7,0M1758.6,1265.5a3.35,3.35 0 1,0 6.7,0a3.35,3.35 0 1,0 -6.7,0M1621.3,1276.4a3.35,3.35 0 1,0 6.7,0a3.35,3.35 0 1,0 -6.7,0M1648.9,1276.4a3.35,3.35 0 1,0 6.7,0a3.35,3.35 0 1,0 -6.7,0M1661.6,1273.1a3.35,3.35 0 1,0 6.7,0a3.35,3.35 0 1,0 -6.7,0M1633.0,1286.6a3.35,3.35 0 1,0 6.7,0a3.35,3.35 0 1,0 -6.7,0M1650.9,1289.1a3.35,3.35 0 1,0 6.7,0a3.35,3.35 0 1,0 -6.7,0M1621.1,1296.9a3.35,3.35 0 1,0 6.7,0a3.35,3.35 0 1,0 -6.7,0M1641.5,1307.3a3.35,3.35 0 1,0 6.7,0a3.35,3.35 0 1,0 -6.7,0M1686.7,1304.9a3.35,3.35 0 1,0 6.7,0a3.35,3.35 0 1,0 -6.7,0M1618.3,1345.2a3.35,3.35 0 1,0 6.7,0a3.35,3.35 0 1,0 -6.7,0M1652.5,1346.0a3.35,3.35 0 1,0 6.7,0a3.35,3.35 0 1,0 -6.7,0M1670.7,1449.9a3.35,3.35 0 1,0 6.7,0a3.35,3.35 0 1,0 -6.7,0M1704.2,1441.0a3.35,3.35 0 1,0 6.7,0a3.35,3.35 0 1,0 -6.7,0" fill="#2968b1"/>
<path d="M1391.9,1181.2a3.35,3.35 0 1,0 6.7,0a3.35,3.35 0 1,0 -6.7,0M1469.4,1181.1a3.35,3.35 0 1,0 6.7,0a3.35,3.35 0 1,0 -6.7,0M1419.0,1233.8a3.35,3.35 0 1,0 6.7,0a3.35,3.35 0 1,0 -6.7,0M1544.9,1238.5a3.35,3.35 0 1,0 6.7,0a3.35,3.35 0 1,0 -6.7,0M1630.8,1070.8a3.35,3.35 0 1,0 6.7,0a3.35,3.35 0 1,0 -6.7,0M1650.2,1117.0a3.35,3.35 0 1,0 6.7,0a3.35,3.35 0 1,0 -6.7,0M1672.3,1131.8a3.35,3.35 0 1,0 6.7,0a3.35,3.35 0 1,0 -6.7,0M1758.1,1113.9a3.35,3.35 0 1,0 6.7,0a3.35,3.35 0 1,0 -6.7,0M1658.5,1172.5a3.35,3.35 0 1,0 6.7,0a3.35,3.35 0 1,0 -6.7,0M1663.5,1235.5a3.35,3.35 0 1,0 6.7,0a3.35,3.35 0 1,0 -6.7,0M1608.4,1246.9a3.35,3.35 0 1,0 6.7,0a3.35,3.35 0 1,0 -6.7,0M1536.0,1275.7a3.35,3.35 0 1,0 6.7,0a3.35,3.35 0 1,0 -6.7,0M1438.3,1296.9a3.35,3.35 0 1,0 6.7,0a3.35,3.35 0 1,0 -6.7,0M1535.4,1452.5a3.35,3.35 0 1,0 6.7,0a3.35,3.35 0 1,0 -6.7,0M1668.3,1249.5a3.35,3.35 0 1,0 6.7,0a3.35,3.35 0 1,0 -6.7,0M1684.6,1283.6a3.35,3.35 0 1,0 6.7,0a3.35,3.35 0 1,0 -6.7,0M1636.3,1336.9a3.35,3.35 0 1,0 6.7,0a3.35,3.35 0 1,0 -6.7,0M1637.2,1445.6a3.35,3.35 0 1,0 6.7,0a3.35,3.35 0 1,0 -6.7,0" fill="#676767"/>
<path d="M1624.3,1092.5a3.35,3.35 0 1,0 6.7,0a3.35,3.35 0 1,0 -6.7,0M1651.8,1237.6a3.35,3.35 0 1,0 6.7,0a3.35,3.35 0 1,0 -6.7,0M1507.6,1327.1a3.35,3.35 0 1,0 6.7,0a3.35,3.35 0 1,0 -6.7,0M1577.3,1311.6a3.35,3.35 0 1,0 6.7,0a3.35,3.35 0 1,0 -6.7,0" fill="#7d7d98"/>
<path d="M1605.2,1297.7a3.35,3.35 0 1,0 6.7,0a3.35,3.35 0 1,0 -6.7,0" fill="#957886"/>
<path d="M1639.5,1296.5a3.35,3.35 0 1,0 6.7,0a3.35,3.35 0 1,0 -6.7,0" fill="#d5694f"/>
<path d="M1511.8,1160.4a3.35,3.35 0 1,0 6.7,0a3.35,3.35 0 1,0 -6.7,0" fill="#5e8fbd"/>
<path d="M402.5,1690.7a8,8 0 1,0 16,0a8,8 0 1,0 -16,0M405.6,1704.3a8,8 0 1,0 16,0a8,8 0 1,0 -16,0M397.5,1718.0a8,8 0 1,0 16,0a8,8 0 1,0 -16,0M385.1,1725.7a8,8 0 1,0 16,0a8,8 0 1,0 -16,0M383.5,1736.6a8,8 0 1,0 16,0a8,8 0 1,0 -16,0M405.8,1743.8a8,8 0 1,0 16,0a8,8 0 1,0 -16,0M363.8,1756.6a8,8 0 1,0 16,0a8,8 0 1,0 -16,0M374.3,1757.4a8,8 0 1,0 16,0a8,8 0 1,0 -16,0M384.9,1758.9a8,8 0 1,0 16,0a8,8 0 1,0 -16,0M405.6,1753.9a8,8 0 1,0 16,0a8,8 0 1,0 -16,0M254.9,1731.0a8,8 0 1,0 16,0a8,8 0 1,0 -16,0M395.8,1734.9a8,8 0 1,0 16,0a8,8 0 1,0 -16,0M264.3,1745.0a8,8 0 1,0 16,0a8,8 0 1,0 -16,0M379.9,1747.0a8,8 0 1,0 16,0a8,8 0 1,0 -16,0M392.7,1748.1a8,8 0 1,0 16,0a8,8 0 1,0 -16,0M395.5,1758.3a8,8 0 1,0 16,0a8,8 0 1,0 -16,0M426.5,1742.2a8,8 0 1,0 16,0a8,8 0 1,0 -16,0M417.6,1752.5a8,8 0 1,0 16,0a8,8 0 1,0 -16,0M430.0,1753.5a8,8 0 1,0 16,0a8,8 0 1,0 -16,0M367.0,1768.1a8,8 0 1,0 16,0a8,8 0 1,0 -16,0M385.9,1769.7a8,8 0 1,0 16,0a8,8 0 1,0 -16,0M405.2,1769.0a8,8 0 1,0 16,0a8,8 0 1,0 -16,0M374.4,1779.6a8,8 0 1,0 16,0a8,8 0 1,0 -16,0M396.4,1782.5a8,8 0 1,0 16,0a8,8 0 1,0 -16,0M385.0,1790.6a8,8 0 1,0 16,0a8,8 0 1,0 -16,0M493.4,1775.7a8,8 0 1,0 16,0a8,8 0 1,0 -16,0M451.0,1870.9a8,8 0 1,0 16,0a8,8 0 1,0 -16,0M415.8,1766.7a8,8 0 1,0 16,0a8,8 0 1,0 -16,0M517.8,1771.1a8,8 0 1,0 16,0a8,8 0 1,0 -16,0M553.5,1774.5a8,8 0 1,0 16,0a8,8 0 1,0 -16,0M514.7,1782.4a8,8 0 1,0 16,0a8,8 0 1,0 -16,0M464.5,1880.5a8,8 0 1,0 16,0a8,8 0 1,0 -16,0" fill="#d0d0d0" filter="url(#hblur)"/>
<path d="M350.6,1547.0L352.6,1581.7M245.4,1610.7L267.5,1640.1M324.1,1619.6L329.6,1653.2M324.1,1619.6L302.0,1629.3M281.3,1631.0L286.4,1657.5M281.3,1631.0L267.5,1640.1M400.1,1629.2L436.0,1630.9M329.6,1653.2L305.2,1667.0M286.4,1657.5L305.2,1667.0M286.4,1657.5L257.8,1680.0M384.2,1655.1L384.3,1674.8M402.5,1654.7L418.8,1658.8M402.5,1654.7L368.7,1665.8M402.5,1654.7L384.3,1674.8M402.5,1654.7L410.5,1690.7M402.5,1654.7L438.8,1667.9M418.8,1658.8L384.3,1674.8M418.8,1658.8L456.7,1653.4M368.7,1665.8L355.0,1690.7M305.2,1667.0L302.0,1629.3M305.2,1667.0L298.4,1691.9M257.8,1680.0L273.6,1706.4M257.8,1680.0L251.9,1707.2M384.3,1674.8L402.2,1676.8M384.3,1674.8L412.7,1679.2M384.3,1674.8L378.5,1701.0M384.3,1674.8L355.0,1690.7M384.3,1674.8L403.4,1705.4M402.2,1676.8L413.6,1704.3M402.2,1676.8L392.7,1715.1M402.2,1676.8L403.4,1705.4M402.2,1676.8L438.8,1667.9M402.2,1676.8L438.9,1681.9M412.7,1679.2L391.8,1687.0M412.7,1679.2L410.5,1690.7M412.7,1679.2L405.5,1718.0M412.7,1679.2L438.8,1667.9M391.8,1687.0L373.7,1711.6M391.8,1687.0L392.7,1715.1M391.8,1687.0L355.0,1690.7M391.8,1687.0L380.0,1685.9M391.8,1687.0L424.3,1696.7M410.5,1690.7L392.7,1715.1M410.5,1690.7L403.4,1705.4M410.5,1690.7L449.8,1686.6M410.5,1690.7L424.3,1696.7M273.3,1695.7L273.6,1706.4M273.3,1695.7L298.4,1691.9M273.3,1695.7L251.9,1707.2M273.3,1695.7L284.9,1715.1M273.3,1695.7L262.9,1731.0M273.3,1695.7L295.1,1728.1M378.5,1701.0L413.6,1704.3M378.5,1701.0L392.7,1715.1M378.5,1701.0L382.1,1724.5M378.5,1701.0L393.1,1725.7M378.5,1701.0L355.0,1690.7M378.5,1701.0L380.0,1685.9M273.6,1706.4L284.6,1725.9M273.6,1706.4L298.4,1691.9M273.6,1706.4L251.9,1707.2M273.6,1706.4L262.9,1731.0M273.6,1706.4L273.3,1725.9M413.6,1704.3L392.7,1715.1M413.6,1704.3L405.5,1718.0M413.6,1704.3L393.1,1725.7M413.6,1704.3L380.0,1685.9M413.6,1704.3L403.4,1705.4M413.6,1704.3L440.1,1699.1M413.6,1704.3L446.2,1709.8M413.6,1704.3L422.0,1715.6M413.6,1704.3L424.3,1736.6M373.7,1711.6L392.7,1715.1M373.7,1711.6L405.5,1718.0M373.7,1711.6L357.1,1722.8M373.7,1711.6L382.1,1724.5M373.7,1711.6L391.5,1736.6M373.7,1711.6L355.0,1690.7M392.7,1715.1L357.1,1722.8M392.7,1715.1L380.0,1685.9M392.7,1715.1L403.4,1705.4M392.7,1715.1L403.8,1734.9M392.7,1715.1L374.8,1742.2M392.7,1715.1L400.7,1748.1M392.7,1715.1L422.0,1715.6M405.5,1718.0L403.4,1705.4M405.5,1718.0L374.8,1742.2M405.5,1718.0L387.9,1747.0M405.5,1718.0L440.1,1699.1M405.5,1718.0L424.3,1736.6M405.5,1718.0L434.5,1742.2M255.5,1718.4L220.7,1713.0M255.5,1718.4L284.9,1715.1M255.5,1718.4L262.9,1731.0M255.5,1718.4L258.8,1754.0M310.7,1722.8L298.4,1691.9M310.7,1722.8L314.2,1701.3M310.7,1722.8L284.9,1715.1M310.7,1722.8L282.8,1750.1M357.1,1722.8L382.1,1724.5M357.1,1722.8L393.1,1725.7M357.1,1722.8L391.5,1736.6M357.1,1722.8L361.5,1750.8M357.1,1722.8L374.8,1742.2M357.1,1722.8L351.2,1755.7M382.1,1724.5L393.1,1725.7M382.1,1724.5L391.5,1736.6M382.1,1724.5L371.8,1756.6M382.1,1724.5L382.3,1757.4M382.1,1724.5L392.9,1758.9M382.1,1724.5L380.0,1685.9M382.1,1724.5L374.8,1742.2M382.1,1724.5L387.9,1747.0M382.1,1724.5L400.7,1748.1M382.1,1724.5L403.5,1758.3M393.1,1725.7L371.8,1756.6M393.1,1725.7L403.4,1705.4M393.1,1725.7L422.0,1715.6M284.6,1725.9L298.4,1691.9M284.6,1725.9L262.9,1731.0M284.6,1725.9L286.7,1739.3M284.6,1725.9L259.6,1743.8M391.5,1736.6L392.9,1758.9M391.5,1736.6L403.4,1705.4M391.5,1736.6L403.8,1734.9M391.5,1736.6L387.9,1747.0M391.5,1736.6L400.7,1748.1M391.5,1736.6L403.5,1758.3M391.5,1736.6L424.3,1736.6M391.5,1736.6L425.6,1752.5M391.5,1736.6L393.9,1769.7M413.8,1743.8L374.8,1742.2M413.8,1743.8L422.0,1715.6M413.8,1743.8L434.5,1742.2M413.8,1743.8L445.1,1740.6M413.8,1743.8L438.0,1753.5M413.8,1743.8L393.9,1769.7M413.8,1743.8L413.2,1769.0M413.8,1743.8L423.8,1766.7M413.8,1743.8L422.5,1779.5M361.5,1750.8L371.8,1756.6M361.5,1750.8L382.3,1757.4M361.5,1750.8L392.9,1758.9M361.5,1750.8L374.8,1742.2M361.5,1750.8L351.2,1755.7M361.5,1750.8L326.2,1765.8M299.4,1753.1L311.7,1739.6M299.4,1753.1L272.3,1745.0M371.8,1756.6L403.8,1734.9M371.8,1756.6L374.8,1742.2M371.8,1756.6L387.9,1747.0M371.8,1756.6L351.2,1755.7M371.8,1756.6L403.5,1758.3M371.8,1756.6L393.9,1769.7M371.8,1756.6L382.4,1779.6M382.3,1757.4L392.9,1758.9M382.3,1757.4L413.6,1753.9M382.3,1757.4L403.8,1734.9M382.3,1757.4L387.9,1747.0M382.3,1757.4L400.7,1748.1M382.3,1757.4L351.2,1755.7M382.3,1757.4L403.5,1758.3M382.3,1757.4L361.7,1769.2M392.9,1758.9L374.8,1742.2M392.9,1758.9L424.3,1736.6M392.9,1758.9L425.6,1752.5M392.9,1758.9L371.0,1779.6M392.9,1758.9L382.4,1779.6M392.9,1758.9L393.2,1780.2M392.9,1758.9L404.4,1782.5M413.6,1753.9L403.8,1734.9M413.6,1753.9L400.7,1748.1M413.6,1753.9L437.6,1729.3M413.6,1753.9L424.3,1736.6M413.6,1753.9L445.1,1740.6M413.6,1753.9L448.5,1757.9M413.6,1753.9L393.9,1769.7M413.6,1753.9L413.2,1769.0M413.6,1753.9L418.4,1789.8M413.6,1753.9L422.5,1779.5M413.6,1753.9L443.2,1780.3M201.2,1615.9L189.7,1640.9M189.7,1640.9L227.0,1644.5M298.4,1691.9L284.9,1715.1M355.0,1690.7L380.0,1685.9M314.2,1701.3L295.1,1728.1M251.9,1707.2L240.0,1721.7M220.7,1713.0L240.0,1721.7M284.9,1715.1L250.4,1729.3M284.9,1715.1L286.7,1739.3M284.9,1715.1L272.3,1745.0M240.0,1721.7L262.9,1731.0M240.0,1721.7L259.6,1743.8M240.0,1721.7L272.3,1745.0M403.4,1705.4L424.3,1736.6M250.4,1729.3L262.9,1731.0M250.4,1729.3L273.3,1725.9M250.4,1729.3L258.8,1754.0M262.9,1731.0L273.3,1725.9M262.9,1731.0L295.1,1728.1M262.9,1731.0L259.6,1743.8M262.9,1731.0L282.8,1750.1M273.3,1725.9L295.1,1728.1M273.3,1725.9L286.7,1739.3M273.3,1725.9L259.6,1743.8M273.3,1725.9L258.8,1754.0M295.1,1728.1L311.7,1739.6M295.1,1728.1L259.6,1743.8M295.1,1728.1L272.3,1745.0M295.1,1728.1L282.8,1750.1M286.7,1739.3L272.3,1745.0M286.7,1739.3L282.8,1750.1M286.7,1739.3L258.8,1754.0M311.7,1739.6L307.8,1769.7M403.8,1734.9L374.8,1742.2M403.8,1734.9L387.9,1747.0M403.8,1734.9L422.0,1715.6M403.8,1734.9L437.6,1729.3M403.8,1734.9L434.5,1742.2M403.8,1734.9L413.2,1769.0M272.3,1745.0L282.8,1750.1M374.8,1742.2L387.9,1747.0M374.8,1742.2L393.9,1769.7M374.8,1742.2L382.4,1779.6M387.9,1747.0L361.7,1769.2M387.9,1747.0L371.0,1779.6M387.9,1747.0L382.4,1779.6M387.9,1747.0L393.2,1780.2M387.9,1747.0L404.4,1782.5M400.7,1748.1L424.3,1736.6M400.7,1748.1L438.0,1753.5M400.7,1748.1L404.4,1782.5M351.2,1755.7L371.0,1779.6M351.2,1755.7L382.4,1779.6M403.5,1758.3L424.3,1736.6M403.5,1758.3L434.5,1742.2M403.5,1758.3L425.6,1752.5M403.5,1758.3L382.4,1779.6M403.5,1758.3L393.0,1790.6M403.5,1758.3L418.4,1789.8M403.5,1758.3L422.5,1779.5M403.5,1758.3L432.7,1783.8M480.0,1642.9L507.1,1636.1M480.0,1642.9L495.0,1653.1M480.0,1642.9L491.9,1674.1M438.8,1667.9L449.8,1686.6M438.8,1667.9L440.1,1699.1M438.8,1667.9L436.0,1630.9M438.8,1667.9L454.7,1636.4M438.8,1667.9L456.7,1653.4M438.8,1667.9L460.5,1689.8M438.9,1681.9L449.8,1686.6M438.9,1681.9L424.3,1696.7M438.9,1681.9L440.1,1699.1M438.9,1681.9L446.2,1709.8M438.9,1681.9L422.0,1715.6M438.9,1681.9L460.5,1689.8M449.8,1686.6L424.3,1696.7M449.8,1686.6L440.1,1699.1M449.8,1686.6L475.8,1694.6M449.8,1686.6L446.2,1709.8M449.8,1686.6L456.7,1653.4M449.8,1686.6L460.5,1689.8M449.8,1686.6L457.5,1703.3M424.3,1696.7L440.1,1699.1M424.3,1696.7L446.2,1709.8M424.3,1696.7L422.0,1715.6M424.3,1696.7L424.3,1736.6M440.1,1699.1L446.2,1709.8M440.1,1699.1L422.0,1715.6M440.1,1699.1L459.4,1725.2M440.1,1699.1L460.5,1689.8M440.1,1699.1L457.5,1703.3M475.8,1694.6L459.4,1725.2M475.8,1694.6L469.9,1724.7M475.8,1694.6L491.9,1674.1M475.8,1694.6L460.5,1689.8M475.8,1694.6L487.4,1694.1M475.8,1694.6L457.5,1703.3M502.5,1683.7L530.7,1674.1M502.5,1683.7L525.8,1685.3M502.5,1683.7L479.5,1712.5M530.7,1674.1L527.0,1706.7M530.7,1674.1L491.9,1674.1M530.7,1674.1L545.2,1689.2M530.7,1674.1L523.1,1658.9M446.2,1709.8L422.0,1715.6M446.2,1709.8L437.6,1729.3M446.2,1709.8L479.5,1712.5M446.2,1709.8L455.5,1737.1M446.2,1709.8L475.0,1736.0M504.0,1709.3L506.4,1724.4M504.0,1709.3L529.2,1730.8M504.0,1709.3L525.8,1685.3M504.0,1709.3L516.8,1714.0M504.0,1709.3L496.3,1728.8M527.0,1706.7L506.4,1724.4M527.0,1706.7L529.2,1730.8M422.0,1715.6L459.4,1725.2M422.0,1715.6L437.6,1729.3M422.0,1715.6L424.3,1736.6M422.0,1715.6L434.5,1742.2M422.0,1715.6L457.5,1703.3M422.0,1715.6L425.6,1752.5M459.4,1725.2L469.9,1724.7M459.4,1725.2L424.3,1736.6M459.4,1725.2L434.5,1742.2M459.4,1725.2L445.1,1740.6M459.4,1725.2L471.5,1756.7M459.4,1725.2L481.8,1757.7M459.4,1725.2L457.5,1703.3M459.4,1725.2L496.3,1728.8M469.9,1724.7L506.4,1724.4M469.9,1724.7L437.6,1729.3M469.9,1724.7L434.5,1742.2M469.9,1724.7L448.5,1757.9M469.9,1724.7L460.6,1757.7M469.9,1724.7L481.8,1757.7M469.9,1724.7L487.4,1694.1M469.9,1724.7L479.5,1712.5M506.4,1724.4L506.8,1748.2M506.4,1724.4L479.5,1712.5M506.4,1724.4L475.0,1736.0M506.4,1724.4L501.7,1758.8M506.4,1724.4L492.7,1746.0M437.6,1729.3L434.5,1742.2M437.6,1729.3L475.0,1736.0M437.6,1729.3L425.6,1752.5M437.6,1729.3L434.4,1764.4M529.2,1730.8L506.8,1748.2M529.2,1730.8L559.6,1748.7M529.2,1730.8L519.1,1758.3M529.2,1730.8L536.6,1748.6M424.3,1736.6L455.5,1737.1M424.3,1736.6L413.2,1769.0M424.3,1736.6L423.8,1766.7M434.5,1742.2L445.1,1740.6M434.5,1742.2L460.6,1757.7M434.5,1742.2L425.6,1752.5M434.5,1742.2L413.2,1769.0M434.5,1742.2L453.4,1769.6M434.5,1742.2L443.2,1780.3M445.1,1740.6L448.5,1757.9M445.1,1740.6L460.6,1757.7M445.1,1740.6L471.5,1756.7M445.1,1740.6L457.5,1703.3M445.1,1740.6L455.5,1737.1M445.1,1740.6L423.8,1766.7M445.1,1740.6L471.2,1767.1M445.1,1740.6L443.2,1780.3M506.8,1748.2L536.6,1758.8M506.8,1748.2L496.3,1728.8M506.8,1748.2L536.6,1748.6M506.8,1748.2L501.7,1758.8M506.8,1748.2L501.4,1775.7M506.8,1748.2L507.1,1787.7M506.8,1748.2L525.8,1771.1M506.8,1748.2L522.7,1782.4M559.6,1748.7L536.6,1758.8M559.6,1748.7L562.5,1759.2M559.6,1748.7L548.0,1771.1M559.6,1748.7L553.7,1785.5M559.6,1748.7L575.9,1772.9M559.6,1748.7L570.0,1785.3M448.5,1757.9L460.6,1757.7M448.5,1757.9L471.5,1756.7M448.5,1757.9L481.8,1757.7M448.5,1757.9L475.0,1736.0M448.5,1757.9L425.6,1752.5M448.5,1757.9L438.0,1753.5M448.5,1757.9L423.8,1766.7M448.5,1757.9L471.2,1767.1M460.6,1757.7L455.5,1737.1M460.6,1757.7L475.0,1736.0M460.6,1757.7L425.6,1752.5M460.6,1757.7L491.3,1771.4M460.6,1757.7L443.2,1780.3M460.6,1757.7L488.5,1786.1M471.5,1756.7L475.0,1736.0M471.5,1756.7L438.0,1753.5M471.5,1756.7L501.4,1775.7M471.5,1756.7L471.4,1785.9M471.5,1756.7L471.2,1767.1M481.8,1757.7L496.3,1728.8M481.8,1757.7L492.7,1746.0M481.8,1757.7L471.4,1785.9M481.8,1757.7L471.2,1767.1M519.1,1758.3L496.3,1728.8M519.1,1758.3L524.2,1748.0M519.1,1758.3L536.6,1748.6M519.1,1758.3L492.7,1746.0M519.1,1758.3L501.4,1775.7M519.1,1758.3L491.3,1771.4M519.1,1758.3L515.2,1770.6M519.1,1758.3L525.8,1771.1M519.1,1758.3L522.7,1782.4M519.1,1758.3L533.1,1790.8M536.6,1758.8L540.5,1720.5M536.6,1758.8L517.2,1734.2M536.6,1758.8L556.4,1737.8M536.6,1758.8L524.2,1748.0M536.6,1758.8L553.7,1785.5M536.6,1758.8L515.2,1770.6M536.6,1758.8L561.5,1774.5M536.6,1758.8L522.7,1782.4M536.6,1758.8L535.9,1778.8M616.9,1669.8L623.1,1695.7M616.9,1669.8L641.8,1696.1M653.6,1671.8L623.1,1695.7M653.6,1671.8L641.8,1696.1M623.1,1695.7L641.5,1728.3M623.1,1695.7L600.8,1707.5M623.1,1695.7L642.2,1714.0M623.1,1695.7L612.7,1723.0M652.6,1703.9L641.5,1728.3M652.6,1703.9L666.0,1722.1M652.6,1703.9L641.8,1696.1M690.7,1707.5L666.0,1722.1M641.5,1728.3L632.5,1739.2M641.5,1728.3L627.2,1714.3M641.5,1728.3L642.2,1714.0M641.5,1728.3L612.7,1723.0M641.5,1728.3L666.0,1722.1M606.5,1733.4L632.5,1739.2M606.5,1733.4L577.0,1734.5M606.5,1733.4L601.4,1768.0M632.5,1739.2L627.2,1714.3M438.8,1613.9L436.0,1630.9M438.8,1613.9L454.7,1636.4M436.0,1630.9L454.7,1636.4M491.9,1674.1L460.5,1689.8M460.5,1689.8L487.4,1694.1M487.4,1694.1L525.8,1685.3M487.4,1694.1L457.5,1703.3M487.4,1694.1L479.5,1712.5M487.4,1694.1L516.8,1714.0M525.8,1685.3L545.2,1689.2M525.8,1685.3L540.5,1720.5M525.8,1685.3L523.1,1658.9M457.5,1703.3L475.0,1736.0M479.5,1712.5L455.5,1737.1M479.5,1712.5L492.7,1746.0M516.8,1714.0L496.3,1728.8M516.8,1714.0L517.2,1734.2M516.8,1714.0L524.2,1748.0M540.5,1720.5L524.2,1748.0M565.1,1706.2L577.0,1734.5M565.1,1706.2L556.4,1737.8M496.3,1728.8L517.2,1734.2M496.3,1728.8L501.7,1758.8M475.0,1736.0L492.7,1746.0M517.2,1734.2L556.4,1737.8M517.2,1734.2L536.6,1748.6M517.2,1734.2L492.7,1746.0M517.2,1734.2L515.2,1770.6M577.0,1734.5L575.9,1772.9M556.4,1737.8L524.2,1748.0M556.4,1737.8L562.5,1759.2M556.4,1737.8L548.0,1771.1M425.6,1752.5L413.2,1769.0M425.6,1752.5L404.4,1782.5M425.6,1752.5L418.4,1789.8M425.6,1752.5L453.4,1769.6M425.6,1752.5L423.8,1766.7M425.6,1752.5L422.5,1779.5M425.6,1752.5L432.7,1783.8M425.6,1752.5L443.2,1780.3M524.2,1748.0L501.7,1758.8M524.2,1748.0L562.5,1759.2M524.2,1748.0L515.2,1770.6M524.2,1748.0L525.8,1771.1M536.6,1748.6L501.7,1758.8M536.6,1748.6L562.5,1759.2M536.6,1748.6L548.0,1771.1M536.6,1748.6L515.2,1770.6M536.6,1748.6L561.5,1774.5M536.6,1748.6L522.7,1782.4M536.6,1748.6L535.9,1778.8M501.7,1758.8L491.3,1771.4M501.7,1758.8L488.5,1786.1M600.8,1707.5L612.7,1723.0M627.2,1714.3L642.2,1714.0M642.2,1714.0L666.0,1722.1M642.2,1714.0L641.8,1696.1M492.7,1746.0L501.4,1775.7M492.7,1746.0L471.2,1767.1M492.7,1746.0L491.3,1771.4M562.5,1759.2L548.0,1771.1M562.5,1759.2L575.9,1772.9M562.5,1759.2L601.4,1768.0M146.8,1779.4L186.7,1779.9M186.7,1779.9L200.9,1799.1M186.7,1779.9L184.9,1815.8M167.5,1790.4L200.9,1799.1M200.9,1799.1L184.9,1815.8M375.0,1768.1L413.2,1769.0M375.0,1768.1L371.0,1779.6M375.0,1768.1L393.2,1780.2M375.0,1768.1L404.4,1782.5M375.0,1768.1L377.9,1796.1M363.2,1834.2L384.6,1802.0M378.7,1840.0L384.6,1802.0M378.7,1840.0L397.5,1814.3M378.7,1840.0L404.0,1824.7M378.7,1840.0L418.3,1842.1M326.2,1765.8L327.4,1791.2M361.7,1769.2L393.9,1769.7M361.7,1769.2L371.0,1779.6M361.7,1769.2L382.4,1779.6M361.7,1769.2L393.2,1780.2M361.7,1769.2L393.0,1790.6M361.7,1769.2L377.9,1796.1M393.9,1769.7L371.0,1779.6M393.9,1769.7L382.4,1779.6M393.9,1769.7L393.2,1780.2M393.9,1769.7L418.4,1789.8M393.9,1769.7L384.6,1802.0M393.9,1769.7L422.5,1779.5M413.2,1769.0L393.2,1780.2M413.2,1769.0L434.4,1764.4M413.2,1769.0L436.0,1799.3M371.0,1779.6L404.4,1782.5M371.0,1779.6L384.6,1802.0M382.4,1779.6L393.0,1790.6M382.4,1779.6L377.9,1796.1M393.2,1780.2L404.4,1782.5M404.4,1782.5L393.0,1790.6M404.4,1782.5L418.4,1789.8M404.4,1782.5L415.7,1802.4M404.4,1782.5L432.7,1783.8M404.4,1782.5L443.2,1780.3M393.0,1790.6L377.9,1796.1M393.0,1790.6L397.5,1814.3M393.0,1790.6L423.8,1766.7M393.0,1790.6L422.5,1779.5M418.4,1789.8L415.7,1802.4M418.4,1789.8L404.0,1824.7M418.4,1789.8L414.5,1820.4M418.4,1789.8L434.4,1764.4M418.4,1789.8L453.4,1790.5M418.4,1789.8L429.5,1809.9M418.4,1789.8L433.4,1822.8M418.4,1789.8L422.5,1779.5M418.4,1789.8L443.2,1780.3M418.4,1789.8L436.0,1799.3M384.6,1802.0L415.7,1802.4M384.6,1802.0L397.5,1814.3M384.6,1802.0L404.0,1824.7M384.6,1802.0L414.5,1820.4M415.7,1802.4L404.0,1824.7M415.7,1802.4L447.4,1806.3M415.7,1802.4L433.4,1822.8M415.7,1802.4L432.7,1783.8M415.7,1802.4L443.2,1780.3M397.5,1814.3L429.5,1809.9M404.0,1824.7L418.3,1842.1M414.5,1820.4L418.3,1842.1M414.5,1820.4L429.5,1809.9M414.5,1820.4L436.0,1799.3M418.3,1842.1L433.4,1822.8M156.7,1943.2L151.6,1973.3M209.6,1948.7L239.3,1942.5M434.4,1764.4L453.4,1769.6M434.4,1764.4L453.4,1790.5M434.4,1764.4L471.2,1767.1M453.4,1769.6L453.4,1790.5M453.4,1769.6L480.0,1798.2M453.4,1769.6L471.2,1767.1M453.4,1769.6L491.3,1771.4M453.4,1769.6L436.0,1799.3M501.4,1775.7L491.3,1797.5M501.4,1775.7L501.4,1806.0M501.4,1775.7L515.2,1770.6M501.4,1775.7L525.8,1771.1M501.4,1775.7L488.5,1786.1M501.4,1775.7L533.1,1790.8M548.0,1771.1L545.5,1799.5M548.0,1771.1L515.2,1770.6M548.0,1771.1L525.8,1771.1M548.0,1771.1L575.9,1772.9M548.0,1771.1L522.7,1782.4M548.0,1771.1L570.0,1785.3M548.0,1771.1L535.9,1778.8M471.4,1785.9L453.4,1790.5M471.4,1785.9L458.5,1804.9M471.4,1785.9L501.4,1806.0M471.4,1785.9L471.2,1767.1M471.4,1785.9L491.3,1771.4M471.4,1785.9L432.7,1783.8M471.4,1785.9L443.2,1780.3M471.4,1785.9L488.5,1786.1M507.1,1787.7L501.4,1806.0M507.1,1787.7L478.7,1811.0M507.1,1787.7L489.6,1817.6M507.1,1787.7L529.7,1817.6M507.1,1787.7L510.6,1824.6M507.1,1787.7L515.2,1770.6M453.4,1790.5L480.0,1798.2M453.4,1790.5L491.3,1797.5M453.4,1790.5L429.5,1809.9M453.4,1790.5L422.5,1779.5M453.4,1790.5L443.2,1780.3M453.4,1790.5L488.5,1786.1M553.7,1785.5L577.8,1797.1M553.7,1785.5L525.8,1771.1M553.7,1785.5L575.9,1772.9M553.7,1785.5L522.7,1782.4M553.7,1785.5L570.0,1785.3M553.7,1785.5L564.6,1821.1M605.7,1784.6L577.8,1797.1M605.7,1784.6L627.2,1789.4M605.7,1784.6L616.6,1813.8M605.7,1784.6L575.9,1772.9M605.7,1784.6L570.0,1785.3M480.0,1798.2L447.4,1806.3M480.0,1798.2L501.4,1806.0M480.0,1798.2L478.7,1811.0M491.3,1797.5L501.4,1806.0M491.3,1797.5L471.2,1767.1M491.3,1797.5L491.3,1771.4M577.8,1797.1L560.7,1802.4M577.8,1797.1L601.4,1768.0M577.8,1797.1L570.0,1785.3M577.8,1797.1L554.0,1821.1M577.8,1797.1L576.2,1832.1M577.8,1797.1L592.5,1831.6M610.7,1795.9L577.8,1814.2M627.2,1789.4L616.6,1813.8M627.2,1789.4L601.4,1768.0M627.2,1789.4L648.4,1813.4M545.5,1799.5L525.8,1771.1M545.5,1799.5L561.5,1774.5M545.5,1799.5L522.7,1782.4M545.5,1799.5L533.1,1790.8M545.5,1799.5L532.8,1801.0M545.5,1799.5L564.6,1821.1M545.5,1799.5L530.7,1833.9M560.7,1802.4L561.5,1774.5M560.7,1802.4L533.1,1790.8M560.7,1802.4L570.0,1785.3M560.7,1802.4L532.8,1801.0M560.7,1802.4L577.8,1814.2M560.7,1802.4L576.2,1832.1M447.4,1806.3L429.5,1809.9M447.4,1806.3L469.4,1838.3M447.4,1806.3L422.5,1779.5M447.4,1806.3L458.2,1832.9M458.5,1804.9L469.4,1838.3M458.5,1804.9L443.2,1780.3M458.5,1804.9L458.2,1832.9M429.5,1809.9L443.2,1780.3M429.5,1809.9L436.0,1799.3M501.4,1806.0L489.6,1817.6M501.4,1806.0L491.3,1771.4M501.4,1806.0L515.2,1770.6M501.4,1806.0L522.7,1782.4M501.4,1806.0L533.1,1790.8M478.7,1811.0L489.6,1817.6M478.7,1811.0L510.6,1824.6M478.7,1811.0L480.3,1845.3M478.7,1811.0L488.5,1786.1M489.6,1817.6L510.6,1824.6M489.6,1817.6L480.3,1845.3M489.6,1817.6L505.6,1849.9M489.6,1817.6L488.5,1786.1M616.6,1813.8L577.8,1814.2M616.6,1813.8L648.4,1813.4M529.7,1817.6L554.0,1821.1M529.7,1817.6L564.6,1821.1M529.7,1817.6L543.9,1831.1M529.7,1817.6L530.7,1833.9M433.4,1822.8L432.7,1783.8M433.4,1822.8L440.4,1856.8M510.6,1824.6L480.3,1845.3M510.6,1824.6L505.6,1849.9M510.6,1824.6L543.9,1831.1M510.6,1824.6L540.8,1849.9M607.8,1829.8L576.2,1832.1M469.4,1838.3L480.3,1845.3M469.4,1838.3L453.3,1850.6M469.4,1838.3L459.0,1870.9M469.4,1838.3L440.4,1856.8M469.4,1838.3L474.5,1867.3M480.3,1845.3L453.3,1850.6M480.3,1845.3L505.6,1849.9M480.3,1845.3L464.0,1857.2M480.3,1845.3L459.0,1870.9M480.3,1845.3L487.4,1883.3M480.3,1845.3L474.5,1867.3M480.3,1845.3L492.4,1872.8M480.3,1845.3L472.5,1880.5M453.3,1850.6L440.4,1856.8M453.3,1850.6L484.9,1858.0M453.3,1850.6L472.5,1880.5M505.6,1849.9L530.7,1833.9M505.6,1849.9L540.8,1849.9M505.6,1849.9L484.9,1858.0M505.6,1849.9L474.5,1867.3M464.0,1857.2L440.4,1856.8M464.0,1857.2L474.5,1867.3M464.0,1857.2L438.4,1882.1M464.0,1857.2L471.0,1894.2M464.0,1857.2L458.2,1832.9M447.0,1872.0L459.0,1870.9M447.0,1872.0L461.3,1881.8M447.0,1872.0L463.7,1907.2M459.0,1870.9L440.4,1856.8M459.0,1870.9L474.5,1867.3M459.0,1870.9L492.4,1872.8M459.0,1870.9L472.5,1880.5M459.0,1870.9L458.2,1832.9M461.3,1881.8L487.4,1883.3M461.3,1881.8L440.4,1856.8M461.3,1881.8L492.4,1872.8M487.4,1883.3L474.5,1867.3M487.4,1883.3L492.4,1872.8M487.4,1883.3L515.7,1889.5M487.4,1883.3L502.2,1917.0M463.7,1907.2L472.5,1880.5M423.8,1766.7L422.5,1779.5M423.8,1766.7L432.7,1783.8M423.8,1766.7L443.2,1780.3M471.2,1767.1L443.2,1780.3M491.3,1771.4L525.8,1771.1M491.3,1771.4L488.5,1786.1M515.2,1770.6L488.5,1786.1M515.2,1770.6L522.7,1782.4M525.8,1771.1L561.5,1774.5M525.8,1771.1L532.8,1801.0M525.8,1771.1L535.9,1778.8M561.5,1774.5L575.9,1772.9M561.5,1774.5L533.1,1790.8M432.7,1783.8L436.0,1799.3M488.5,1786.1L522.7,1782.4M522.7,1782.4L532.8,1801.0M533.1,1790.8L554.0,1821.1M533.1,1790.8L535.9,1778.8M570.0,1785.3L577.8,1814.2M570.0,1785.3L535.9,1778.8M532.8,1801.0L554.0,1821.1M532.8,1801.0L564.6,1821.1M577.8,1814.2L554.0,1821.1M577.8,1814.2L592.5,1831.6M554.0,1821.1L543.9,1831.1M554.0,1821.1L576.2,1832.1M554.0,1821.1L592.5,1831.6M564.6,1821.1L592.5,1831.6M564.6,1821.1L540.8,1849.9M543.9,1831.1L530.7,1833.9M543.9,1831.1L540.8,1849.9M543.9,1831.1L566.5,1849.8M530.7,1833.9L540.8,1849.9M530.7,1833.9L566.5,1849.8M530.7,1833.9L516.1,1864.7M576.2,1832.1L566.5,1849.8M540.8,1849.9L516.1,1864.7M440.4,1856.8L438.4,1882.1M440.4,1856.8L458.2,1832.9M484.9,1858.0L474.5,1867.3M484.9,1858.0L492.4,1872.8M484.9,1858.0L458.2,1832.9M474.5,1867.3L472.5,1880.5M516.1,1864.7L515.7,1889.5M438.4,1882.1L472.5,1880.5M438.4,1882.1L471.0,1894.2M472.5,1880.5L471.0,1894.2M471.0,1894.2L502.2,1917.0M201.2,1615.9L189.7,1640.9M189.7,1640.9L227.0,1644.5M201.2,1615.9L227.0,1644.5M227.0,1644.5L267.5,1640.1M227.0,1644.5L257.8,1680.0M245.4,1610.7L267.5,1640.1M267.5,1640.1L302.0,1629.3M281.3,1631.0L302.0,1629.3M324.1,1619.6L357.0,1621.6M350.6,1547.0L352.6,1581.7M352.6,1581.7L357.0,1621.6M396.5,1597.8L399.4,1629.3M399.4,1629.3L368.7,1665.8M324.1,1619.6L329.6,1653.2M357.0,1621.6L368.7,1665.8M357.0,1621.6L384.2,1655.1M267.5,1640.1L313.9,1647.8M267.5,1640.1L286.4,1657.5M267.5,1640.1L257.8,1680.0M286.4,1657.5L257.8,1680.0M281.3,1631.0L286.4,1657.5M281.3,1631.0L313.9,1647.8M281.3,1631.0L305.2,1667.0M302.0,1629.3L286.4,1657.5M302.0,1629.3L305.2,1667.0M302.0,1629.3L313.9,1647.8M302.0,1629.3L329.6,1653.2M313.9,1647.8L286.4,1657.5M313.9,1647.8L305.2,1667.0M329.6,1653.2L305.2,1667.0M286.4,1657.5L305.2,1667.0M305.2,1667.0L338.1,1679.3M329.6,1653.2L354.9,1690.6M338.1,1679.3L354.9,1690.6M257.8,1680.0L273.3,1695.7M257.8,1680.0L273.6,1706.4M298.4,1691.9L310.7,1722.8M314.2,1701.3L273.3,1695.7M314.2,1701.3L354.9,1690.6M220.7,1713.0L251.9,1707.2M220.7,1713.0L240.0,1721.7M310.7,1722.8L354.9,1690.6M311.7,1739.1L310.7,1722.8M354.9,1690.6L379.9,1685.8M450.5,1575.5L438.8,1613.9M438.8,1613.9L436.0,1630.9M438.8,1613.9L454.7,1636.4M436.0,1630.9L400.8,1629.1M436.0,1630.9L456.7,1653.4M454.7,1636.4L456.7,1653.4M454.7,1636.4L438.8,1667.9M507.1,1636.1L491.9,1674.1M480.0,1642.9L475.6,1694.6M495.0,1653.1L487.4,1694.1M523.1,1658.9L491.9,1674.1M523.1,1658.9L530.7,1674.1M523.1,1658.9L502.5,1683.7M523.1,1658.9L525.8,1685.3M530.7,1674.1L545.2,1689.2M525.8,1685.3L545.2,1689.2M502.5,1683.7L525.8,1685.3M565.1,1706.2L600.8,1707.5M540.5,1720.5L565.1,1706.2M559.6,1748.6L606.5,1733.4M577.0,1734.5L612.7,1723.0M556.4,1737.8L577.0,1734.5M156.7,1943.2L180.3,1962.8M180.3,1962.8L151.6,1973.3M156.7,1943.2L151.6,1973.3M209.6,1948.7L239.3,1942.5M146.8,1779.4L186.7,1779.9M146.8,1779.4L167.5,1790.4M146.8,1779.4L161.0,1809.9M186.7,1779.9L167.5,1790.4M186.7,1779.9L200.9,1799.1M186.7,1779.9L184.9,1815.8M167.5,1790.4L200.9,1799.1M167.5,1790.4L161.0,1809.9M167.5,1790.4L184.9,1815.8M161.0,1809.9L200.9,1799.1M161.0,1809.9L184.9,1815.8M186.7,1779.9L231.3,1769.3M200.9,1799.1L231.3,1769.3M231.3,1769.3L286.4,1755.9M238.3,1789.3L258.8,1754.1M326.2,1765.8L327.4,1791.2M307.8,1769.7L327.4,1791.2M327.4,1791.2L378.0,1796.1M326.2,1765.8L378.0,1796.1M307.8,1769.7L311.7,1740.0M326.2,1765.8L311.7,1740.0M307.8,1769.7L326.2,1765.8M363.2,1834.2L384.6,1802.0M378.7,1840.0L384.6,1802.0M363.2,1834.2L397.5,1814.3M378.7,1840.0L404.1,1824.8M412.2,1889.0L422.6,1879.1M299.4,1753.0L361.7,1745.1M351.3,1755.7L361.7,1750.9M421.7,1918.1L438.4,1882.1M412.1,1889.1L440.4,1856.8M463.7,1907.2L461.3,1881.8M463.7,1907.2L471.0,1894.2M502.2,1917.0L487.4,1883.3M502.2,1917.0L515.7,1889.5M515.7,1889.5L540.8,1849.9M515.7,1889.5L471.0,1894.2M515.7,1889.5L487.4,1883.3M535.6,1882.9L505.6,1849.9M516.1,1864.7L505.6,1849.9M573.4,1860.0L540.8,1849.9M573.4,1860.0L566.5,1849.8M540.8,1849.9L566.5,1849.8M540.8,1849.9L543.9,1831.1M540.8,1849.9L576.2,1832.1M566.5,1849.8L576.2,1832.1M566.5,1849.8L554.0,1821.1M592.5,1831.6L576.2,1832.1M592.5,1831.6L627.2,1789.4M648.4,1813.4L610.7,1795.9M648.4,1813.4L577.8,1797.1M607.8,1829.8L610.7,1795.9M607.8,1829.8L577.8,1797.1M616.6,1813.8L577.8,1797.1M627.2,1789.4L632.5,1740.5M601.4,1768.0L575.9,1772.9M605.7,1784.6L570.0,1785.3M605.7,1784.6L577.8,1797.1M418.6,1842.0L458.2,1832.9M418.6,1842.0L414.4,1820.3M458.2,1832.9L447.4,1806.3M458.2,1832.9L469.4,1838.3M440.4,1856.8L458.2,1832.9M447.0,1872.0L440.4,1856.8M510.6,1824.6L489.6,1817.6M489.6,1817.6L469.4,1838.3M447.4,1806.3L441.9,1858.0" fill="none" stroke="#cccccc" stroke-width="0.8"/>
<path d="M347.5,1547.0a3.1,3.1 0 1,0 6.2,0a3.1,3.1 0 1,0 -6.2,0M349.5,1581.7a3.1,3.1 0 1,0 6.2,0a3.1,3.1 0 1,0 -6.2,0M242.3,1610.7a3.1,3.1 0 1,0 6.2,0a3.1,3.1 0 1,0 -6.2,0M321.0,1619.6a3.1,3.1 0 1,0 6.2,0a3.1,3.1 0 1,0 -6.2,0M353.9,1621.6a3.1,3.1 0 1,0 6.2,0a3.1,3.1 0 1,0 -6.2,0M278.2,1631.0a3.1,3.1 0 1,0 6.2,0a3.1,3.1 0 1,0 -6.2,0M397.0,1629.2a3.1,3.1 0 1,0 6.2,0a3.1,3.1 0 1,0 -6.2,0M310.8,1647.8a3.1,3.1 0 1,0 6.2,0a3.1,3.1 0 1,0 -6.2,0M326.5,1653.2a3.1,3.1 0 1,0 6.2,0a3.1,3.1 0 1,0 -6.2,0M283.3,1657.5a3.1,3.1 0 1,0 6.2,0a3.1,3.1 0 1,0 -6.2,0M381.1,1655.1a3.1,3.1 0 1,0 6.2,0a3.1,3.1 0 1,0 -6.2,0M399.4,1654.7a3.1,3.1 0 1,0 6.2,0a3.1,3.1 0 1,0 -6.2,0M415.7,1658.8a3.1,3.1 0 1,0 6.2,0a3.1,3.1 0 1,0 -6.2,0M365.6,1665.8a3.1,3.1 0 1,0 6.2,0a3.1,3.1 0 1,0 -6.2,0M302.1,1667.0a3.1,3.1 0 1,0 6.2,0a3.1,3.1 0 1,0 -6.2,0M254.7,1680.0a3.1,3.1 0 1,0 6.2,0a3.1,3.1 0 1,0 -6.2,0M381.2,1674.8a3.1,3.1 0 1,0 6.2,0a3.1,3.1 0 1,0 -6.2,0M399.1,1676.8a3.1,3.1 0 1,0 6.2,0a3.1,3.1 0 1,0 -6.2,0M409.6,1679.2a3.1,3.1 0 1,0 6.2,0a3.1,3.1 0 1,0 -6.2,0M335.0,1679.4a3.1,3.1 0 1,0 6.2,0a3.1,3.1 0 1,0 -6.2,0M388.7,1687.0a3.1,3.1 0 1,0 6.2,0a3.1,3.1 0 1,0 -6.2,0M407.4,1690.7a3.1,3.1 0 1,0 6.2,0a3.1,3.1 0 1,0 -6.2,0M270.2,1695.7a3.1,3.1 0 1,0 6.2,0a3.1,3.1 0 1,0 -6.2,0M375.4,1701.0a3.1,3.1 0 1,0 6.2,0a3.1,3.1 0 1,0 -6.2,0M270.5,1706.4a3.1,3.1 0 1,0 6.2,0a3.1,3.1 0 1,0 -6.2,0M410.5,1704.3a3.1,3.1 0 1,0 6.2,0a3.1,3.1 0 1,0 -6.2,0M370.6,1711.6a3.1,3.1 0 1,0 6.2,0a3.1,3.1 0 1,0 -6.2,0M389.6,1715.1a3.1,3.1 0 1,0 6.2,0a3.1,3.1 0 1,0 -6.2,0M402.4,1718.0a3.1,3.1 0 1,0 6.2,0a3.1,3.1 0 1,0 -6.2,0M252.4,1718.4a3.1,3.1 0 1,0 6.2,0a3.1,3.1 0 1,0 -6.2,0M307.6,1722.8a3.1,3.1 0 1,0 6.2,0a3.1,3.1 0 1,0 -6.2,0M354.0,1722.8a3.1,3.1 0 1,0 6.2,0a3.1,3.1 0 1,0 -6.2,0M379.0,1724.5a3.1,3.1 0 1,0 6.2,0a3.1,3.1 0 1,0 -6.2,0M390.0,1725.7a3.1,3.1 0 1,0 6.2,0a3.1,3.1 0 1,0 -6.2,0M281.5,1725.9a3.1,3.1 0 1,0 6.2,0a3.1,3.1 0 1,0 -6.2,0M388.4,1736.6a3.1,3.1 0 1,0 6.2,0a3.1,3.1 0 1,0 -6.2,0M410.7,1743.8a3.1,3.1 0 1,0 6.2,0a3.1,3.1 0 1,0 -6.2,0M358.4,1750.8a3.1,3.1 0 1,0 6.2,0a3.1,3.1 0 1,0 -6.2,0M296.3,1753.1a3.1,3.1 0 1,0 6.2,0a3.1,3.1 0 1,0 -6.2,0M368.7,1756.6a3.1,3.1 0 1,0 6.2,0a3.1,3.1 0 1,0 -6.2,0M379.2,1757.4a3.1,3.1 0 1,0 6.2,0a3.1,3.1 0 1,0 -6.2,0M389.8,1758.9a3.1,3.1 0 1,0 6.2,0a3.1,3.1 0 1,0 -6.2,0M410.5,1753.9a3.1,3.1 0 1,0 6.2,0a3.1,3.1 0 1,0 -6.2,0M447.4,1575.5a3.1,3.1 0 1,0 6.2,0a3.1,3.1 0 1,0 -6.2,0M476.9,1642.9a3.1,3.1 0 1,0 6.2,0a3.1,3.1 0 1,0 -6.2,0M435.7,1667.9a3.1,3.1 0 1,0 6.2,0a3.1,3.1 0 1,0 -6.2,0M435.8,1681.9a3.1,3.1 0 1,0 6.2,0a3.1,3.1 0 1,0 -6.2,0M446.7,1686.6a3.1,3.1 0 1,0 6.2,0a3.1,3.1 0 1,0 -6.2,0M421.2,1696.7a3.1,3.1 0 1,0 6.2,0a3.1,3.1 0 1,0 -6.2,0M437.0,1699.1a3.1,3.1 0 1,0 6.2,0a3.1,3.1 0 1,0 -6.2,0M472.7,1694.6a3.1,3.1 0 1,0 6.2,0a3.1,3.1 0 1,0 -6.2,0M499.4,1683.7a3.1,3.1 0 1,0 6.2,0a3.1,3.1 0 1,0 -6.2,0M527.6,1674.1a3.1,3.1 0 1,0 6.2,0a3.1,3.1 0 1,0 -6.2,0M443.1,1709.8a3.1,3.1 0 1,0 6.2,0a3.1,3.1 0 1,0 -6.2,0M500.9,1709.3a3.1,3.1 0 1,0 6.2,0a3.1,3.1 0 1,0 -6.2,0M523.9,1706.7a3.1,3.1 0 1,0 6.2,0a3.1,3.1 0 1,0 -6.2,0M418.9,1715.6a3.1,3.1 0 1,0 6.2,0a3.1,3.1 0 1,0 -6.2,0M456.3,1725.2a3.1,3.1 0 1,0 6.2,0a3.1,3.1 0 1,0 -6.2,0M466.8,1724.7a3.1,3.1 0 1,0 6.2,0a3.1,3.1 0 1,0 -6.2,0M503.3,1724.4a3.1,3.1 0 1,0 6.2,0a3.1,3.1 0 1,0 -6.2,0M434.5,1729.3a3.1,3.1 0 1,0 6.2,0a3.1,3.1 0 1,0 -6.2,0M526.1,1730.8a3.1,3.1 0 1,0 6.2,0a3.1,3.1 0 1,0 -6.2,0M421.2,1736.6a3.1,3.1 0 1,0 6.2,0a3.1,3.1 0 1,0 -6.2,0M431.4,1742.2a3.1,3.1 0 1,0 6.2,0a3.1,3.1 0 1,0 -6.2,0M442.0,1740.6a3.1,3.1 0 1,0 6.2,0a3.1,3.1 0 1,0 -6.2,0M503.7,1748.2a3.1,3.1 0 1,0 6.2,0a3.1,3.1 0 1,0 -6.2,0M556.5,1748.7a3.1,3.1 0 1,0 6.2,0a3.1,3.1 0 1,0 -6.2,0M445.4,1757.9a3.1,3.1 0 1,0 6.2,0a3.1,3.1 0 1,0 -6.2,0M457.5,1757.7a3.1,3.1 0 1,0 6.2,0a3.1,3.1 0 1,0 -6.2,0M468.4,1756.7a3.1,3.1 0 1,0 6.2,0a3.1,3.1 0 1,0 -6.2,0M478.7,1757.7a3.1,3.1 0 1,0 6.2,0a3.1,3.1 0 1,0 -6.2,0M516.0,1758.3a3.1,3.1 0 1,0 6.2,0a3.1,3.1 0 1,0 -6.2,0M533.5,1758.8a3.1,3.1 0 1,0 6.2,0a3.1,3.1 0 1,0 -6.2,0M613.8,1669.8a3.1,3.1 0 1,0 6.2,0a3.1,3.1 0 1,0 -6.2,0M650.5,1671.8a3.1,3.1 0 1,0 6.2,0a3.1,3.1 0 1,0 -6.2,0M682.6,1684.8a3.1,3.1 0 1,0 6.2,0a3.1,3.1 0 1,0 -6.2,0M620.0,1695.7a3.1,3.1 0 1,0 6.2,0a3.1,3.1 0 1,0 -6.2,0M649.5,1703.9a3.1,3.1 0 1,0 6.2,0a3.1,3.1 0 1,0 -6.2,0M687.6,1707.5a3.1,3.1 0 1,0 6.2,0a3.1,3.1 0 1,0 -6.2,0M638.4,1728.3a3.1,3.1 0 1,0 6.2,0a3.1,3.1 0 1,0 -6.2,0M603.4,1733.4a3.1,3.1 0 1,0 6.2,0a3.1,3.1 0 1,0 -6.2,0M629.4,1739.2a3.1,3.1 0 1,0 6.2,0a3.1,3.1 0 1,0 -6.2,0M228.2,1769.3a3.1,3.1 0 1,0 6.2,0a3.1,3.1 0 1,0 -6.2,0M143.7,1779.4a3.1,3.1 0 1,0 6.2,0a3.1,3.1 0 1,0 -6.2,0M183.6,1779.9a3.1,3.1 0 1,0 6.2,0a3.1,3.1 0 1,0 -6.2,0M164.4,1790.4a3.1,3.1 0 1,0 6.2,0a3.1,3.1 0 1,0 -6.2,0M197.8,1799.1a3.1,3.1 0 1,0 6.2,0a3.1,3.1 0 1,0 -6.2,0M181.8,1815.8a3.1,3.1 0 1,0 6.2,0a3.1,3.1 0 1,0 -6.2,0M235.2,1789.3a3.1,3.1 0 1,0 6.2,0a3.1,3.1 0 1,0 -6.2,0M371.9,1768.1a3.1,3.1 0 1,0 6.2,0a3.1,3.1 0 1,0 -6.2,0M360.1,1834.2a3.1,3.1 0 1,0 6.2,0a3.1,3.1 0 1,0 -6.2,0M375.6,1840.0a3.1,3.1 0 1,0 6.2,0a3.1,3.1 0 1,0 -6.2,0M431.3,1764.4a3.1,3.1 0 1,0 6.2,0a3.1,3.1 0 1,0 -6.2,0M450.3,1769.6a3.1,3.1 0 1,0 6.2,0a3.1,3.1 0 1,0 -6.2,0M498.3,1775.7a3.1,3.1 0 1,0 6.2,0a3.1,3.1 0 1,0 -6.2,0M544.9,1771.1a3.1,3.1 0 1,0 6.2,0a3.1,3.1 0 1,0 -6.2,0M468.3,1785.9a3.1,3.1 0 1,0 6.2,0a3.1,3.1 0 1,0 -6.2,0M504.0,1787.7a3.1,3.1 0 1,0 6.2,0a3.1,3.1 0 1,0 -6.2,0M450.3,1790.5a3.1,3.1 0 1,0 6.2,0a3.1,3.1 0 1,0 -6.2,0M550.6,1785.5a3.1,3.1 0 1,0 6.2,0a3.1,3.1 0 1,0 -6.2,0M602.6,1784.6a3.1,3.1 0 1,0 6.2,0a3.1,3.1 0 1,0 -6.2,0M476.9,1798.2a3.1,3.1 0 1,0 6.2,0a3.1,3.1 0 1,0 -6.2,0M488.2,1797.5a3.1,3.1 0 1,0 6.2,0a3.1,3.1 0 1,0 -6.2,0M574.7,1797.1a3.1,3.1 0 1,0 6.2,0a3.1,3.1 0 1,0 -6.2,0M607.6,1795.9a3.1,3.1 0 1,0 6.2,0a3.1,3.1 0 1,0 -6.2,0M624.1,1789.4a3.1,3.1 0 1,0 6.2,0a3.1,3.1 0 1,0 -6.2,0M542.4,1799.5a3.1,3.1 0 1,0 6.2,0a3.1,3.1 0 1,0 -6.2,0M557.6,1802.4a3.1,3.1 0 1,0 6.2,0a3.1,3.1 0 1,0 -6.2,0M444.3,1806.3a3.1,3.1 0 1,0 6.2,0a3.1,3.1 0 1,0 -6.2,0M455.4,1804.9a3.1,3.1 0 1,0 6.2,0a3.1,3.1 0 1,0 -6.2,0M426.4,1809.9a3.1,3.1 0 1,0 6.2,0a3.1,3.1 0 1,0 -6.2,0M498.3,1806.0a3.1,3.1 0 1,0 6.2,0a3.1,3.1 0 1,0 -6.2,0M475.6,1811.0a3.1,3.1 0 1,0 6.2,0a3.1,3.1 0 1,0 -6.2,0M486.5,1817.6a3.1,3.1 0 1,0 6.2,0a3.1,3.1 0 1,0 -6.2,0M613.5,1813.8a3.1,3.1 0 1,0 6.2,0a3.1,3.1 0 1,0 -6.2,0M526.6,1817.6a3.1,3.1 0 1,0 6.2,0a3.1,3.1 0 1,0 -6.2,0M430.3,1822.8a3.1,3.1 0 1,0 6.2,0a3.1,3.1 0 1,0 -6.2,0M507.5,1824.6a3.1,3.1 0 1,0 6.2,0a3.1,3.1 0 1,0 -6.2,0M604.7,1829.8a3.1,3.1 0 1,0 6.2,0a3.1,3.1 0 1,0 -6.2,0M466.3,1838.3a3.1,3.1 0 1,0 6.2,0a3.1,3.1 0 1,0 -6.2,0M477.2,1845.3a3.1,3.1 0 1,0 6.2,0a3.1,3.1 0 1,0 -6.2,0M450.2,1850.6a3.1,3.1 0 1,0 6.2,0a3.1,3.1 0 1,0 -6.2,0M502.5,1849.9a3.1,3.1 0 1,0 6.2,0a3.1,3.1 0 1,0 -6.2,0M460.9,1857.2a3.1,3.1 0 1,0 6.2,0a3.1,3.1 0 1,0 -6.2,0M570.3,1860.0a3.1,3.1 0 1,0 6.2,0a3.1,3.1 0 1,0 -6.2,0M443.9,1872.0a3.1,3.1 0 1,0 6.2,0a3.1,3.1 0 1,0 -6.2,0M455.9,1870.9a3.1,3.1 0 1,0 6.2,0a3.1,3.1 0 1,0 -6.2,0M458.2,1881.8a3.1,3.1 0 1,0 6.2,0a3.1,3.1 0 1,0 -6.2,0M484.3,1883.3a3.1,3.1 0 1,0 6.2,0a3.1,3.1 0 1,0 -6.2,0M532.5,1882.9a3.1,3.1 0 1,0 6.2,0a3.1,3.1 0 1,0 -6.2,0M460.6,1907.2a3.1,3.1 0 1,0 6.2,0a3.1,3.1 0 1,0 -6.2,0M418.6,1918.1a3.1,3.1 0 1,0 6.2,0a3.1,3.1 0 1,0 -6.2,0" fill="#b41c2d"/>
<path d="M198.1,1615.9a3.1,3.1 0 1,0 6.2,0a3.1,3.1 0 1,0 -6.2,0M186.6,1640.9a3.1,3.1 0 1,0 6.2,0a3.1,3.1 0 1,0 -6.2,0M223.9,1644.5a3.1,3.1 0 1,0 6.2,0a3.1,3.1 0 1,0 -6.2,0M264.4,1640.1a3.1,3.1 0 1,0 6.2,0a3.1,3.1 0 1,0 -6.2,0M298.9,1629.3a3.1,3.1 0 1,0 6.2,0a3.1,3.1 0 1,0 -6.2,0M393.4,1597.8a3.1,3.1 0 1,0 6.2,0a3.1,3.1 0 1,0 -6.2,0M295.3,1691.9a3.1,3.1 0 1,0 6.2,0a3.1,3.1 0 1,0 -6.2,0M351.9,1690.7a3.1,3.1 0 1,0 6.2,0a3.1,3.1 0 1,0 -6.2,0M376.9,1685.9a3.1,3.1 0 1,0 6.2,0a3.1,3.1 0 1,0 -6.2,0M311.1,1701.3a3.1,3.1 0 1,0 6.2,0a3.1,3.1 0 1,0 -6.2,0M248.8,1707.2a3.1,3.1 0 1,0 6.2,0a3.1,3.1 0 1,0 -6.2,0M217.6,1713.0a3.1,3.1 0 1,0 6.2,0a3.1,3.1 0 1,0 -6.2,0M281.8,1715.1a3.1,3.1 0 1,0 6.2,0a3.1,3.1 0 1,0 -6.2,0M236.9,1721.7a3.1,3.1 0 1,0 6.2,0a3.1,3.1 0 1,0 -6.2,0M400.3,1705.4a3.1,3.1 0 1,0 6.2,0a3.1,3.1 0 1,0 -6.2,0M247.3,1729.3a3.1,3.1 0 1,0 6.2,0a3.1,3.1 0 1,0 -6.2,0M259.8,1731.0a3.1,3.1 0 1,0 6.2,0a3.1,3.1 0 1,0 -6.2,0M270.2,1725.9a3.1,3.1 0 1,0 6.2,0a3.1,3.1 0 1,0 -6.2,0M292.0,1728.1a3.1,3.1 0 1,0 6.2,0a3.1,3.1 0 1,0 -6.2,0M283.6,1739.3a3.1,3.1 0 1,0 6.2,0a3.1,3.1 0 1,0 -6.2,0M308.6,1739.6a3.1,3.1 0 1,0 6.2,0a3.1,3.1 0 1,0 -6.2,0M400.7,1734.9a3.1,3.1 0 1,0 6.2,0a3.1,3.1 0 1,0 -6.2,0M256.5,1743.8a3.1,3.1 0 1,0 6.2,0a3.1,3.1 0 1,0 -6.2,0M269.2,1745.0a3.1,3.1 0 1,0 6.2,0a3.1,3.1 0 1,0 -6.2,0M279.7,1750.1a3.1,3.1 0 1,0 6.2,0a3.1,3.1 0 1,0 -6.2,0M255.7,1754.0a3.1,3.1 0 1,0 6.2,0a3.1,3.1 0 1,0 -6.2,0M371.7,1742.2a3.1,3.1 0 1,0 6.2,0a3.1,3.1 0 1,0 -6.2,0M384.8,1747.0a3.1,3.1 0 1,0 6.2,0a3.1,3.1 0 1,0 -6.2,0M397.6,1748.1a3.1,3.1 0 1,0 6.2,0a3.1,3.1 0 1,0 -6.2,0M348.1,1755.7a3.1,3.1 0 1,0 6.2,0a3.1,3.1 0 1,0 -6.2,0M400.4,1758.3a3.1,3.1 0 1,0 6.2,0a3.1,3.1 0 1,0 -6.2,0M435.7,1613.9a3.1,3.1 0 1,0 6.2,0a3.1,3.1 0 1,0 -6.2,0M432.9,1630.9a3.1,3.1 0 1,0 6.2,0a3.1,3.1 0 1,0 -6.2,0M451.6,1636.4a3.1,3.1 0 1,0 6.2,0a3.1,3.1 0 1,0 -6.2,0M453.6,1653.4a3.1,3.1 0 1,0 6.2,0a3.1,3.1 0 1,0 -6.2,0M504.0,1636.1a3.1,3.1 0 1,0 6.2,0a3.1,3.1 0 1,0 -6.2,0M491.9,1653.1a3.1,3.1 0 1,0 6.2,0a3.1,3.1 0 1,0 -6.2,0M488.8,1674.1a3.1,3.1 0 1,0 6.2,0a3.1,3.1 0 1,0 -6.2,0M457.4,1689.8a3.1,3.1 0 1,0 6.2,0a3.1,3.1 0 1,0 -6.2,0M484.3,1694.1a3.1,3.1 0 1,0 6.2,0a3.1,3.1 0 1,0 -6.2,0M522.7,1685.3a3.1,3.1 0 1,0 6.2,0a3.1,3.1 0 1,0 -6.2,0M542.1,1689.2a3.1,3.1 0 1,0 6.2,0a3.1,3.1 0 1,0 -6.2,0M454.4,1703.3a3.1,3.1 0 1,0 6.2,0a3.1,3.1 0 1,0 -6.2,0M476.4,1712.5a3.1,3.1 0 1,0 6.2,0a3.1,3.1 0 1,0 -6.2,0M513.7,1714.0a3.1,3.1 0 1,0 6.2,0a3.1,3.1 0 1,0 -6.2,0M537.4,1720.5a3.1,3.1 0 1,0 6.2,0a3.1,3.1 0 1,0 -6.2,0M562.0,1706.2a3.1,3.1 0 1,0 6.2,0a3.1,3.1 0 1,0 -6.2,0M493.2,1728.8a3.1,3.1 0 1,0 6.2,0a3.1,3.1 0 1,0 -6.2,0M452.4,1737.1a3.1,3.1 0 1,0 6.2,0a3.1,3.1 0 1,0 -6.2,0M471.9,1736.0a3.1,3.1 0 1,0 6.2,0a3.1,3.1 0 1,0 -6.2,0M514.1,1734.2a3.1,3.1 0 1,0 6.2,0a3.1,3.1 0 1,0 -6.2,0M573.9,1734.5a3.1,3.1 0 1,0 6.2,0a3.1,3.1 0 1,0 -6.2,0M553.3,1737.8a3.1,3.1 0 1,0 6.2,0a3.1,3.1 0 1,0 -6.2,0M422.5,1752.5a3.1,3.1 0 1,0 6.2,0a3.1,3.1 0 1,0 -6.2,0M434.9,1753.5a3.1,3.1 0 1,0 6.2,0a3.1,3.1 0 1,0 -6.2,0M521.1,1748.0a3.1,3.1 0 1,0 6.2,0a3.1,3.1 0 1,0 -6.2,0M533.5,1748.6a3.1,3.1 0 1,0 6.2,0a3.1,3.1 0 1,0 -6.2,0M498.6,1758.8a3.1,3.1 0 1,0 6.2,0a3.1,3.1 0 1,0 -6.2,0M597.7,1707.5a3.1,3.1 0 1,0 6.2,0a3.1,3.1 0 1,0 -6.2,0M624.1,1714.3a3.1,3.1 0 1,0 6.2,0a3.1,3.1 0 1,0 -6.2,0M639.1,1714.0a3.1,3.1 0 1,0 6.2,0a3.1,3.1 0 1,0 -6.2,0M609.6,1723.0a3.1,3.1 0 1,0 6.2,0a3.1,3.1 0 1,0 -6.2,0M662.9,1722.1a3.1,3.1 0 1,0 6.2,0a3.1,3.1 0 1,0 -6.2,0M323.1,1765.8a3.1,3.1 0 1,0 6.2,0a3.1,3.1 0 1,0 -6.2,0M304.7,1769.7a3.1,3.1 0 1,0 6.2,0a3.1,3.1 0 1,0 -6.2,0M324.3,1791.2a3.1,3.1 0 1,0 6.2,0a3.1,3.1 0 1,0 -6.2,0M157.9,1809.9a3.1,3.1 0 1,0 6.2,0a3.1,3.1 0 1,0 -6.2,0M358.6,1769.2a3.1,3.1 0 1,0 6.2,0a3.1,3.1 0 1,0 -6.2,0M390.8,1769.7a3.1,3.1 0 1,0 6.2,0a3.1,3.1 0 1,0 -6.2,0M410.1,1769.0a3.1,3.1 0 1,0 6.2,0a3.1,3.1 0 1,0 -6.2,0M367.9,1779.6a3.1,3.1 0 1,0 6.2,0a3.1,3.1 0 1,0 -6.2,0M379.3,1779.6a3.1,3.1 0 1,0 6.2,0a3.1,3.1 0 1,0 -6.2,0M390.1,1780.2a3.1,3.1 0 1,0 6.2,0a3.1,3.1 0 1,0 -6.2,0M401.3,1782.5a3.1,3.1 0 1,0 6.2,0a3.1,3.1 0 1,0 -6.2,0M389.9,1790.6a3.1,3.1 0 1,0 6.2,0a3.1,3.1 0 1,0 -6.2,0M415.3,1789.8a3.1,3.1 0 1,0 6.2,0a3.1,3.1 0 1,0 -6.2,0M374.8,1796.1a3.1,3.1 0 1,0 6.2,0a3.1,3.1 0 1,0 -6.2,0M381.5,1802.0a3.1,3.1 0 1,0 6.2,0a3.1,3.1 0 1,0 -6.2,0M412.6,1802.4a3.1,3.1 0 1,0 6.2,0a3.1,3.1 0 1,0 -6.2,0M394.4,1814.3a3.1,3.1 0 1,0 6.2,0a3.1,3.1 0 1,0 -6.2,0M400.9,1824.7a3.1,3.1 0 1,0 6.2,0a3.1,3.1 0 1,0 -6.2,0M411.4,1820.4a3.1,3.1 0 1,0 6.2,0a3.1,3.1 0 1,0 -6.2,0M415.2,1842.1a3.1,3.1 0 1,0 6.2,0a3.1,3.1 0 1,0 -6.2,0M409.0,1889.0a3.1,3.1 0 1,0 6.2,0a3.1,3.1 0 1,0 -6.2,0M153.6,1943.2a3.1,3.1 0 1,0 6.2,0a3.1,3.1 0 1,0 -6.2,0M177.2,1962.8a3.1,3.1 0 1,0 6.2,0a3.1,3.1 0 1,0 -6.2,0M148.5,1973.3a3.1,3.1 0 1,0 6.2,0a3.1,3.1 0 1,0 -6.2,0M206.5,1948.7a3.1,3.1 0 1,0 6.2,0a3.1,3.1 0 1,0 -6.2,0M420.7,1766.7a3.1,3.1 0 1,0 6.2,0a3.1,3.1 0 1,0 -6.2,0M468.1,1767.1a3.1,3.1 0 1,0 6.2,0a3.1,3.1 0 1,0 -6.2,0M488.2,1771.4a3.1,3.1 0 1,0 6.2,0a3.1,3.1 0 1,0 -6.2,0M512.1,1770.6a3.1,3.1 0 1,0 6.2,0a3.1,3.1 0 1,0 -6.2,0M522.7,1771.1a3.1,3.1 0 1,0 6.2,0a3.1,3.1 0 1,0 -6.2,0M558.4,1774.5a3.1,3.1 0 1,0 6.2,0a3.1,3.1 0 1,0 -6.2,0M572.8,1772.9a3.1,3.1 0 1,0 6.2,0a3.1,3.1 0 1,0 -6.2,0M598.3,1768.0a3.1,3.1 0 1,0 6.2,0a3.1,3.1 0 1,0 -6.2,0M419.4,1779.5a3.1,3.1 0 1,0 6.2,0a3.1,3.1 0 1,0 -6.2,0M429.6,1783.8a3.1,3.1 0 1,0 6.2,0a3.1,3.1 0 1,0 -6.2,0M440.1,1780.3a3.1,3.1 0 1,0 6.2,0a3.1,3.1 0 1,0 -6.2,0M485.4,1786.1a3.1,3.1 0 1,0 6.2,0a3.1,3.1 0 1,0 -6.2,0M519.6,1782.4a3.1,3.1 0 1,0 6.2,0a3.1,3.1 0 1,0 -6.2,0M530.0,1790.8a3.1,3.1 0 1,0 6.2,0a3.1,3.1 0 1,0 -6.2,0M566.9,1785.3a3.1,3.1 0 1,0 6.2,0a3.1,3.1 0 1,0 -6.2,0M432.9,1799.3a3.1,3.1 0 1,0 6.2,0a3.1,3.1 0 1,0 -6.2,0M529.7,1801.0a3.1,3.1 0 1,0 6.2,0a3.1,3.1 0 1,0 -6.2,0M574.7,1814.2a3.1,3.1 0 1,0 6.2,0a3.1,3.1 0 1,0 -6.2,0M550.9,1821.1a3.1,3.1 0 1,0 6.2,0a3.1,3.1 0 1,0 -6.2,0M561.5,1821.1a3.1,3.1 0 1,0 6.2,0a3.1,3.1 0 1,0 -6.2,0M540.8,1831.1a3.1,3.1 0 1,0 6.2,0a3.1,3.1 0 1,0 -6.2,0M527.6,1833.9a3.1,3.1 0 1,0 6.2,0a3.1,3.1 0 1,0 -6.2,0M573.1,1832.1a3.1,3.1 0 1,0 6.2,0a3.1,3.1 0 1,0 -6.2,0M589.4,1831.6a3.1,3.1 0 1,0 6.2,0a3.1,3.1 0 1,0 -6.2,0M645.3,1813.4a3.1,3.1 0 1,0 6.2,0a3.1,3.1 0 1,0 -6.2,0M537.7,1849.9a3.1,3.1 0 1,0 6.2,0a3.1,3.1 0 1,0 -6.2,0M563.4,1849.8a3.1,3.1 0 1,0 6.2,0a3.1,3.1 0 1,0 -6.2,0M437.3,1856.8a3.1,3.1 0 1,0 6.2,0a3.1,3.1 0 1,0 -6.2,0M481.8,1858.0a3.1,3.1 0 1,0 6.2,0a3.1,3.1 0 1,0 -6.2,0M471.4,1867.3a3.1,3.1 0 1,0 6.2,0a3.1,3.1 0 1,0 -6.2,0M489.3,1872.8a3.1,3.1 0 1,0 6.2,0a3.1,3.1 0 1,0 -6.2,0M513.0,1864.7a3.1,3.1 0 1,0 6.2,0a3.1,3.1 0 1,0 -6.2,0M435.3,1882.1a3.1,3.1 0 1,0 6.2,0a3.1,3.1 0 1,0 -6.2,0M469.4,1880.5a3.1,3.1 0 1,0 6.2,0a3.1,3.1 0 1,0 -6.2,0M512.6,1889.5a3.1,3.1 0 1,0 6.2,0a3.1,3.1 0 1,0 -6.2,0M467.9,1894.2a3.1,3.1 0 1,0 6.2,0a3.1,3.1 0 1,0 -6.2,0M499.1,1917.0a3.1,3.1 0 1,0 6.2,0a3.1,3.1 0 1,0 -6.2,0" fill="#2968b1"/>
<path d="M520.0,1658.9a3.1,3.1 0 1,0 6.2,0a3.1,3.1 0 1,0 -6.2,0M638.7,1696.1a3.1,3.1 0 1,0 6.2,0a3.1,3.1 0 1,0 -6.2,0M236.2,1942.5a3.1,3.1 0 1,0 6.2,0a3.1,3.1 0 1,0 -6.2,0M532.8,1778.8a3.1,3.1 0 1,0 6.2,0a3.1,3.1 0 1,0 -6.2,0" fill="#7d7d98"/>
<path d="M455.1,1832.9a3.1,3.1 0 1,0 6.2,0a3.1,3.1 0 1,0 -6.2,0" fill="#957886"/>
<path d="M559.4,1759.2a3.1,3.1 0 1,0 6.2,0a3.1,3.1 0 1,0 -6.2,0" fill="#d5694f"/>
<path d="M489.6,1746.0a3.1,3.1 0 1,0 6.2,0a3.1,3.1 0 1,0 -6.2,0" fill="#5e8fbd"/>
<text x="811.5" y="1010.0" font-size="41" text-anchor="start" font-weight="bold" fill="#231f20" >i</text>
<text x="1372.5" y="1012.0" font-size="41" text-anchor="start" font-weight="bold" fill="#231f20" >j</text>
<text x="11.5" y="1544.0" font-size="41" text-anchor="start" font-weight="bold" fill="#231f20" >k</text>
<text x="859.0" y="1051.8" font-size="30.5" text-anchor="start" font-weight="normal" fill="#000" stroke="#000" stroke-width="0.35" >Control</text>
<text x="1391.0" y="1057.3" font-size="30.5" text-anchor="start" font-weight="normal" fill="#000" stroke="#000" stroke-width="0.35" >Mild</text>
<text x="143.0" y="1582.9" font-size="30.5" text-anchor="start" font-weight="normal" fill="#000" stroke="#000" stroke-width="0.35" >Severe</text>
<ellipse cx="643" cy="1705.5" rx="62.5" ry="55.5" fill="none" stroke="#000" stroke-width="2.4"/>
<path d="M671,1655.5 C700,1640 780,1634 922,1632.8" fill="none" stroke="#000" stroke-width="2"/>
<path d="M934,1632.6 L920,1625.3 L923.5,1632.8 L921,1641 Z" fill="#000"/>
<path d="M1094.4,1630.7L1047.3,1744.6M1205.3,1638.3L1113.8,1708.9M1205.3,1638.3L1202.2,1733.2M1300.6,1675.0L1202.2,1733.2M1202.2,1733.2L1316.3,1745.0M940.0,1741.2L1047.3,1744.6M1170.7,1763.5L1242.5,1787.2M1168.4,1806.1L1242.5,1787.2M1141.8,1838.4L1242.5,1787.2M1047.3,1744.6L1316.3,1745.0M1113.8,1708.9L1170.0,1710.5M1113.8,1708.9L1202.2,1733.2M1113.8,1708.9L1047.3,1744.6M1113.8,1708.9L1126.3,1764.4M1113.8,1708.9L1170.7,1763.5M1113.8,1708.9L1081.9,1790.8M1113.8,1708.9L1168.4,1806.1M1113.8,1708.9L1064.4,1822.0M1113.8,1708.9L1141.8,1838.4M1170.0,1710.5L1202.2,1733.2M1170.0,1710.5L1047.3,1744.6M1170.0,1710.5L1126.3,1764.4M1170.0,1710.5L1170.7,1763.5M1170.0,1710.5L1081.9,1790.8M1170.0,1710.5L1168.4,1806.1M1170.0,1710.5L1064.4,1822.0M1170.0,1710.5L1141.8,1838.4M1202.2,1733.2L1047.3,1744.6M1202.2,1733.2L1126.3,1764.4M1202.2,1733.2L1170.7,1763.5M1202.2,1733.2L1081.9,1790.8M1202.2,1733.2L1168.4,1806.1M1202.2,1733.2L1064.4,1822.0M1202.2,1733.2L1141.8,1838.4M1047.3,1744.6L1126.3,1764.4M1047.3,1744.6L1170.7,1763.5M1047.3,1744.6L1081.9,1790.8M1047.3,1744.6L1168.4,1806.1M1047.3,1744.6L1064.4,1822.0M1047.3,1744.6L1141.8,1838.4M1126.3,1764.4L1170.7,1763.5M1126.3,1764.4L1081.9,1790.8M1126.3,1764.4L1168.4,1806.1M1126.3,1764.4L1064.4,1822.0M1126.3,1764.4L1141.8,1838.4M1170.7,1763.5L1081.9,1790.8M1170.7,1763.5L1168.4,1806.1M1170.7,1763.5L1064.4,1822.0M1170.7,1763.5L1141.8,1838.4M1081.9,1790.8L1168.4,1806.1M1081.9,1790.8L1064.4,1822.0M1081.9,1790.8L1141.8,1838.4M1168.4,1806.1L1064.4,1822.0M1168.4,1806.1L1141.8,1838.4M1064.4,1822.0L1141.8,1838.4" fill="none" stroke="#c9c9c9" stroke-width="1.7"/>
<circle cx="1094.4" cy="1630.7" r="8.9" fill="#b41c2d"/>
<circle cx="1205.3" cy="1638.3" r="8.9" fill="#b41c2d"/>
<circle cx="1300.6" cy="1675.0" r="8.9" fill="#b41c2d"/>
<circle cx="1113.8" cy="1708.9" r="8.9" fill="#b41c2d"/>
<circle cx="1202.2" cy="1733.2" r="8.9" fill="#b41c2d"/>
<circle cx="1316.3" cy="1745.0" r="8.9" fill="#b41c2d"/>
<circle cx="1168.4" cy="1806.1" r="8.9" fill="#b41c2d"/>
<circle cx="1064.4" cy="1822.0" r="8.9" fill="#b41c2d"/>
<circle cx="1141.8" cy="1838.4" r="8.9" fill="#b41c2d"/>
<circle cx="940.0" cy="1741.2" r="8.9" fill="#2968b1"/>
<circle cx="1047.3" cy="1744.6" r="8.9" fill="#2968b1"/>
<circle cx="1126.3" cy="1764.4" r="8.9" fill="#2968b1"/>
<circle cx="1170.7" cy="1763.5" r="8.9" fill="#2968b1"/>
<circle cx="1242.5" cy="1787.2" r="8.9" fill="#2968b1"/>
<circle cx="1081.9" cy="1790.8" r="8.9" fill="#2968b1"/>
<circle cx="1170.0" cy="1710.5" r="8.9" fill="#7d7d98"/>
<text x="1196.5" y="1633.7" font-size="31.4" text-anchor="start" font-weight="normal" fill="#000" stroke="#000" stroke-width="0.35" >Glycerol-3P</text>
<text x="1307.5" y="1681.1" font-size="31.4" text-anchor="start" font-weight="normal" fill="#000" stroke="#000" stroke-width="0.35" >Lactate</text>
<text x="1193.0" y="1723.0" font-size="31.4" text-anchor="start" font-weight="normal" fill="#000" stroke="#000" stroke-width="0.35" >α-Ketoglutarate</text>
<text x="1320.5" y="1752.2" font-size="31.4" text-anchor="start" font-weight="normal" fill="#000" stroke="#000" stroke-width="0.35" >2-Hydroxyglutarate</text>
<text x="976.0" y="1742.3" font-size="31.4" text-anchor="start" font-weight="normal" fill="#000" stroke="#000" stroke-width="0.35" >Pentose-5P</text>
<text x="829.0" y="1766.9" font-size="31.4" text-anchor="start" font-weight="normal" fill="#000" stroke="#000" stroke-width="0.35" >Fructose-6P</text>
<text x="1054.5" y="1777.2" font-size="31.4" text-anchor="start" font-weight="normal" fill="#000" stroke="#000" stroke-width="0.35" >NADH</text>
<text x="1174.0" y="1777.2" font-size="31.4" text-anchor="start" font-weight="normal" fill="#000" stroke="#000" stroke-width="0.35" >Erythrose4P</text>
<text x="859.0" y="1802.2" font-size="31.4" text-anchor="start" font-weight="normal" fill="#000" stroke="#000" stroke-width="0.35" >Fructose-bisP</text>
<text x="1170.5" y="1825.9" font-size="31.4" text-anchor="start" font-weight="normal" fill="#000" stroke="#000" stroke-width="0.35" >Dihydroxyacetone-P</text>
</svg>
</body></html>
